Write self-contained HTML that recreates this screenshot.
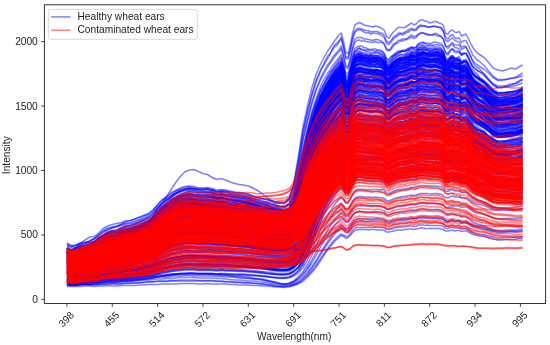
<!DOCTYPE html><html><head><meta charset="utf-8"><style>html,body{margin:0;padding:0;background:#fff;}svg{display:block;filter:blur(0.35px);}</style></head><body><svg width="550" height="345" viewBox="0 0 550 345"><defs><clipPath id="c"><rect x="44.4" y="4.8" width="501.2" height="298.7"/></clipPath></defs><g clip-path="url(#c)"><g transform="translate(66.9000 0) scale(2.2675 0.5)" fill="none" stroke="#0000ff" stroke-opacity="0.5" stroke-width="1.50" stroke-linejoin="round"><path vector-effect="non-scaling-stroke" d="M0 498l2 5 2-3 2-4 2-3 2-2 2-4 2-9 2-5 2-4 2-3 2 0 2-3 2-4 2 0 2-4 2-2 2-4 2-5 2-7 2-10 2-9 2-6 2-8 2-6 2-3 2-4 2-2 2 1 2 1 2 1 2-2 2 2 2 3 2-1 2 1 2 3 2 1 2 2 2 2 2 2 2 4 2 2 2 2 2 2 2 4 2 2 2 2 2 1 2-3 2-18 2-34 2-50 2-42 2-34 2-29 2-22 2-18 1-7 1-9 1-7 1-7 1-5 1-5 1-7 1 16 1 18 1 2 1-16 1-20 1-14 1-4 1-2 1 0 1 3 1 0 1 1 1-2 1 2 1 1 1-1 1-1 1 2 1 4 1 10 1 3 1-4 1-7 1-3 1-3 1-3 1 1 1 0 1-3 1-1 1-2 1 1 1-1 1-5 1 0 1-1 1 1 1 1 1 1 1 0 1 1 1 0 1 2 1 2 1 5 1 14 1 3 1-5 1-2 1 5 1 0 1 2 1 8 1-3 1 0 1 8 1 11 1 8 1 5 1 4 1 2 2 6 2 10 2 9 2 6 2 0 2-3 2 0 2-3 2-4 1-3"/><path vector-effect="non-scaling-stroke" d="M0 568l2 2 2 0 2-2 2 0 2 0 2-2 2-1 2-1 2-1 2 0 2 0 2-1 2-1 2 0 2-1 2-1 2-1 2-1 2-2 2-2 2-1 2-2 2-1 2-1 2-1 2 0 2-1 2 1 2 0 2 0 2 0 2 0 2 1 2-1 2 0 2 1 2 0 2 0 2 0 2 1 2 1 2 1 2 0 2 1 2 2 2 1 2 0 2 0 2-1 2-4 2-8 2-12 2-17 2-22 2-25 2-22 2-20 1-9 1-9 1-6 1-8 1-6 1-5 1-5 1 5 1 6 1 1 1-9 1-10 1-7 1-3 1 0 1-1 1 1 1 1 1 0 1 0 1 1 1-1 1-1 1 2 1 1 1 1 1 6 1 1 1-2 1-3 1-2 1-1 1-1 1 1 1-1 1 0 1-2 1-1 1 1 1-1 1-2 1-1 1 0 1 0 1 1 1 0 1 0 1-1 1 0 1 1 1 0 1 2 1 5 1 2 1-4 1-1 1 2 1 0 1-1 1 4 1-1 1-1 1 4 1 4 1 4 1 2 1 1 1 2 2 3 2 4 2 5 2 2 2 2 2-2 2 0 2-1 2-1 1-1"/><path vector-effect="non-scaling-stroke" d="M0 535l2 0 2 0 2-4 2-5 2-2 2-2 2-6 2-5 2-3 2-2 2-2 2-2 2-3 2-1 2-2 2-2 2-2 2-3 2-5 2-7 2-6 2-5 2-4 2-4 2-2 2-2 2-1 2 1 2 1 2 1 2-1 2 1 2 2 2-2 2 2 2 0 2 1 2 1 2 1 2 2 2 1 2 2 2 2 2 1 2 2 2 2 2 1 2 1 2-1 2-10 2-20 2-31 2-43 2-33 2-28 2-25 2-21 1-7 1-9 1-7 1-8 1-5 1-5 1-6 1 12 1 14 1 1 1-14 1-16 1-12 1-2 1-4 1 3 1 0 1 0 1 0 1 1 1-2 1 2 1 0 1-1 1 2 1 1 1 9 1 0 1-2 1-6 1-3 1-3 1-2 1 0 1-2 1-1 1-2 1-2 1 1 1-1 1-5 1-1 1-1 1 1 1 2 1 1 1 0 1 0 1 1 1 1 1 0 1 5 1 10 1 2 1-4 1-3 1 4 1 1 1-1 1 8 1-3 1-2 1 8 1 8 1 7 1 3 1 4 1 1 2 6 2 8 2 7 2 5 2 0 2-2 2-1 2-1 2-2 1-3"/><path vector-effect="non-scaling-stroke" d="M0 513l2 3 2-3 2-4 2-1 2-2 2-4 2-7 2-6 2-3 2-3 2 0 2-3 2-2 2-1 2-2 2-2 2-2 2-2 2-4 2-7 2-5 2-4 2-5 2-3 2-3 2-2 2-1 2 2 2 1 2 1 2-1 2 2 2 2 2-1 2 1 2 1 2 1 2 2 2 1 2 1 2 3 2 2 2 2 2 1 2 2 2 2 2 2 2 0 2-2 2-13 2-25 2-40 2-46 2-33 2-32 2-26 2-19 1-10 1-7 1-7 1-8 1-6 1-7 1-5 1 13 1 16 1 3 1-16 1-17 1-13 1-4 1 0 1 0 1 1 1 3 1-1 1 2 1-1 1 0 1 0 1 1 1 2 1 4 1 9 1 1 1-3 1-5 1-3 1-3 1-2 1 0 1 1 1-3 1-2 1-2 1 1 1 1 1-5 1-2 1-1 1 2 1 1 1 1 1-2 1 0 1 0 1 1 1 2 1 5 1 11 1 2 1-5 1-3 1 5 1 1 1 0 1 8 1-3 1-2 1 8 1 9 1 8 1 4 1 4 1 2 2 6 2 9 2 7 2 5 2 1 2-2 2-1 2-2 2-3 1-2"/><path vector-effect="non-scaling-stroke" d="M0 496l2 5 2-1 2-4 2-1 2-4 2-2 2-5 2-5 2-2 2-1 2-1 2-3 2-3 2 0 2-4 2-4 2-5 2-4 2-9 2-12 2-10 2-8 2-9 2-5 2-6 2-3 2-3 2 2 2 1 2 0 2 0 2 2 2 3 2-1 2 2 2 1 2 2 2 2 2 1 2 3 2 3 2 2 2 3 2 2 2 2 2 2 2 1 2 2 2-4 2-17 2-34 2-49 2-42 2-35 2-30 2-23 2-19 1-7 1-7 1-7 1-7 1-6 1-6 1-4 1 16 1 19 1 0 1-15 1-19 1-13 1-4 1-1 1 2 1 2 1-1 1 4 1-3 1 2 1 2 1 0 1 0 1 2 1 4 1 10 1 3 1-4 1-5 1-5 1-1 1-2 1-2 1 1 1-2 1-2 1-3 1 1 1-1 1-3 1-3 1-2 1 4 1 1 1 0 1-1 1-1 1-1 1 2 1 3 1 7 1 12 1 4 1-3 1-3 1 6 1 1 1 2 1 8 1-2 1 1 1 10 1 8 1 10 1 6 1 4 1 5 2 8 2 10 2 10 2 5 2 0 2-1 2-1 2-2 2-4 1-1"/><path vector-effect="non-scaling-stroke" d="M0 509l2 0 2-1 2-2 2-1 2-2 2-3 2-6 2-6 2-4 2-2 2 0 2-3 2-2 2-1 2-3 2-2 2-3 2-3 2-6 2-8 2-7 2-6 2-6 2-4 2-4 2-2 2-2 2 1 2 1 2 0 2-1 2 1 2 2 2-1 2 1 2 1 2 1 2 1 2 1 2 2 2 3 2 3 2 2 2 1 2 3 2 2 2 1 2 1 2-3 2-14 2-28 2-42 2-46 2-34 2-29 2-27 2-19 1-7 1-10 1-6 1-8 1-5 1-5 1-6 1 14 1 17 1 2 1-16 1-19 1-13 1-2 1-1 1 1 1 4 1-1 1 0 1 0 1 1 1 0 1 2 1 1 1 0 1 4 1 10 1 1 1-6 1-3 1-4 1-5 1 1 1-1 1-1 1-2 1-2 1-2 1 1 1-1 1-5 1-1 1-2 1 2 1 1 1 1 1 0 1-1 1 1 1 1 1 3 1 5 1 14 1 2 1-4 1-1 1 4 1 3 1 1 1 9 1-1 1 0 1 9 1 9 1 9 1 6 1 5 1 3 2 6 2 13 2 8 2 4 2 1 2-1 2-1 2-2 2-4 1-3"/><path vector-effect="non-scaling-stroke" d="M0 540l2 1 2 0 2-2 2-2 2-1 2-2 2-4 2-4 2-1 2-2 2 0 2-1 2-3 2-2 2-2 2-2 2-3 2-4 2-5 2-7 2-6 2-6 2-5 2-3 2-3 2-2 2-2 2 1 2 1 2 0 2-1 2 2 2 2 2-1 2 0 2 2 2 1 2 2 2 0 2 2 2 2 2 2 2 1 2 2 2 1 2 2 2 1 2 1 2-1 2-8 2-14 2-23 2-33 2-33 2-27 2-25 2-22 1-8 1-8 1-8 1-8 1-6 1-4 1-6 1 10 1 13 1-1 1-11 1-16 1-10 1-3 1 0 1 1 1 1 1 1 1 1 1-1 1 0 1 0 1 1 1 1 1 0 1 4 1 7 1 2 1-3 1-4 1-2 1-2 1-2 1 0 1-1 1 0 1-2 1-3 1 2 1 0 1-4 1-1 1 0 1 1 1 0 1 1 1-1 1 0 1 0 1 0 1 0 1 3 1 10 1 2 1-6 1-2 1 3 1 1 1-1 1 6 1-3 1-1 1 5 1 7 1 7 1 3 1 2 1 2 2 5 2 6 2 8 2 3 2 0 2 1 2-1 2-2 2-3 1-1"/><path vector-effect="non-scaling-stroke" d="M0 527l2 1 2-1 2-4 2-3 2-3 2-2 2-5 2-5 2-3 2-3 2 0 2-3 2-4 2 0 2-3 2-3 2-3 2-3 2-5 2-7 2-7 2-6 2-5 2-4 2-3 2-1 2-1 2 1 2 1 2 1 2 0 2 0 2 3 2-1 2 1 2 2 2 1 2 2 2 0 2 2 2 3 2 2 2 1 2 2 2 1 2 2 2 1 2 1 2-3 2-11 2-21 2-35 2-45 2-33 2-29 2-26 2-19 1-9 1-8 1-7 1-8 1-6 1-4 1-6 1 14 1 15 1 0 1-14 1-17 1-11 1-3 1-1 1 1 1 2 1-1 1 2 1 0 1 0 1-1 1 1 1 1 1 1 1 3 1 9 1 3 1-5 1-5 1-1 1-5 1-1 1-2 1 1 1-1 1-3 1-2 1 2 1-2 1-3 1-2 1-1 1 1 1 0 1 1 1 0 1 0 1 0 1 1 1 1 1 5 1 10 1 4 1-5 1-1 1 2 1 1 1 0 1 6 1-2 1 1 1 7 1 6 1 8 1 5 1 3 1 4 2 4 2 7 2 9 2 5 2 0 2-2 2-1 2-1 2-3 1-2"/><path vector-effect="non-scaling-stroke" d="M0 503l2 5 2-1 2-4 2-2 2-1 2-4 2-7 2-4 2-3 2-2 2-1 2-2 2-4 2-1 2-3 2-2 2-4 2-4 2-7 2-8 2-8 2-6 2-7 2-4 2-4 2-2 2-1 2 1 2 1 2 1 2 0 2 1 2 3 2 0 2 1 2 2 2 2 2 1 2 1 2 3 2 3 2 2 2 2 2 2 2 2 2 3 2 1 2 1 2-3 2-13 2-28 2-41 2-45 2-34 2-29 2-24 2-21 1-7 1-9 1-6 1-8 1-6 1-3 1-8 1 13 1 20 1 0 1-15 1-19 1-12 1-5 1 0 1 0 1 2 1 1 1 0 1 1 1 0 1-1 1 2 1 1 1 2 1 3 1 9 1 2 1-4 1-5 1-3 1-3 1-2 1-3 1 2 1-3 1-2 1-2 1 2 1-1 1-4 1-4 1-1 1 2 1 2 1 0 1 0 1 0 1-1 1 2 1 3 1 4 1 13 1 5 1-6 1-1 1 5 1 1 1 2 1 8 1-1 1 0 1 8 1 10 1 8 1 7 1 4 1 2 2 7 2 11 2 9 2 5 2 0 2-2 2-2 2-1 2-3 1-3"/><path vector-effect="non-scaling-stroke" d="M0 540l2 2 2 0 2-4 2-2 2-1 2-3 2-3 2-3 2-2 2-2 2-1 2-2 2-3 2-1 2-2 2-3 2-4 2-3 2-6 2-7 2-7 2-5 2-5 2-4 2-3 2-2 2-1 2 1 2 0 2 1 2-1 2 1 2 2 2 0 2 1 2 1 2 2 2 0 2 2 2 1 2 2 2 3 2 1 2 1 2 2 2 1 2 2 2 1 2-2 2-9 2-17 2-27 2-38 2-36 2-28 2-26 2-20 1-9 1-9 1-8 1-7 1-7 1-6 1-5 1 11 1 15 1-1 1-13 1-15 1-13 1-1 1-2 1 0 1 1 1 1 1-1 1 1 1 0 1 0 1 1 1-1 1 1 1 4 1 8 1 2 1-5 1-3 1-3 1-4 1-1 1 0 1 0 1-2 1-1 1-3 1 0 1 2 1-5 1-3 1 0 1 2 1 1 1 0 1 1 1-1 1 0 1 1 1 1 1 7 1 10 1 3 1-4 1-1 1 4 1 1 1 2 1 7 1-2 1 1 1 6 1 8 1 9 1 4 1 4 1 2 2 7 2 8 2 7 2 4 2 1 2-2 2 0 2-2 2-3 1-2"/><path vector-effect="non-scaling-stroke" d="M0 504l2 3 2-3 2-3 2-2 2-2 2-3 2-7 2-5 2-3 2-2 2 0 2-4 2-1 2-1 2-2 2-4 2-3 2-4 2-7 2-9 2-9 2-6 2-7 2-5 2-5 2-3 2-2 2 1 2 2 2 0 2 0 2 1 2 3 2-1 2 2 2 2 2 0 2 2 2 1 2 2 2 3 2 3 2 2 2 2 2 3 2 2 2 2 2 2 2-4 2-16 2-33 2-49 2-45 2-36 2-29 2-24 2-20 1-7 1-8 1-7 1-8 1-4 1-5 1-8 1 16 1 18 1 3 1-17 1-18 1-14 1-3 1-2 1 1 1 1 1 2 1 0 1 2 1-1 1 0 1 0 1 1 1 1 1 5 1 11 1 2 1-6 1-4 1-3 1-5 1 1 1-1 1-1 1-1 1-2 1-4 1 4 1-2 1-2 1-2 1-1 1 2 1-1 1 2 1 2 1-1 1 0 1 1 1 1 1 6 1 14 1 4 1-4 1-2 1 6 1 1 1 2 1 10 1-3 1 2 1 8 1 10 1 10 1 7 1 4 1 4 2 8 2 12 2 10 2 5 2 0 2-1 2 0 2-4 2-1 1-4"/><path vector-effect="non-scaling-stroke" d="M0 560l2 0 2-1 2-1 2-2 2-2 2-1 2-3 2-2 2-1 2-2 2-1 2-1 2-1 2-1 2-2 2-1 2-2 2-3 2-3 2-4 2-4 2-3 2-3 2-3 2-1 2-1 2-1 2 0 2 1 2 0 2 0 2 1 2 0 2 0 2 0 2 1 2 1 2 0 2 1 2 0 2 1 2 2 2 0 2 1 2 1 2 0 2 0 2 0 2-2 2-6 2-12 2-20 2-29 2-35 2-27 2-26 2-21 1-9 1-9 1-7 1-8 1-5 1-6 1-6 1 10 1 11 1 0 1-11 1-13 1-9 1-4 1 0 1 0 1 1 1 0 1 1 1 0 1 0 1 0 1 0 1 1 1 1 1 2 1 6 1 2 1-3 1-4 1-3 1-2 1-1 1 0 1 0 1-2 1-2 1-1 1 1 1-1 1-3 1-2 1 1 1 0 1 1 1 0 1-1 1 0 1-1 1 1 1 2 1 2 1 9 1 0 1-2 1-3 1 2 1 1 1 1 1 4 1-2 1 0 1 4 1 7 1 5 1 3 1 3 1 1 2 5 2 6 2 6 2 4 2 0 2-1 2-2 2 0 2-2 1-2"/><path vector-effect="non-scaling-stroke" d="M0 520l2 2 2-1 2-1 2-2 2-3 2-2 2-3 2-4 2-4 2-1 2 0 2-2 2-3 2-1 2-3 2-2 2-4 2-3 2-7 2-8 2-7 2-6 2-7 2-4 2-4 2-3 2-1 2 1 2 1 2-1 2 0 2 2 2 2 2-1 2 1 2 2 2 1 2 2 2 1 2 1 2 3 2 2 2 2 2 1 2 2 2 2 2 1 2 1 2-2 2-12 2-22 2-35 2-45 2-32 2-30 2-24 2-19 1-10 1-7 1-8 1-5 1-7 1-6 1-5 1 12 1 15 1 2 1-14 1-18 1-12 1-4 1-2 1 2 1 0 1 1 1 0 1 0 1-1 1 0 1 0 1 1 1 0 1 4 1 9 1 1 1-4 1-5 1-3 1-3 1-3 1 0 1 0 1-2 1-3 1-3 1 2 1-2 1-5 1-1 1-1 1 1 1 1 1-1 1 2 1 0 1 0 1-2 1 3 1 4 1 12 1 2 1-7 1-2 1 3 1 1 1 2 1 4 1 0 1-1 1 6 1 9 1 8 1 5 1 3 1 3 2 5 2 9 2 9 2 3 2 2 2-3 2-1 2-1 2-4 1-2"/><path vector-effect="non-scaling-stroke" d="M0 566l2 0 2-1 2-1 2-1 2-1 2-2 2-2 2-2 2-2 2-1 2-1 2-1 2-1 2 0 2-1 2-2 2-1 2-1 2-3 2-2 2-3 2-2 2-2 2-2 2-1 2-1 2 0 2 0 2 1 2 0 2 0 2 0 2 1 2 0 2 0 2 1 2 0 2 1 2 0 2 1 2 1 2 1 2 0 2 1 2 2 2 1 2 0 2 0 2-1 2-5 2-10 2-15 2-23 2-28 2-28 2-24 2-21 1-10 1-8 1-9 1-7 1-6 1-5 1-6 1 7 1 9 1 0 1-10 1-12 1-8 1-2 1-2 1 1 1 0 1 0 1 1 1 0 1 0 1 0 1 0 1 0 1 1 1 2 1 6 1 1 1-3 1-3 1-2 1-2 1 1 1-2 1 0 1-1 1-1 1-2 1 1 1 0 1-2 1-2 1 0 1 2 1 0 1 0 1 0 1-1 1 2 1 0 1 0 1 4 1 8 1 1 1-3 1-2 1 4 1 0 1 1 1 4 1-1 1 0 1 5 1 6 1 5 1 3 1 1 1 3 2 3 2 6 2 4 2 3 2 1 2-1 2 0 2-2 2-1 1-1"/><path vector-effect="non-scaling-stroke" d="M0 520l2 3 2-2 2-5 2-1 2-2 2-5 2-8 2-5 2-3 2-1 2 0 2-4 2-1 2-1 2-3 2-3 2-3 2-3 2-6 2-7 2-7 2-5 2-6 2-3 2-3 2-2 2-1 2 1 2 2 2 0 2 0 2 1 2 3 2 0 2 1 2 1 2 2 2 1 2 2 2 1 2 2 2 3 2 1 2 2 2 2 2 1 2 2 2 1 2-2 2-14 2-24 2-37 2-46 2-35 2-28 2-26 2-20 1-9 1-8 1-7 1-7 1-7 1-5 1-4 1 11 1 18 1 0 1-14 1-19 1-11 1-2 1-4 1 2 1 2 1 2 1-1 1 0 1 1 1 0 1 0 1 0 1 1 1 5 1 8 1 2 1-4 1-5 1-4 1-2 1 0 1-1 1 0 1-2 1-1 1-3 1 3 1-1 1-4 1-2 1 0 1 1 1 1 1 1 1-1 1 1 1 0 1 0 1 2 1 4 1 9 1 4 1-7 1-3 1 5 1-1 1 0 1 6 1-2 1-2 1 7 1 9 1 7 1 5 1 2 1 2 2 6 2 7 2 10 2 4 2 0 2-1 2 0 2-3 2-2 1-3"/><path vector-effect="non-scaling-stroke" d="M0 514l2 2 2-3 2-2 2-1 2-1 2-4 2-5 2-4 2-2 2-2 2 0 2-3 2-2 2-1 2-3 2-3 2-3 2-4 2-6 2-9 2-7 2-7 2-6 2-4 2-3 2-3 2-2 2 0 2 2 2 1 2-1 2 1 2 3 2-1 2 0 2 3 2 1 2 1 2 2 2 2 2 2 2 3 2 2 2 1 2 2 2 2 2 1 2 1 2-2 2-14 2-26 2-40 2-47 2-34 2-30 2-25 2-21 1-8 1-8 1-9 1-7 1-6 1-6 1-6 1 12 1 19 1-1 1-14 1-19 1-13 1-3 1-3 1 1 1 2 1 1 1 0 1 1 1 0 1-1 1 0 1 2 1 2 1 3 1 10 1 2 1-4 1-5 1-3 1-2 1-2 1 0 1-1 1-1 1-2 1-2 1 0 1 0 1-4 1-1 1 0 1 1 1 1 1 1 1-1 1 0 1 0 1 0 1 1 1 4 1 11 1 2 1-6 1-2 1 4 1 1 1-1 1 8 1-4 1-1 1 8 1 10 1 7 1 4 1 5 1 1 2 7 2 7 2 10 2 6 2 1 2-1 2 0 2-3 2-1 1-3"/><path vector-effect="non-scaling-stroke" d="M0 530l2 3 2-4 2-7 2-1 2-2 2-3 2-4 2-4 2-3 2-2 2-1 2-3 2-2 2-2 2-2 2-3 2-3 2-4 2-5 2-9 2-7 2-5 2-6 2-3 2-3 2-2 2-2 2 1 2 1 2 0 2 1 2 0 2 3 2-1 2 1 2 2 2 1 2 1 2 2 2 2 2 3 2 2 2 1 2 2 2 2 2 2 2 1 2 2 2-2 2-12 2-22 2-37 2-45 2-35 2-29 2-26 2-21 1-9 1-8 1-7 1-8 1-5 1-6 1-7 1 13 1 16 1 2 1-15 1-17 1-12 1-4 1-2 1 2 1 1 1 0 1 3 1-1 1 0 1-1 1 2 1 0 1 0 1 4 1 11 1-1 1-3 1-4 1-3 1-1 1-4 1 0 1-1 1-1 1-2 1-1 1 1 1-1 1-4 1-3 1 1 1 1 1 1 1 1 1 0 1 1 1 0 1-1 1 2 1 5 1 11 1 2 1-5 1-4 1 6 1 0 1 0 1 7 1-3 1-1 1 8 1 7 1 8 1 4 1 4 1 1 2 4 2 8 2 9 2 5 2-1 2 0 2-2 2-1 2-4 1-3"/><path vector-effect="non-scaling-stroke" d="M0 515l2 5 2 0 2-5 2-4 2-3 2-2 2-7 2-7 2-3 2-1 2-1 2-3 2-4 2 0 2-2 2-3 2-3 2-3 2-5 2-8 2-7 2-5 2-6 2-3 2-4 2-3 2-1 2 1 2 1 2 1 2-1 2 1 2 3 2-1 2 2 2 1 2 2 2 1 2 1 2 2 2 2 2 2 2 2 2 1 2 2 2 1 2 2 2 0 2-3 2-13 2-24 2-38 2-44 2-33 2-29 2-25 2-20 1-7 1-9 1-7 1-8 1-7 1-4 1-7 1 14 1 17 1 0 1-15 1-18 1-12 1-3 1-3 1 0 1 2 1 1 1 0 1 1 1 0 1-1 1 1 1 1 1 2 1 2 1 11 1 2 1-5 1-4 1-3 1-2 1 0 1-2 1 0 1-1 1-2 1-2 1 3 1 0 1-5 1-2 1 2 1 1 1 0 1 1 1 1 1 0 1 0 1 0 1 1 1 8 1 10 1 4 1-7 1-1 1 5 1-1 1 1 1 7 1-2 1 0 1 7 1 9 1 8 1 5 1 2 1 5 2 5 2 10 2 7 2 5 2 0 2 0 2-3 2 0 2-4 1-3"/><path vector-effect="non-scaling-stroke" d="M0 497l2 5 2-5 2-6 2 0 2-1 2-5 2-8 2-6 2-4 2-3 2 1 2-3 2-4 2-1 2-3 2-2 2-4 2-4 2-8 2-10 2-9 2-7 2-8 2-5 2-4 2-3 2-2 2 1 2 2 2 0 2 0 2 1 2 4 2-1 2 2 2 2 2 2 2 2 2 2 2 2 2 3 2 3 2 3 2 2 2 2 2 3 2 2 2 1 2-3 2-18 2-33 2-50 2-42 2-35 2-29 2-24 2-19 1-7 1-10 1-6 1-7 1-7 1-4 1-8 1 16 1 19 1 2 1-18 1-18 1-15 1-4 1-2 1 3 1 1 1 3 1 0 1 0 1 1 1 1 1-1 1 2 1 1 1 5 1 10 1 3 1-5 1-5 1-4 1-1 1-1 1-1 1-1 1-2 1-1 1-3 1 2 1-1 1-4 1-2 1-1 1 2 1 1 1-2 1 2 1-1 1 0 1 1 1 0 1 5 1 12 1 1 1-5 1-5 1 6 1 0 1-1 1 7 1-4 1 2 1 6 1 8 1 10 1 4 1 4 1 1 2 7 2 9 2 9 2 5 2-1 2-1 2-1 2-3 2-2 1-6"/><path vector-effect="non-scaling-stroke" d="M0 562l2 1 2 0 2 0 2 0 2 0 2 0 2 0 2-1 2-1 2 0 2 0 2-1 2-1 2 0 2-1 2 0 2-1 2-1 2-1 2-1 2 0 2 0 2-1 2-1 2 0 2-1 2 0 2 1 2 0 2 0 2 0 2 0 2 1 2 0 2 1 2 0 2 1 2 1 2 1 2 0 2 1 2 1 2 1 2 2 2 2 2 2 2 2 2 1 2-1 2-4 2-6 2-7 2-11 2-14 2-16 2-17 2-16 1-7 1-7 1-6 1-6 1-5 1-5 1-4 1 3 1 5 1 0 1-7 1-7 1-5 1-2 1-1 1 0 1 1 1 0 1 0 1 0 1 0 1-1 1 1 1 0 1 1 1 0 1 5 1 0 1-2 1-2 1 0 1-1 1-1 1 0 1 0 1-2 1 0 1-1 1 1 1-1 1-1 1-1 1-1 1 1 1 1 1 0 1 0 1 0 1-1 1 1 1 1 1 2 1 5 1 1 1-1 1 0 1 1 1 1 1 1 1 3 1 0 1 0 1 3 1 4 1 3 1 2 1 2 1 1 2 3 2 4 2 3 2 2 2 0 2-1 2 0 2 0 2-2 1 0"/><path vector-effect="non-scaling-stroke" d="M0 570l2 1 2 0 2-2 2 0 2 0 2-1 2-1 2-2 2-1 2 0 2 0 2-1 2-1 2 0 2-1 2-1 2-1 2-1 2-2 2-2 2-2 2-1 2-2 2-1 2-1 2 0 2-1 2 0 2 1 2 0 2 0 2 0 2 1 2-1 2 1 2 0 2 1 2 0 2 0 2 1 2 0 2 1 2 1 2 1 2 1 2 1 2 1 2 0 2-2 2-5 2-7 2-13 2-18 2-23 2-26 2-22 2-20 1-9 1-8 1-8 1-7 1-6 1-5 1-5 1 5 1 8 1-1 1-8 1-11 1-7 1-2 1-2 1 1 1 0 1 0 1 0 1 0 1 1 1-1 1 0 1 1 1 0 1 2 1 5 1 1 1-2 1-3 1-2 1-1 1-1 1 0 1 0 1-1 1 0 1-2 1 0 1 0 1-2 1-1 1 0 1 0 1 1 1-1 1 1 1 0 1-2 1 1 1 1 1 2 1 5 1 1 1-3 1-1 1 1 1 0 1 0 1 3 1-2 1 0 1 4 1 4 1 4 1 2 1 1 1 2 2 2 2 4 2 5 2 3 2 0 2 0 2-1 2-1 2-2 1-1"/><path vector-effect="non-scaling-stroke" d="M0 528l2 5 2-1 2-5 2-2 2-1 2-2 2-5 2-5 2-2 2-1 2-1 2-3 2-2 2-1 2-2 2-3 2-3 2-3 2-5 2-8 2-6 2-5 2-6 2-4 2-2 2-3 2-1 2 0 2 1 2 1 2-1 2 1 2 2 2-1 2 1 2 1 2 1 2 2 2 0 2 2 2 2 2 2 2 1 2 2 2 1 2 2 2 0 2 1 2-3 2-11 2-22 2-34 2-45 2-33 2-29 2-25 2-21 1-8 1-9 1-7 1-8 1-5 1-6 1-6 1 12 1 16 1 0 1-13 1-17 1-12 1-5 1-1 1 1 1 2 1-1 1 2 1 1 1 0 1-1 1 0 1 1 1 0 1 3 1 10 1 1 1-3 1-5 1-3 1-2 1-2 1 0 1 1 1-4 1-1 1-2 1 1 1 0 1-4 1-3 1 1 1 1 1 1 1 1 1-1 1-1 1 2 1 0 1 3 1 3 1 13 1 4 1-4 1-3 1 5 1 2 1 0 1 7 1-1 1 0 1 8 1 10 1 7 1 5 1 3 1 3 2 6 2 10 2 9 2 5 2 0 2-1 2 0 2-1 2-2 1-2"/><path vector-effect="non-scaling-stroke" d="M0 536l2 1 2-1 2-3 2 0 2-4 2-3 2-4 2-5 2-2 2-3 2-1 2-2 2-2 2-2 2-2 2-2 2-3 2-3 2-5 2-6 2-6 2-5 2-5 2-3 2-2 2-2 2-1 2 1 2 1 2 0 2-1 2 2 2 1 2-1 2 0 2 2 2 1 2 0 2 1 2 1 2 2 2 1 2 1 2 2 2 1 2 1 2 2 2 0 2-2 2-8 2-18 2-27 2-38 2-34 2-27 2-24 2-20 1-9 1-7 1-8 1-5 1-7 1-6 1-5 1 10 1 15 1 0 1-13 1-16 1-12 1-1 1-2 1 1 1 0 1 1 1-1 1 1 1 0 1-1 1-1 1 0 1 2 1 2 1 9 1 1 1-4 1-4 1-5 1-2 1-2 1-1 1 0 1-1 1-3 1-1 1 1 1 0 1-3 1-4 1 0 1 2 1 1 1-1 1 2 1-1 1 1 1 0 1 2 1 5 1 11 1 3 1-4 1-2 1 4 1 1 1 1 1 6 1-1 1 1 1 6 1 8 1 6 1 6 1 3 1 2 2 6 2 7 2 9 2 4 2 1 2-1 2-1 2-1 2-1 1-1"/><path vector-effect="non-scaling-stroke" d="M0 544l2 2 2-1 2-2 2 0 2-1 2-3 2-2 2-4 2 0 2-2 2-1 2-2 2-1 2-1 2-2 2-3 2-2 2-4 2-4 2-6 2-6 2-4 2-4 2-4 2-2 2-2 2-1 2 0 2 2 2 0 2-1 2 1 2 1 2 0 2 0 2 1 2 1 2 1 2 1 2 1 2 2 2 0 2 1 2 1 2 1 2 1 2 1 2 0 2-2 2-7 2-15 2-23 2-34 2-35 2-27 2-25 2-21 1-9 1-8 1-7 1-7 1-6 1-6 1-5 1 10 1 12 1 1 1-13 1-13 1-11 1-3 1-1 1 2 1 0 1-1 1 1 1 1 1-1 1 1 1 0 1 0 1 0 1 4 1 7 1 2 1-4 1-5 1-2 1-2 1-2 1 0 1-1 1 0 1-2 1-3 1 1 1 0 1-4 1-2 1 0 1 2 1 0 1 0 1 1 1-1 1 0 1 0 1 1 1 3 1 10 1 0 1-5 1-1 1 2 1-1 1 2 1 4 1-2 1-1 1 5 1 6 1 7 1 3 1 3 1 1 2 4 2 6 2 7 2 3 2 1 2-1 2-1 2-1 2-1 1-4"/><path vector-effect="non-scaling-stroke" d="M0 523l2 5 2-2 2-4 2-1 2-1 2-2 2-5 2-4 2-2 2-1 2 0 2-2 2-3 2 0 2-3 2-3 2-3 2-4 2-5 2-8 2-8 2-5 2-5 2-4 2-4 2-2 2-2 2 1 2 1 2 0 2-1 2 1 2 2 2-1 2 1 2 1 2 2 2 1 2 1 2 1 2 2 2 2 2 1 2 1 2 1 2 2 2 0 2 0 2-2 2-11 2-21 2-34 2-44 2-33 2-29 2-24 2-21 1-8 1-8 1-8 1-7 1-6 1-4 1-6 1 13 1 15 1 1 1-14 1-18 1-11 1-4 1-1 1 3 1 0 1 1 1 0 1 2 1-1 1 0 1 2 1 0 1-1 1 5 1 9 1 3 1-4 1-6 1-3 1-2 1-1 1-1 1 0 1-3 1-2 1-1 1 1 1 0 1-6 1-1 1 0 1 0 1 1 1 1 1 0 1-1 1-1 1 1 1 2 1 5 1 10 1 3 1-4 1-3 1 5 1 1 1-1 1 6 1 0 1-1 1 8 1 9 1 9 1 3 1 4 1 2 2 6 2 8 2 9 2 5 2 1 2-2 2 0 2-1 2-3 1-2"/><path vector-effect="non-scaling-stroke" d="M0 558l2 1 2 0 2-3 2-1 2-2 2-2 2-3 2-2 2-2 2-2 2-1 2-1 2-2 2-1 2-1 2-1 2-2 2-2 2-2 2-4 2-4 2-3 2-2 2-2 2-1 2-2 2 0 2 1 2 0 2 1 2 0 2 0 2 1 2 0 2 1 2 1 2 0 2 1 2 0 2 1 2 1 2 1 2 1 2 1 2 1 2 0 2 1 2 0 2-2 2-5 2-10 2-17 2-24 2-32 2-27 2-24 2-22 1-8 1-9 1-8 1-7 1-6 1-6 1-4 1 7 1 10 1 0 1-10 1-13 1-8 1-3 1 0 1 0 1 1 1 1 1 0 1 2 1-1 1 1 1 0 1 1 1 1 1 1 1 7 1 1 1-2 1-3 1-2 1-2 1-2 1-1 1 1 1-2 1 0 1-2 1 1 1-1 1-3 1-1 1 1 1-1 1 1 1 1 1-1 1 0 1 1 1 1 1 1 1 1 1 8 1 0 1-2 1-3 1 3 1-1 1 1 1 4 1-2 1 0 1 5 1 5 1 5 1 2 1 3 1 1 2 3 2 6 2 5 2 3 2 1 2-2 2 0 2-2 2-2 1-2"/><path vector-effect="non-scaling-stroke" d="M0 546l2 2 2 0 2-3 2-1 2-1 2-2 2-3 2-2 2-2 2 0 2-1 2-1 2-2 2-1 2-2 2-2 2-3 2-3 2-4 2-6 2-6 2-4 2-5 2-3 2-2 2-2 2-1 2 0 2 1 2 0 2 0 2 1 2 1 2 0 2 1 2 1 2 1 2 0 2 1 2 1 2 2 2 2 2 0 2 1 2 2 2 1 2 0 2 1 2-2 2-7 2-13 2-21 2-31 2-35 2-26 2-25 2-21 1-10 1-7 1-9 1-9 1-6 1-4 1-7 1 10 1 11 1 2 1-13 1-14 1-10 1-2 1-3 1 1 1 1 1 1 1-2 1 2 1-1 1 0 1 1 1 0 1 0 1 2 1 8 1 2 1-4 1-3 1-2 1-3 1-1 1 1 1-1 1-1 1-2 1-1 1 1 1-1 1-4 1 0 1-1 1 2 1 0 1 1 1 1 1-1 1-1 1 2 1 1 1 3 1 9 1 2 1-4 1-3 1 4 1 1 1-2 1 6 1-2 1 0 1 5 1 7 1 6 1 4 1 3 1 2 2 3 2 7 2 6 2 3 2 2 2-2 2-1 2-1 2-2 1-3"/><path vector-effect="non-scaling-stroke" d="M0 506l2 6 2-1 2-5 2-1 2-1 2-3 2-5 2-5 2-2 2-2 2-1 2-3 2-3 2 0 2-3 2-4 2-3 2-4 2-7 2-10 2-8 2-6 2-8 2-4 2-4 2-4 2-1 2 0 2 2 2 0 2-1 2 2 2 2 2-1 2 2 2 1 2 2 2 1 2 1 2 2 2 2 2 3 2 2 2 2 2 3 2 2 2 2 2 1 2-2 2-15 2-29 2-43 2-45 2-36 2-29 2-24 2-18 1-9 1-6 1-9 1-7 1-6 1-5 1-5 1 13 1 18 1 1 1-15 1-19 1-12 1-3 1-3 1 0 1 4 1 0 1 1 1 0 1 1 1 0 1 0 1 1 1 3 1 2 1 10 1 2 1-6 1-4 1-3 1-3 1-1 1-1 1-1 1-1 1-2 1-3 1 3 1-1 1-5 1 1 1-3 1 1 1 1 1 0 1 1 1-1 1 1 1 2 1 1 1 5 1 11 1 6 1-7 1-2 1 5 1 0 1 2 1 7 1-3 1 1 1 8 1 9 1 7 1 6 1 3 1 5 2 5 2 10 2 9 2 3 2 0 2-1 2-1 2-2 2-4 1-3"/><path vector-effect="non-scaling-stroke" d="M0 500l2-1 2 0 2-3 2-3 2-4 2-5 2-8 2-5 2-5 2-3 2 1 2-5 2-4 2 0 2-3 2-3 2-3 2-4 2-6 2-10 2-8 2-6 2-7 2-4 2-5 2-3 2-1 2 0 2 2 2 0 2 0 2 1 2 2 2 0 2 1 2 2 2 2 2 1 2 1 2 3 2 3 2 3 2 2 2 3 2 2 2 3 2 3 2 1 2-3 2-17 2-33 2-49 2-42 2-36 2-27 2-22 2-20 1-7 1-8 1-6 1-7 1-6 1-6 1-6 1 16 1 19 1 1 1-15 1-21 1-13 1-3 1-2 1 1 1 2 1 1 1 2 1 0 1 0 1 1 1-1 1 2 1 2 1 2 1 11 1 2 1-5 1-5 1-2 1-4 1-3 1 0 1 1 1-4 1-2 1-2 1 1 1-1 1-4 1-1 1-1 1 0 1 1 1 1 1 0 1 0 1 0 1-1 1 4 1 4 1 13 1 2 1-5 1-4 1 5 1 1 1 1 1 8 1-4 1 0 1 8 1 9 1 9 1 4 1 3 1 3 2 7 2 9 2 9 2 4 2 1 2-2 2-1 2-2 2-4 1-1"/><path vector-effect="non-scaling-stroke" d="M0 502l2 3 2-3 2-4 2-4 2-5 2-5 2-6 2-8 2-6 2-3 2-1 2-3 2-4 2-2 2-3 2-4 2-4 2-5 2-7 2-12 2-9 2-8 2-7 2-5 2-5 2-2 2-2 2 2 2 2 2 1 2 0 2 1 2 4 2-2 2 3 2 1 2 2 2 2 2 1 2 2 2 4 2 3 2 2 2 3 2 3 2 2 2 3 2 1 2-3 2-21 2-38 2-55 2-41 2-36 2-28 2-25 2-17 1-8 1-5 1-9 1-5 1-6 1-6 1-6 1 17 1 20 1 1 1-17 1-20 1-13 1-3 1-2 1 0 1 3 1 1 1 3 1 0 1-1 1 0 1 2 1 0 1 2 1 5 1 11 1 1 1-6 1-4 1-3 1-4 1 0 1-2 1 0 1-2 1-2 1-2 1 2 1-1 1-6 1-1 1-2 1 1 1 3 1-1 1 1 1 0 1-1 1 1 1 1 1 4 1 12 1 3 1-7 1-5 1 7 1 0 1 0 1 6 1-4 1 0 1 7 1 10 1 9 1 3 1 5 1 2 2 5 2 10 2 9 2 5 2 0 2-1 2-3 2-1 2-5 1-2"/><path vector-effect="non-scaling-stroke" d="M0 567l2 0 2 0 2-1 2-2 2-1 2-1 2-1 2-2 2-1 2-1 2 0 2-1 2-1 2-1 2-1 2-1 2-1 2-1 2-2 2-2 2-3 2-2 2-1 2-2 2-1 2-1 2 0 2 0 2 0 2 1 2 0 2 0 2 1 2-1 2 1 2 0 2 1 2 0 2 1 2 0 2 1 2 1 2 1 2 1 2 1 2 2 2 0 2 0 2-1 2-4 2-8 2-13 2-19 2-24 2-26 2-23 2-21 1-8 1-9 1-8 1-7 1-5 1-6 1-6 1 7 1 8 1 0 1-10 1-10 1-7 1-3 1-2 1 2 1 0 1 1 1 0 1 0 1 0 1-1 1 1 1 0 1 1 1 3 1 5 1 1 1-3 1-2 1-1 1-2 1-1 1 0 1 0 1 0 1-1 1-3 1 1 1 0 1-2 1-1 1 0 1 1 1 0 1 0 1 1 1-1 1 0 1 1 1 0 1 3 1 6 1 2 1-4 1-1 1 1 1 1 1-1 1 4 1-1 1-1 1 4 1 4 1 5 1 2 1 1 1 2 2 3 2 4 2 5 2 2 2 0 2-1 2-1 2-1 2-2 1-2"/><path vector-effect="non-scaling-stroke" d="M0 555l2 0 2-1 2-3 2-1 2 0 2-2 2-3 2-2 2-3 2-1 2 0 2-2 2-1 2-1 2-2 2-1 2-3 2-2 2-4 2-5 2-4 2-4 2-3 2-2 2-3 2-1 2 0 2 0 2 1 2 0 2-1 2 1 2 1 2 0 2 0 2 1 2 1 2 0 2 1 2 1 2 1 2 1 2 1 2 1 2 1 2 1 2 1 2 1 2-1 2-6 2-11 2-17 2-27 2-33 2-25 2-24 2-21 1-9 1-9 1-8 1-7 1-6 1-5 1-5 1 8 1 11 1 1 1-12 1-13 1-9 1-2 1-1 1 1 1 0 1 1 1 0 1 0 1 0 1 0 1 0 1 1 1 1 1 3 1 6 1 2 1-4 1-3 1-2 1-2 1-1 1-1 1 0 1-1 1-1 1-1 1-1 1-1 1-2 1-1 1-1 1 2 1 0 1 0 1 0 1-1 1 0 1 1 1 0 1 4 1 8 1 1 1-4 1-2 1 4 1-1 1 0 1 5 1-2 1 0 1 5 1 6 1 6 1 3 1 3 1 2 2 3 2 5 2 8 2 3 2-1 2 0 2-1 2 0 2-3 1-2"/><path vector-effect="non-scaling-stroke" d="M0 504l2 3 2-3 2-4 2-3 2-4 2-3 2-7 2-5 2-4 2-4 2-2 2-3 2-3 2-1 2-3 2-3 2-2 2-3 2-7 2-9 2-7 2-7 2-6 2-5 2-5 2-3 2-1 2 1 2 2 2 0 2 0 2 1 2 3 2-1 2 1 2 2 2 1 2 2 2 1 2 1 2 4 2 2 2 3 2 2 2 3 2 2 2 2 2 1 2-2 2-17 2-31 2-47 2-43 2-35 2-28 2-22 2-20 1-8 1-8 1-8 1-6 1-7 1-5 1-7 1 16 1 20 1 0 1-16 1-21 1-12 1-4 1-1 1 0 1 2 1 1 1 1 1 1 1-2 1 1 1 2 1 0 1 0 1 6 1 9 1 2 1-7 1-2 1-5 1-1 1-4 1 1 1-1 1-1 1-3 1-3 1 2 1 0 1-6 1-2 1-2 1 2 1 1 1 1 1-2 1 0 1 0 1 0 1 2 1 5 1 13 1 4 1-5 1-2 1 4 1 1 1 3 1 7 1-3 1 2 1 8 1 9 1 9 1 6 1 4 1 5 2 7 2 11 2 10 2 5 2 2 2-1 2-1 2-1 2-3 1-3"/><path vector-effect="non-scaling-stroke" d="M0 504l2 4 2-1 2-6 2-3 2-5 2-3 2-6 2-6 2-3 2-2 2-2 2-4 2-3 2-1 2-2 2-3 2-2 2-3 2-5 2-8 2-8 2-5 2-6 2-4 2-4 2-1 2-2 2 1 2 2 2 0 2 0 2 1 2 3 2 0 2 1 2 1 2 1 2 1 2 2 2 2 2 3 2 2 2 2 2 2 2 2 2 2 2 3 2 0 2-2 2-16 2-30 2-45 2-44 2-34 2-30 2-24 2-18 1-7 1-8 1-8 1-5 1-6 1-7 1-5 1 16 1 18 1 0 1-14 1-18 1-11 1-5 1-2 1 3 1-1 1 3 1 0 1 0 1-1 1 1 1 0 1 1 1 1 1 2 1 10 1 2 1-5 1-5 1-3 1-5 1-1 1-1 1-2 1-1 1-3 1-4 1 4 1-3 1-7 1-1 1-1 1 1 1 0 1 1 1 0 1-2 1-1 1 3 1 0 1 6 1 9 1 4 1-4 1-4 1 6 1 0 1 0 1 8 1-2 1 0 1 9 1 9 1 10 1 4 1 5 1 3 2 6 2 11 2 9 2 5 2 2 2-1 2-2 2 0 2-3 1-3"/><path vector-effect="non-scaling-stroke" d="M0 525l2 4 2-1 2-3 2-3 2-2 2-2 2-3 2-6 2-2 2-2 2-1 2-2 2-3 2 0 2-3 2-2 2-4 2-3 2-6 2-7 2-7 2-5 2-6 2-4 2-3 2-2 2-2 2 1 2 2 2 1 2-1 2 2 2 2 2-1 2 2 2 1 2 1 2 2 2 1 2 1 2 3 2 2 2 1 2 2 2 2 2 2 2 1 2 0 2-2 2-11 2-20 2-34 2-45 2-34 2-29 2-26 2-22 1-8 1-9 1-7 1-8 1-6 1-6 1-6 1 14 1 14 1 2 1-14 1-17 1-10 1-3 1-2 1 1 1 2 1 0 1 1 1 2 1 0 1 0 1 1 1 1 1 0 1 4 1 9 1 2 1-4 1-4 1-3 1-2 1-1 1 0 1-2 1-1 1-3 1-1 1 1 1-1 1-5 1-1 1 0 1 1 1 1 1 0 1 0 1-1 1-1 1 2 1 2 1 4 1 11 1 3 1-3 1-3 1 5 1 1 1 0 1 7 1-1 1 0 1 7 1 8 1 8 1 5 1 3 1 3 2 6 2 8 2 8 2 4 2-1 2 0 2-2 2-2 2-3 1-1"/><path vector-effect="non-scaling-stroke" d="M0 526l2 2 2-1 2-3 2-4 2-3 2-2 2-7 2-6 2-3 2-1 2-2 2-3 2-3 2-1 2-2 2-3 2-2 2-3 2-5 2-8 2-6 2-6 2-5 2-4 2-2 2-3 2-1 2 1 2 2 2 0 2 0 2 1 2 2 2-1 2 2 2 1 2 1 2 2 2 1 2 2 2 2 2 2 2 1 2 2 2 2 2 2 2 1 2 2 2-2 2-12 2-22 2-36 2-46 2-33 2-28 2-26 2-21 1-7 1-9 1-7 1-7 1-6 1-4 1-6 1 13 1 15 1 2 1-14 1-17 1-11 1-5 1 0 1 0 1 1 1 2 1 0 1 0 1 2 1-3 1 0 1 3 1 2 1 1 1 11 1 1 1-4 1-5 1-3 1-3 1-2 1 0 1 0 1-4 1-2 1-1 1 0 1 0 1-5 1-1 1-2 1 1 1 2 1-1 1 0 1 0 1 0 1-1 1 2 1 4 1 10 1 3 1-6 1-5 1 4 1 1 1-1 1 7 1-3 1-1 1 5 1 11 1 6 1 3 1 2 1 3 2 4 2 10 2 7 2 4 2 0 2-1 2-2 2-2 2-3 1-1"/><path vector-effect="non-scaling-stroke" d="M0 502l2 4 2-4 2-4 2-2 2 0 2-3 2-8 2-5 2-3 2-2 2 0 2-4 2-4 2 0 2-2 2-4 2-4 2-3 2-7 2-10 2-8 2-6 2-7 2-5 2-4 2-2 2-1 2 1 2 1 2 1 2 0 2 2 2 3 2-1 2 1 2 3 2 2 2 1 2 1 2 3 2 2 2 3 2 3 2 2 2 3 2 2 2 2 2 1 2-2 2-16 2-31 2-46 2-45 2-36 2-29 2-25 2-18 1-10 1-7 1-7 1-7 1-7 1-5 1-6 1 13 1 19 1 1 1-16 1-19 1-14 1-3 1-2 1 3 1 1 1 1 1 1 1-1 1 1 1 2 1-2 1 3 1 1 1 4 1 11 1 2 1-6 1-4 1-4 1-3 1 1 1-2 1-1 1 0 1-4 1-2 1 3 1-3 1-5 1-1 1-1 1 2 1 1 1 1 1 0 1 0 1-1 1-1 1 3 1 3 1 13 1 2 1-8 1-3 1 6 1-2 1 2 1 8 1-4 1 0 1 6 1 8 1 9 1 5 1 4 1 2 2 5 2 8 2 9 2 4 2 1 2-2 2-2 2-2 2-5 1-3"/><path vector-effect="non-scaling-stroke" d="M0 565l2 2 2 0 2 0 2 0 2 0 2-1 2 0 2 0 2-1 2 0 2 0 2-1 2-1 2 0 2-1 2-1 2-1 2 0 2-1 2-1 2 0 2-1 2 0 2-1 2-1 2 0 2 0 2 0 2 1 2 0 2 0 2 0 2 1 2 0 2 1 2 1 2 1 2 0 2 1 2 1 2 0 2 1 2 1 2 1 2 2 2 2 2 1 2 1 2-1 2-3 2-5 2-7 2-9 2-12 2-14 2-16 2-14 1-7 1-7 1-6 1-5 1-5 1-5 1-4 1 3 1 4 1-1 1-6 1-6 1-5 1-2 1-1 1 1 1 0 1 0 1 0 1 0 1 0 1-1 1 0 1 1 1 0 1 2 1 2 1 1 1-1 1-2 1 0 1-2 1 0 1 0 1-1 1 1 1-1 1-1 1 1 1-1 1-1 1-1 1 0 1 1 1 0 1 0 1 0 1 1 1-1 1 1 1 0 1 2 1 4 1 1 1-2 1-1 1 2 1 0 1-1 1 3 1-1 1 0 1 3 1 2 1 3 1 1 1 1 1 1 2 2 2 3 2 3 2 1 2 0 2 0 2-1 2 0 2-1 1-1"/><path vector-effect="non-scaling-stroke" d="M0 542l2 1 2-1 2-4 2-3 2-1 2-2 2-4 2-5 2-3 2-1 2-1 2-3 2-2 2-1 2-3 2-2 2-2 2-3 2-4 2-6 2-5 2-5 2-4 2-3 2-2 2-2 2-1 2 1 2 1 2 0 2 0 2 1 2 1 2 0 2 0 2 2 2 1 2 0 2 1 2 1 2 2 2 2 2 1 2 1 2 1 2 1 2 1 2 1 2-2 2-8 2-15 2-24 2-34 2-34 2-27 2-25 2-21 1-10 1-8 1-8 1-8 1-6 1-5 1-7 1 11 1 13 1 0 1-12 1-14 1-12 1-3 1-1 1 1 1 1 1 0 1 0 1 1 1 0 1 0 1 2 1-1 1 2 1 2 1 8 1 1 1-3 1-3 1-3 1-3 1 0 1-2 1 0 1-1 1-2 1-2 1 1 1 1 1-4 1-3 1-1 1 2 1 2 1-2 1 1 1-1 1-1 1 1 1 2 1 4 1 10 1 3 1-5 1-2 1 4 1 0 1 0 1 6 1-1 1 0 1 6 1 8 1 6 1 5 1 2 1 3 2 5 2 8 2 7 2 4 2 1 2 0 2-1 2-1 2-3 1-1"/><path vector-effect="non-scaling-stroke" d="M0 505l2 3 2-3 2-3 2-4 2-3 2-2 2-4 2-4 2-4 2-2 2-2 2-3 2-3 2-1 2-3 2-3 2-3 2-4 2-6 2-9 2-9 2-6 2-7 2-5 2-4 2-3 2-2 2 1 2 2 2 0 2 0 2 1 2 3 2-1 2 1 2 2 2 1 2 2 2 1 2 2 2 3 2 3 2 2 2 2 2 2 2 3 2 1 2 1 2-2 2-17 2-30 2-46 2-43 2-35 2-29 2-24 2-18 1-8 1-7 1-8 1-8 1-5 1-4 1-8 1 16 1 17 1 2 1-16 1-19 1-14 1-2 1-3 1 0 1 2 1-1 1 0 1 1 1 1 1-2 1 0 1 0 1 2 1 3 1 10 1 3 1-7 1-5 1-3 1-3 1-3 1-1 1 2 1-3 1-2 1-2 1 2 1 0 1-5 1-1 1-1 1 2 1 1 1 2 1-1 1 0 1 0 1 2 1 2 1 5 1 12 1 1 1-5 1-3 1 4 1 1 1-1 1 7 1-2 1 0 1 5 1 10 1 8 1 4 1 5 1 2 2 5 2 8 2 11 2 4 2 0 2 0 2-1 2 0 2-2 1-3"/><path vector-effect="non-scaling-stroke" d="M0 536l2 3 2-1 2-5 2-2 2-1 2-3 2-5 2-4 2-4 2-1 2-1 2-4 2-2 2 0 2-3 2-2 2-3 2-3 2-4 2-6 2-5 2-5 2-5 2-2 2-3 2-1 2-1 2 1 2 1 2 1 2 0 2 1 2 2 2-1 2 1 2 2 2 1 2 1 2 1 2 1 2 2 2 2 2 1 2 1 2 1 2 1 2 1 2 0 2-2 2-9 2-18 2-29 2-40 2-34 2-29 2-25 2-21 1-10 1-7 1-9 1-6 1-7 1-5 1-6 1 11 1 16 1-1 1-14 1-16 1-10 1-4 1-2 1 1 1 3 1-1 1-1 1 2 1-1 1-1 1 0 1 2 1-1 1 5 1 8 1 1 1-4 1-3 1-4 1-2 1-1 1-2 1 1 1-1 1-2 1-3 1 4 1-2 1-4 1-3 1 0 1 3 1 1 1 0 1 0 1 1 1-1 1 1 1 3 1 3 1 12 1 2 1-5 1-2 1 5 1 1 1 1 1 8 1-4 1 0 1 8 1 8 1 6 1 5 1 3 1 3 2 5 2 7 2 9 2 4 2 1 2-2 2-1 2-2 2-1 1-2"/><path vector-effect="non-scaling-stroke" d="M0 500l2 0 2-4 2-5 2-4 2-2 2-1 2-6 2-5 2-2 2-2 2 0 2-5 2-4 2-2 2-4 2-3 2-4 2-4 2-11 2-14 2-12 2-13 2-14 2-14 2-12 2-9 2-4 2-1 2 4 2 4 2 2 2 6 2 4 2-2 2 3 2 4 2 3 2 2 2 1 2 2 2 4 2 5 2 6 2 7 2 7 2 4 2 2 2 0 2-9 2-25 2-46 2-58 2-40 2-37 2-29 2-22 2-17 1-7 1-8 1-8 1-7 1-3 1-7 1-6 1 18 1 21 1 1 1-17 1-21 1-15 1-4 1-2 1 2 1 3 1 2 1-1 1 3 1-2 1 1 1 0 1 2 1 2 1 5 1 11 1 2 1-5 1-6 1-4 1-3 1-3 1 2 1-3 1-2 1-2 1-4 1 2 1 0 1-6 1-3 1 1 1-1 1 2 1 0 1-1 1-1 1 1 1 1 1 1 1 7 1 12 1 4 1-6 1-3 1 6 1 2 1-1 1 9 1-4 1 0 1 9 1 10 1 10 1 5 1 5 1 3 2 8 2 11 2 11 2 6 2 0 2-1 2-1 2-1 2-3 1-1"/><path vector-effect="non-scaling-stroke" d="M0 512l2 3 2-1 2-2 2-4 2-2 2-5 2-4 2-5 2-3 2-2 2 0 2-2 2-3 2-2 2-3 2-4 2-3 2-7 2-7 2-10 2-9 2-8 2-7 2-5 2-5 2-3 2-1 2 1 2 1 2 1 2 0 2 1 2 2 2-1 2 2 2 2 2 1 2 1 2 1 2 2 2 3 2 3 2 2 2 1 2 3 2 2 2 2 2 1 2-3 2-17 2-31 2-48 2-44 2-35 2-29 2-23 2-20 1-8 1-8 1-7 1-6 1-6 1-7 1-7 1 16 1 18 1 2 1-16 1-20 1-13 1-5 1-1 1-1 1 3 1 0 1-1 1 3 1-2 1-1 1 2 1 1 1 1 1 3 1 10 1 3 1-6 1-5 1-2 1-4 1-2 1 1 1-1 1-3 1-1 1-1 1 1 1 0 1-7 1-1 1 1 1 1 1 0 1 2 1-2 1 1 1 1 1 2 1 0 1 5 1 11 1 5 1-6 1-4 1 4 1 1 1 0 1 7 1-3 1 0 1 7 1 8 1 10 1 4 1 4 1 2 2 6 2 10 2 10 2 5 2 2 2-2 2-1 2-1 2-3 1-3"/><path vector-effect="non-scaling-stroke" d="M0 514l2 2 2-1 2-6 2-3 2-2 2-4 2-7 2-6 2-4 2-4 2 0 2-3 2-3 2-1 2-3 2-2 2-3 2-3 2-4 2-8 2-7 2-4 2-6 2-2 2-4 2-1 2-1 2 1 2 2 2 0 2 0 2 1 2 2 2-1 2 1 2 1 2 1 2 1 2 1 2 2 2 2 2 2 2 3 2 1 2 2 2 2 2 1 2 1 2-2 2-14 2-25 2-40 2-46 2-34 2-28 2-24 2-21 1-7 1-8 1-7 1-8 1-4 1-5 1-6 1 13 1 16 1 2 1-14 1-18 1-12 1-4 1-1 1 2 1 0 1 1 1 1 1-2 1 2 1 0 1 1 1 1 1 0 1 5 1 10 1 1 1-5 1-5 1-2 1-2 1-2 1-1 1 0 1-1 1-3 1-3 1 3 1-3 1-3 1-3 1-1 1 1 1 0 1 2 1-1 1 0 1 0 1 1 1 1 1 4 1 11 1 3 1-6 1-2 1 3 1 0 1 0 1 7 1-4 1 1 1 6 1 9 1 8 1 4 1 3 1 4 2 1 2 10 2 8 2 6 2-1 2-2 2 0 2-1 2-4 1-3"/><path vector-effect="non-scaling-stroke" d="M0 559l2 2 2 0 2-2 2-2 2-1 2-2 2-2 2-3 2-1 2-2 2 0 2-1 2-2 2-1 2-1 2-2 2-1 2-2 2-3 2-3 2-3 2-3 2-3 2-2 2-1 2-1 2-1 2 1 2 0 2 0 2 0 2 0 2 1 2 0 2 0 2 0 2 1 2 0 2 0 2 1 2 1 2 1 2 0 2 1 2 1 2 0 2 0 2 0 2-1 2-6 2-10 2-16 2-24 2-30 2-27 2-24 2-20 1-10 1-8 1-8 1-6 1-6 1-5 1-5 1 6 1 10 1 0 1-10 1-12 1-9 1-2 1-1 1 0 1 1 1 0 1 0 1 0 1 0 1 0 1-1 1 1 1 1 1 3 1 6 1 0 1-2 1-3 1-2 1-2 1 0 1-2 1 0 1-2 1-1 1 0 1-1 1 0 1-4 1 0 1-1 1 2 1 0 1 0 1 1 1-2 1 0 1 1 1 2 1 1 1 9 1 1 1-4 1-2 1 3 1-1 1 0 1 5 1-3 1 1 1 5 1 5 1 5 1 4 1 2 1 2 2 4 2 5 2 6 2 3 2 0 2-1 2-1 2-1 2-2 1-2"/><path vector-effect="non-scaling-stroke" d="M0 503l2 7 2 1 2-5 2-5 2-2 2-3 2-6 2-6 2-4 2-1 2 0 2-2 2-4 2 0 2-3 2-4 2-3 2-5 2-8 2-9 2-9 2-7 2-9 2-4 2-4 2-4 2-2 2 1 2 1 2 0 2 0 2 1 2 3 2-1 2 1 2 2 2 1 2 1 2 2 2 2 2 3 2 3 2 2 2 2 2 3 2 3 2 1 2 1 2-3 2-16 2-31 2-47 2-44 2-35 2-28 2-23 2-21 1-7 1-9 1-7 1-7 1-7 1-6 1-7 1 17 1 17 1 1 1-15 1-21 1-14 1-4 1-3 1 2 1 1 1 0 1 1 1 0 1 0 1-1 1 1 1 2 1 1 1 3 1 11 1 2 1-3 1-6 1-2 1-2 1-5 1 1 1-1 1-2 1-2 1-3 1 3 1-1 1-5 1-1 1-1 1 0 1 3 1 1 1-1 1 0 1 0 1 1 1 3 1 2 1 14 1 3 1-6 1-3 1 4 1 1 1-1 1 8 1-3 1 0 1 7 1 10 1 7 1 6 1 4 1 3 2 6 2 10 2 8 2 5 2 1 2-1 2 0 2-3 2-4 1-2"/><path vector-effect="non-scaling-stroke" d="M0 539l2 3 2 1 2-3 2-3 2-1 2-2 2-4 2-4 2-1 2-1 2-1 2-2 2-3 2 0 2-2 2-3 2-3 2-4 2-5 2-7 2-6 2-5 2-5 2-3 2-3 2-2 2-1 2 0 2 1 2 0 2 0 2 1 2 2 2-1 2 1 2 1 2 1 2 1 2 1 2 2 2 2 2 1 2 2 2 1 2 2 2 2 2 2 2 0 2-1 2-8 2-16 2-26 2-37 2-35 2-29 2-25 2-22 1-9 1-9 1-9 1-8 1-4 1-7 1-6 1 9 1 15 1 0 1-12 1-17 1-11 1-3 1-1 1-1 1 4 1-1 1 0 1 1 1 1 1-1 1 2 1 0 1 1 1 2 1 10 1 0 1-3 1-4 1-3 1-2 1-1 1-1 1-1 1-1 1-2 1-3 1 4 1-2 1-4 1-1 1 0 1 0 1 0 1 0 1 2 1-1 1 0 1 1 1 2 1 4 1 8 1 2 1-5 1-3 1 5 1-1 1 1 1 6 1-1 1-1 1 6 1 7 1 7 1 4 1 3 1 1 2 5 2 7 2 6 2 5 2-1 2-2 2-2 2-2 2-4 1-3"/><path vector-effect="non-scaling-stroke" d="M0 532l2 4 2-2 2-4 2-2 2-1 2-3 2-6 2-4 2-2 2-1 2-1 2-2 2-3 2-1 2-2 2-2 2-3 2-2 2-6 2-6 2-7 2-4 2-5 2-3 2-3 2-2 2-1 2 1 2 0 2 1 2 0 2 1 2 2 2 0 2 0 2 2 2 1 2 1 2 1 2 2 2 2 2 1 2 2 2 2 2 1 2 1 2 2 2 1 2-2 2-9 2-18 2-30 2-41 2-35 2-28 2-27 2-22 1-8 1-8 1-8 1-8 1-4 1-7 1-6 1 12 1 15 1 1 1-15 1-14 1-13 1-3 1-1 1 1 1 2 1 0 1 1 1-1 1 0 1 2 1-2 1 2 1 1 1 3 1 8 1 1 1-3 1-5 1-3 1-2 1-3 1 0 1 0 1-1 1-1 1-2 1 1 1 0 1-5 1-1 1 1 1 1 1 0 1 1 1 0 1 0 1 1 1 1 1 3 1 5 1 10 1 6 1-4 1 0 1 6 1 1 1 2 1 7 1 0 1 2 1 7 1 9 1 8 1 5 1 5 1 3 2 6 2 10 2 9 2 2 2 1 2-1 2-1 2-1 2-3 1-2"/><path vector-effect="non-scaling-stroke" d="M0 535l2 1 2 0 2-2 2-4 2-2 2-2 2-4 2-4 2-3 2-1 2-1 2-3 2-2 2-1 2-3 2-3 2-3 2-3 2-6 2-7 2-6 2-6 2-5 2-3 2-3 2-2 2-1 2 0 2 2 2 0 2 0 2 1 2 2 2-1 2 1 2 1 2 2 2 1 2 1 2 1 2 2 2 2 2 2 2 0 2 3 2 1 2 2 2 1 2-2 2-10 2-19 2-29 2-42 2-35 2-29 2-26 2-21 1-9 1-8 1-8 1-7 1-6 1-6 1-5 1 11 1 15 1 1 1-13 1-16 1-11 1-4 1-1 1 2 1 1 1-1 1 2 1-1 1 2 1-1 1 1 1 1 1 1 1 2 1 10 1 1 1-4 1-4 1-1 1-4 1-3 1 2 1-1 1 0 1-3 1-1 1 0 1 0 1-4 1-1 1-1 1 2 1 2 1 0 1 0 1 0 1 0 1-1 1 2 1 4 1 9 1 2 1-5 1-2 1 1 1 1 1-1 1 7 1-3 1-1 1 7 1 8 1 6 1 4 1 2 1 3 2 5 2 6 2 8 2 4 2 0 2 0 2-2 2-1 2-3 1-1"/><path vector-effect="non-scaling-stroke" d="M0 523l2 5 2-1 2-5 2-1 2-2 2-4 2-3 2-4 2-2 2-2 2-1 2-2 2-2 2-1 2-3 2-3 2-4 2-4 2-6 2-9 2-7 2-7 2-6 2-4 2-4 2-2 2-2 2 0 2 2 2 0 2-1 2 1 2 2 2 0 2 0 2 2 2 1 2 1 2 1 2 2 2 2 2 2 2 1 2 1 2 2 2 2 2 1 2 0 2-2 2-12 2-22 2-35 2-46 2-32 2-29 2-24 2-20 1-9 1-8 1-7 1-7 1-5 1-7 1-6 1 13 1 16 1 0 1-14 1-17 1-12 1-3 1-3 1 2 1 2 1 1 1-1 1 1 1 0 1 1 1-2 1 1 1 2 1 3 1 10 1 1 1-5 1-5 1-2 1-3 1 0 1-1 1-1 1-1 1-3 1-2 1 1 1 0 1-4 1-2 1 0 1 3 1-1 1 2 1 0 1-2 1 2 1 1 1 1 1 5 1 10 1 3 1-5 1-2 1 5 1-1 1-1 1 8 1-2 1-1 1 7 1 8 1 8 1 4 1 3 1 3 2 4 2 9 2 7 2 5 2 1 2-1 2-2 2-2 2-3 1-2"/><path vector-effect="non-scaling-stroke" d="M0 552l2 2 2 0 2-1 2-3 2-2 2-2 2-2 2-3 2-3 2-2 2 0 2-2 2-1 2-2 2-1 2-3 2-2 2-2 2-4 2-5 2-6 2-3 2-4 2-3 2-2 2-1 2-1 2 0 2 1 2 0 2 0 2 1 2 1 2 0 2 0 2 1 2 1 2 0 2 1 2 1 2 1 2 2 2 0 2 1 2 1 2 1 2 1 2 0 2-1 2-7 2-12 2-19 2-27 2-34 2-26 2-25 2-21 1-8 1-9 1-8 1-7 1-6 1-5 1-7 1 10 1 12 1-2 1-10 1-15 1-7 1-4 1 0 1 0 1 1 1 1 1-1 1 2 1-1 1 1 1 0 1 0 1 1 1 2 1 8 1 2 1-3 1-5 1-1 1-3 1 0 1-1 1-1 1-1 1-1 1-1 1 1 1-1 1-3 1-3 1 2 1-1 1 2 1-1 1 0 1 0 1 0 1 1 1 0 1 4 1 8 1 4 1-5 1-1 1 3 1 0 1 1 1 4 1 0 1-1 1 6 1 6 1 7 1 3 1 3 1 3 2 4 2 6 2 7 2 4 2 0 2-1 2-1 2-1 2-2 1-1"/><path vector-effect="non-scaling-stroke" d="M0 521l2 1 2-1 2-2 2-3 2-4 2-2 2-5 2-5 2-3 2-3 2-2 2-2 2-3 2 0 2-2 2-3 2-3 2-2 2-5 2-7 2-7 2-4 2-6 2-3 2-4 2-2 2-1 2 1 2 1 2 0 2 0 2 0 2 2 2-1 2 1 2 1 2 1 2 1 2 2 2 1 2 2 2 2 2 2 2 1 2 3 2 1 2 2 2 1 2-3 2-13 2-24 2-38 2-45 2-35 2-28 2-26 2-20 1-9 1-8 1-7 1-7 1-8 1-4 1-5 1 12 1 16 1 1 1-15 1-18 1-11 1-4 1-2 1 1 1 3 1-1 1 1 1 0 1 0 1 0 1 1 1-1 1 4 1 1 1 11 1 3 1-5 1-4 1-3 1-2 1-4 1 1 1 0 1-2 1-2 1 0 1 1 1 0 1-6 1 0 1 0 1 2 1 0 1 1 1-1 1 0 1 1 1 0 1 2 1 7 1 9 1 3 1-5 1-1 1 3 1 2 1-1 1 8 1-2 1 2 1 6 1 7 1 9 1 5 1 3 1 3 2 6 2 8 2 10 2 2 2 1 2 0 2-4 2-1 2-3 1-2"/><path vector-effect="non-scaling-stroke" d="M0 569l2 2 2 0 2-1 2-2 2 0 2 0 2-2 2-1 2-2 2 0 2 0 2-1 2-1 2 0 2-1 2-1 2-1 2-1 2-1 2-2 2-2 2-1 2-2 2-1 2 0 2-1 2 0 2 0 2 1 2 0 2 0 2 0 2 1 2 0 2 0 2 1 2 0 2 0 2 0 2 1 2 1 2 0 2 1 2 1 2 1 2 1 2 1 2 0 2-1 2-4 2-6 2-10 2-15 2-20 2-22 2-21 2-18 1-9 1-7 1-8 1-6 1-6 1-5 1-4 1 4 1 7 1-1 1-8 1-9 1-6 1-3 1 0 1 0 1 0 1 1 1-1 1 1 1-1 1 0 1 0 1 1 1-1 1 2 1 5 1 1 1-2 1-3 1-1 1-2 1 0 1-1 1 0 1-1 1-1 1-2 1 1 1-2 1-1 1-1 1 0 1 0 1 1 1 0 1 0 1 0 1 0 1 1 1 0 1 3 1 6 1 1 1-3 1-1 1 3 1 0 1 0 1 3 1-1 1 0 1 4 1 4 1 4 1 2 1 2 1 2 2 2 2 5 2 4 2 3 2 0 2 0 2-1 2 0 2-2 1-1"/><path vector-effect="non-scaling-stroke" d="M0 505l2 1 2 0 2-3 2-3 2-2 2-5 2-4 2-4 2-3 2-2 2-1 2-2 2-2 2-1 2-3 2-3 2-4 2-4 2-7 2-10 2-8 2-7 2-8 2-4 2-5 2-3 2-2 2 1 2 1 2 0 2 0 2 1 2 3 2-2 2 1 2 1 2 2 2 1 2 1 2 2 2 3 2 3 2 3 2 2 2 3 2 2 2 2 2 2 2-4 2-16 2-33 2-48 2-46 2-34 2-30 2-24 2-18 1-8 1-8 1-7 1-6 1-6 1-5 1-8 1 16 1 18 1 2 1-17 1-20 1-14 1-2 1-3 1 3 1 1 1 1 1-1 1 0 1 2 1-1 1 0 1-1 1 3 1 3 1 11 1 2 1-6 1-5 1-3 1-3 1-2 1 0 1-2 1-1 1-1 1-3 1 3 1-3 1-3 1-3 1 1 1 0 1 1 1 2 1-1 1 1 1-1 1 3 1 0 1 6 1 12 1 4 1-6 1-3 1 4 1 0 1 1 1 8 1-1 1-2 1 8 1 10 1 8 1 5 1 4 1 3 2 7 2 7 2 10 2 5 2 1 2-4 2-1 2-2 2-4 1-2"/><path vector-effect="non-scaling-stroke" d="M0 538l2 4 2-1 2-2 2-3 2-2 2-2 2-4 2-4 2-2 2-2 2 0 2-2 2-2 2-1 2-2 2-3 2-2 2-3 2-5 2-6 2-5 2-5 2-5 2-3 2-3 2-3 2-1 2 1 2 1 2 0 2-1 2 1 2 2 2-1 2 1 2 1 2 1 2 1 2 1 2 1 2 2 2 1 2 1 2 2 2 1 2 1 2 1 2 1 2-2 2-9 2-15 2-25 2-35 2-34 2-28 2-24 2-20 1-7 1-9 1-8 1-8 1-6 1-3 1-7 1 11 1 12 1 2 1-13 1-15 1-11 1-2 1-1 1 1 1 1 1 0 1 0 1 1 1-1 1 1 1 0 1 0 1 1 1 3 1 8 1 1 1-3 1-4 1-3 1-3 1-1 1-1 1 0 1-1 1-3 1-2 1 2 1-2 1-2 1-3 1 0 1 1 1 0 1 0 1 2 1-1 1 0 1 1 1 1 1 4 1 9 1 3 1-5 1-3 1 4 1-1 1 1 1 5 1-3 1 0 1 6 1 7 1 6 1 3 1 4 1 3 2 2 2 8 2 6 2 3 2 1 2-2 2 0 2-1 2-3 1-1"/><path vector-effect="non-scaling-stroke" d="M0 525l2 4 2 0 2-4 2-2 2-1 2-2 2-5 2-5 2-2 2-2 2 0 2-3 2-2 2-1 2-3 2-2 2-3 2-3 2-6 2-7 2-6 2-4 2-6 2-3 2-4 2-2 2-1 2 1 2 1 2 0 2 0 2 1 2 2 2-1 2 2 2 1 2 1 2 1 2 1 2 1 2 2 2 2 2 2 2 0 2 2 2 1 2 1 2 0 2-2 2-11 2-20 2-32 2-43 2-34 2-29 2-25 2-21 1-8 1-8 1-8 1-6 1-6 1-6 1-6 1 12 1 16 1 0 1-12 1-18 1-12 1-3 1-1 1 1 1 2 1 0 1 0 1 0 1 1 1 0 1 0 1 0 1 1 1 4 1 9 1 0 1-3 1-4 1-3 1-4 1 0 1-1 1-2 1 0 1-2 1-4 1 3 1-3 1-2 1-3 1 0 1 1 1 0 1 1 1-1 1 0 1 0 1 1 1 1 1 5 1 9 1 2 1-5 1-3 1 3 1 0 1 0 1 7 1-3 1 0 1 5 1 8 1 7 1 4 1 3 1 3 2 3 2 9 2 7 2 3 2 0 2 0 2-2 2-1 2-3 1-1"/><path vector-effect="non-scaling-stroke" d="M0 553l2 0 2-2 2-3 2-1 2-1 2-3 2-4 2-3 2-2 2-2 2-1 2-2 2-2 2-1 2-2 2-2 2-2 2-3 2-3 2-5 2-5 2-3 2-3 2-3 2-2 2-1 2-1 2 1 2 1 2 0 2 0 2 1 2 1 2-1 2 1 2 1 2 1 2 0 2 1 2 1 2 1 2 2 2 1 2 1 2 1 2 1 2 1 2 1 2-1 2-7 2-12 2-20 2-28 2-35 2-26 2-24 2-21 1-8 1-9 1-8 1-9 1-4 1-6 1-6 1 9 1 11 1 0 1-11 1-15 1-10 1-3 1-2 1 1 1 1 1-1 1-1 1 1 1 0 1 0 1-1 1 1 1 1 1 2 1 8 1 0 1-3 1-4 1-2 1-2 1 0 1-2 1 0 1 0 1-2 1-2 1 1 1 0 1-3 1-2 1 0 1 1 1 0 1 1 1 0 1-1 1 1 1 1 1 1 1 3 1 9 1 3 1-6 1-2 1 3 1 1 1 0 1 5 1-2 1-1 1 6 1 7 1 5 1 3 1 3 1 2 2 4 2 7 2 6 2 5 2 0 2-1 2-1 2 0 2-3 1 0"/><path vector-effect="non-scaling-stroke" d="M0 558l2 2 2-1 2-2 2-2 2-1 2-1 2-1 2-3 2-1 2-1 2-1 2-1 2-1 2-1 2-1 2-2 2-1 2-2 2-3 2-4 2-3 2-3 2-3 2-2 2-1 2-2 2 0 2 0 2 0 2 0 2 0 2 1 2 1 2-1 2 1 2 1 2 0 2 0 2 1 2 1 2 1 2 1 2 1 2 1 2 0 2 1 2 1 2 0 2-1 2-5 2-10 2-16 2-23 2-30 2-27 2-24 2-21 1-9 1-9 1-9 1-7 1-6 1-6 1-5 1 8 1 10 1-1 1-10 1-12 1-8 1-3 1-2 1 2 1 0 1 1 1 0 1 0 1 0 1 1 1 0 1 0 1 2 1 1 1 7 1 1 1-4 1-2 1-3 1-1 1-1 1 0 1 1 1-2 1-2 1-1 1 0 1 0 1-3 1-1 1-1 1 2 1 0 1 1 1-1 1 1 1-1 1 0 1 1 1 3 1 8 1 1 1-3 1-3 1 4 1-1 1 0 1 5 1-2 1-2 1 5 1 6 1 5 1 3 1 1 1 2 2 3 2 5 2 5 2 3 2 0 2-2 2 0 2-1 2-2 1-2"/><path vector-effect="non-scaling-stroke" d="M0 530l2 0 2 0 2-3 2-2 2-1 2-4 2-4 2-4 2-2 2-1 2-1 2-2 2-3 2-1 2-3 2-3 2-3 2-4 2-6 2-7 2-8 2-6 2-6 2-4 2-3 2-2 2-1 2 0 2 2 2 0 2-1 2 1 2 2 2 0 2 0 2 2 2 1 2 1 2 1 2 2 2 2 2 2 2 1 2 2 2 1 2 1 2 2 2 0 2-3 2-11 2-22 2-35 2-46 2-33 2-30 2-25 2-21 1-9 1-8 1-8 1-7 1-7 1-5 1-7 1 14 1 16 1 0 1-12 1-19 1-12 1-2 1-1 1 2 1 1 1 0 1 2 1 0 1 1 1 1 1 0 1 1 1 1 1 3 1 10 1 1 1-4 1-5 1-4 1-1 1-1 1-2 1-1 1 0 1-2 1-2 1 0 1 0 1-5 1-1 1-1 1 0 1 3 1 1 1-1 1-1 1 1 1 0 1 3 1 5 1 13 1 3 1-4 1 0 1 5 1 2 1 1 1 8 1-1 1 2 1 7 1 8 1 9 1 5 1 3 1 3 2 8 2 9 2 8 2 4 2 0 2-2 2-1 2-2 2-4 1-3"/><path vector-effect="non-scaling-stroke" d="M0 533l2 4 2 0 2-4 2-2 2-2 2-3 2-4 2-4 2-2 2-3 2 0 2-2 2-2 2-1 2-2 2-3 2-3 2-3 2-5 2-7 2-7 2-5 2-5 2-4 2-3 2-1 2-1 2 1 2 1 2 0 2-1 2 2 2 2 2-1 2 1 2 1 2 1 2 1 2 1 2 0 2 3 2 1 2 1 2 1 2 2 2 1 2 0 2 1 2-2 2-9 2-18 2-28 2-39 2-36 2-27 2-24 2-21 1-9 1-8 1-8 1-6 1-6 1-5 1-5 1 10 1 14 1 2 1-14 1-16 1-10 1-4 1-2 1 2 1 1 1-1 1 3 1-2 1 1 1-3 1 2 1 2 1 0 1 2 1 9 1 2 1-4 1-5 1-2 1-1 1-3 1-1 1 1 1-1 1-2 1-3 1 3 1-1 1-4 1-2 1 0 1 0 1 2 1 0 1 0 1 0 1-1 1 1 1 2 1 2 1 11 1 2 1-5 1-3 1 6 1-1 1 1 1 4 1-3 1 0 1 6 1 8 1 6 1 5 1 3 1 3 2 4 2 7 2 8 2 5 2 0 2-2 2 0 2-2 2-4 1 1"/><path vector-effect="non-scaling-stroke" d="M0 504l2 5 2-1 2-4 2-2 2-1 2-2 2-6 2-6 2-3 2-3 2 1 2-3 2-3 2-1 2-2 2-3 2-4 2-5 2-7 2-9 2-8 2-6 2-7 2-5 2-4 2-3 2-2 2 1 2 2 2 0 2 0 2 1 2 3 2 0 2 1 2 2 2 1 2 2 2 2 2 1 2 3 2 3 2 2 2 2 2 2 2 2 2 2 2 1 2-3 2-16 2-28 2-44 2-46 2-35 2-29 2-25 2-20 1-6 1-8 1-7 1-8 1-6 1-4 1-6 1 15 1 19 1 0 1-14 1-18 1-13 1-4 1 0 1 1 1 2 1 0 1 3 1-1 1 1 1-1 1 2 1 0 1 1 1 4 1 10 1 2 1-5 1-5 1-3 1-4 1 0 1 0 1-2 1 0 1-4 1-2 1 1 1-3 1-4 1-3 1-1 1 2 1 1 1 0 1 0 1 1 1-3 1 1 1 0 1 7 1 10 1 3 1-6 1-1 1 3 1 0 1 0 1 7 1-2 1-1 1 5 1 10 1 10 1 6 1 2 1 3 2 6 2 9 2 8 2 6 2 0 2-2 2-1 2 0 2-3 1-3"/><path vector-effect="non-scaling-stroke" d="M0 544l2 1 2-3 2-3 2-4 2-3 2-4 2-4 2-4 2-4 2-3 2-2 2-1 2-3 2-1 2-2 2-1 2-2 2-2 2-3 2-5 2-4 2-3 2-4 2-2 2-2 2-1 2-1 2 1 2 0 2 1 2 0 2 1 2 2 2-1 2 1 2 1 2 1 2 1 2 1 2 1 2 2 2 2 2 1 2 1 2 2 2 1 2 1 2 0 2-1 2-8 2-14 2-23 2-34 2-35 2-27 2-25 2-21 1-9 1-9 1-9 1-6 1-7 1-4 1-6 1 10 1 12 1 1 1-13 1-14 1-12 1-1 1-2 1-1 1 2 1 0 1 0 1 0 1 0 1 1 1 0 1 0 1 1 1 3 1 7 1 2 1-3 1-5 1-2 1-2 1-2 1 0 1 1 1-2 1-2 1-2 1 1 1-1 1-2 1-1 1-1 1 0 1 2 1-1 1 2 1-1 1 0 1 2 1 3 1 4 1 10 1 4 1-4 1 0 1 4 1 1 1 2 1 7 1-1 1 1 1 7 1 7 1 8 1 4 1 4 1 3 2 7 2 8 2 7 2 4 2 0 2 0 2-1 2-1 2-3 1-2"/><path vector-effect="non-scaling-stroke" d="M0 505l2 5 2 1 2-7 2-1 2-2 2-1 2-7 2-5 2-4 2-3 2 0 2-3 2-4 2 0 2-2 2-4 2-4 2-4 2-7 2-9 2-8 2-6 2-7 2-4 2-4 2-4 2 0 2 1 2 2 2 1 2-1 2 2 2 2 2 0 2 1 2 1 2 1 2 2 2 1 2 2 2 3 2 2 2 2 2 2 2 2 2 2 2 1 2 1 2-4 2-15 2-30 2-44 2-45 2-34 2-29 2-24 2-19 1-8 1-7 1-7 1-7 1-4 1-6 1-5 1 14 1 18 1 3 1-15 1-19 1-12 1-3 1-2 1 1 1 1 1 1 1 1 1 0 1 1 1-1 1 0 1 2 1 0 1 3 1 10 1 2 1-6 1-5 1-4 1-2 1-4 1-1 1 0 1-1 1-5 1-1 1 1 1-2 1-4 1-1 1 0 1 1 1 0 1 1 1 0 1-1 1 1 1 0 1 2 1 4 1 13 1 2 1-4 1-3 1 5 1-1 1 0 1 9 1-2 1 0 1 6 1 10 1 9 1 4 1 3 1 3 2 7 2 9 2 9 2 5 2 1 2-2 2-1 2-1 2-3 1-2"/><path vector-effect="non-scaling-stroke" d="M0 536l2 1 2-1 2-3 2-4 2-2 2-3 2-6 2-6 2-3 2-2 2-1 2-3 2-2 2-1 2-1 2-3 2-1 2-3 2-4 2-5 2-5 2-4 2-4 2-3 2-2 2-2 2-1 2 1 2 1 2 0 2 0 2 1 2 2 2-1 2 1 2 1 2 2 2 0 2 2 2 1 2 2 2 2 2 1 2 1 2 1 2 1 2 1 2 1 2-2 2-9 2-18 2-27 2-38 2-35 2-29 2-24 2-20 1-10 1-7 1-9 1-7 1-6 1-6 1-5 1 10 1 15 1-1 1-13 1-15 1-12 1-2 1-2 1 0 1 1 1 0 1 0 1 1 1 0 1 0 1 0 1 1 1 1 1 4 1 9 1 0 1-3 1-4 1-3 1-2 1-3 1 2 1 0 1-2 1-2 1-1 1 1 1-1 1-4 1-1 1-1 1 2 1 1 1-1 1 0 1 1 1-1 1 1 1 1 1 4 1 8 1 1 1-4 1-4 1 2 1 0 1 1 1 5 1-3 1-1 1 7 1 7 1 5 1 5 1 2 1 3 2 3 2 7 2 8 2 4 2 0 2-1 2-1 2-1 2-2 1-2"/><path vector-effect="non-scaling-stroke" d="M0 505l2 3 2 0 2-5 2-3 2-2 2-5 2-7 2-6 2-4 2-3 2-3 2-4 2-2 2 0 2-3 2-3 2-4 2-3 2-6 2-8 2-8 2-6 2-5 2-4 2-5 2-2 2 0 2 1 2 2 2 1 2 0 2 1 2 3 2-1 2 1 2 3 2 1 2 1 2 1 2 3 2 3 2 3 2 2 2 3 2 2 2 2 2 3 2 1 2-2 2-16 2-32 2-46 2-45 2-36 2-29 2-24 2-20 1-7 1-8 1-7 1-7 1-6 1-5 1-6 1 15 1 19 1 1 1-16 1-18 1-14 1-3 1-1 1 1 1 1 1 1 1 2 1-1 1-1 1 2 1 0 1 0 1 2 1 2 1 11 1 2 1-5 1-5 1-4 1-2 1-2 1 0 1-3 1 0 1-3 1-2 1 2 1-1 1-6 1-1 1 0 1 1 1 2 1-1 1 0 1 0 1 1 1 0 1 1 1 5 1 10 1 3 1-5 1-4 1 4 1 0 1 0 1 7 1-2 1-2 1 8 1 9 1 10 1 2 1 5 1 2 2 5 2 9 2 10 2 5 2 1 2-2 2-1 2-1 2-4 1-2"/><path vector-effect="non-scaling-stroke" d="M0 504l2 6 2-4 2-6 2 0 2 0 2-3 2-5 2-5 2-3 2-2 2 2 2-3 2-4 2 1 2-3 2-3 2-3 2-4 2-6 2-10 2-8 2-6 2-7 2-5 2-4 2-3 2-2 2 1 2 0 2 0 2 0 2 1 2 3 2-1 2 1 2 1 2 2 2 1 2 1 2 2 2 2 2 3 2 1 2 2 2 3 2 1 2 2 2 1 2-2 2-15 2-28 2-44 2-45 2-34 2-29 2-24 2-20 1-8 1-7 1-9 1-6 1-6 1-6 1-7 1 15 1 20 1 0 1-16 1-18 1-13 1-2 1-2 1 1 1 1 1 1 1 1 1 1 1-1 1 2 1-1 1 2 1 0 1 5 1 8 1 2 1-4 1-5 1-4 1-3 1-2 1-1 1 0 1-2 1-5 1-2 1 2 1-1 1-4 1-2 1-1 1 1 1 1 1 1 1-3 1 1 1 1 1 1 1 2 1 6 1 15 1 6 1-5 1 0 1 6 1 2 1 2 1 10 1-2 1 2 1 10 1 10 1 10 1 7 1 3 1 6 2 8 2 12 2 10 2 3 2 2 2-1 2-2 2 0 2-3 1-2"/><path vector-effect="non-scaling-stroke" d="M0 546l2 4 2-1 2-3 2-1 2-2 2-3 2-3 2-3 2-2 2-1 2 0 2-2 2-3 2 0 2-2 2-3 2-2 2-3 2-4 2-7 2-4 2-4 2-5 2-3 2-2 2-2 2 0 2 0 2 1 2 0 2 0 2 1 2 1 2 0 2 0 2 1 2 1 2 0 2 1 2 1 2 1 2 1 2 1 2 0 2 1 2 1 2 0 2 1 2-2 2-7 2-13 2-20 2-31 2-34 2-27 2-24 2-21 1-8 1-8 1-8 1-6 1-6 1-5 1-5 1 9 1 13 1-1 1-10 1-13 1-11 1-3 1-1 1 0 1 2 1 1 1 0 1 0 1 0 1 0 1 1 1-1 1 2 1 3 1 6 1 2 1-3 1-5 1-2 1-2 1-1 1-1 1-1 1-1 1-1 1-2 1 1 1-1 1-3 1-1 1-1 1 1 1 1 1 0 1 0 1 0 1-1 1 0 1 1 1 4 1 8 1 2 1-5 1-2 1 3 1 0 1 0 1 5 1-2 1 0 1 4 1 7 1 6 1 4 1 2 1 2 2 3 2 7 2 6 2 4 2 0 2-1 2 0 2-2 2-4 1-1"/><path vector-effect="non-scaling-stroke" d="M0 523l2 2 2-2 2-3 2-1 2-1 2-1 2-5 2-4 2-2 2-1 2 0 2-2 2-3 2-1 2-3 2-4 2-3 2-4 2-7 2-9 2-8 2-6 2-8 2-3 2-4 2-3 2-2 2 1 2 1 2 0 2 0 2 0 2 3 2-1 2 1 2 1 2 2 2 1 2 1 2 2 2 3 2 2 2 2 2 2 2 1 2 2 2 2 2 0 2-2 2-13 2-21 2-36 2-45 2-34 2-29 2-26 2-20 1-9 1-9 1-7 1-7 1-6 1-5 1-7 1 13 1 15 1 1 1-14 1-16 1-13 1-2 1-2 1 1 1 1 1 1 1 0 1 2 1 0 1-1 1 0 1 2 1 1 1 3 1 10 1 2 1-5 1-5 1-4 1-1 1-3 1 0 1-1 1-2 1-2 1-3 1 0 1 0 1-5 1-3 1 2 1-1 1 1 1 1 1 0 1 1 1-2 1 1 1 2 1 4 1 10 1 4 1-6 1-2 1 4 1 0 1 0 1 7 1-3 1 0 1 7 1 9 1 7 1 5 1 3 1 2 2 5 2 9 2 8 2 5 2 2 2-3 2-1 2 1 2-3 1-2"/><path vector-effect="non-scaling-stroke" d="M0 497l2 6 2 1 2-4 2-4 2-3 2-4 2-6 2-5 2-5 2-3 2-1 2-3 2-4 2-1 2-3 2-4 2-3 2-5 2-7 2-9 2-10 2-7 2-6 2-5 2-5 2-3 2-1 2 0 2 2 2 1 2-1 2 1 2 3 2-1 2 0 2 3 2 1 2 2 2 1 2 3 2 2 2 3 2 1 2 3 2 2 2 2 2 1 2 1 2-4 2-17 2-32 2-51 2-40 2-35 2-27 2-23 2-17 1-8 1-7 1-8 1-6 1-6 1-4 1-7 1 15 1 18 1 3 1-17 1-20 1-13 1-3 1-3 1 3 1 2 1 0 1 0 1 0 1-1 1 2 1 1 1-2 1 4 1 3 1 11 1 1 1-3 1-6 1-4 1-1 1-3 1 0 1-1 1-2 1 1 1-5 1 2 1-3 1-5 1 0 1-1 1 1 1 1 1-1 1 0 1 1 1-2 1 3 1 1 1 3 1 13 1 2 1-7 1-3 1 5 1 0 1-2 1 8 1-4 1 0 1 9 1 9 1 7 1 6 1 4 1 3 2 6 2 11 2 10 2 6 2 1 2 0 2 0 2 1 2-3 1-4"/><path vector-effect="non-scaling-stroke" d="M0 568l2 0 2 0 2-2 2 0 2-1 2 0 2-1 2-1 2-2 2 0 2-1 2 0 2-1 2-1 2 0 2-2 2-1 2-1 2-2 2-3 2-2 2-2 2-2 2-1 2-1 2-1 2 0 2 0 2 1 2 0 2 0 2 0 2 1 2-1 2 1 2 0 2 0 2 1 2 0 2 1 2 0 2 1 2 1 2 1 2 1 2 1 2 1 2 0 2-2 2-4 2-8 2-12 2-18 2-24 2-25 2-22 2-20 1-9 1-9 1-8 1-6 1-6 1-5 1-5 1 4 1 9 1-1 1-8 1-10 1-8 1-2 1-1 1 0 1 1 1 0 1 1 1 0 1 0 1 0 1 0 1 1 1 0 1 2 1 5 1 2 1-3 1-2 1-2 1-3 1 0 1-1 1 0 1-1 1-1 1-1 1 1 1-2 1-2 1 0 1-1 1 1 1 0 1 0 1 0 1 0 1 0 1 0 1 1 1 3 1 8 1 2 1-3 1 0 1 3 1 1 1 1 1 5 1 0 1 1 1 4 1 5 1 6 1 2 1 3 1 2 2 4 2 6 2 4 2 3 2 0 2 0 2-1 2-1 2-1 1-1"/><path vector-effect="non-scaling-stroke" d="M0 523l2 4 2 0 2-2 2-1 2-2 2-3 2-4 2-4 2-3 2-2 2 0 2-2 2-3 2 0 2-2 2-3 2-3 2-4 2-5 2-7 2-7 2-5 2-6 2-3 2-4 2-2 2-1 2 1 2 0 2 0 2 0 2 1 2 2 2 0 2 1 2 2 2 1 2 1 2 2 2 2 2 2 2 2 2 1 2 2 2 2 2 1 2 2 2 0 2-1 2-11 2-20 2-32 2-44 2-35 2-28 2-27 2-20 1-10 1-7 1-8 1-6 1-6 1-6 1-6 1 11 1 16 1-2 1-12 1-16 1-13 1-3 1-1 1 1 1 2 1 0 1 0 1 1 1 0 1-2 1 0 1 2 1 0 1 5 1 8 1 2 1-5 1-4 1-4 1-3 1-1 1-1 1-2 1 1 1-4 1-2 1 0 1 0 1-3 1-2 1-1 1 1 1 0 1 2 1 0 1 0 1-1 1 2 1 3 1 3 1 12 1 2 1-3 1-4 1 5 1 1 1 1 1 8 1-2 1 1 1 7 1 9 1 7 1 5 1 3 1 4 2 5 2 10 2 7 2 5 2 1 2-1 2-2 2-1 2-4 1-1"/><path vector-effect="non-scaling-stroke" d="M0 525l2 3 2 0 2-3 2-2 2-3 2-3 2-4 2-3 2-2 2-2 2 0 2-3 2-3 2 0 2-3 2-2 2-4 2-3 2-6 2-8 2-7 2-5 2-6 2-3 2-4 2-2 2-2 2 1 2 1 2 0 2 0 2 1 2 2 2-1 2 1 2 1 2 2 2 0 2 1 2 2 2 2 2 1 2 2 2 1 2 2 2 2 2 1 2 0 2-1 2-10 2-19 2-31 2-41 2-33 2-29 2-23 2-22 1-8 1-6 1-9 1-7 1-5 1-5 1-7 1 11 1 15 1 1 1-14 1-16 1-12 1-4 1-1 1 1 1 1 1 1 1-2 1 2 1 2 1-4 1 1 1 1 1 0 1 4 1 9 1 1 1-4 1-4 1-4 1-3 1-1 1-1 1 0 1 0 1-3 1-3 1 3 1-1 1-5 1-1 1 0 1 2 1 0 1 0 1 1 1-1 1 1 1 1 1 2 1 4 1 9 1 3 1-4 1-4 1 4 1 1 1-1 1 7 1-4 1 1 1 6 1 8 1 6 1 3 1 4 1 2 2 5 2 7 2 7 2 5 2 0 2-1 2 0 2-2 2-2 1-3"/><path vector-effect="non-scaling-stroke" d="M0 515l2 4 2-1 2-1 2-4 2-4 2-2 2-5 2-3 2-3 2-3 2 0 2-2 2-3 2-2 2-3 2-2 2-3 2-4 2-6 2-8 2-7 2-7 2-5 2-4 2-3 2-3 2-1 2 1 2 1 2 1 2-1 2 1 2 2 2-1 2 1 2 1 2 2 2 1 2 0 2 3 2 2 2 2 2 2 2 1 2 2 2 2 2 1 2 1 2-3 2-13 2-24 2-39 2-45 2-33 2-29 2-24 2-20 1-8 1-7 1-8 1-8 1-4 1-6 1-7 1 15 1 16 1 0 1-13 1-19 1-13 1-3 1-2 1 1 1 3 1-1 1-1 1 2 1 0 1-1 1 0 1 0 1 2 1 4 1 9 1 3 1-5 1-6 1-2 1-4 1 0 1-1 1 0 1-1 1-2 1-3 1 3 1-1 1-5 1 0 1 1 1-1 1 2 1 0 1 1 1-1 1 1 1 1 1 1 1 5 1 12 1 2 1-5 1-4 1 4 1 1 1-1 1 7 1-1 1-1 1 8 1 8 1 8 1 2 1 3 1 4 2 4 2 8 2 8 2 6 2-1 2-1 2-1 2-2 2-4 1-2"/><path vector-effect="non-scaling-stroke" d="M0 510l2 4 2-3 2-2 2-1 2-4 2-2 2-5 2-4 2-3 2-2 2 0 2-2 2-3 2-1 2-2 2-4 2-3 2-3 2-8 2-9 2-9 2-6 2-6 2-5 2-4 2-2 2-3 2 2 2 1 2 1 2-1 2 1 2 3 2-1 2 0 2 2 2 1 2 1 2 1 2 2 2 3 2 2 2 2 2 2 2 3 2 3 2 2 2 1 2-2 2-15 2-28 2-43 2-45 2-36 2-28 2-25 2-19 1-8 1-8 1-7 1-8 1-4 1-6 1-5 1 13 1 18 1 1 1-16 1-17 1-13 1-4 1-1 1 1 1 2 1 1 1 0 1 1 1-1 1 1 1 0 1 1 1 0 1 5 1 9 1 2 1-6 1-3 1-4 1-3 1-2 1-2 1-1 1-3 1-1 1-3 1 2 1 0 1-5 1-2 1-3 1 2 1 1 1 2 1 1 1-3 1 0 1 3 1-1 1 5 1 11 1 3 1-7 1-2 1 5 1 0 1 0 1 7 1-3 1-1 1 7 1 8 1 8 1 5 1 3 1 1 2 7 2 8 2 8 2 5 2 0 2-2 2-1 2-1 2-3 1-2"/><path vector-effect="non-scaling-stroke" d="M0 538l2 2 2-1 2-2 2-2 2-2 2-3 2-5 2-4 2-3 2-2 2-2 2-2 2-2 2-1 2-2 2-2 2-3 2-3 2-4 2-6 2-5 2-5 2-4 2-2 2-3 2-1 2-1 2 1 2 1 2 0 2 0 2 1 2 2 2-1 2 1 2 1 2 1 2 0 2 1 2 1 2 2 2 1 2 1 2 1 2 1 2 1 2 1 2 0 2-2 2-7 2-15 2-23 2-33 2-34 2-27 2-23 2-22 1-8 1-9 1-7 1-8 1-5 1-5 1-7 1 12 1 12 1 1 1-12 1-16 1-9 1-4 1-1 1 1 1 1 1 1 1 0 1 1 1 0 1-2 1 1 1 1 1 1 1 3 1 8 1 2 1-4 1-3 1-4 1-2 1-1 1-1 1 0 1-2 1-1 1-3 1 2 1-1 1-3 1-2 1 0 1 1 1 0 1 2 1-1 1 2 1-2 1 1 1 3 1 3 1 11 1 2 1-3 1-2 1 4 1 1 1 1 1 7 1-2 1 0 1 7 1 6 1 8 1 3 1 4 1 3 2 5 2 9 2 7 2 2 2 1 2 0 2-2 2-1 2-2 1-2"/><path vector-effect="non-scaling-stroke" d="M0 496l2 6 2 2 2-3 2-5 2-3 2-2 2-5 2-7 2-3 2-2 2 1 2-3 2-3 2-1 2-3 2-4 2-4 2-5 2-6 2-11 2-9 2-8 2-7 2-6 2-4 2-4 2-1 2 0 2 2 2-1 2 0 2 2 2 2 2-1 2 1 2 2 2 2 2 2 2 1 2 2 2 3 2 2 2 3 2 2 2 3 2 3 2 2 2 1 2-3 2-17 2-32 2-49 2-42 2-36 2-27 2-23 2-20 1-7 1-8 1-7 1-7 1-6 1-5 1-6 1 14 1 20 1 2 1-16 1-20 1-13 1-5 1 0 1 1 1-1 1 2 1 2 1 0 1 1 1-2 1 3 1 0 1 1 1 5 1 11 1 2 1-4 1-5 1-2 1-4 1 0 1 0 1-2 1-1 1-1 1-4 1 4 1-1 1-5 1-2 1 0 1 1 1 3 1 1 1-2 1 2 1-2 1 0 1 3 1 4 1 13 1 1 1-6 1 0 1 4 1-1 1 1 1 8 1-5 1 1 1 7 1 9 1 9 1 5 1 3 1 3 2 6 2 9 2 9 2 6 2 1 2-2 2-2 2 0 2-5 1-3"/><path vector-effect="non-scaling-stroke" d="M0 504l2 0 2 0 2-4 2-4 2-3 2-3 2-5 2-4 2-3 2-2 2-1 2-2 2-3 2-2 2-2 2-3 2-4 2-4 2-7 2-9 2-8 2-7 2-6 2-5 2-5 2-2 2-2 2 2 2 2 2 0 2 0 2 2 2 3 2-1 2 2 2 2 2 2 2 1 2 2 2 2 2 3 2 3 2 2 2 2 2 3 2 2 2 2 2 1 2-3 2-16 2-32 2-47 2-43 2-37 2-30 2-23 2-21 1-7 1-8 1-7 1-8 1-6 1-6 1-6 1 15 1 18 1 1 1-16 1-19 1-13 1-3 1-2 1 2 1 2 1-1 1 2 1 1 1 1 1-1 1 0 1 1 1 3 1 4 1 11 1 2 1-7 1-3 1-3 1-4 1-1 1-1 1 0 1-3 1-3 1-3 1 2 1 0 1-6 1-1 1-1 1 2 1-1 1 3 1-1 1-2 1 1 1 0 1 1 1 5 1 12 1 3 1-8 1-4 1 5 1 1 1-2 1 9 1-5 1 0 1 7 1 10 1 8 1 5 1 4 1 2 2 4 2 9 2 9 2 5 2 2 2-2 2-2 2-1 2-4 1-2"/><path vector-effect="non-scaling-stroke" d="M0 540l2 2 2-1 2-3 2-1 2-2 2-3 2-4 2-5 2-1 2-3 2-1 2-2 2-2 2-1 2-2 2-3 2-3 2-3 2-5 2-6 2-6 2-4 2-5 2-3 2-3 2-2 2-1 2 1 2 1 2 0 2 0 2 1 2 1 2-1 2 1 2 1 2 1 2 1 2 1 2 1 2 2 2 2 2 1 2 1 2 1 2 2 2 1 2 0 2-1 2-9 2-15 2-25 2-36 2-35 2-27 2-25 2-21 1-8 1-10 1-8 1-6 1-6 1-7 1-5 1 9 1 14 1 1 1-14 1-16 1-9 1-5 1-1 1 0 1 1 1 1 1 1 1-1 1 0 1-1 1 0 1 1 1 1 1 4 1 8 1 2 1-5 1-4 1-1 1-4 1 0 1-1 1 0 1-2 1-2 1-2 1 2 1-2 1-2 1-1 1-1 1 1 1 1 1 0 1 1 1-1 1 0 1 1 1 2 1 2 1 10 1 3 1-5 1-3 1 5 1-1 1 2 1 4 1-2 1 1 1 5 1 7 1 7 1 3 1 3 1 2 2 4 2 7 2 7 2 4 2 1 2-2 2-1 2-1 2-2 1-2"/><path vector-effect="non-scaling-stroke" d="M0 518l2 3 2-1 2-4 2-1 2-3 2-3 2-6 2-6 2-3 2-1 2-1 2-4 2-3 2 0 2-2 2-2 2-3 2-3 2-6 2-7 2-8 2-4 2-6 2-4 2-3 2-3 2-1 2 1 2 1 2 0 2 0 2 1 2 2 2 0 2 0 2 2 2 1 2 1 2 1 2 2 2 2 2 1 2 2 2 2 2 1 2 3 2 1 2 1 2-2 2-11 2-21 2-33 2-44 2-32 2-29 2-24 2-21 1-7 1-10 1-7 1-7 1-6 1-6 1-7 1 13 1 16 1 0 1-15 1-17 1-13 1-3 1-2 1 0 1 2 1 0 1 1 1 1 1 0 1 0 1 0 1 0 1 2 1 4 1 10 1 2 1-5 1-4 1-3 1-1 1-2 1 0 1-2 1 1 1-3 1-1 1 1 1 1 1-5 1-2 1 0 1 2 1 1 1 0 1 0 1-1 1 2 1 1 1-1 1 6 1 10 1 4 1-5 1-2 1 4 1 0 1 1 1 5 1 0 1-2 1 9 1 7 1 8 1 4 1 3 1 4 2 4 2 9 2 9 2 3 2 0 2 0 2-2 2-1 2-2 1-2"/><path vector-effect="non-scaling-stroke" d="M0 563l2 2 2-1 2-2 2 0 2-1 2-2 2-3 2-2 2-1 2-2 2 0 2-2 2-1 2-1 2-1 2-1 2-2 2-1 2-3 2-3 2-3 2-3 2-2 2-2 2-1 2-1 2 0 2 0 2 1 2 0 2 0 2 0 2 1 2-1 2 1 2 0 2 1 2 0 2 1 2 0 2 1 2 1 2 1 2 1 2 1 2 1 2 0 2 0 2-1 2-5 2-9 2-15 2-22 2-28 2-27 2-23 2-21 1-8 1-9 1-7 1-7 1-6 1-5 1-6 1 7 1 9 1 0 1-10 1-12 1-7 1-3 1 0 1 0 1 0 1 1 1 0 1-1 1 1 1 0 1 0 1 1 1 0 1 1 1 7 1 1 1-4 1-4 1-1 1-1 1-3 1 1 1-1 1-2 1 0 1-2 1 1 1-1 1-2 1-3 1 1 1 1 1 0 1 0 1 0 1 0 1 0 1 0 1 1 1 3 1 7 1 2 1-4 1-1 1 2 1 0 1 0 1 5 1-2 1 0 1 4 1 6 1 3 1 3 1 4 1 1 2 2 2 5 2 6 2 3 2 0 2-1 2-2 2 0 2-3 1-1"/><path vector-effect="non-scaling-stroke" d="M0 511l2 2 2 0 2-5 2-3 2-1 2-5 2-4 2-3 2-5 2-3 2 0 2-2 2-3 2-1 2-2 2-2 2-3 2-4 2-6 2-8 2-7 2-5 2-6 2-4 2-4 2-3 2 0 2 0 2 2 2 0 2 0 2 1 2 3 2 0 2 0 2 2 2 1 2 2 2 1 2 2 2 2 2 3 2 2 2 1 2 3 2 2 2 2 2 0 2-1 2-13 2-24 2-37 2-44 2-34 2-27 2-25 2-19 1-8 1-8 1-6 1-8 1-6 1-5 1-6 1 14 1 16 1 0 1-14 1-19 1-13 1-2 1-2 1-1 1 1 1 1 1 0 1 0 1 0 1 0 1 0 1 1 1 0 1 3 1 11 1 0 1-5 1-4 1-2 1-4 1-3 1 1 1 0 1-3 1-2 1-1 1 2 1-1 1-5 1-2 1 0 1 3 1-1 1 1 1 0 1-1 1 1 1 0 1 2 1 6 1 9 1 5 1-6 1-2 1 3 1 2 1 0 1 6 1-1 1 1 1 5 1 9 1 9 1 4 1 4 1 3 2 5 2 9 2 9 2 4 2 2 2-2 2 1 2-1 2-2 1-2"/><path vector-effect="non-scaling-stroke" d="M0 546l2 4 2-2 2-2 2-2 2-1 2-3 2-4 2-4 2-2 2-1 2-1 2-2 2-2 2-1 2-1 2-2 2-3 2-2 2-5 2-5 2-6 2-4 2-4 2-3 2-3 2-1 2-1 2 0 2 1 2 0 2 0 2 0 2 2 2 0 2 1 2 0 2 2 2 1 2 1 2 1 2 2 2 2 2 1 2 1 2 1 2 2 2 0 2 1 2-1 2-8 2-13 2-22 2-33 2-35 2-27 2-25 2-21 1-9 1-9 1-8 1-6 1-7 1-5 1-5 1 9 1 11 1 1 1-12 1-15 1-9 1-4 1-1 1 1 1 1 1-1 1 1 1-1 1 1 1 0 1-1 1 2 1 0 1 2 1 8 1 1 1-2 1-5 1-2 1-3 1-2 1 0 1 0 1-1 1-2 1-2 1 3 1-2 1-4 1 0 1-3 1 2 1 1 1-1 1 2 1-1 1-1 1 2 1 0 1 4 1 9 1 1 1-3 1-3 1 4 1 0 1 0 1 6 1-3 1-1 1 5 1 8 1 5 1 5 1 2 1 3 2 4 2 6 2 8 2 4 2 1 2-2 2 0 2 0 2-2 1-2"/><path vector-effect="non-scaling-stroke" d="M0 550l2 1 2-2 2-3 2-1 2-2 2-3 2-2 2-3 2-3 2-1 2-1 2-2 2-1 2-1 2-2 2-2 2-2 2-3 2-4 2-6 2-5 2-4 2-4 2-3 2-2 2-2 2-1 2 1 2 1 2 0 2 0 2 0 2 2 2 0 2 0 2 1 2 1 2 1 2 1 2 1 2 2 2 1 2 1 2 1 2 1 2 1 2 1 2 0 2-1 2-7 2-13 2-20 2-32 2-34 2-27 2-24 2-21 1-9 1-8 1-9 1-7 1-6 1-6 1-6 1 9 1 12 1 0 1-12 1-14 1-10 1-3 1-2 1 1 1 0 1 1 1-1 1 1 1 1 1-2 1 0 1 1 1 1 1 3 1 6 1 1 1-3 1-3 1-2 1-3 1-1 1-1 1 2 1-2 1-2 1-1 1 1 1-1 1-3 1-1 1-1 1 2 1 1 1 0 1 0 1 0 1 0 1 1 1 1 1 3 1 9 1 2 1-5 1-3 1 5 1 0 1-1 1 6 1-3 1-1 1 6 1 6 1 6 1 2 1 3 1 2 2 3 2 6 2 6 2 4 2 0 2-1 2 0 2-2 2-3 1-1"/><path vector-effect="non-scaling-stroke" d="M0 562l2 1 2 0 2-1 2 0 2-1 2-1 2-2 2-2 2-1 2-1 2 0 2-2 2-1 2 0 2-1 2-2 2-1 2-1 2-2 2-3 2-3 2-2 2-2 2-1 2-2 2 0 2 0 2 0 2 0 2 0 2 0 2 1 2 0 2 0 2 0 2 1 2 1 2 0 2 0 2 1 2 1 2 1 2 0 2 1 2 1 2 1 2 1 2 0 2-1 2-5 2-8 2-14 2-19 2-26 2-25 2-24 2-20 1-9 1-8 1-8 1-6 1-6 1-6 1-5 1 7 1 8 1-1 1-8 1-12 1-7 1-2 1-1 1 0 1 1 1-1 1 1 1-1 1 1 1-1 1 0 1 1 1 0 1 3 1 5 1 1 1-3 1-2 1-3 1-1 1-1 1-1 1 0 1-1 1-1 1-2 1 1 1 0 1-3 1-2 1 1 1 1 1 0 1 0 1 1 1-1 1 1 1 0 1 1 1 2 1 6 1 2 1-4 1-2 1 3 1-1 1 1 1 3 1-1 1-1 1 5 1 5 1 4 1 3 1 1 1 1 2 3 2 5 2 5 2 3 2 0 2-1 2 0 2-1 2-2 1-1"/><path vector-effect="non-scaling-stroke" d="M0 543l2 3 2 0 2-5 2-3 2-1 2-2 2-5 2-5 2-2 2-2 2-1 2-2 2-2 2-1 2-2 2-2 2-2 2-2 2-4 2-5 2-5 2-3 2-4 2-2 2-3 2-1 2-1 2 1 2 1 2 0 2 0 2 1 2 1 2 0 2 1 2 1 2 1 2 1 2 0 2 2 2 2 2 1 2 1 2 2 2 1 2 1 2 1 2 1 2-2 2-8 2-15 2-25 2-36 2-34 2-29 2-26 2-21 1-10 1-8 1-9 1-6 1-7 1-5 1-6 1 9 1 14 1 1 1-13 1-15 1-11 1-3 1-2 1 1 1 0 1 1 1 0 1 1 1-1 1 1 1-1 1 1 1 1 1 4 1 6 1 1 1-4 1-4 1-3 1-2 1 0 1-1 1-1 1-1 1-3 1-2 1 2 1-1 1-4 1-1 1 0 1 0 1 0 1 1 1 0 1-1 1 1 1 1 1 2 1 2 1 10 1 2 1-5 1-3 1 3 1 1 1 1 1 5 1-1 1-1 1 6 1 7 1 5 1 4 1 3 1 2 2 5 2 6 2 7 2 5 2 0 2-1 2-1 2 0 2-3 1-3"/><path vector-effect="non-scaling-stroke" d="M0 569l2 2 2-1 2-1 2 0 2 1 2-1 2 0 2-1 2 0 2-1 2 1 2-1 2-1 2 0 2 0 2-1 2-1 2-1 2 0 2-1 2 0 2 0 2-1 2 0 2-1 2 0 2 0 2 0 2 1 2 0 2 0 2 0 2 1 2 0 2 1 2 0 2 1 2 0 2 1 2 0 2 1 2 1 2 1 2 1 2 1 2 2 2 1 2 0 2-1 2-3 2-4 2-7 2-9 2-12 2-13 2-16 2-14 1-7 1-6 1-6 1-6 1-5 1-3 1-5 1 3 1 3 1 1 1-6 1-7 1-5 1-2 1-1 1 0 1 0 1 1 1-1 1 0 1 0 1 0 1 0 1 0 1 1 1 0 1 3 1 1 1-2 1-1 1-2 1-1 1 0 1-1 1 1 1-1 1-1 1-1 1 0 1 0 1-1 1-1 1 0 1 0 1 1 1 0 1 0 1 0 1 0 1 1 1 0 1 1 1 4 1 1 1-1 1-1 1 1 1 0 1 0 1 3 1-1 1 0 1 2 1 3 1 3 1 1 1 1 1 1 2 2 2 2 2 3 2 2 2 0 2-1 2 0 2 0 2-1 1-1"/><path vector-effect="non-scaling-stroke" d="M0 544l2 2 2-2 2-1 2-2 2-3 2-3 2-4 2-5 2-3 2-2 2-1 2-2 2-3 2-1 2-1 2-3 2-2 2-2 2-4 2-5 2-5 2-4 2-4 2-2 2-2 2-1 2-1 2 1 2 0 2 0 2 0 2 1 2 1 2 0 2 0 2 1 2 1 2 1 2 1 2 1 2 2 2 1 2 1 2 1 2 1 2 1 2 1 2 0 2-1 2-8 2-13 2-22 2-33 2-34 2-26 2-25 2-19 1-10 1-8 1-8 1-6 1-6 1-5 1-6 1 10 1 12 1 1 1-12 1-14 1-12 1-1 1-2 1 2 1 0 1 1 1 1 1 0 1 0 1 0 1 1 1 0 1 0 1 4 1 8 1 1 1-4 1-5 1-2 1-3 1 0 1-1 1 0 1-2 1-2 1-3 1 1 1-1 1-3 1-3 1 0 1 1 1 1 1 0 1-1 1-2 1 2 1 0 1 1 1 5 1 8 1 2 1-3 1-3 1 4 1 1 1 0 1 6 1-1 1 1 1 5 1 7 1 5 1 5 1 4 1 2 2 5 2 7 2 8 2 3 2 0 2 0 2-1 2-1 2-2 1-2"/><path vector-effect="non-scaling-stroke" d="M0 505l2 5 2-1 2-6 2-1 2-1 2-5 2-5 2-4 2-3 2-2 2 0 2-3 2-3 2 0 2-2 2-3 2-3 2-3 2-7 2-8 2-8 2-5 2-7 2-5 2-3 2-4 2-1 2 1 2 2 2-1 2 1 2 0 2 4 2-2 2 2 2 1 2 2 2 1 2 2 2 2 2 2 2 3 2 1 2 3 2 2 2 2 2 2 2 1 2-3 2-15 2-28 2-44 2-46 2-34 2-30 2-23 2-19 1-9 1-7 1-7 1-6 1-7 1-4 1-6 1 14 1 19 1 0 1-15 1-19 1-12 1-5 1 0 1 1 1 1 1 1 1 0 1 2 1-1 1-1 1 1 1 2 1 0 1 3 1 9 1 3 1-5 1-4 1-4 1-3 1-1 1-2 1 0 1-4 1-1 1-1 1 2 1-2 1-5 1-3 1 2 1-1 1 1 1 1 1 0 1-2 1 3 1-1 1 1 1 4 1 11 1 3 1-5 1-4 1 4 1-1 1 0 1 7 1-4 1 0 1 7 1 6 1 11 1 4 1 3 1 2 2 5 2 7 2 10 2 4 2 1 2-2 2-2 2-1 2-3 1-2"/><path vector-effect="non-scaling-stroke" d="M0 516l2 6 2-3 2-4 2-2 2-2 2-3 2-3 2-6 2-3 2-2 2-1 2-3 2-2 2-2 2-2 2-3 2-4 2-5 2-6 2-9 2-8 2-7 2-5 2-5 2-4 2-2 2-2 2 1 2 1 2 0 2 0 2 1 2 3 2-1 2 1 2 1 2 2 2 0 2 1 2 2 2 2 2 3 2 2 2 1 2 2 2 1 2 2 2 1 2-3 2-13 2-25 2-38 2-46 2-32 2-28 2-24 2-20 1-8 1-8 1-7 1-8 1-5 1-4 1-5 1 12 1 16 1 1 1-16 1-17 1-11 1-4 1-2 1 2 1 1 1 2 1 0 1 1 1-1 1 1 1-1 1 2 1 1 1 5 1 9 1 1 1-6 1-2 1-4 1-4 1-1 1-1 1 0 1 0 1-3 1-3 1 1 1 0 1-4 1-2 1-1 1 1 1 1 1 2 1 0 1-1 1-2 1 2 1 1 1 5 1 11 1 1 1-5 1-3 1 6 1-2 1 2 1 5 1-2 1 0 1 6 1 9 1 6 1 5 1 4 1 2 2 6 2 7 2 8 2 5 2 0 2-1 2-3 2-1 2-2 1-4"/><path vector-effect="non-scaling-stroke" d="M0 490l2 3 2-2 2-4 2-1 2-4 2-4 2-6 2-7 2-5 2-4 2-2 2-3 2-3 2-1 2-2 2-4 2-3 2-4 2-8 2-10 2-9 2-7 2-6 2-6 2-4 2-3 2-1 2 1 2 3 2 0 2 0 2 1 2 4 2-2 2 2 2 2 2 2 2 1 2 1 2 3 2 3 2 4 2 2 2 3 2 3 2 3 2 2 2 2 2-3 2-19 2-36 2-52 2-42 2-34 2-26 2-25 2-17 1-9 1-7 1-7 1-8 1-4 1-7 1-6 1 15 1 20 1 1 1-17 1-21 1-13 1-4 1-3 1 3 1 0 1 2 1-2 1 1 1 1 1 1 1-1 1 2 1 0 1 5 1 10 1 2 1-6 1-3 1-3 1-3 1-2 1-1 1 1 1-2 1 0 1-4 1 3 1 0 1-3 1-3 1-2 1 3 1 2 1 0 1 1 1 0 1 0 1 0 1 2 1 7 1 13 1 4 1-6 1-3 1 6 1 0 1 1 1 9 1-2 1-1 1 9 1 10 1 9 1 5 1 5 1 2 2 9 2 9 2 10 2 5 2 1 2-3 2-1 2-2 2-3 1-3"/><path vector-effect="non-scaling-stroke" d="M0 561l2 1 2 0 2-2 2-1 2-1 2-1 2-2 2-3 2-1 2-1 2 0 2-1 2-2 2 0 2-2 2-1 2-2 2-2 2-4 2-3 2-4 2-3 2-3 2-2 2-1 2-2 2 0 2 0 2 0 2 0 2 0 2 1 2 1 2-1 2 1 2 1 2 0 2 1 2 0 2 1 2 1 2 1 2 1 2 0 2 1 2 0 2 0 2 0 2-2 2-6 2-10 2-17 2-26 2-32 2-27 2-24 2-23 1-8 1-9 1-8 1-8 1-5 1-6 1-5 1 7 1 10 1 0 1-10 1-12 1-8 1-5 1-1 1 1 1 2 1-1 1 2 1 0 1 0 1 0 1 1 1 0 1 1 1 3 1 6 1 2 1-4 1-3 1-3 1-2 1 1 1-1 1-1 1 0 1-2 1-1 1 0 1 1 1-3 1-1 1 0 1 1 1 0 1 1 1 0 1 0 1 0 1 0 1 2 1 3 1 8 1 1 1-3 1-1 1 3 1 0 1 1 1 4 1-1 1-1 1 5 1 6 1 5 1 3 1 3 1 1 2 4 2 5 2 5 2 4 2 0 2-1 2-2 2-1 2-2 1-1"/><path vector-effect="non-scaling-stroke" d="M0 503l2 1 2-1 2-6 2-3 2-3 2-5 2-7 2-7 2-6 2-3 2 0 2-5 2-5 2 0 2-3 2-3 2-3 2-3 2-7 2-8 2-7 2-6 2-6 2-4 2-4 2-3 2 0 2 1 2 2 2 0 2 0 2 1 2 3 2 0 2 1 2 2 2 1 2 1 2 1 2 2 2 3 2 3 2 2 2 2 2 3 2 2 2 3 2 1 2-3 2-17 2-33 2-49 2-43 2-36 2-29 2-23 2-18 1-8 1-7 1-6 1-6 1-6 1-5 1-7 1 17 1 18 1 1 1-17 1-17 1-14 1-5 1 0 1 1 1 2 1 0 1 2 1-2 1 1 1 0 1 1 1 0 1 1 1 5 1 11 1 0 1-4 1-4 1-6 1 0 1-2 1-2 1 1 1-1 1-2 1-4 1 2 1-2 1-2 1-4 1 1 1 1 1 1 1 0 1 1 1 1 1-3 1 2 1 2 1 6 1 13 1 5 1-5 1-2 1 5 1 2 1 2 1 8 1-3 1-1 1 9 1 9 1 12 1 4 1 4 1 3 2 7 2 11 2 10 2 4 2 0 2-3 2 0 2-3 2-2 1-3"/><path vector-effect="non-scaling-stroke" d="M0 505l2 5 2 2 2-5 2-2 2-3 2-5 2-8 2-5 2-4 2-3 2 0 2-3 2-5 2 0 2-3 2-4 2-3 2-4 2-7 2-9 2-8 2-7 2-7 2-4 2-4 2-3 2-1 2 1 2 3 2 0 2 0 2 2 2 2 2-1 2 2 2 1 2 3 2 1 2 1 2 2 2 3 2 2 2 2 2 2 2 3 2 2 2 2 2 1 2-2 2-17 2-32 2-48 2-44 2-36 2-29 2-26 2-17 1-8 1-9 1-7 1-8 1-5 1-6 1-7 1 16 1 18 1 1 1-17 1-19 1-14 1-3 1-2 1 1 1 1 1 0 1 2 1-1 1 0 1 1 1 0 1 1 1 1 1 2 1 13 1 0 1-4 1-7 1-2 1-3 1-1 1-1 1-1 1 1 1-5 1-1 1 2 1-1 1-3 1-4 1 0 1 0 1 1 1 1 1 0 1-1 1 1 1 2 1 2 1 4 1 14 1 2 1-5 1-4 1 6 1 3 1-1 1 8 1-3 1 0 1 7 1 11 1 9 1 4 1 4 1 3 2 7 2 10 2 10 2 6 2 0 2-2 2-1 2-2 2-4 1-1"/><path vector-effect="non-scaling-stroke" d="M0 531l2 3 2 0 2-4 2-3 2-2 2-2 2-5 2-6 2-3 2-1 2 0 2-3 2-2 2 0 2-3 2-2 2-2 2-3 2-6 2-7 2-5 2-5 2-5 2-4 2-3 2-1 2-1 2 0 2 1 2 1 2-1 2 2 2 1 2 0 2 1 2 2 2 0 2 2 2 1 2 2 2 2 2 2 2 1 2 2 2 1 2 2 2 1 2 0 2-1 2-11 2-19 2-31 2-42 2-35 2-30 2-25 2-21 1-9 1-9 1-8 1-7 1-6 1-7 1-6 1 13 1 15 1 0 1-13 1-17 1-12 1-3 1-1 1 1 1 2 1 0 1 0 1 1 1 0 1-1 1 0 1 2 1 1 1 2 1 9 1 2 1-3 1-5 1-2 1-3 1-1 1 0 1 0 1-1 1-3 1-2 1 3 1-2 1-3 1-2 1 0 1 2 1 1 1 0 1 0 1 0 1 0 1-1 1 3 1 5 1 9 1 3 1-5 1-2 1 4 1 0 1 2 1 5 1-2 1 0 1 6 1 8 1 7 1 5 1 1 1 4 2 5 2 7 2 8 2 4 2 0 2-1 2-2 2-1 2-2 1-3"/><path vector-effect="non-scaling-stroke" d="M0 564l2 1 2 0 2-2 2-1 2-1 2-1 2-2 2-2 2-1 2-1 2 0 2-1 2-1 2-1 2-1 2-1 2-2 2-1 2-3 2-3 2-3 2-2 2-2 2-2 2-1 2-1 2-1 2 1 2 0 2 0 2 0 2 0 2 1 2 0 2 0 2 1 2 0 2 1 2 0 2 1 2 1 2 1 2 1 2 1 2 1 2 1 2 0 2 1 2-2 2-5 2-10 2-16 2-23 2-30 2-27 2-24 2-21 1-9 1-9 1-9 1-7 1-5 1-6 1-5 1 6 1 9 1 1 1-11 1-12 1-9 1-2 1-1 1 0 1 1 1 1 1 0 1-1 1 0 1 0 1 0 1 0 1 1 1 3 1 5 1 2 1-3 1-4 1-2 1-3 1-1 1 0 1 0 1-2 1-1 1-1 1 0 1-1 1-2 1-1 1 0 1 0 1 1 1 0 1-1 1 1 1 0 1 1 1 1 1 2 1 8 1 1 1-2 1-2 1 3 1 1 1-1 1 6 1-2 1 1 1 4 1 6 1 4 1 3 1 2 1 2 2 3 2 6 2 6 2 4 2 0 2-1 2 0 2-2 2-2 1-2"/><path vector-effect="non-scaling-stroke" d="M0 561l2 2 2 0 2-2 2-1 2-2 2-1 2-2 2-2 2-2 2-1 2 0 2-2 2-1 2 0 2-2 2-1 2-2 2-1 2-3 2-3 2-3 2-3 2-2 2-2 2-1 2-1 2-1 2 0 2 1 2 0 2 0 2 0 2 1 2 0 2 0 2 1 2 0 2 0 2 1 2 1 2 0 2 1 2 1 2 1 2 0 2 1 2 0 2 0 2-1 2-6 2-9 2-15 2-22 2-28 2-27 2-24 2-21 1-8 1-10 1-7 1-7 1-6 1-6 1-5 1 6 1 10 1 0 1-10 1-12 1-9 1-2 1-1 1-1 1 2 1 0 1 0 1 0 1-1 1 1 1 0 1 1 1 0 1 2 1 7 1 2 1-3 1-3 1-2 1-2 1-2 1 1 1 0 1 0 1-1 1-1 1 1 1-1 1-2 1-1 1 1 1-1 1 1 1 0 1 1 1 1 1-1 1 2 1-2 1 5 1 6 1 2 1-3 1-1 1 2 1 0 1 0 1 4 1 0 1-2 1 5 1 5 1 5 1 2 1 3 1 2 2 2 2 6 2 4 2 3 2 0 2-2 2 0 2-2 2-1 1-2"/><path vector-effect="non-scaling-stroke" d="M0 558l2 2 2 0 2-2 2-2 2-1 2-1 2-4 2-3 2-1 2-1 2-1 2-1 2-2 2-1 2-1 2-2 2-2 2-1 2-3 2-4 2-4 2-3 2-3 2-2 2-2 2-1 2-1 2 0 2 1 2 0 2 0 2 0 2 1 2 0 2 0 2 1 2 1 2 0 2 1 2 1 2 1 2 1 2 0 2 1 2 1 2 1 2 0 2-1 2-1 2-7 2-11 2-20 2-27 2-35 2-26 2-24 2-22 1-10 1-8 1-8 1-7 1-7 1-5 1-6 1 9 1 10 1 0 1-11 1-13 1-11 1-2 1-2 1 1 1-1 1 1 1-1 1 1 1 0 1-1 1 0 1 0 1 2 1 2 1 7 1 1 1-3 1-4 1-2 1-2 1-1 1 0 1-1 1 0 1-1 1-3 1 1 1 1 1-3 1-1 1 0 1 0 1 1 1 1 1 0 1-1 1 1 1 0 1 2 1 2 1 8 1 1 1-3 1-3 1 4 1-1 1 0 1 4 1-1 1-2 1 5 1 6 1 5 1 3 1 2 1 1 2 4 2 5 2 6 2 3 2 0 2-1 2-1 2-2 2-2 1-3"/><path vector-effect="non-scaling-stroke" d="M0 547l2 2 2-1 2-4 2-3 2-1 2-1 2-4 2-4 2-4 2-1 2 0 2-3 2-2 2-1 2-2 2-2 2-2 2-2 2-5 2-5 2-5 2-4 2-3 2-3 2-2 2-2 2-1 2 1 2 1 2-1 2 0 2 0 2 2 2-1 2 1 2 1 2 0 2 1 2 1 2 1 2 2 2 1 2 1 2 1 2 1 2 1 2 1 2 0 2-1 2-6 2-12 2-19 2-30 2-32 2-26 2-24 2-20 1-10 1-7 1-8 1-7 1-7 1-5 1-5 1 8 1 12 1 0 1-11 1-14 1-10 1-3 1-2 1 2 1 1 1 0 1 0 1 1 1 0 1 0 1 1 1 0 1 0 1 5 1 5 1 3 1-4 1-4 1-2 1-2 1-1 1 0 1-2 1 1 1-3 1-2 1 0 1 0 1-3 1-2 1 1 1 0 1 2 1 0 1 0 1-1 1 0 1 1 1 2 1 3 1 9 1 1 1-3 1-2 1 3 1 0 1 1 1 5 1-2 1 0 1 6 1 6 1 6 1 3 1 3 1 3 2 4 2 6 2 6 2 3 2 1 2-2 2-1 2 0 2-4 1 0"/><path vector-effect="non-scaling-stroke" d="M0 544l2 2 2 0 2-3 2-1 2-3 2-3 2-3 2-2 2-2 2-2 2 0 2-2 2-2 2-1 2-2 2-3 2-2 2-3 2-5 2-6 2-6 2-4 2-5 2-3 2-3 2-2 2 0 2 0 2 1 2 0 2 0 2 1 2 2 2-1 2 1 2 1 2 1 2 1 2 1 2 1 2 2 2 2 2 1 2 2 2 1 2 2 2 1 2 1 2-1 2-8 2-15 2-24 2-35 2-36 2-28 2-26 2-21 1-9 1-9 1-8 1-7 1-5 1-5 1-7 1 10 1 14 1 0 1-13 1-15 1-10 1-3 1-2 1 3 1 0 1-2 1 1 1 2 1-1 1 1 1 0 1 0 1 0 1 3 1 8 1 2 1-5 1-3 1-2 1-3 1 0 1-1 1-1 1 0 1-1 1-3 1 1 1 1 1-4 1-1 1 1 1 1 1 1 1 1 1-1 1 0 1 0 1 1 1 1 1 4 1 8 1 2 1-6 1-2 1 2 1 1 1-2 1 6 1-3 1-1 1 6 1 5 1 7 1 4 1 2 1 2 2 3 2 7 2 7 2 4 2 0 2 0 2-2 2 0 2-3 1-2"/><path vector-effect="non-scaling-stroke" d="M0 505l2 4 2-1 2-5 2-3 2-2 2-3 2-5 2-7 2-5 2-3 2 0 2-3 2-4 2-1 2-3 2-3 2-2 2-4 2-7 2-8 2-7 2-7 2-6 2-5 2-4 2-2 2-1 2 1 2 1 2 0 2 0 2 1 2 2 2-1 2 1 2 2 2 1 2 2 2 1 2 2 2 3 2 2 2 3 2 2 2 2 2 3 2 2 2 1 2-2 2-16 2-30 2-44 2-43 2-35 2-28 2-24 2-17 1-9 1-6 1-7 1-7 1-5 1-6 1-6 1 14 1 19 1 0 1-15 1-19 1-13 1-4 1-1 1 3 1 1 1 1 1 0 1-1 1 1 1-1 1 1 1 1 1 1 1 3 1 10 1 2 1-6 1-6 1-2 1-2 1-4 1 0 1 0 1-2 1-3 1-3 1 0 1-1 1-4 1-1 1-1 1 2 1 1 1-1 1 0 1 0 1 0 1 1 1 1 1 4 1 11 1 3 1-6 1-3 1 3 1 0 1 0 1 8 1-4 1-2 1 8 1 9 1 10 1 4 1 1 1 4 2 5 2 9 2 9 2 5 2 2 2-2 2-1 2 0 2-3 1-3"/><path vector-effect="non-scaling-stroke" d="M0 533l2 3 2-1 2-3 2-1 2-1 2-3 2-5 2-5 2-1 2-3 2 0 2-3 2-3 2-1 2-2 2-3 2-3 2-3 2-5 2-7 2-5 2-6 2-4 2-3 2-3 2-2 2-1 2 1 2 0 2 0 2 0 2 2 2 1 2-1 2 1 2 1 2 1 2 1 2 0 2 2 2 2 2 2 2 1 2 2 2 2 2 2 2 1 2 1 2-1 2-8 2-17 2-26 2-38 2-33 2-27 2-25 2-20 1-9 1-8 1-8 1-6 1-6 1-5 1-6 1 11 1 14 1 1 1-14 1-14 1-9 1-5 1-2 1 0 1 2 1 0 1 1 1 0 1 1 1-1 1 0 1 1 1 2 1 4 1 7 1 2 1-4 1-4 1-2 1-1 1-3 1 1 1 1 1-2 1-2 1-1 1 1 1 0 1-4 1 0 1-1 1 0 1 1 1 1 1 1 1-1 1-1 1 1 1 2 1 4 1 10 1 2 1-4 1-2 1 2 1 2 1 1 1 5 1-2 1 1 1 6 1 6 1 8 1 3 1 3 1 3 2 5 2 8 2 6 2 3 2 0 2-2 2-1 2-2 2-3 1-2"/><path vector-effect="non-scaling-stroke" d="M0 497l2 4 2-4 2-4 2-1 2-1 2-5 2-9 2-5 2-3 2-3 2-1 2-2 2-4 2-2 2-2 2-3 2-4 2-5 2-7 2-10 2-9 2-7 2-8 2-6 2-4 2-3 2-3 2 2 2 1 2 0 2-1 2 1 2 3 2-1 2 1 2 2 2 2 2 2 2 2 2 2 2 4 2 3 2 3 2 2 2 3 2 3 2 2 2 2 2-3 2-18 2-33 2-49 2-41 2-35 2-27 2-23 2-17 1-10 1-5 1-8 1-8 1-5 1-5 1-6 1 16 1 19 1 1 1-16 1-19 1-14 1-3 1-3 1 2 1 1 1 0 1 2 1 0 1 1 1-1 1 1 1 0 1 3 1 3 1 10 1 2 1-6 1-4 1-4 1-4 1-3 1 0 1-1 1-2 1-3 1-2 1 1 1-1 1-6 1-2 1 1 1 0 1 1 1 0 1 1 1-3 1 0 1 1 1 2 1 5 1 11 1 4 1-7 1-3 1 5 1-1 1-3 1 10 1-3 1-1 1 7 1 11 1 7 1 5 1 3 1 4 2 5 2 9 2 9 2 6 2 0 2 0 2-1 2-1 2-5 1-1"/><path vector-effect="non-scaling-stroke" d="M0 502l2 6 2-1 2-5 2-3 2-3 2-3 2-4 2-6 2-3 2-2 2-1 2-2 2-4 2-1 2-3 2-3 2-3 2-5 2-8 2-9 2-10 2-7 2-8 2-6 2-4 2-3 2-2 2 0 2 2 2 0 2 0 2 1 2 2 2-1 2 1 2 2 2 1 2 1 2 2 2 1 2 3 2 3 2 2 2 2 2 2 2 2 2 1 2 1 2-3 2-17 2-32 2-48 2-43 2-35 2-28 2-23 2-19 1-7 1-8 1-8 1-6 1-5 1-7 1-7 1 15 1 21 1 1 1-19 1-20 1-12 1-5 1-3 1 2 1 3 1 0 1 0 1 0 1 0 1 1 1-1 1 2 1 1 1 5 1 11 1 1 1-5 1-5 1-3 1-3 1 0 1 0 1-3 1 1 1-3 1-3 1 4 1-2 1-5 1-1 1-1 1 3 1 0 1 1 1 1 1 1 1-2 1 1 1 2 1 5 1 11 1 3 1-5 1-3 1 2 1 2 1-2 1 7 1-1 1-2 1 9 1 9 1 8 1 5 1 3 1 3 2 6 2 8 2 10 2 6 2 1 2-3 2-1 2-2 2-3 1-3"/><path vector-effect="non-scaling-stroke" d="M0 542l2 4 2-3 2-4 2 0 2-2 2-3 2-3 2-2 2-3 2-1 2 0 2-2 2-2 2-1 2-2 2-2 2-3 2-3 2-4 2-7 2-5 2-4 2-5 2-2 2-3 2-3 2 0 2 1 2 0 2 1 2-1 2 1 2 2 2-1 2 0 2 2 2 0 2 1 2 0 2 2 2 2 2 1 2 1 2 1 2 2 2 1 2 1 2 1 2-1 2-7 2-12 2-22 2-31 2-34 2-25 2-25 2-21 1-8 1-9 1-7 1-7 1-5 1-6 1-6 1 10 1 12 1 0 1-12 1-14 1-11 1-2 1-3 1 2 1 2 1-1 1 1 1 1 1 0 1 0 1 0 1 0 1 1 1 3 1 7 1 2 1-5 1-3 1-2 1-3 1-2 1-1 1 1 1-2 1-1 1-3 1 1 1-1 1-4 1-1 1-1 1 1 1 2 1 0 1-1 1-1 1 1 1 0 1 2 1 1 1 10 1 2 1-5 1-2 1 3 1 1 1-1 1 6 1-2 1-1 1 6 1 6 1 7 1 4 1 1 1 2 2 4 2 6 2 7 2 4 2 1 2-1 2 0 2-2 2-3 1-2"/><path vector-effect="non-scaling-stroke" d="M0 534l2 3 2 1 2-3 2-3 2-2 2-2 2-5 2-3 2-3 2-1 2-2 2-3 2-2 2-1 2-2 2-3 2-2 2-3 2-5 2-7 2-6 2-5 2-5 2-3 2-3 2-1 2-2 2 2 2 1 2 0 2 0 2 1 2 1 2 0 2 0 2 2 2 1 2 1 2 0 2 2 2 1 2 2 2 1 2 1 2 1 2 1 2 2 2 0 2-3 2-11 2-20 2-32 2-44 2-33 2-31 2-25 2-22 1-9 1-7 1-8 1-7 1-7 1-4 1-7 1 11 1 17 1 0 1-14 1-16 1-12 1-3 1-2 1 2 1 1 1 1 1 0 1 1 1 0 1 1 1 1 1-1 1 3 1 3 1 8 1 3 1-5 1-2 1-4 1-3 1 0 1-1 1 0 1-3 1-2 1 0 1 0 1 0 1-4 1-2 1-1 1 1 1 0 1 1 1 0 1 0 1 0 1-1 1 2 1 4 1 10 1 2 1-5 1-1 1 3 1 1 1 0 1 7 1-3 1-1 1 8 1 8 1 6 1 5 1 4 1 3 2 4 2 8 2 9 2 4 2 2 2-3 2 0 2-1 2-2 1-2"/><path vector-effect="non-scaling-stroke" d="M0 553l2 3 2-1 2-4 2-1 2 0 2-1 2-3 2-3 2-2 2-1 2 0 2-1 2-2 2-1 2-1 2-2 2-2 2-2 2-3 2-5 2-4 2-3 2-4 2-2 2-2 2-2 2 0 2 0 2 1 2-1 2 0 2 1 2 1 2 0 2 0 2 1 2 1 2 0 2 0 2 2 2 1 2 1 2 1 2 1 2 0 2 1 2 0 2 1 2-2 2-6 2-12 2-20 2-29 2-36 2-26 2-25 2-21 1-10 1-7 1-9 1-6 1-7 1-7 1-5 1 9 1 11 1-1 1-11 1-13 1-9 1-4 1-1 1 1 1 2 1 0 1 0 1 0 1 0 1 1 1 0 1 0 1 2 1 3 1 6 1 2 1-3 1-4 1-2 1-2 1-1 1 0 1 0 1-2 1-1 1-2 1 1 1 0 1-4 1-2 1 0 1 2 1 2 1-2 1 1 1-1 1-1 1 2 1 1 1 2 1 9 1 2 1-4 1-2 1 2 1-1 1 2 1 3 1-1 1 0 1 5 1 4 1 7 1 3 1 2 1 3 2 3 2 4 2 6 2 4 2 0 2-1 2-1 2-1 2-5 1 0"/><path vector-effect="non-scaling-stroke" d="M0 526l2 0 2 0 2-3 2-3 2-3 2-4 2-3 2-5 2-4 2-1 2-2 2-2 2-3 2-1 2-2 2-2 2-2 2-3 2-5 2-7 2-6 2-5 2-5 2-3 2-3 2-1 2-1 2 0 2 2 2 0 2 0 2 1 2 2 2-1 2 1 2 1 2 1 2 2 2 0 2 2 2 2 2 2 2 1 2 1 2 2 2 2 2 0 2 1 2-2 2-9 2-18 2-30 2-39 2-33 2-28 2-25 2-20 1-7 1-11 1-7 1-6 1-6 1-6 1-5 1 12 1 13 1 2 1-13 1-17 1-11 1-3 1-1 1 1 1 1 1 3 1-1 1 2 1 0 1 0 1 1 1 1 1 1 1 4 1 10 1 0 1-2 1-4 1-2 1-3 1-3 1 1 1 1 1-3 1-2 1-2 1 2 1-1 1-4 1-2 1 0 1 1 1 0 1-1 1 2 1-1 1 0 1 0 1 2 1 4 1 12 1 2 1-5 1-1 1 6 1-1 1 1 1 7 1-3 1 1 1 7 1 7 1 8 1 4 1 4 1 3 2 5 2 10 2 6 2 5 2-1 2 0 2-1 2-2 2-3 1-2"/><path vector-effect="non-scaling-stroke" d="M0 506l2 4 2 0 2-4 2-4 2-4 2-3 2-5 2-9 2-4 2-3 2 0 2-3 2-4 2 0 2-2 2-2 2-4 2-3 2-6 2-8 2-7 2-5 2-6 2-5 2-3 2-2 2-1 2 0 2 2 2 0 2 0 2 1 2 2 2-1 2 1 2 2 2 1 2 1 2 1 2 2 2 3 2 3 2 1 2 3 2 2 2 2 2 1 2 2 2-4 2-14 2-29 2-43 2-46 2-34 2-30 2-23 2-21 1-8 1-7 1-8 1-7 1-5 1-4 1-7 1 13 1 20 1 0 1-15 1-18 1-12 1-4 1 1 1 0 1 1 1 2 1 1 1 1 1 1 1-1 1-1 1 3 1 2 1 3 1 9 1 3 1-5 1-4 1-3 1-3 1-2 1-2 1 1 1-2 1-2 1-4 1 3 1-2 1-5 1-2 1-1 1 1 1 1 1 0 1 0 1-1 1 0 1 1 1-1 1 7 1 10 1 3 1-5 1-3 1 4 1 1 1 0 1 7 1-4 1 1 1 7 1 10 1 9 1 4 1 5 1 2 2 6 2 10 2 9 2 7 2 1 2-2 2 0 2-3 2-2 1-4"/><path vector-effect="non-scaling-stroke" d="M0 496l2 6 2-2 2-3 2-1 2-1 2-4 2-7 2-6 2-4 2-2 2 0 2-3 2-4 2-1 2-3 2-5 2-4 2-6 2-8 2-11 2-11 2-8 2-9 2-5 2-5 2-4 2-3 2 1 2 2 2 0 2 0 2 1 2 4 2-1 2 2 2 2 2 2 2 1 2 1 2 3 2 3 2 3 2 3 2 2 2 3 2 3 2 2 2 2 2-3 2-20 2-36 2-53 2-43 2-35 2-29 2-24 2-17 1-9 1-8 1-5 1-8 1-5 1-6 1-6 1 17 1 20 1 0 1-13 1-22 1-13 1-3 1-4 1 4 1 1 1 2 1 0 1 2 1 0 1-1 1 1 1 1 1 1 1 5 1 10 1 2 1-4 1-7 1-3 1-4 1-2 1-1 1 0 1-2 1-2 1-4 1 3 1 0 1-6 1-1 1-1 1 2 1 0 1 0 1 0 1 1 1 1 1 0 1 2 1 7 1 15 1 5 1-6 1-2 1 7 1 1 1 2 1 8 1-1 1 2 1 8 1 10 1 10 1 8 1 3 1 4 2 8 2 11 2 9 2 6 2 0 2-2 2-1 2-2 2-3 1-2"/><path vector-effect="non-scaling-stroke" d="M0 552l2 1 2 0 2-3 2-2 2 0 2-2 2-3 2-3 2-2 2-2 2 0 2-2 2-2 2-1 2-2 2-1 2-3 2-2 2-4 2-5 2-5 2-3 2-4 2-2 2-2 2-2 2 0 2 0 2 1 2 0 2 0 2 1 2 1 2 0 2 0 2 1 2 1 2 1 2 1 2 0 2 2 2 1 2 1 2 1 2 1 2 1 2 1 2 1 2-1 2-7 2-12 2-20 2-30 2-35 2-26 2-26 2-21 1-10 1-7 1-9 1-7 1-6 1-6 1-6 1 10 1 11 1 0 1-11 1-13 1-10 1-3 1-1 1 0 1 1 1 1 1 1 1-1 1 0 1 0 1 1 1 1 1 0 1 4 1 6 1 2 1-4 1-3 1-2 1-2 1-1 1 0 1-2 1 1 1-2 1-3 1 2 1-1 1-3 1-1 1-1 1 1 1 0 1 1 1 0 1 0 1-1 1 0 1 2 1 2 1 7 1 3 1-5 1-2 1 2 1 0 1 0 1 5 1-3 1 0 1 6 1 5 1 6 1 3 1 1 1 2 2 4 2 5 2 6 2 3 2 0 2-2 2-2 2-2 2-2 1-3"/><path vector-effect="non-scaling-stroke" d="M0 573l2 0 2 0 2 0 2-1 2 0 2 1 2-1 2 0 2-1 2 1 2 0 2-1 2 0 2 0 2 0 2-1 2 0 2-1 2 0 2 0 2-1 2 0 2 0 2 0 2-1 2 0 2 0 2 0 2 1 2 0 2-1 2 1 2 0 2 0 2 0 2 1 2 0 2 1 2 0 2 0 2 1 2 0 2 1 2 0 2 1 2 1 2 0 2 1 2-1 2-3 2-3 2-5 2-8 2-10 2-11 2-14 2-14 1-6 1-6 1-5 1-6 1-4 1-4 1-4 1 2 1 4 1-2 1-4 1-6 1-4 1-1 1-1 1 0 1 0 1 0 1 1 1-1 1 0 1 0 1 1 1 0 1 0 1 1 1 3 1 0 1-1 1-1 1-1 1-1 1 0 1 0 1-1 1 0 1-1 1 0 1 1 1-1 1-1 1-1 1 0 1 1 1 0 1 0 1 0 1 0 1 0 1 0 1 1 1 1 1 3 1 0 1-1 1-1 1 2 1-1 1 0 1 2 1-1 1 0 1 2 1 2 1 3 1 1 1 1 1 1 2 1 2 3 2 2 2 2 2 0 2-1 2 0 2-1 2-1 1 0"/><path vector-effect="non-scaling-stroke" d="M0 541l2 3 2 0 2-2 2-3 2-3 2-2 2-3 2-4 2-2 2-1 2-1 2-2 2-2 2-1 2-2 2-2 2-2 2-3 2-5 2-6 2-5 2-4 2-4 2-3 2-3 2-2 2-1 2 1 2 0 2 0 2 0 2 1 2 1 2-1 2 1 2 1 2 1 2 1 2 1 2 1 2 2 2 2 2 1 2 1 2 2 2 1 2 1 2 0 2-1 2-8 2-13 2-22 2-32 2-34 2-27 2-24 2-21 1-8 1-9 1-7 1-7 1-7 1-4 1-6 1 10 1 13 1 1 1-12 1-15 1-10 1-3 1-1 1 1 1 1 1 1 1-1 1 1 1 0 1-1 1 1 1 0 1 1 1 4 1 6 1 0 1-2 1-5 1-3 1-2 1 0 1-2 1 0 1-1 1-2 1-4 1 3 1 0 1-4 1-2 1-1 1 1 1 1 1 1 1-1 1 0 1 0 1 2 1 0 1 3 1 8 1 3 1-6 1-1 1 2 1 0 1 0 1 5 1-3 1 0 1 5 1 7 1 4 1 4 1 2 1 2 2 4 2 7 2 6 2 4 2 0 2-1 2-1 2-1 2-2 1-2"/><path vector-effect="non-scaling-stroke" d="M0 500l2 3 2 1 2-3 2-3 2-3 2-4 2-5 2-7 2-4 2-3 2-2 2-3 2-4 2-1 2-5 2-4 2-5 2-6 2-9 2-11 2-12 2-8 2-9 2-6 2-5 2-3 2-3 2 1 2 2 2 0 2 0 2 1 2 4 2-1 2 1 2 3 2 2 2 1 2 3 2 2 2 4 2 3 2 3 2 2 2 3 2 2 2 2 2 1 2-6 2-23 2-44 2-58 2-40 2-35 2-30 2-20 2-17 1-8 1-7 1-6 1-7 1-6 1-4 1-7 1 17 1 21 1 2 1-18 1-21 1-13 1-4 1-1 1 2 1 0 1 1 1 1 1 0 1 1 1-2 1 2 1 0 1 0 1 5 1 10 1 2 1-3 1-7 1-5 1-1 1-4 1 0 1-2 1-1 1-3 1-2 1 3 1-2 1-6 1-2 1-1 1 2 1 0 1 2 1 0 1-3 1 0 1 3 1 2 1 6 1 14 1 5 1-5 1-4 1 7 1 1 1 2 1 11 1-3 1 1 1 10 1 10 1 11 1 7 1 3 1 7 2 7 2 14 2 8 2 6 2 2 2-2 2-1 2-1 2-5 1-1"/><path vector-effect="non-scaling-stroke" d="M0 531l2 3 2-1 2-3 2-1 2-2 2-3 2-2 2-4 2-2 2-2 2 0 2-2 2-2 2-1 2-3 2-2 2-3 2-3 2-6 2-7 2-6 2-5 2-5 2-4 2-3 2-2 2-2 2 1 2 1 2 0 2-1 2 1 2 2 2-1 2 1 2 2 2 0 2 1 2 1 2 2 2 1 2 2 2 2 2 1 2 2 2 1 2 1 2 0 2-1 2-9 2-17 2-27 2-39 2-34 2-28 2-25 2-21 1-8 1-9 1-9 1-6 1-6 1-6 1-6 1 12 1 13 1 1 1-13 1-16 1-12 1-2 1-2 1 1 1 0 1 1 1 1 1 0 1 0 1 0 1-1 1 1 1 0 1 5 1 8 1 1 1-4 1-4 1-4 1-2 1-1 1 0 1-2 1-1 1-2 1-3 1 3 1-1 1-4 1-2 1 1 1 0 1 0 1 1 1 0 1-1 1 1 1-1 1 1 1 4 1 11 1 1 1-4 1-3 1 5 1-2 1 1 1 6 1-3 1 0 1 6 1 7 1 7 1 4 1 3 1 2 2 4 2 8 2 7 2 4 2 1 2 0 2-3 2-1 2-2 1-1"/><path vector-effect="non-scaling-stroke" d="M0 532l2 4 2-3 2-2 2-1 2-2 2-2 2-5 2-4 2-3 2 0 2-1 2-2 2-2 2-1 2-2 2-2 2-3 2-3 2-5 2-6 2-6 2-5 2-5 2-3 2-3 2-2 2-1 2 1 2 0 2 0 2 0 2 0 2 2 2-1 2 1 2 0 2 1 2 1 2 1 2 1 2 2 2 2 2 1 2 1 2 2 2 2 2 1 2 1 2-1 2-7 2-16 2-23 2-36 2-34 2-27 2-24 2-20 1-10 1-8 1-7 1-7 1-7 1-6 1-5 1 9 1 13 1 1 1-12 1-16 1-12 1-3 1-2 1 1 1 1 1-1 1 1 1 2 1-1 1-1 1 1 1 0 1 2 1 4 1 8 1 3 1-4 1-4 1-4 1 0 1-1 1 0 1 0 1-1 1-3 1-1 1 1 1 0 1-3 1-2 1 1 1 1 1 1 1 1 1-1 1 0 1 0 1-1 1 2 1 4 1 8 1 3 1-6 1-2 1 3 1 1 1-1 1 6 1-2 1-2 1 6 1 6 1 7 1 3 1 3 1 1 2 3 2 9 2 5 2 4 2 0 2-1 2-2 2 0 2-3 1-1"/><path vector-effect="non-scaling-stroke" d="M0 563l2 0 2-2 2-1 2-1 2-2 2-1 2-3 2-3 2-1 2-2 2-1 2-2 2-1 2-1 2-1 2-1 2-3 2-1 2-3 2-4 2-3 2-3 2-3 2-2 2-2 2-1 2 0 2 0 2 1 2 0 2 0 2 0 2 1 2 0 2 0 2 1 2 1 2 1 2 0 2 1 2 1 2 1 2 1 2 1 2 1 2 0 2 1 2 0 2-1 2-5 2-9 2-15 2-23 2-29 2-26 2-24 2-20 1-9 1-8 1-8 1-7 1-6 1-5 1-6 1 7 1 10 1 0 1-11 1-12 1-8 1-3 1-2 1 1 1 1 1 1 1-1 1 1 1-1 1 0 1 1 1-1 1 1 1 2 1 6 1 1 1-3 1-3 1-3 1-1 1-2 1 0 1-1 1-1 1-1 1-2 1 1 1-1 1-3 1-1 1-1 1 0 1 1 1 0 1-1 1 1 1 0 1 0 1 1 1 4 1 9 1 2 1-3 1-1 1 4 1 1 1 1 1 5 1-1 1 1 1 5 1 7 1 6 1 3 1 4 1 1 2 5 2 7 2 6 2 3 2 0 2 0 2-1 2 0 2-2 1-2"/><path vector-effect="non-scaling-stroke" d="M0 512l2 3 2-2 2-4 2-3 2-2 2-2 2-3 2-6 2-4 2-2 2-1 2-1 2-3 2-1 2-3 2-4 2-3 2-3 2-6 2-9 2-8 2-6 2-7 2-4 2-4 2-3 2-1 2 1 2 1 2 1 2-1 2 1 2 2 2-1 2 1 2 3 2 1 2 1 2 2 2 1 2 3 2 3 2 1 2 2 2 2 2 3 2 2 2 0 2-2 2-15 2-28 2-43 2-46 2-35 2-30 2-23 2-21 1-8 1-7 1-9 1-6 1-5 1-5 1-6 1 14 1 17 1 1 1-14 1-18 1-13 1-3 1-1 1 2 1 1 1 2 1 0 1 0 1 2 1 0 1 0 1 2 1 1 1 4 1 10 1 1 1-4 1-5 1-2 1-4 1-1 1 0 1-2 1 1 1-4 1-1 1 1 1-1 1-5 1-2 1-1 1 4 1-1 1 0 1 0 1 0 1 0 1 0 1 2 1 2 1 12 1 3 1-8 1-3 1 5 1-1 1 0 1 7 1-2 1-2 1 7 1 8 1 9 1 3 1 4 1 2 2 4 2 10 2 9 2 5 2 1 2-3 2 0 2-2 2-3 1-2"/><path vector-effect="non-scaling-stroke" d="M0 497l2 3 2-1 2-3 2-3 2-2 2-5 2-7 2-7 2-5 2-2 2 0 2-3 2-3 2-1 2-4 2-3 2-4 2-5 2-8 2-11 2-8 2-8 2-8 2-5 2-5 2-3 2-3 2 2 2 1 2 0 2-1 2 2 2 4 2-2 2 2 2 2 2 1 2 2 2 2 2 3 2 3 2 3 2 2 2 2 2 4 2 3 2 2 2 2 2-3 2-18 2-34 2-49 2-42 2-35 2-28 2-23 2-19 1-7 1-8 1-7 1-7 1-5 1-4 1-7 1 15 1 19 1 2 1-15 1-22 1-13 1-4 1-1 1 3 1 2 1-3 1 3 1-1 1 1 1-2 1 2 1 1 1 0 1 4 1 12 1 1 1-6 1-5 1-4 1-4 1-2 1 0 1 0 1-3 1-4 1 0 1 2 1-3 1-5 1-1 1 0 1 0 1 2 1-1 1 0 1 0 1 1 1 0 1 1 1 5 1 13 1 3 1-6 1-2 1 5 1 0 1 2 1 8 1-4 1-1 1 7 1 10 1 10 1 5 1 3 1 4 2 6 2 9 2 11 2 4 2 1 2-3 2 0 2-1 2-5 1-3"/><path vector-effect="non-scaling-stroke" d="M0 546l2 2 2-1 2-4 2-1 2-2 2-3 2-4 2-3 2-2 2-2 2-1 2-2 2-3 2-1 2-2 2-2 2-2 2-2 2-4 2-6 2-4 2-4 2-4 2-3 2-2 2-2 2 0 2 0 2 1 2 1 2-1 2 1 2 1 2 0 2 0 2 1 2 1 2 1 2 0 2 2 2 1 2 2 2 1 2 1 2 2 2 1 2 1 2 0 2-1 2-7 2-12 2-20 2-29 2-34 2-25 2-24 2-21 1-8 1-8 1-8 1-8 1-5 1-5 1-6 1 10 1 11 1 0 1-12 1-14 1-9 1-4 1-1 1 1 1 0 1 0 1 1 1-1 1 0 1 0 1-1 1 1 1 1 1 2 1 7 1 2 1-5 1-2 1-4 1-1 1-2 1 0 1-1 1-1 1-1 1-2 1 0 1 1 1-4 1-2 1 1 1 1 1 1 1 1 1 0 1 0 1 0 1 1 1 1 1 5 1 8 1 3 1-5 1-2 1 4 1 1 1 0 1 6 1-2 1 0 1 5 1 7 1 5 1 4 1 3 1 1 2 5 2 6 2 6 2 3 2 0 2-1 2-2 2 0 2-3 1-2"/><path vector-effect="non-scaling-stroke" d="M0 564l2 2 2 0 2-2 2-1 2 1 2-2 2-3 2-1 2-1 2-1 2 0 2-1 2-1 2-1 2-1 2-1 2-2 2-2 2-3 2-3 2-3 2-2 2-3 2-1 2-2 2-1 2 0 2 0 2 1 2 0 2 0 2 0 2 1 2 0 2 0 2 1 2 0 2 1 2 0 2 0 2 1 2 2 2 0 2 1 2 1 2 1 2 1 2 0 2-1 2-5 2-9 2-14 2-21 2-27 2-26 2-24 2-20 1-8 1-10 1-8 1-6 1-6 1-6 1-5 1 7 1 7 1 1 1-10 1-11 1-8 1-3 1-1 1 1 1 0 1 0 1 2 1 0 1 0 1 0 1 0 1 0 1 1 1 2 1 5 1 2 1-3 1-3 1-1 1-1 1-1 1-1 1-1 1 0 1-1 1-2 1 1 1 0 1-3 1 0 1 0 1 0 1 1 1 1 1-1 1 0 1 0 1 0 1 1 1 3 1 7 1 2 1-4 1-1 1 2 1 0 1 0 1 5 1-2 1 0 1 4 1 5 1 5 1 3 1 3 1 1 2 2 2 6 2 5 2 3 2 1 2-2 2 0 2-1 2-1 1-2"/><path vector-effect="non-scaling-stroke" d="M0 546l2 2 2-2 2-2 2-2 2-1 2-3 2-4 2-3 2-2 2-2 2-1 2-2 2-2 2-1 2-1 2-2 2-3 2-2 2-4 2-5 2-5 2-3 2-4 2-3 2-2 2-1 2-1 2 1 2 1 2 0 2 0 2 0 2 2 2 0 2 1 2 1 2 1 2 1 2 0 2 1 2 2 2 1 2 1 2 1 2 1 2 1 2 1 2 0 2-1 2-7 2-12 2-20 2-31 2-34 2-26 2-25 2-21 1-9 1-9 1-7 1-8 1-7 1-5 1-6 1 10 1 11 1 0 1-11 1-14 1-10 1-2 1-2 1 1 1 0 1 1 1 1 1-1 1 1 1-1 1 1 1 1 1 0 1 3 1 8 1 1 1-3 1-4 1-2 1-2 1-2 1 0 1 0 1-1 1-1 1-2 1 2 1-1 1-4 1-2 1 1 1 0 1 1 1 0 1 1 1 0 1-1 1 1 1 0 1 3 1 9 1 2 1-5 1-2 1 3 1-1 1 0 1 5 1-2 1 0 1 5 1 6 1 6 1 4 1 2 1 2 2 4 2 6 2 7 2 3 2 1 2-2 2 0 2-1 2-3 1-1"/><path vector-effect="non-scaling-stroke" d="M0 561l2 1 2 0 2-1 2 0 2 1 2 0 2-1 2-2 2 0 2 0 2 0 2-1 2-1 2 0 2-2 2-1 2-1 2-1 2-1 2-1 2 0 2-1 2-1 2 0 2-1 2 0 2 0 2 0 2 0 2 0 2 0 2 0 2 1 2 1 2 1 2 1 2 1 2 0 2 1 2 1 2 2 2 1 2 1 2 2 2 2 2 2 2 3 2 1 2-2 2-4 2-8 2-10 2-14 2-19 2-20 2-20 2-18 1-8 1-8 1-7 1-6 1-6 1-4 1-5 1 4 1 6 1-1 1-7 1-9 1-5 1-3 1-1 1 0 1 1 1 0 1 0 1 0 1 1 1-1 1 1 1 0 1 1 1 1 1 4 1 1 1-2 1-2 1-2 1-1 1-1 1-1 1 0 1-1 1-1 1-1 1 1 1-1 1-2 1-1 1 0 1 0 1 0 1 1 1 0 1-1 1 0 1 1 1 0 1 3 1 4 1 1 1-2 1-2 1 2 1 0 1 0 1 2 1-1 1 1 1 2 1 4 1 3 1 2 1 2 1 0 2 2 2 4 2 4 2 2 2 0 2 0 2-1 2 0 2-2 1-1"/><path vector-effect="non-scaling-stroke" d="M0 502l2 1 2-2 2-4 2-6 2-4 2-5 2-7 2-5 2-5 2-4 2-1 2-5 2-4 2-1 2-3 2-3 2-4 2-3 2-6 2-10 2-8 2-6 2-7 2-4 2-4 2-1 2-2 2 2 2 2 2 0 2 0 2 2 2 3 2-2 2 2 2 2 2 2 2 1 2 1 2 2 2 3 2 2 2 3 2 2 2 3 2 2 2 2 2 2 2-3 2-17 2-32 2-48 2-42 2-33 2-29 2-22 2-18 1-7 1-8 1-8 1-5 1-6 1-4 1-8 1 16 1 18 1 0 1-16 1-20 1-14 1-2 1-2 1 2 1 0 1 2 1-1 1 1 1 0 1-1 1 0 1-1 1 2 1 4 1 9 1 3 1-6 1-5 1-4 1-3 1-4 1 0 1-1 1-2 1-1 1-5 1 3 1-2 1-5 1-2 1-2 1 2 1 2 1 0 1 1 1-2 1 0 1 3 1 0 1 3 1 15 1 2 1-6 1-4 1 5 1 0 1 3 1 6 1-3 1 0 1 5 1 11 1 9 1 5 1 2 1 4 2 5 2 10 2 9 2 5 2 1 2-1 2-2 2-1 2-4 1-1"/><path vector-effect="non-scaling-stroke" d="M0 537l2 1 2-2 2-4 2-1 2-3 2-4 2-4 2-4 2-3 2-3 2-2 2-2 2-3 2-1 2-3 2-2 2-3 2-3 2-4 2-7 2-6 2-5 2-5 2-3 2-2 2-2 2 0 2 0 2 1 2 1 2 0 2 0 2 2 2-1 2 1 2 1 2 1 2 0 2 1 2 1 2 2 2 1 2 1 2 1 2 1 2 2 2 0 2 1 2-3 2-10 2-20 2-31 2-43 2-34 2-31 2-25 2-19 1-8 1-8 1-8 1-7 1-5 1-6 1-5 1 12 1 16 1 0 1-14 1-15 1-12 1-3 1-1 1 1 1 1 1 1 1 0 1 1 1 0 1 2 1-1 1 0 1 1 1 4 1 8 1 2 1-4 1-3 1-5 1-2 1-2 1 0 1-1 1-2 1-3 1-3 1 3 1-2 1-4 1-1 1-2 1 2 1-1 1 2 1-2 1 1 1-1 1 2 1 1 1 4 1 9 1 3 1-5 1-2 1 6 1 0 1 1 1 7 1-2 1 1 1 6 1 8 1 9 1 4 1 3 1 3 2 5 2 9 2 8 2 5 2 0 2-1 2-1 2-2 2-3 1-2"/><path vector-effect="non-scaling-stroke" d="M0 558l2 2 2-1 2-3 2-2 2-1 2-1 2-3 2-3 2-2 2-1 2 0 2-2 2-2 2-1 2-1 2-2 2-1 2-2 2-3 2-4 2-3 2-3 2-3 2-2 2-1 2-1 2-1 2 1 2 0 2 0 2 0 2 1 2 1 2 0 2 0 2 1 2 0 2 1 2 0 2 1 2 1 2 1 2 1 2 0 2 1 2 1 2 0 2 0 2-1 2-6 2-9 2-16 2-23 2-30 2-25 2-23 2-20 1-9 1-9 1-8 1-6 1-7 1-4 1-6 1 8 1 9 1 0 1-11 1-12 1-8 1-3 1-1 1 0 1 1 1 0 1 0 1 1 1 0 1 0 1 0 1 0 1 0 1 3 1 5 1 2 1-3 1-3 1-2 1-2 1-2 1 1 1-1 1-1 1-1 1-1 1 1 1-1 1-3 1-1 1 0 1 1 1 2 1 0 1 0 1-2 1 1 1 2 1 0 1 4 1 6 1 3 1-4 1-2 1 2 1 1 1 0 1 5 1-3 1 0 1 6 1 5 1 5 1 3 1 1 1 3 2 3 2 5 2 5 2 3 2 0 2-1 2 0 2-2 2-1 1-2"/><path vector-effect="non-scaling-stroke" d="M0 555l2 1 2 0 2-3 2-1 2-1 2-2 2-4 2-2 2-2 2-1 2-1 2-2 2-2 2-1 2-1 2-2 2-3 2-2 2-3 2-5 2-5 2-3 2-3 2-2 2-3 2-1 2 0 2 0 2 1 2-1 2 0 2 0 2 1 2 0 2 1 2 0 2 1 2 1 2 0 2 1 2 2 2 1 2 1 2 1 2 1 2 0 2 1 2 0 2-2 2-6 2-13 2-19 2-29 2-35 2-26 2-26 2-20 1-9 1-9 1-9 1-6 1-6 1-5 1-5 1 9 1 12 1-1 1-10 1-12 1-10 1-2 1-2 1 1 1 2 1-1 1 2 1 0 1 1 1-1 1 1 1 0 1 1 1 2 1 6 1 3 1-3 1-5 1-2 1-2 1-1 1-2 1 0 1-1 1-2 1-3 1 2 1-1 1-4 1-1 1 0 1 1 1-1 1 1 1-1 1 0 1 0 1 1 1 1 1 3 1 9 1 1 1-3 1-1 1 3 1 0 1 1 1 5 1-1 1-1 1 6 1 6 1 6 1 3 1 4 1 2 2 4 2 7 2 6 2 2 2 2 2-1 2-1 2-1 2-2 1-2"/><path vector-effect="non-scaling-stroke" d="M0 486l2 5 2-1 2-4 2-6 2-6 2-1 2-7 2-9 2-5 2-3 2-2 2-2 2-3 2-1 2-3 2-4 2-3 2-3 2-8 2-10 2-9 2-6 2-7 2-6 2-4 2-3 2-1 2 2 2 1 2 0 2 0 2 2 2 3 2-1 2 1 2 2 2 1 2 1 2 1 2 2 2 4 2 2 2 2 2 2 2 3 2 3 2 1 2 0 2-7 2-26 2-50 2-58 2-42 2-35 2-29 2-20 2-18 1-9 1-4 1-9 1-9 1-3 1-5 1-8 1 19 1 21 1 1 1-17 1-23 1-13 1-5 1 0 1 1 1 2 1 1 1 0 1 3 1-1 1 0 1 0 1 3 1 0 1 5 1 12 1 2 1-4 1-7 1-3 1-4 1-1 1 1 1-3 1-2 1-3 1-2 1 2 1-1 1-5 1-3 1 1 1 1 1 2 1 0 1-1 1 0 1 1 1 1 1 1 1 7 1 17 1 3 1-4 1-3 1 4 1 3 1 1 1 10 1-2 1 1 1 10 1 10 1 11 1 7 1 4 1 3 2 10 2 12 2 10 2 5 2 0 2-3 2-2 2-4 2-6 1-2"/><path vector-effect="non-scaling-stroke" d="M0 539l2 2 2-1 2-3 2-2 2-2 2-4 2-4 2-3 2-3 2-2 2 0 2-3 2-2 2-1 2-2 2-2 2-3 2-3 2-5 2-5 2-6 2-5 2-4 2-3 2-2 2-2 2-1 2 1 2 1 2 0 2 0 2 1 2 2 2 0 2 1 2 1 2 1 2 1 2 1 2 1 2 2 2 2 2 1 2 2 2 1 2 2 2 1 2 1 2-2 2-9 2-17 2-27 2-37 2-36 2-28 2-26 2-21 1-8 1-9 1-7 1-8 1-6 1-5 1-6 1 11 1 12 1 1 1-13 1-14 1-11 1-3 1-2 1 0 1 1 1 1 1 0 1 0 1 0 1 1 1-2 1 1 1 2 1 2 1 8 1 0 1-3 1-4 1-2 1-4 1 1 1-2 1 0 1-1 1-2 1-3 1 2 1-1 1-3 1-3 1 0 1 2 1 0 1 1 1-1 1 1 1-1 1 1 1 1 1 3 1 10 1 2 1-6 1-3 1 3 1 1 1-1 1 6 1-3 1 0 1 5 1 7 1 7 1 1 1 4 1 2 2 5 2 6 2 8 2 4 2-1 2-1 2 0 2-2 2-2 1-3"/><path vector-effect="non-scaling-stroke" d="M0 525l2 4 2-3 2-2 2-3 2-1 2-3 2-5 2-5 2-2 2-1 2-2 2-2 2-2 2-1 2-2 2-3 2-3 2-3 2-5 2-7 2-7 2-5 2-5 2-4 2-3 2-2 2-1 2 1 2 1 2 0 2 0 2 1 2 2 2-1 2 0 2 2 2 1 2 1 2 1 2 3 2 2 2 2 2 2 2 2 2 2 2 2 2 1 2 2 2-1 2-11 2-18 2-30 2-42 2-34 2-27 2-26 2-20 1-7 1-10 1-7 1-7 1-5 1-7 1-4 1 11 1 14 1 2 1-14 1-17 1-11 1-3 1-2 1 1 1 2 1 0 1-1 1 1 1 0 1 0 1 0 1 0 1 1 1 3 1 9 1 0 1-4 1-4 1-4 1-2 1-1 1-2 1 0 1-2 1-3 1-1 1 1 1-1 1-5 1-1 1-1 1 2 1 0 1 0 1 1 1-1 1 1 1 0 1 4 1 2 1 11 1 3 1-4 1-2 1 3 1 1 1 1 1 7 1-4 1 0 1 7 1 8 1 7 1 4 1 3 1 3 2 4 2 8 2 8 2 3 2-1 2-1 2-1 2-3 2-3 1-2"/><path vector-effect="non-scaling-stroke" d="M0 518l2 4 2-1 2-4 2-3 2-2 2-2 2-5 2-4 2-4 2-1 2-1 2-2 2-2 2-1 2-4 2-2 2-4 2-3 2-6 2-9 2-8 2-7 2-7 2-4 2-4 2-3 2-1 2-1 2 2 2 1 2-1 2 2 2 3 2-2 2 2 2 2 2 1 2 2 2 1 2 2 2 3 2 2 2 2 2 2 2 2 2 3 2 2 2 1 2-2 2-14 2-26 2-39 2-47 2-34 2-29 2-25 2-19 1-8 1-8 1-9 1-6 1-5 1-7 1-4 1 14 1 16 1 2 1-16 1-17 1-12 1-3 1-3 1 1 1 2 1 1 1-1 1 1 1 0 1-1 1 2 1-1 1 2 1 3 1 9 1 2 1-5 1-6 1-3 1-2 1-2 1-1 1 0 1-1 1-4 1-2 1 1 1 1 1-6 1-1 1-2 1 4 1 0 1 0 1 1 1-1 1 1 1 2 1 1 1 4 1 10 1 3 1-7 1-2 1 4 1-1 1 1 1 6 1-3 1 0 1 7 1 8 1 7 1 4 1 4 1 1 2 5 2 8 2 9 2 4 2 0 2-1 2-1 2-1 2-4 1-2"/><path vector-effect="non-scaling-stroke" d="M0 530l2 4 2-1 2-3 2-2 2-3 2-3 2-4 2-5 2-1 2-2 2-1 2-2 2-3 2-1 2-3 2-2 2-3 2-4 2-5 2-8 2-6 2-6 2-5 2-4 2-4 2-2 2-1 2 1 2 1 2 0 2 0 2 0 2 3 2-1 2 2 2 1 2 2 2 1 2 2 2 1 2 2 2 2 2 2 2 1 2 2 2 2 2 1 2 0 2-2 2-12 2-21 2-35 2-45 2-35 2-29 2-26 2-21 1-9 1-8 1-8 1-7 1-6 1-5 1-8 1 13 1 16 1 1 1-14 1-18 1-11 1-3 1-2 1 1 1 1 1 1 1 1 1 0 1 2 1-1 1 0 1 1 1 1 1 4 1 9 1 1 1-3 1-4 1-4 1-1 1-2 1 1 1-1 1-2 1-2 1-1 1 1 1-1 1-4 1-2 1 0 1 1 1 1 1 1 1-2 1 0 1 2 1-1 1 2 1 3 1 10 1 2 1-4 1-3 1 3 1-1 1 0 1 7 1-4 1 2 1 6 1 7 1 8 1 4 1 3 1 2 2 5 2 8 2 8 2 4 2 1 2-1 2-1 2-3 2-2 1-2"/><path vector-effect="non-scaling-stroke" d="M0 496l2 5 2-1 2-4 2-1 2-2 2-4 2-6 2-6 2-4 2-2 2 0 2-4 2-4 2 0 2-3 2-3 2-4 2-4 2-7 2-10 2-7 2-7 2-7 2-4 2-5 2-3 2 0 2 0 2 2 2 1 2 0 2 1 2 3 2-1 2 2 2 2 2 1 2 2 2 1 2 1 2 3 2 3 2 1 2 2 2 3 2 1 2 2 2 1 2-4 2-17 2-31 2-48 2-43 2-34 2-28 2-24 2-19 1-8 1-8 1-8 1-6 1-6 1-6 1-6 1 15 1 19 1 1 1-15 1-20 1-13 1-5 1-1 1 2 1 1 1 0 1 2 1 0 1 1 1 0 1 0 1 1 1 2 1 3 1 11 1 0 1-4 1-4 1-4 1-4 1-2 1 1 1-2 1 0 1-3 1-6 1 3 1 0 1-6 1 0 1-1 1 1 1 0 1 0 1 1 1-1 1-2 1 2 1 2 1 6 1 12 1 2 1-5 1-3 1 5 1-1 1 1 1 8 1-2 1 0 1 7 1 8 1 10 1 7 1 1 1 5 2 7 2 9 2 9 2 5 2 2 2-2 2 0 2-1 2-4 1-2"/><path vector-effect="non-scaling-stroke" d="M0 562l2 3 2-1 2-1 2-1 2-1 2-1 2-2 2-2 2-1 2-1 2 0 2-2 2-1 2 0 2-1 2-2 2-1 2-1 2-2 2-4 2-2 2-3 2-2 2-1 2-2 2-1 2 0 2 0 2 0 2 0 2 0 2 0 2 1 2 0 2 0 2 0 2 1 2 0 2 1 2 0 2 1 2 1 2 1 2 1 2 1 2 1 2 1 2 0 2-2 2-5 2-10 2-15 2-22 2-28 2-28 2-24 2-21 1-9 1-8 1-8 1-8 1-5 1-5 1-6 1 8 1 9 1-1 1-10 1-10 1-8 1-3 1-1 1 1 1 2 1-1 1 0 1 1 1 1 1-1 1 1 1 0 1 1 1 3 1 5 1 1 1-2 1-3 1-2 1-3 1 0 1-1 1 0 1-1 1-1 1-1 1 1 1-1 1-2 1-1 1-1 1 0 1 1 1 1 1-1 1 0 1-1 1 1 1 1 1 3 1 6 1 2 1-4 1-2 1 3 1 0 1 0 1 5 1-2 1-1 1 4 1 5 1 5 1 3 1 1 1 2 2 3 2 5 2 6 2 2 2 1 2-2 2 0 2-1 2-3 1-1"/><path vector-effect="non-scaling-stroke" d="M0 568l2 1 2 0 2-2 2-2 2-1 2 0 2-2 2-2 2-2 2 0 2 0 2-2 2-1 2 0 2-1 2-1 2-1 2-1 2-2 2-2 2-3 2-1 2-2 2-1 2-1 2-1 2 0 2 0 2 1 2 0 2 0 2 0 2 1 2-1 2 1 2 0 2 0 2 1 2 0 2 1 2 1 2 0 2 1 2 2 2 1 2 1 2 1 2 0 2-1 2-5 2-8 2-13 2-19 2-25 2-26 2-23 2-20 1-9 1-9 1-7 1-8 1-5 1-6 1-5 1 6 1 7 1 0 1-9 1-12 1-7 1-2 1-2 1 1 1 1 1-1 1 1 1 1 1-1 1-1 1 1 1 0 1 1 1 3 1 6 1 0 1-2 1-2 1-2 1-2 1-1 1 0 1-1 1 0 1-1 1-2 1 2 1-1 1-2 1-1 1 0 1 0 1 1 1 0 1-1 1 0 1 1 1 0 1 1 1 2 1 6 1 1 1-3 1-3 1 3 1 0 1 1 1 3 1-2 1-1 1 4 1 5 1 4 1 2 1 1 1 2 2 2 2 5 2 4 2 3 2 0 2-1 2 0 2-1 2-2 1 0"/><path vector-effect="non-scaling-stroke" d="M0 513l2 5 2-1 2-5 2-1 2-3 2-5 2-5 2-7 2-3 2-3 2-1 2-3 2-3 2-1 2-3 2-2 2-3 2-3 2-5 2-8 2-8 2-5 2-6 2-4 2-3 2-2 2-1 2 1 2 1 2 1 2-1 2 2 2 2 2-1 2 1 2 2 2 1 2 0 2 2 2 1 2 3 2 2 2 2 2 2 2 2 2 2 2 2 2 0 2-2 2-14 2-25 2-41 2-45 2-34 2-28 2-24 2-19 1-8 1-8 1-9 1-6 1-4 1-6 1-8 1 16 1 16 1 0 1-16 1-17 1-14 1-4 1-1 1 0 1-1 1 2 1 1 1 0 1-1 1 1 1-2 1 2 1 1 1 2 1 10 1 1 1-5 1-5 1-3 1-2 1-3 1-1 1 1 1-3 1-1 1-4 1 2 1 0 1-5 1-2 1 2 1 1 1 2 1 0 1 0 1 0 1 0 1 3 1 1 1 5 1 11 1 4 1-5 1-2 1 3 1 2 1-1 1 7 1 0 1-2 1 7 1 9 1 9 1 4 1 4 1 3 2 4 2 9 2 9 2 5 2 0 2-2 2-1 2-1 2-3 1-2"/><path vector-effect="non-scaling-stroke" d="M0 499l2 7 2-2 2-6 2-2 2-3 2-2 2-6 2-5 2-4 2-4 2 0 2-3 2-2 2-1 2-3 2-4 2-4 2-5 2-8 2-11 2-9 2-8 2-8 2-5 2-4 2-4 2-2 2 1 2 2 2 0 2-1 2 2 2 3 2-2 2 2 2 1 2 2 2 1 2 1 2 2 2 3 2 3 2 2 2 2 2 2 2 2 2 3 2 1 2-3 2-17 2-33 2-50 2-41 2-35 2-29 2-23 2-18 1-8 1-7 1-8 1-5 1-7 1-4 1-5 1 15 1 18 1 1 1-15 1-20 1-15 1-1 1-4 1 4 1 1 1 0 1-1 1 3 1 0 1-1 1 1 1 0 1 3 1 4 1 11 1 0 1-4 1-6 1-3 1-4 1-2 1 1 1-2 1-2 1-4 1-1 1 1 1-1 1-5 1-2 1 0 1 2 1-1 1 3 1-1 1 0 1 0 1 0 1 3 1 4 1 11 1 4 1-6 1-4 1 4 1 0 1 1 1 7 1-2 1-2 1 8 1 8 1 9 1 4 1 4 1 2 2 7 2 7 2 11 2 5 2-1 2-1 2-3 2-1 2-2 1-4"/><path vector-effect="non-scaling-stroke" d="M0 505l2 2 2 1 2-1 2-3 2-2 2-2 2-5 2-5 2-3 2-2 2 0 2-3 2-3 2-1 2-3 2-3 2-4 2-6 2-7 2-10 2-10 2-6 2-9 2-5 2-4 2-3 2-2 2 0 2 2 2 0 2 0 2 2 2 2 2-1 2 2 2 2 2 1 2 1 2 2 2 2 2 3 2 2 2 3 2 2 2 2 2 2 2 2 2 0 2-3 2-16 2-32 2-48 2-44 2-35 2-28 2-23 2-20 1-8 1-6 1-9 1-7 1-6 1-4 1-6 1 14 1 17 1 2 1-16 1-18 1-14 1-5 1-1 1 1 1 1 1 2 1-1 1 0 1 1 1 0 1 2 1 0 1 2 1 3 1 10 1 3 1-6 1-4 1-1 1-5 1-1 1-2 1 1 1-1 1-3 1-2 1 0 1 0 1-3 1-2 1-2 1 2 1 1 1 2 1 0 1-2 1 1 1 0 1 1 1 6 1 10 1 3 1-6 1-3 1 4 1-1 1 0 1 9 1-5 1 0 1 6 1 7 1 10 1 5 1 2 1 3 2 5 2 8 2 9 2 4 2 0 2-3 2-1 2-2 2-4 1-3"/><path vector-effect="non-scaling-stroke" d="M0 504l2 6 2-2 2-3 2-2 2-1 2-4 2-6 2-5 2-2 2-3 2 0 2-3 2-3 2 0 2-3 2-3 2-3 2-3 2-7 2-8 2-8 2-6 2-6 2-5 2-3 2-3 2-2 2 1 2 2 2 1 2 0 2 1 2 2 2 0 2 1 2 2 2 1 2 2 2 1 2 2 2 2 2 3 2 2 2 1 2 2 2 2 2 0 2 2 2-3 2-13 2-26 2-41 2-44 2-34 2-28 2-25 2-19 1-7 1-8 1-8 1-6 1-6 1-3 1-8 1 13 1 18 1 1 1-13 1-18 1-13 1-4 1-2 1 2 1 2 1 1 1 1 1-1 1 1 1 0 1 2 1 0 1 0 1 5 1 9 1 3 1-6 1-4 1-4 1-2 1-2 1 1 1-3 1-1 1-2 1-3 1 2 1-1 1-5 1-2 1-1 1 1 1 2 1 0 1-1 1-1 1 0 1 0 1 1 1 5 1 10 1 1 1-5 1-4 1 2 1 1 1-1 1 6 1-2 1-1 1 7 1 8 1 9 1 3 1 5 1 2 2 4 2 11 2 8 2 5 2 3 2-1 2-1 2-1 2-3 1-1"/><path vector-effect="non-scaling-stroke" d="M0 563l2 0 2-1 2-1 2 0 2-2 2-1 2-2 2-2 2-1 2-2 2 0 2-1 2-2 2 0 2-1 2-1 2-1 2-2 2-2 2-3 2-3 2-2 2-2 2-1 2-2 2 0 2-1 2 1 2 0 2 0 2 0 2 1 2 0 2 0 2 0 2 1 2 1 2 0 2 1 2 0 2 1 2 1 2 2 2 0 2 1 2 1 2 1 2 0 2-1 2-6 2-9 2-15 2-22 2-29 2-27 2-24 2-21 1-9 1-8 1-8 1-8 1-5 1-6 1-5 1 6 1 10 1-1 1-9 1-12 1-8 1-3 1-1 1 1 1 1 1-1 1 1 1 0 1 0 1-1 1 0 1 1 1 0 1 2 1 7 1 1 1-4 1-3 1-2 1-2 1-1 1-1 1 0 1-1 1-3 1 0 1 0 1-1 1-2 1-2 1 0 1 1 1-1 1 2 1-1 1 0 1 0 1 0 1 1 1 4 1 7 1 2 1-3 1-1 1 3 1 0 1 0 1 5 1-1 1 1 1 5 1 5 1 6 1 2 1 3 1 2 2 5 2 6 2 5 2 4 2 0 2-1 2 0 2-1 2-2 1-1"/><path vector-effect="non-scaling-stroke" d="M0 514l2 4 2-1 2-4 2-3 2-3 2-4 2-4 2-5 2-4 2-3 2 0 2-3 2-3 2-2 2-3 2-2 2-4 2-2 2-6 2-8 2-7 2-5 2-6 2-4 2-3 2-2 2-1 2 2 2 1 2 1 2-1 2 3 2 1 2-1 2 1 2 2 2 2 2 1 2 1 2 1 2 3 2 2 2 2 2 1 2 2 2 2 2 0 2 1 2-3 2-15 2-27 2-41 2-46 2-35 2-30 2-24 2-20 1-8 1-8 1-8 1-5 1-7 1-6 1-5 1 15 1 16 1 1 1-15 1-18 1-12 1-5 1-1 1 2 1 1 1 0 1 0 1 1 1 0 1 0 1 1 1-1 1 2 1 4 1 8 1 4 1-7 1-3 1-5 1-3 1-1 1-1 1 0 1-2 1-3 1-2 1 2 1-1 1-6 1-2 1 0 1 1 1 0 1 1 1 0 1-1 1 1 1 0 1 1 1 4 1 12 1 1 1-5 1-4 1 6 1-1 1 1 1 6 1-2 1-1 1 6 1 9 1 9 1 4 1 3 1 3 2 5 2 10 2 8 2 5 2 1 2-2 2 0 2-1 2-4 1-2"/><path vector-effect="non-scaling-stroke" d="M0 508l2 3 2-5 2-4 2 0 2-2 2-4 2-7 2-3 2-3 2-3 2-1 2-4 2-3 2-1 2-2 2-5 2-3 2-4 2-7 2-9 2-9 2-7 2-6 2-5 2-4 2-2 2-2 2 2 2 1 2 1 2 0 2 2 2 3 2-1 2 1 2 1 2 2 2 1 2 1 2 2 2 2 2 3 2 2 2 2 2 3 2 2 2 2 2 1 2-2 2-16 2-31 2-48 2-44 2-35 2-30 2-23 2-19 1-8 1-8 1-8 1-7 1-6 1-5 1-5 1 14 1 17 1 1 1-17 1-17 1-16 1-4 1-2 1 2 1 0 1 2 1 2 1-2 1 0 1 1 1 1 1 3 1-2 1 7 1 7 1 5 1-5 1-5 1-4 1-2 1-2 1-1 1 0 1-2 1-4 1-1 1 1 1-1 1-3 1-2 1 0 1 2 1 1 1-1 1 1 1-1 1-1 1 0 1 3 1 5 1 11 1 2 1-5 1-2 1 4 1 1 1 0 1 5 1-2 1 0 1 5 1 10 1 8 1 3 1 3 1 3 2 4 2 10 2 8 2 3 2 0 2-2 2-2 2-3 2-5 1-2"/><path vector-effect="non-scaling-stroke" d="M0 563l2 1 2 0 2 0 2-1 2-2 2-1 2-2 2-1 2-1 2-1 2 0 2-1 2-1 2-1 2-1 2-2 2-2 2-1 2-3 2-4 2-3 2-2 2-3 2-2 2-1 2-1 2 0 2 0 2 1 2-1 2 0 2 1 2 0 2 0 2 0 2 1 2 0 2 1 2 0 2 1 2 1 2 1 2 0 2 1 2 1 2 1 2 0 2 0 2-2 2-5 2-10 2-15 2-23 2-29 2-27 2-24 2-20 1-9 1-9 1-7 1-7 1-7 1-5 1-6 1 8 1 10 1-1 1-9 1-13 1-7 1-3 1-1 1 0 1 2 1-1 1 1 1 0 1-1 1 1 1 0 1 0 1 1 1 3 1 6 1 1 1-3 1-3 1-3 1-1 1 0 1-1 1 0 1-1 1-1 1-2 1 1 1 0 1-3 1-2 1 0 1 2 1-1 1 1 1 0 1 0 1 0 1-1 1 2 1 4 1 7 1 3 1-4 1 1 1 2 1 1 1 0 1 5 1 0 1-1 1 6 1 5 1 6 1 4 1 2 1 2 2 5 2 7 2 6 2 2 2 1 2-1 2-1 2 0 2-1 1-1"/><path vector-effect="non-scaling-stroke" d="M0 517l2 1 2 0 2-3 2-5 2-3 2 0 2-6 2-6 2-4 2-3 2-1 2-2 2-3 2 0 2-2 2-3 2-2 2-3 2-5 2-7 2-7 2-4 2-5 2-4 2-3 2-3 2-1 2 1 2 1 2 0 2 0 2 1 2 2 2 0 2 0 2 2 2 2 2 0 2 2 2 1 2 3 2 2 2 2 2 1 2 3 2 1 2 1 2 2 2-3 2-13 2-23 2-36 2-47 2-34 2-29 2-23 2-19 1-9 1-8 1-8 1-7 1-6 1-4 1-6 1 13 1 17 1 0 1-14 1-16 1-14 1-4 1 0 1 1 1 3 1-1 1 0 1 0 1 0 1 1 1 0 1 2 1 1 1 2 1 9 1 3 1-6 1-3 1-4 1-4 1 0 1-1 1 1 1-3 1-1 1-3 1 3 1-2 1-3 1-2 1-1 1 1 1 1 1 2 1-1 1-1 1 1 1 1 1 2 1 6 1 12 1 4 1-5 1 0 1 2 1 4 1 0 1 8 1-1 1 1 1 6 1 9 1 8 1 6 1 5 1 3 2 6 2 10 2 8 2 5 2 0 2-1 2-2 2-2 2-3 1-2"/><path vector-effect="non-scaling-stroke" d="M0 517l2-1 2-4 2-3 2-3 2-2 2-4 2-6 2-6 2-4 2-3 2-1 2-4 2-2 2-2 2-2 2-2 2-3 2-3 2-6 2-8 2-8 2-5 2-5 2-4 2-3 2-2 2-2 2 2 2 1 2 1 2 0 2 2 2 3 2-2 2 1 2 2 2 1 2 1 2 2 2 2 2 2 2 3 2 2 2 2 2 3 2 1 2 2 2 1 2-2 2-14 2-27 2-39 2-46 2-35 2-28 2-24 2-20 1-8 1-8 1-7 1-7 1-5 1-6 1-7 1 15 1 17 1 1 1-14 1-19 1-12 1-4 1-2 1 2 1 1 1 0 1 1 1 0 1 0 1-1 1 0 1 2 1 1 1 3 1 9 1 2 1-5 1-5 1-3 1-4 1-1 1 0 1-2 1-1 1-3 1-2 1 1 1 0 1-5 1-3 1 0 1 2 1 1 1 0 1 0 1-1 1 1 1 0 1 3 1 6 1 14 1 3 1-3 1 0 1 5 1 2 1 1 1 9 1-1 1 2 1 7 1 10 1 10 1 7 1 3 1 5 2 8 2 11 2 9 2 5 2 1 2-2 2 0 2-2 2-3 1-2"/><path vector-effect="non-scaling-stroke" d="M0 564l2 1 2 0 2-2 2-1 2-1 2 0 2-2 2-2 2-1 2-1 2 0 2-2 2-1 2 0 2-1 2-1 2-2 2-1 2-2 2-3 2-3 2-2 2-2 2-1 2-1 2-1 2-1 2 0 2 1 2 0 2-1 2 1 2 1 2-1 2 0 2 1 2 0 2 1 2 0 2 1 2 1 2 1 2 1 2 1 2 2 2 1 2 1 2 0 2-1 2-5 2-9 2-14 2-21 2-26 2-26 2-23 2-21 1-9 1-9 1-8 1-7 1-6 1-5 1-6 1 6 1 9 1-1 1-9 1-11 1-9 1-2 1-2 1 1 1 0 1 0 1 0 1 0 1 0 1 0 1 0 1 1 1 0 1 3 1 5 1 2 1-3 1-3 1-2 1-1 1-1 1 0 1-1 1-1 1-1 1-1 1 1 1 1 1-4 1-1 1 0 1 1 1 0 1 0 1 0 1 0 1 0 1 1 1 2 1 2 1 8 1 2 1-3 1-1 1 3 1 1 1 1 1 3 1 0 1 0 1 4 1 6 1 4 1 5 1 2 1 1 2 5 2 5 2 5 2 3 2 0 2 0 2-1 2 0 2-3 1-1"/><path vector-effect="non-scaling-stroke" d="M0 551l2 2 2-1 2-2 2-2 2-3 2-2 2-3 2-4 2-2 2-2 2-1 2-1 2-3 2-1 2-2 2-2 2-2 2-3 2-4 2-5 2-5 2-4 2-4 2-2 2-2 2-2 2-1 2 0 2 1 2 0 2-1 2 1 2 2 2-1 2 0 2 2 2 0 2 1 2 1 2 1 2 1 2 2 2 1 2 1 2 1 2 1 2 1 2 0 2-1 2-7 2-13 2-22 2-31 2-35 2-27 2-25 2-22 1-9 1-8 1-10 1-6 1-7 1-5 1-6 1 10 1 13 1-1 1-11 1-14 1-12 1-2 1-2 1 2 1 1 1 1 1-1 1 0 1 2 1-1 1 1 1 1 1 1 1 2 1 8 1 1 1-2 1-4 1-2 1-1 1-1 1-1 1 0 1 0 1-2 1-2 1 2 1-2 1-3 1 0 1-1 1 1 1 2 1 0 1 0 1-1 1 0 1 1 1 1 1 4 1 8 1 3 1-5 1-3 1 3 1 1 1-1 1 6 1-2 1-1 1 7 1 4 1 7 1 3 1 2 1 2 2 5 2 5 2 6 2 4 2 0 2 0 2-2 2-1 2-3 1-2"/><path vector-effect="non-scaling-stroke" d="M0 497l2 4 2-2 2-3 2-3 2-3 2-3 2-7 2-7 2-4 2-3 2 0 2-4 2-4 2-1 2-1 2-3 2-2 2-4 2-6 2-9 2-7 2-5 2-6 2-4 2-4 2-3 2-1 2 1 2 2 2 0 2 0 2 1 2 3 2-1 2 0 2 3 2 1 2 2 2 1 2 2 2 3 2 3 2 2 2 2 2 2 2 3 2 1 2 1 2-3 2-15 2-31 2-47 2-43 2-34 2-30 2-23 2-19 1-7 1-6 1-8 1-7 1-5 1-5 1-7 1 16 1 18 1 1 1-15 1-19 1-14 1-2 1-1 1 1 1 2 1 0 1 1 1 0 1 0 1 1 1 0 1 1 1 1 1 3 1 9 1 3 1-6 1-5 1-5 1-2 1-3 1 0 1-1 1-3 1-4 1-2 1 2 1-2 1-7 1-2 1 1 1-1 1 1 1 2 1-2 1 0 1-1 1 2 1 1 1 5 1 11 1 5 1-5 1-4 1 6 1-1 1 1 1 9 1-1 1 0 1 7 1 9 1 9 1 5 1 4 1 3 2 8 2 9 2 9 2 4 2 1 2-1 2-1 2-1 2-3 1-3"/><path vector-effect="non-scaling-stroke" d="M0 515l2 5 2-2 2-2 2-4 2-2 2-2 2-5 2-5 2-3 2-2 2 0 2-2 2-3 2-1 2-3 2-3 2-3 2-3 2-6 2-7 2-8 2-6 2-6 2-4 2-3 2-3 2-1 2 0 2 2 2 0 2 0 2 1 2 3 2-1 2 1 2 2 2 1 2 1 2 1 2 1 2 3 2 2 2 2 2 1 2 2 2 2 2 2 2 0 2-1 2-13 2-23 2-37 2-46 2-34 2-29 2-24 2-20 1-8 1-10 1-5 1-7 1-5 1-4 1-8 1 14 1 16 1 2 1-15 1-16 1-12 1-4 1-1 1 3 1-1 1 2 1 1 1 0 1 0 1 0 1 1 1 0 1 2 1 3 1 11 1 1 1-5 1-5 1-3 1-3 1-1 1-1 1-2 1-1 1-1 1-3 1 1 1-1 1-4 1-4 1 0 1 2 1 1 1-1 1 0 1 0 1 1 1-1 1 1 1 5 1 11 1 1 1-6 1-2 1 3 1 1 1-2 1 7 1-2 1-2 1 7 1 8 1 7 1 4 1 4 1 2 2 5 2 8 2 8 2 4 2 1 2-2 2-1 2-2 2-4 1-3"/><path vector-effect="non-scaling-stroke" d="M0 521l2 2 2-1 2-5 2-2 2-1 2-3 2-5 2-4 2-4 2-2 2-1 2-1 2-2 2-1 2-3 2-2 2-3 2-3 2-6 2-7 2-8 2-5 2-5 2-4 2-3 2-2 2-1 2 2 2 1 2 0 2 0 2 2 2 3 2-2 2 2 2 1 2 2 2 1 2 1 2 2 2 2 2 2 2 1 2 2 2 1 2 2 2 1 2 1 2-2 2-13 2-24 2-38 2-46 2-35 2-29 2-26 2-20 1-8 1-7 1-8 1-7 1-6 1-5 1-6 1 12 1 18 1 2 1-15 1-19 1-13 1-2 1-2 1 1 1 1 1 0 1 0 1 1 1 1 1-2 1 2 1-1 1 2 1 2 1 9 1 5 1-5 1-6 1-3 1-3 1-1 1 0 1-1 1-1 1-3 1-2 1 2 1-2 1-3 1-3 1 1 1 1 1 3 1 0 1 0 1 0 1-1 1 1 1 2 1 6 1 10 1 5 1-5 1-2 1 5 1 0 1 2 1 8 1-3 1 3 1 6 1 8 1 8 1 5 1 4 1 3 2 6 2 9 2 8 2 4 2 0 2-2 2-1 2-3 2-4 1-2"/><path vector-effect="non-scaling-stroke" d="M0 533l2 3 2-2 2-3 2-3 2-3 2-2 2-3 2-3 2-3 2-1 2-1 2-3 2-2 2-1 2-2 2-3 2-3 2-4 2-5 2-8 2-8 2-5 2-5 2-4 2-3 2-3 2-1 2 1 2 1 2 0 2 1 2 1 2 2 2-1 2 1 2 1 2 1 2 1 2 2 2 1 2 2 2 2 2 2 2 1 2 2 2 2 2 1 2 1 2-1 2-10 2-18 2-27 2-40 2-34 2-27 2-26 2-20 1-8 1-8 1-8 1-7 1-5 1-6 1-7 1 12 1 15 1-1 1-12 1-16 1-11 1-4 1-1 1 0 1 0 1 1 1 0 1 1 1 0 1-1 1 0 1 1 1 0 1 4 1 7 1 2 1-5 1-2 1-4 1-3 1-3 1 1 1-1 1-2 1-1 1-3 1 1 1 0 1-4 1-3 1 0 1 1 1 2 1 0 1 0 1 0 1 0 1 1 1 3 1 2 1 10 1 3 1-5 1-2 1 4 1 1 1-1 1 7 1-2 1-1 1 8 1 7 1 7 1 4 1 3 1 2 2 5 2 8 2 7 2 5 2 0 2-2 2-1 2-1 2-2 1-2"/><path vector-effect="non-scaling-stroke" d="M0 547l2 0 2-1 2-2 2-2 2-1 2-2 2-4 2-4 2-1 2-2 2-1 2-2 2-2 2-1 2-2 2-3 2-2 2-3 2-5 2-6 2-5 2-5 2-4 2-3 2-3 2-1 2-1 2 0 2 1 2 0 2 0 2 1 2 2 2-1 2 1 2 1 2 1 2 1 2 0 2 2 2 1 2 1 2 2 2 1 2 1 2 1 2 1 2 0 2-1 2-7 2-13 2-22 2-32 2-34 2-27 2-25 2-21 1-9 1-8 1-8 1-8 1-6 1-4 1-5 1 10 1 11 1 1 1-12 1-14 1-11 1-2 1-1 1 0 1 2 1 0 1 0 1 1 1-1 1 1 1 0 1 1 1 1 1 4 1 7 1-1 1-3 1-2 1-3 1-2 1-2 1 0 1 0 1-2 1-2 1-2 1 1 1 0 1-4 1-1 1 0 1-1 1 2 1-1 1 0 1 0 1 1 1 0 1 1 1 4 1 10 1 2 1-4 1-2 1 5 1-1 1 1 1 6 1-2 1 1 1 5 1 8 1 5 1 4 1 3 1 2 2 6 2 6 2 8 2 4 2 1 2-1 2-1 2-1 2-2 1-1"/><path vector-effect="non-scaling-stroke" d="M0 565l2 1 2 0 2-1 2 0 2-1 2-1 2-2 2-1 2-1 2-1 2 0 2-1 2-1 2 0 2-1 2-1 2-1 2-1 2-2 2-2 2-2 2-2 2-1 2-2 2-1 2-1 2 0 2 0 2 1 2 0 2-1 2 1 2 1 2-1 2 1 2 0 2 1 2 0 2 0 2 1 2 1 2 1 2 1 2 1 2 1 2 1 2 0 2 0 2-1 2-5 2-8 2-12 2-19 2-24 2-26 2-23 2-20 1-9 1-9 1-8 1-6 1-6 1-5 1-5 1 6 1 7 1 0 1-9 1-10 1-8 1-2 1-1 1 0 1 1 1 1 1 0 1 0 1 0 1 0 1 0 1 1 1 0 1 2 1 6 1 0 1-3 1-2 1-2 1-2 1 0 1-1 1 0 1-1 1-2 1-1 1 1 1-1 1-2 1-1 1 0 1 0 1 2 1-1 1 1 1-1 1-1 1 1 1 2 1 3 1 6 1 2 1-3 1-2 1 3 1 2 1-1 1 5 1-2 1 0 1 4 1 6 1 3 1 3 1 2 1 2 2 2 2 6 2 5 2 2 2 0 2-2 2 0 2-1 2-2 1-1"/><path vector-effect="non-scaling-stroke" d="M0 515l2 3 2 3 2-4 2-6 2-1 2-3 2-7 2-6 2-4 2-2 2 0 2-4 2-3 2-1 2-2 2-3 2-3 2-4 2-6 2-8 2-7 2-6 2-6 2-4 2-3 2-3 2-1 2 1 2 2 2 0 2 1 2 2 2 2 2 0 2 1 2 2 2 1 2 2 2 1 2 2 2 2 2 3 2 1 2 2 2 2 2 2 2 1 2 1 2-2 2-14 2-25 2-39 2-45 2-34 2-28 2-25 2-19 1-8 1-8 1-8 1-7 1-6 1-5 1-7 1 14 1 17 1 0 1-14 1-18 1-12 1-5 1-1 1 1 1 2 1 0 1 2 1-1 1 0 1 0 1-1 1 1 1 2 1 4 1 9 1 2 1-4 1-5 1-4 1-3 1-1 1-2 1-1 1-2 1-2 1-3 1 2 1-2 1-3 1-4 1 0 1 3 1-1 1 0 1 0 1 0 1 1 1 0 1 1 1 6 1 13 1 5 1-6 1-1 1 4 1 2 1 1 1 8 1-1 1 2 1 7 1 9 1 9 1 5 1 5 1 3 2 8 2 9 2 10 2 5 2 0 2-2 2 0 2-1 2-2 1-4"/><path vector-effect="non-scaling-stroke" d="M0 550l2 2 2-1 2-4 2 0 2 0 2-2 2-3 2-3 2-2 2-1 2 0 2-2 2-2 2-1 2-2 2-3 2-3 2-3 2-5 2-6 2-6 2-5 2-5 2-3 2-2 2-3 2-1 2 1 2 0 2 0 2 0 2 0 2 2 2-1 2 1 2 1 2 1 2 1 2 0 2 2 2 2 2 1 2 2 2 1 2 1 2 2 2 1 2 0 2-1 2-8 2-13 2-23 2-32 2-36 2-28 2-25 2-23 1-9 1-8 1-8 1-8 1-7 1-4 1-6 1 9 1 13 1 1 1-13 1-13 1-11 1-3 1-1 1 1 1 1 1 1 1 1 1 1 1 0 1 0 1 0 1 3 1 0 1 3 1 7 1 1 1-2 1-4 1-2 1-1 1-2 1-1 1 2 1-2 1-3 1-1 1 2 1-1 1-4 1-1 1-1 1 2 1 0 1 1 1-1 1 0 1 0 1 0 1 1 1 4 1 9 1 0 1-3 1-2 1 3 1 1 1 1 1 4 1 0 1-2 1 7 1 8 1 5 1 3 1 3 1 3 2 5 2 7 2 5 2 5 2 1 2-2 2-1 2-2 2-2 1-2"/><path vector-effect="non-scaling-stroke" d="M0 522l2 4 2 1 2-1 2-3 2-4 2-2 2-5 2-5 2-2 2-2 2 0 2-2 2-2 2-1 2-2 2-3 2-2 2-4 2-5 2-7 2-6 2-5 2-5 2-3 2-4 2-2 2-1 2 0 2 1 2 0 2 0 2 1 2 1 2-1 2 1 2 2 2 1 2 0 2 1 2 1 2 3 2 2 2 2 2 1 2 2 2 1 2 1 2 1 2-2 2-11 2-21 2-33 2-45 2-34 2-28 2-26 2-20 1-8 1-9 1-8 1-6 1-7 1-5 1-5 1 12 1 15 1 2 1-14 1-19 1-11 1-2 1-2 1 0 1 1 1 3 1-2 1 2 1 0 1-1 1 0 1 1 1 1 1 3 1 10 1 1 1-5 1-3 1-4 1-2 1-1 1 0 1-2 1 1 1-3 1-2 1 2 1 1 1-5 1-2 1 0 1 2 1 1 1 1 1-1 1 0 1 1 1-1 1 4 1 5 1 11 1 3 1-3 1-2 1 4 1 2 1 2 1 7 1-2 1 1 1 8 1 8 1 9 1 5 1 2 1 4 2 6 2 9 2 9 2 3 2 0 2-2 2-1 2-1 2-5 1 0"/><path vector-effect="non-scaling-stroke" d="M0 540l2 2 2-1 2-4 2-4 2-2 2-2 2-4 2-4 2-3 2-2 2-2 2-3 2-2 2-2 2-2 2-3 2-4 2-3 2-6 2-7 2-7 2-5 2-5 2-4 2-3 2-1 2-1 2 0 2 1 2 0 2 0 2 1 2 1 2 0 2 0 2 2 2 1 2 1 2 0 2 1 2 2 2 2 2 1 2 1 2 1 2 1 2 1 2 0 2-2 2-9 2-19 2-30 2-41 2-34 2-28 2-24 2-20 1-8 1-9 1-7 1-7 1-7 1-5 1-5 1 12 1 15 1 0 1-13 1-16 1-12 1-3 1-3 1 3 1 0 1 2 1-1 1 1 1 0 1 0 1-1 1 1 1 1 1 5 1 6 1 2 1-5 1-3 1-3 1-3 1-2 1-1 1 1 1-2 1-2 1-2 1 2 1-2 1-4 1-2 1 0 1 1 1 1 1 1 1-1 1 0 1-1 1 2 1 1 1 3 1 11 1 2 1-5 1-1 1 3 1 1 1-1 1 7 1-2 1 0 1 6 1 8 1 6 1 5 1 4 1 1 2 6 2 8 2 8 2 4 2 0 2-1 2 0 2-1 2-4 1 0"/><path vector-effect="non-scaling-stroke" d="M0 507l2 3 2-3 2-4 2-3 2-2 2-3 2-5 2-4 2-3 2-2 2 0 2-3 2-2 2-1 2-2 2-3 2-4 2-3 2-6 2-9 2-8 2-6 2-7 2-5 2-4 2-2 2-2 2 1 2 2 2 0 2 0 2 1 2 3 2-1 2 1 2 2 2 2 2 1 2 1 2 2 2 3 2 3 2 2 2 2 2 3 2 1 2 3 2 0 2-2 2-16 2-30 2-46 2-45 2-36 2-29 2-25 2-20 1-7 1-7 1-8 1-6 1-5 1-7 1-4 1 14 1 18 1 2 1-17 1-17 1-12 1-5 1-1 1 1 1 1 1 1 1 1 1-1 1 1 1 1 1-1 1 2 1-1 1 3 1 11 1 1 1-5 1-6 1-3 1-4 1-2 1-2 1-1 1-2 1-4 1-1 1 1 1-1 1-7 1 0 1-2 1 3 1 0 1 0 1 1 1 0 1-1 1 1 1 3 1 8 1 14 1 4 1-2 1-1 1 7 1 1 1 3 1 10 1 0 1 0 1 10 1 11 1 10 1 6 1 5 1 6 2 7 2 12 2 10 2 5 2 1 2-2 2-2 2 0 2-4 1-1"/><path vector-effect="non-scaling-stroke" d="M0 507l2 2 2-2 2-4 2-4 2-3 2-2 2-7 2-6 2-5 2-4 2 0 2-4 2-3 2 0 2-2 2-1 2-3 2-3 2-5 2-7 2-6 2-6 2-5 2-4 2-3 2-2 2-1 2 1 2 2 2 0 2 0 2 1 2 2 2 0 2 2 2 2 2 1 2 1 2 1 2 2 2 2 2 3 2 1 2 1 2 2 2 2 2 1 2 0 2-3 2-15 2-26 2-42 2-45 2-33 2-29 2-25 2-19 1-9 1-6 1-8 1-7 1-6 1-5 1-7 1 15 1 18 1 2 1-18 1-16 1-12 1-6 1 0 1 1 1 1 1 1 1 1 1 1 1 1 1 0 1 2 1 0 1 1 1 4 1 10 1 2 1-3 1-6 1-1 1-5 1 0 1 0 1 0 1-2 1-3 1-1 1-1 1 1 1-5 1-2 1 1 1 0 1 1 1 1 1 0 1-1 1-1 1 2 1 0 1 5 1 12 1 1 1-6 1-2 1 4 1 0 1-1 1 8 1-4 1 1 1 7 1 9 1 8 1 4 1 3 1 1 2 7 2 8 2 10 2 4 2 0 2-2 2-1 2-1 2-4 1-3"/><path vector-effect="non-scaling-stroke" d="M0 519l2 4 2 0 2-3 2-3 2-2 2-5 2-4 2-3 2-3 2-3 2-1 2-2 2-2 2-1 2-3 2-3 2-3 2-3 2-6 2-8 2-8 2-5 2-6 2-4 2-4 2-3 2-1 2 1 2 1 2 0 2-1 2 2 2 2 2 0 2 0 2 2 2 2 2 0 2 2 2 2 2 2 2 2 2 2 2 2 2 2 2 2 2 1 2 0 2-2 2-13 2-22 2-37 2-45 2-34 2-29 2-25 2-20 1-9 1-8 1-9 1-6 1-4 1-8 1-6 1 13 1 18 1 0 1-13 1-17 1-14 1-3 1-1 1 2 1 1 1 1 1 1 1 0 1 1 1-1 1 1 1 1 1 0 1 3 1 10 1 2 1-5 1-4 1-2 1-4 1-2 1 0 1-1 1-2 1-2 1-2 1 0 1 1 1-5 1-3 1 2 1 1 1-1 1 0 1 2 1 0 1 0 1 1 1 3 1 4 1 13 1 3 1-3 1-3 1 5 1 2 1 2 1 9 1-2 1 1 1 8 1 9 1 7 1 6 1 4 1 6 2 6 2 9 2 9 2 4 2 1 2-1 2-1 2-3 2-2 1-2"/><path vector-effect="non-scaling-stroke" d="M0 522l2 2 2 0 2-3 2-2 2-1 2-4 2-4 2-4 2-2 2-1 2 0 2-2 2-2 2-1 2-3 2-2 2-4 2-4 2-7 2-7 2-8 2-7 2-6 2-5 2-4 2-2 2-2 2 0 2 2 2-1 2 0 2 1 2 1 2 0 2 1 2 1 2 2 2 1 2 1 2 2 2 1 2 3 2 2 2 1 2 1 2 2 2 2 2 0 2-1 2-13 2-23 2-36 2-46 2-33 2-28 2-25 2-21 1-9 1-8 1-7 1-8 1-5 1-5 1-6 1 13 1 17 1-1 1-14 1-18 1-10 1-4 1-2 1 1 1 1 1 1 1 0 1 2 1 0 1 0 1 0 1 0 1 2 1 3 1 10 1 2 1-5 1-5 1-1 1-4 1-2 1 2 1-2 1-2 1-2 1-2 1 2 1-1 1-4 1-3 1 0 1 0 1 2 1 1 1-1 1-2 1 1 1 2 1 0 1 5 1 11 1 1 1-5 1-3 1 4 1 1 1 0 1 6 1-2 1 0 1 6 1 8 1 8 1 3 1 4 1 2 2 7 2 6 2 9 2 4 2 1 2-1 2-3 2-1 2-4 1-2"/><path vector-effect="non-scaling-stroke" d="M0 556l2 0 2-1 2-2 2-2 2-1 2-1 2-3 2-3 2-2 2-1 2-1 2-1 2-2 2-1 2-1 2-2 2-2 2-2 2-3 2-5 2-4 2-3 2-4 2-2 2-1 2-2 2 0 2 1 2 0 2 0 2 0 2 1 2 1 2 0 2 0 2 1 2 0 2 1 2 1 2 1 2 1 2 1 2 1 2 0 2 1 2 1 2 1 2 0 2-2 2-7 2-12 2-20 2-30 2-35 2-28 2-25 2-23 1-8 1-10 1-8 1-7 1-7 1-5 1-6 1 10 1 10 1 0 1-11 1-13 1-10 1-3 1 0 1 0 1 0 1 1 1 0 1 1 1-1 1 1 1-1 1 1 1 1 1 2 1 8 1 1 1-3 1-4 1-3 1-1 1-1 1-1 1 0 1-2 1-1 1-2 1 2 1-2 1-3 1-1 1 0 1 2 1-1 1 1 1 0 1-1 1 2 1-1 1 1 1 4 1 8 1 1 1-2 1-4 1 3 1 0 1 0 1 6 1-2 1-1 1 6 1 6 1 4 1 4 1 3 1 1 2 4 2 7 2 6 2 3 2 1 2-1 2-2 2 0 2-3 1-2"/><path vector-effect="non-scaling-stroke" d="M0 502l2 7 2-3 2-5 2-1 2-2 2-4 2-8 2-4 2-3 2-3 2 0 2-3 2-2 2 0 2-3 2-3 2-1 2-4 2-5 2-7 2-7 2-6 2-6 2-4 2-3 2-3 2-1 2 1 2 1 2 0 2-1 2 1 2 3 2-1 2 1 2 0 2 2 2 1 2 2 2 2 2 3 2 2 2 2 2 1 2 3 2 1 2 2 2 0 2-3 2-14 2-27 2-43 2-44 2-33 2-28 2-25 2-18 1-8 1-8 1-7 1-7 1-6 1-6 1-5 1 15 1 16 1 1 1-16 1-18 1-14 1-2 1-3 1 1 1 2 1 1 1-1 1 1 1 0 1 0 1-1 1 4 1 0 1 3 1 9 1 3 1-6 1-6 1-3 1-3 1-1 1-2 1-2 1 0 1-3 1-3 1 2 1-2 1-5 1-3 1 1 1 0 1 0 1 3 1-2 1-1 1 0 1 2 1-1 1 7 1 12 1 4 1-8 1-2 1 6 1-1 1 2 1 6 1-1 1 0 1 8 1 10 1 8 1 5 1 2 1 3 2 7 2 10 2 9 2 5 2 1 2-3 2 0 2-2 2-4 1-1"/><path vector-effect="non-scaling-stroke" d="M0 528l2 5 2-1 2-5 2-2 2-2 2-3 2-5 2-3 2-4 2-3 2 0 2-3 2-2 2-1 2-3 2-3 2-3 2-3 2-6 2-7 2-7 2-5 2-6 2-3 2-3 2-3 2-1 2 1 2 1 2 0 2-1 2 1 2 1 2 0 2 0 2 2 2 1 2 1 2 0 2 2 2 1 2 2 2 2 2 1 2 2 2 1 2 2 2-1 2-2 2-11 2-22 2-33 2-45 2-33 2-29 2-24 2-20 1-8 1-7 1-7 1-9 1-5 1-5 1-5 1 13 1 15 1 2 1-14 1-16 1-13 1-2 1-1 1 1 1 1 1 1 1 0 1 1 1 1 1 0 1-1 1 1 1 2 1 3 1 8 1 2 1-5 1-5 1-2 1-3 1-1 1-2 1-1 1-1 1-2 1-3 1 2 1 0 1-5 1-4 1 1 1 1 1-1 1 2 1 0 1 0 1-1 1 0 1 2 1 5 1 11 1 3 1-5 1-3 1 6 1-1 1 1 1 8 1-3 1 1 1 5 1 10 1 8 1 5 1 3 1 3 2 5 2 10 2 7 2 4 2 1 2-2 2-1 2-1 2-3 1-1"/><path vector-effect="non-scaling-stroke" d="M0 493l2 3 2-1 2-2 2-2 2-2 2-2 2-5 2-4 2-4 2-2 2 1 2-2 2-3 2-2 2-3 2-5 2-5 2-6 2-9 2-13 2-11 2-10 2-9 2-7 2-5 2-5 2-1 2 0 2 2 2 0 2-1 2 2 2 4 2-2 2 1 2 2 2 2 2 1 2 2 2 2 2 4 2 3 2 2 2 3 2 3 2 3 2 2 2 1 2-6 2-24 2-44 2-59 2-39 2-37 2-27 2-22 2-18 1-8 1-5 1-8 1-6 1-5 1-5 1-8 1 18 1 21 1 2 1-17 1-21 1-16 1-4 1 0 1 0 1 3 1 0 1 1 1 1 1 1 1-2 1 0 1 2 1 2 1 4 1 11 1 2 1-5 1-7 1-2 1-5 1-1 1-2 1 0 1-1 1-4 1-3 1 3 1-1 1-3 1-4 1 1 1 1 1 3 1 0 1 0 1-1 1 2 1 1 1 2 1 4 1 14 1 1 1-4 1-4 1 5 1 0 1 0 1 9 1-3 1-2 1 10 1 7 1 10 1 5 1 4 1 3 2 6 2 7 2 9 2 6 2 0 2-2 2-3 2-2 2-5 1-3"/><path vector-effect="non-scaling-stroke" d="M0 540l2 4 2 0 2-4 2-3 2-1 2-2 2-4 2-4 2-2 2-2 2-1 2-1 2-2 2-2 2-2 2-2 2-3 2-4 2-4 2-7 2-6 2-5 2-5 2-3 2-3 2-2 2-1 2 0 2 1 2 0 2 0 2 1 2 2 2-1 2 1 2 2 2 1 2 1 2 1 2 1 2 3 2 1 2 2 2 1 2 1 2 1 2 2 2 0 2-2 2-9 2-17 2-27 2-39 2-35 2-29 2-25 2-21 1-9 1-8 1-7 1-8 1-5 1-6 1-4 1 10 1 14 1 0 1-13 1-15 1-11 1-2 1-2 1 0 1 0 1 3 1-1 1 0 1 0 1 0 1 0 1 0 1 1 1 3 1 8 1 1 1-5 1-3 1-2 1-3 1-2 1-1 1 0 1-1 1-3 1-2 1 1 1 0 1-5 1-1 1-2 1 0 1 3 1 0 1-1 1-2 1 2 1 1 1 1 1 6 1 11 1 3 1-3 1-1 1 6 1 1 1 3 1 6 1-1 1 1 1 9 1 9 1 8 1 5 1 4 1 4 2 7 2 10 2 8 2 4 2 1 2-1 2-1 2-1 2-2 1-2"/><path vector-effect="non-scaling-stroke" d="M0 537l2 2 2-2 2-2 2-1 2-4 2-3 2-4 2-4 2-2 2-2 2-1 2-2 2-2 2-1 2-2 2-3 2-2 2-3 2-4 2-6 2-6 2-4 2-5 2-3 2-2 2-2 2 0 2 1 2 0 2 1 2 0 2 1 2 2 2-1 2 1 2 1 2 1 2 0 2 1 2 1 2 2 2 1 2 2 2 1 2 1 2 2 2 1 2 0 2-1 2-7 2-13 2-22 2-33 2-33 2-26 2-25 2-21 1-8 1-9 1-8 1-6 1-7 1-4 1-6 1 10 1 12 1 1 1-13 1-14 1-11 1-2 1-2 1 2 1 1 1 0 1 1 1 0 1 0 1-1 1 1 1 1 1 0 1 4 1 7 1 2 1-3 1-4 1-2 1-2 1-2 1 0 1 1 1-2 1-2 1-2 1 2 1 0 1-5 1 0 1-1 1 1 1 1 1 0 1 0 1 1 1-1 1 1 1 2 1 4 1 9 1 2 1-3 1-3 1 5 1 1 1-1 1 7 1-2 1 0 1 7 1 6 1 6 1 5 1 3 1 2 2 4 2 7 2 8 2 3 2 0 2-1 2-1 2-1 2-2 1-2"/><path vector-effect="non-scaling-stroke" d="M0 563l2 0 2 0 2-1 2 0 2 1 2 0 2-1 2-2 2 0 2 0 2 0 2-1 2-1 2 0 2-1 2-1 2-1 2-1 2-1 2 0 2-1 2-1 2 0 2-1 2-1 2 0 2 0 2 0 2 0 2 0 2 0 2 0 2 1 2 1 2 0 2 1 2 1 2 1 2 1 2 1 2 1 2 1 2 1 2 2 2 2 2 2 2 2 2 1 2-1 2-4 2-6 2-9 2-12 2-15 2-18 2-18 2-17 1-8 1-7 1-7 1-6 1-5 1-5 1-5 1 4 1 4 1 0 1-7 1-7 1-5 1-1 1-2 1 1 1 0 1 0 1 0 1 1 1 0 1-1 1 0 1 0 1 2 1 1 1 3 1 1 1-1 1-2 1-2 1-1 1 0 1-1 1 0 1-1 1-1 1-1 1 1 1 0 1-2 1-1 1-1 1 1 1 1 1-1 1 0 1 0 1 0 1 0 1 1 1 2 1 4 1 1 1-3 1-1 1 1 1 0 1 0 1 3 1-1 1 0 1 2 1 3 1 3 1 3 1 1 1 1 2 2 2 3 2 3 2 3 2 0 2-1 2 0 2 0 2-1 1-1"/><path vector-effect="non-scaling-stroke" d="M0 531l2 5 2-3 2-3 2-3 2-3 2-3 2-5 2-6 2-3 2-3 2-1 2-2 2-3 2-1 2-3 2-2 2-2 2-3 2-4 2-7 2-4 2-5 2-4 2-3 2-2 2-2 2 0 2 1 2 1 2 0 2 0 2 1 2 2 2-1 2 1 2 2 2 1 2 1 2 1 2 2 2 1 2 2 2 1 2 2 2 1 2 1 2 1 2 0 2-1 2-10 2-18 2-29 2-40 2-33 2-28 2-25 2-21 1-9 1-7 1-8 1-7 1-6 1-3 1-8 1 13 1 15 1-1 1-14 1-14 1-12 1-2 1-2 1-1 1 3 1 1 1-1 1 1 1-1 1 3 1 0 1 0 1 0 1 3 1 9 1 2 1-5 1-4 1-3 1-4 1-1 1 1 1-3 1-1 1-1 1-4 1 2 1 0 1-5 1-1 1-1 1 0 1 1 1 0 1 0 1 0 1 0 1 2 1-1 1 4 1 9 1 3 1-6 1 0 1 3 1-1 1 0 1 8 1-3 1-1 1 7 1 7 1 8 1 3 1 2 1 3 2 4 2 7 2 7 2 5 2 1 2-2 2-1 2-1 2-4 1-2"/><path vector-effect="non-scaling-stroke" d="M0 519l2 4 2 0 2-2 2-2 2-4 2-2 2-3 2-6 2-3 2-1 2-1 2-2 2-2 2-2 2-2 2-3 2-5 2-4 2-7 2-9 2-9 2-6 2-7 2-5 2-4 2-3 2-1 2 0 2 1 2 0 2 0 2 1 2 2 2-1 2 1 2 2 2 2 2 1 2 1 2 2 2 2 2 3 2 1 2 2 2 2 2 2 2 1 2 1 2-3 2-12 2-23 2-36 2-46 2-32 2-28 2-25 2-19 1-8 1-8 1-8 1-6 1-8 1-6 1-5 1 13 1 16 1 2 1-16 1-18 1-12 1-2 1-3 1 1 1 2 1-1 1 2 1 1 1 1 1-2 1 0 1 2 1 0 1 5 1 8 1 2 1-5 1-5 1-3 1-3 1-3 1 0 1-1 1-2 1-2 1-3 1 2 1-2 1-5 1-2 1 1 1 0 1 1 1 0 1-1 1-1 1 0 1 2 1 1 1 3 1 14 1 0 1-6 1-2 1 2 1 1 1 1 1 6 1-2 1 0 1 6 1 9 1 8 1 5 1 3 1 4 2 3 2 9 2 10 2 5 2 1 2-2 2 1 2-2 2-3 1-3"/><path vector-effect="non-scaling-stroke" d="M0 506l2 7 2-2 2-5 2-2 2-2 2-2 2-6 2-6 2-2 2-2 2 0 2-2 2-4 2 0 2-3 2-3 2-3 2-5 2-7 2-9 2-8 2-6 2-7 2-4 2-4 2-4 2-1 2 1 2 2 2 0 2 0 2 1 2 3 2-1 2 1 2 2 2 2 2 1 2 2 2 2 2 4 2 1 2 3 2 2 2 3 2 2 2 2 2 1 2-3 2-16 2-29 2-46 2-45 2-37 2-30 2-24 2-19 1-9 1-9 1-8 1-5 1-7 1-6 1-7 1 16 1 18 1 0 1-16 1-19 1-12 1-5 1-2 1 2 1 0 1 2 1-1 1 3 1-1 1 0 1 1 1 0 1 1 1 6 1 9 1 1 1-5 1-4 1-3 1-3 1-2 1-1 1 0 1-2 1-2 1-3 1 1 1 0 1-6 1-1 1 1 1 2 1 0 1 0 1 0 1-1 1 0 1-1 1 5 1 3 1 15 1 3 1-6 1-2 1 5 1 2 1 2 1 7 1-3 1 2 1 8 1 9 1 9 1 2 1 5 1 4 2 7 2 9 2 10 2 5 2 0 2-2 2-1 2 0 2-4 1-2"/><path vector-effect="non-scaling-stroke" d="M0 503l2 4 2 1 2-5 2-3 2-3 2-5 2-7 2-6 2-4 2-2 2 0 2-4 2-3 2 0 2-3 2-2 2-3 2-3 2-5 2-8 2-7 2-5 2-6 2-4 2-3 2-2 2-2 2 2 2 1 2 1 2 0 2 2 2 2 2-1 2 1 2 3 2 1 2 1 2 1 2 2 2 3 2 3 2 3 2 2 2 2 2 2 2 2 2 2 2-2 2-15 2-30 2-43 2-46 2-35 2-29 2-24 2-20 1-8 1-7 1-7 1-7 1-5 1-6 1-6 1 16 1 17 1 1 1-14 1-19 1-13 1-3 1-2 1 1 1 3 1 0 1 0 1 0 1 0 1 0 1 1 1 0 1 0 1 5 1 9 1 1 1-5 1-5 1-3 1-3 1-1 1-1 1-1 1-2 1-2 1-2 1 1 1 0 1-5 1-3 1 0 1 3 1 0 1 0 1 0 1-1 1 1 1 1 1 0 1 4 1 11 1 4 1-6 1-2 1 4 1 1 1 0 1 8 1-5 1 0 1 10 1 7 1 8 1 4 1 4 1 4 2 5 2 9 2 9 2 6 2 1 2-1 2-1 2-1 2-3 1-4"/><path vector-effect="non-scaling-stroke" d="M0 557l2 1 2 0 2-1 2-2 2-2 2-2 2-3 2-2 2-2 2-2 2 0 2-1 2-2 2-1 2-1 2-1 2-2 2-1 2-3 2-4 2-3 2-3 2-3 2-1 2-1 2-2 2 0 2 0 2 1 2 0 2 0 2 0 2 1 2 0 2 0 2 1 2 1 2 0 2 1 2 1 2 0 2 1 2 1 2 1 2 0 2 1 2 0 2 0 2-1 2-7 2-11 2-19 2-28 2-35 2-27 2-26 2-22 1-10 1-8 1-8 1-8 1-6 1-6 1-6 1 9 1 11 1 1 1-12 1-13 1-9 1-3 1 0 1 0 1 2 1 1 1-1 1 1 1 0 1 1 1 0 1 0 1 2 1 3 1 5 1 2 1-3 1-3 1-2 1-2 1-1 1 1 1 0 1-2 1-1 1-3 1 1 1-1 1-3 1-1 1 0 1 1 1 1 1 1 1 0 1 0 1-2 1 1 1 2 1 4 1 7 1 3 1-3 1-1 1 3 1 0 1 2 1 4 1-1 1 0 1 6 1 7 1 4 1 4 1 3 1 2 2 5 2 7 2 6 2 3 2 0 2-1 2 0 2-1 2-2 1 0"/><path vector-effect="non-scaling-stroke" d="M0 515l2 3 2-3 2-1 2-1 2-3 2-4 2-3 2-4 2-4 2-1 2 0 2-3 2-2 2-2 2-2 2-2 2-4 2-4 2-6 2-8 2-9 2-6 2-7 2-4 2-4 2-2 2-2 2 1 2 1 2 0 2 0 2 2 2 2 2-1 2 1 2 2 2 1 2 2 2 0 2 2 2 2 2 3 2 2 2 1 2 2 2 2 2 1 2 1 2-2 2-14 2-25 2-41 2-46 2-34 2-30 2-25 2-21 1-8 1-7 1-8 1-7 1-6 1-6 1-5 1 14 1 17 1 0 1-15 1-16 1-13 1-4 1-1 1 0 1 2 1 0 1 1 1 0 1 1 1-1 1 0 1 1 1 0 1 5 1 8 1 2 1-4 1-6 1-3 1-3 1-2 1-1 1-1 1-1 1-2 1-2 1 0 1 0 1-5 1-3 1 1 1 2 1 1 1-1 1 1 1-1 1 1 1 0 1 3 1 4 1 11 1 3 1-4 1-2 1 2 1 2 1-2 1 9 1-3 1 0 1 8 1 9 1 8 1 2 1 6 1 2 2 6 2 8 2 9 2 4 2 0 2 0 2-2 2-2 2-4 1-2"/><path vector-effect="non-scaling-stroke" d="M0 534l2 5 2-2 2-4 2-2 2-2 2-3 2-4 2-4 2-2 2-2 2-1 2-2 2-2 2 0 2-2 2-2 2-3 2-3 2-4 2-7 2-6 2-4 2-5 2-3 2-2 2-2 2-1 2 1 2 1 2 0 2 0 2 1 2 2 2-1 2 1 2 2 2 1 2 0 2 2 2 1 2 2 2 1 2 2 2 1 2 1 2 2 2 1 2 0 2-1 2-9 2-16 2-25 2-37 2-35 2-28 2-24 2-21 1-9 1-9 1-8 1-8 1-6 1-6 1-5 1 10 1 13 1 1 1-14 1-15 1-11 1-3 1-1 1 0 1 2 1 0 1 0 1 1 1 0 1-1 1 2 1 0 1 2 1 3 1 7 1 2 1-3 1-4 1-2 1-2 1-1 1-2 1 2 1-2 1-2 1-2 1 2 1 0 1-4 1-1 1-1 1 2 1 1 1 0 1 0 1 0 1 1 1 0 1 3 1 6 1 9 1 3 1-3 1-1 1 6 1-1 1 3 1 7 1-2 1 2 1 5 1 9 1 7 1 5 1 3 1 3 2 7 2 9 2 7 2 3 2 2 2-2 2-2 2 0 2-3 1-2"/><path vector-effect="non-scaling-stroke" d="M0 542l2 2 2-1 2-4 2-2 2-2 2-2 2-4 2-4 2-3 2-3 2-1 2-1 2-2 2-1 2-3 2-2 2-2 2-3 2-5 2-6 2-6 2-4 2-5 2-3 2-3 2-2 2-1 2 0 2 1 2 0 2 0 2 2 2 1 2-1 2 1 2 1 2 2 2 0 2 1 2 2 2 2 2 1 2 2 2 1 2 2 2 1 2 1 2 1 2-2 2-8 2-16 2-25 2-36 2-35 2-28 2-25 2-22 1-8 1-9 1-7 1-7 1-6 1-6 1-6 1 10 1 16 1-1 1-12 1-16 1-11 1-2 1-2 1 1 1 2 1 1 1-1 1 1 1 1 1 0 1 0 1 1 1 0 1 3 1 9 1 2 1-4 1-4 1-2 1-3 1-2 1 0 1 0 1-1 1-2 1-2 1 2 1-2 1-2 1-2 1 0 1 1 1 0 1 0 1 1 1 1 1-1 1 0 1 2 1 3 1 8 1 2 1-4 1-2 1 3 1 0 1-1 1 7 1-2 1-2 1 6 1 7 1 6 1 3 1 3 1 3 2 3 2 7 2 7 2 4 2 0 2-3 2 0 2-2 2-2 1-3"/><path vector-effect="non-scaling-stroke" d="M0 558l2 3 2 0 2-3 2-1 2-2 2-1 2-2 2-2 2-2 2-2 2 0 2-2 2-1 2 0 2-2 2-1 2-1 2-1 2-3 2-4 2-2 2-3 2-2 2-2 2-1 2-1 2 0 2 0 2 1 2 0 2 0 2 0 2 1 2-1 2 1 2 1 2 0 2 0 2 1 2 0 2 2 2 0 2 1 2 1 2 1 2 1 2 0 2 0 2-1 2-6 2-10 2-16 2-24 2-30 2-27 2-24 2-21 1-11 1-7 1-8 1-7 1-6 1-6 1-6 1 8 1 10 1 0 1-11 1-12 1-8 1-2 1-1 1 0 1 1 1 1 1 0 1 0 1 1 1 1 1-1 1 2 1 0 1 1 1 6 1 3 1-3 1-3 1-2 1-1 1-2 1 0 1 0 1-1 1-1 1-1 1 1 1-1 1-3 1 0 1-2 1 2 1 0 1 0 1 0 1 0 1 0 1 0 1 1 1 3 1 7 1 2 1-4 1-1 1 3 1 0 1-1 1 5 1-2 1 0 1 5 1 5 1 5 1 3 1 2 1 1 2 3 2 5 2 6 2 3 2 0 2-1 2 0 2-1 2-3 1-2"/><path vector-effect="non-scaling-stroke" d="M0 550l2 2 2-1 2-3 2-2 2-1 2-1 2-4 2-4 2-3 2-1 2 0 2-2 2-2 2 0 2-3 2-2 2-3 2-3 2-5 2-6 2-6 2-4 2-5 2-3 2-2 2-2 2-1 2 0 2 2 2 0 2-1 2 1 2 2 2-1 2 1 2 1 2 1 2 1 2 0 2 2 2 1 2 2 2 1 2 2 2 1 2 1 2 1 2 1 2-2 2-7 2-15 2-22 2-34 2-35 2-28 2-25 2-20 1-10 1-9 1-8 1-7 1-6 1-5 1-6 1 9 1 13 1 1 1-13 1-14 1-9 1-4 1-2 1 1 1 0 1 1 1 0 1 1 1 0 1-1 1 0 1 0 1 1 1 2 1 8 1 1 1-4 1-3 1-2 1-4 1 0 1-1 1-1 1-1 1-2 1-2 1 2 1-2 1-4 1-1 1 0 1 1 1 1 1 0 1 1 1-1 1-1 1 2 1 1 1 6 1 10 1 5 1-5 1 0 1 5 1 2 1 2 1 7 1-3 1 3 1 7 1 8 1 8 1 5 1 5 1 3 2 6 2 9 2 7 2 4 2 1 2-2 2 0 2-1 2-3 1-2"/><path vector-effect="non-scaling-stroke" d="M0 498l2 3 2-7 2-5 2-2 2-5 2-5 2-7 2-7 2-4 2-4 2-2 2-4 2-3 2-1 2-3 2-3 2-4 2-4 2-7 2-10 2-9 2-7 2-7 2-6 2-5 2-2 2-1 2 1 2 2 2 1 2-2 2 4 2 2 2-1 2 2 2 2 2 2 2 1 2 2 2 2 2 2 2 3 2 3 2 2 2 3 2 2 2 3 2 1 2-5 2-18 2-37 2-52 2-39 2-35 2-26 2-22 2-17 1-8 1-7 1-6 1-6 1-6 1-4 1-4 1 14 1 19 1 2 1-15 1-21 1-14 1-4 1-1 1 3 1 1 1 0 1 2 1-1 1 1 1-2 1 0 1 2 1 1 1 5 1 10 1 1 1-5 1-7 1-2 1-5 1-1 1-3 1 1 1-3 1-3 1-2 1 0 1-1 1-7 1-2 1-1 1 2 1 0 1 1 1-1 1-2 1 1 1 1 1 1 1 5 1 12 1 3 1-7 1-3 1 4 1 1 1 1 1 7 1-3 1 0 1 6 1 11 1 9 1 5 1 3 1 3 2 7 2 10 2 9 2 5 2 0 2-1 2-1 2-2 2-3 1-2"/><path vector-effect="non-scaling-stroke" d="M0 537l2 2 2 0 2-3 2-2 2-2 2-1 2-4 2-3 2-2 2-2 2-1 2-2 2-2 2 0 2-3 2-3 2-3 2-3 2-5 2-7 2-6 2-5 2-5 2-3 2-3 2-2 2-1 2 0 2 1 2 1 2-1 2 1 2 1 2 0 2 0 2 2 2 1 2 0 2 1 2 2 2 2 2 1 2 1 2 1 2 1 2 1 2 2 2 0 2-2 2-8 2-18 2-27 2-39 2-34 2-28 2-26 2-20 1-8 1-9 1-8 1-6 1-7 1-5 1-6 1 11 1 13 1 2 1-13 1-15 1-12 1-3 1-1 1 1 1 0 1 2 1 0 1 1 1 0 1 0 1-1 1 2 1 2 1 2 1 8 1 1 1-4 1-3 1-5 1-2 1-1 1 0 1-1 1-1 1-2 1-3 1 2 1-1 1-4 1-3 1 0 1 1 1 1 1 0 1 0 1 0 1-1 1 2 1 0 1 3 1 10 1 2 1-5 1-3 1 3 1 1 1-1 1 7 1-3 1 0 1 5 1 8 1 6 1 4 1 3 1 2 2 6 2 7 2 6 2 5 2 1 2-1 2-2 2-1 2-2 1-3"/><path vector-effect="non-scaling-stroke" d="M0 507l2 1 2 1 2-6 2-6 2-2 2-2 2-9 2-8 2-4 2-3 2-1 2-4 2-4 2 0 2-4 2-3 2-4 2-4 2-6 2-9 2-9 2-6 2-8 2-4 2-3 2-3 2-1 2 1 2 2 2 0 2 0 2 1 2 3 2-1 2 0 2 3 2 0 2 2 2 1 2 3 2 3 2 2 2 3 2 2 2 3 2 3 2 1 2 2 2-4 2-17 2-31 2-50 2-44 2-34 2-28 2-24 2-19 1-8 1-7 1-8 1-5 1-6 1-5 1-6 1 14 1 19 1 1 1-17 1-20 1-13 1-4 1-2 1 2 1 1 1 0 1 1 1-1 1 2 1-2 1 0 1 2 1 2 1 5 1 9 1 3 1-6 1-3 1-4 1-4 1-1 1 2 1-2 1-2 1-1 1-4 1 2 1-1 1-5 1-1 1-1 1 2 1-1 1 3 1-2 1 0 1-1 1 1 1 1 1 6 1 11 1 4 1-5 1-1 1 4 1 1 1-1 1 9 1-1 1 0 1 7 1 11 1 10 1 5 1 4 1 5 2 8 2 10 2 10 2 6 2 1 2-1 2-2 2-2 2-4 1 0"/><path vector-effect="non-scaling-stroke" d="M0 512l2 1 2-2 2-2 2-3 2-3 2-3 2-6 2-5 2-5 2-3 2 0 2-3 2-4 2 0 2-2 2-3 2-2 2-3 2-5 2-8 2-7 2-5 2-5 2-4 2-3 2-3 2-1 2 1 2 2 2 0 2 0 2 1 2 2 2-1 2 2 2 2 2 1 2 1 2 1 2 2 2 2 2 2 2 2 2 1 2 2 2 3 2 0 2 1 2-3 2-12 2-26 2-39 2-45 2-33 2-29 2-25 2-19 1-8 1-7 1-7 1-7 1-7 1-3 1-7 1 15 1 16 1 0 1-13 1-18 1-12 1-4 1-2 1 2 1 0 1 2 1-1 1 2 1 0 1-1 1 1 1 0 1 1 1 4 1 9 1 2 1-4 1-5 1-3 1-3 1-1 1-1 1 0 1-1 1-2 1-2 1 0 1 0 1-5 1-2 1-1 1 3 1 1 1 1 1-1 1-1 1 1 1 1 1 3 1 3 1 12 1 4 1-7 1-1 1 5 1 0 1-1 1 8 1-3 1-1 1 8 1 8 1 9 1 4 1 3 1 4 2 5 2 7 2 10 2 4 2 1 2-3 2 0 2-2 2-2 1-3"/><path vector-effect="non-scaling-stroke" d="M0 518l2 3 2-1 2-3 2-2 2-5 2-4 2-6 2-5 2-5 2-3 2 0 2-3 2-3 2-1 2-2 2-3 2-2 2-3 2-5 2-7 2-6 2-4 2-5 2-3 2-3 2-2 2-1 2 1 2 2 2 0 2 0 2 1 2 2 2 0 2 0 2 2 2 1 2 0 2 1 2 2 2 2 2 2 2 1 2 2 2 1 2 2 2 1 2 0 2-3 2-13 2-26 2-39 2-45 2-36 2-28 2-25 2-20 1-10 1-6 1-9 1-8 1-5 1-6 1-7 1 15 1 16 1 1 1-15 1-19 1-13 1-3 1-1 1 1 1 1 1 2 1-1 1-1 1 2 1 0 1 0 1 1 1 2 1 4 1 9 1 2 1-5 1-4 1-4 1-3 1-1 1-1 1-1 1-1 1-2 1-1 1 0 1 0 1-5 1 0 1-3 1 2 1 1 1 2 1 0 1 0 1-1 1 1 1 2 1 4 1 11 1 3 1-7 1-2 1 5 1 0 1 0 1 6 1-2 1 0 1 6 1 9 1 9 1 3 1 3 1 2 2 6 2 7 2 9 2 5 2 0 2-3 2-1 2-2 2-3 1-1"/><path vector-effect="non-scaling-stroke" d="M0 504l2 3 2 0 2-2 2-3 2-3 2-2 2-4 2-4 2-3 2 0 2-1 2-2 2-2 2-2 2-2 2-3 2-5 2-4 2-8 2-10 2-9 2-7 2-7 2-6 2-5 2-3 2-1 2 0 2 2 2 1 2-1 2 1 2 3 2-1 2 1 2 2 2 1 2 2 2 0 2 2 2 3 2 3 2 0 2 2 2 3 2 1 2 1 2 1 2-3 2-16 2-29 2-45 2-44 2-33 2-29 2-23 2-20 1-8 1-7 1-8 1-7 1-6 1-6 1-6 1 15 1 18 1 1 1-16 1-19 1-14 1-2 1-4 1 2 1 2 1 1 1 1 1 0 1 1 1 0 1 0 1 0 1 3 1 1 1 11 1 3 1-5 1-4 1-4 1-5 1 1 1 0 1-1 1-2 1-1 1-3 1 1 1-1 1-7 1 0 1 2 1 1 1 1 1 1 1-1 1 0 1 1 1 1 1 2 1 7 1 13 1 4 1-6 1 1 1 4 1 1 1 2 1 9 1-2 1 2 1 7 1 9 1 9 1 6 1 4 1 4 2 7 2 10 2 9 2 5 2 1 2-2 2-1 2-2 2-2 1-2"/><path vector-effect="non-scaling-stroke" d="M0 519l2 3 2-3 2-4 2-2 2 0 2-5 2-4 2-3 2-3 2-2 2-1 2-2 2-2 2-1 2-3 2-3 2-3 2-4 2-5 2-9 2-7 2-5 2-6 2-4 2-3 2-2 2-2 2 0 2 2 2 1 2 0 2 1 2 2 2-1 2 1 2 2 2 1 2 1 2 1 2 2 2 2 2 2 2 1 2 2 2 2 2 1 2 1 2 1 2-2 2-13 2-23 2-37 2-45 2-33 2-30 2-24 2-20 1-8 1-8 1-8 1-6 1-6 1-6 1-4 1 12 1 18 1 0 1-15 1-18 1-11 1-2 1-2 1 2 1 3 1 0 1 2 1 0 1 0 1 0 1 1 1-1 1 3 1 2 1 10 1 3 1-5 1-5 1-2 1-2 1-2 1 0 1-1 1-2 1-4 1-1 1 2 1-2 1-4 1-2 1 0 1 0 1 0 1 2 1-2 1 2 1-2 1 0 1 3 1 4 1 10 1 3 1-7 1-1 1 2 1 2 1-1 1 7 1-3 1-1 1 8 1 7 1 8 1 4 1 3 1 2 2 6 2 8 2 8 2 4 2 0 2-1 2-1 2-2 2-3 1-2"/><path vector-effect="non-scaling-stroke" d="M0 536l2 2 2-1 2-3 2-1 2-3 2-2 2-4 2-4 2-3 2-2 2 0 2-2 2-3 2 0 2-1 2-3 2-2 2-3 2-5 2-6 2-6 2-4 2-5 2-3 2-3 2-2 2-1 2 0 2 1 2 0 2 0 2 1 2 2 2-1 2 1 2 2 2 1 2 1 2 1 2 0 2 3 2 2 2 1 2 1 2 2 2 2 2 1 2 0 2-1 2-10 2-18 2-29 2-40 2-35 2-30 2-26 2-21 1-9 1-8 1-8 1-8 1-6 1-5 1-6 1 12 1 14 1 1 1-13 1-16 1-10 1-4 1-1 1 1 1 0 1 1 1 0 1 1 1 0 1-1 1 0 1 2 1 0 1 3 1 8 1 2 1-4 1-4 1-5 1-2 1-1 1-2 1-1 1 0 1-4 1-1 1 1 1-2 1-4 1-3 1 1 1 1 1 1 1 2 1-2 1 0 1 1 1 0 1 1 1 4 1 9 1 4 1-5 1-1 1 3 1 0 1 1 1 7 1-3 1 1 1 6 1 8 1 7 1 4 1 3 1 3 2 4 2 7 2 8 2 5 2-1 2-1 2-1 2-2 2-4 1-3"/><path vector-effect="non-scaling-stroke" d="M0 562l2 1 2 0 2-2 2-1 2-1 2-1 2-3 2-2 2-1 2-2 2 0 2-2 2-1 2-1 2-1 2 0 2-1 2-1 2-2 2-2 2-3 2-2 2-1 2-1 2-1 2-1 2 0 2 1 2 0 2 0 2 1 2 0 2 1 2-1 2 1 2 0 2 1 2 0 2 0 2 1 2 1 2 0 2 1 2 1 2 1 2 1 2 1 2 0 2-1 2-5 2-9 2-13 2-20 2-25 2-27 2-22 2-20 1-9 1-8 1-8 1-7 1-5 1-5 1-6 1 6 1 9 1 0 1-9 1-11 1-9 1-2 1-1 1 0 1 1 1 1 1 0 1 0 1 0 1 0 1 1 1 0 1 1 1 2 1 5 1 1 1-3 1-3 1-1 1-2 1-1 1-1 1-1 1 0 1-2 1-1 1 0 1 0 1-3 1-1 1 0 1 0 1 1 1 1 1-2 1-1 1 1 1 0 1 2 1 4 1 7 1 1 1-2 1-1 1 4 1 0 1 1 1 5 1 0 1 0 1 5 1 6 1 4 1 4 1 3 1 2 2 4 2 7 2 5 2 2 2 1 2-1 2-1 2 0 2-2 1-1"/><path vector-effect="non-scaling-stroke" d="M0 536l2 2 2-1 2-4 2-2 2-1 2-4 2-6 2-5 2-2 2-2 2-1 2-2 2-3 2 0 2-3 2-2 2-2 2-3 2-4 2-7 2-5 2-4 2-5 2-3 2-3 2-1 2-1 2 0 2 2 2 0 2 0 2 1 2 2 2 0 2 1 2 1 2 1 2 1 2 1 2 1 2 2 2 2 2 1 2 1 2 1 2 2 2 0 2 1 2-2 2-10 2-19 2-31 2-43 2-35 2-30 2-26 2-21 1-8 1-9 1-7 1-6 1-6 1-6 1-6 1 12 1 15 1 1 1-14 1-16 1-11 1-3 1-1 1 1 1 1 1 1 1 0 1 1 1 1 1 0 1 1 1-2 1 2 1 3 1 9 1 2 1-5 1-5 1 0 1-4 1-1 1-1 1-1 1-1 1-3 1-1 1 1 1-2 1-3 1-2 1-1 1 2 1 0 1 1 1 0 1 1 1-2 1 2 1 0 1 5 1 9 1 4 1-6 1-1 1 1 1 3 1-1 1 7 1-1 1-1 1 6 1 7 1 8 1 3 1 4 1 2 2 5 2 7 2 9 2 4 2 1 2-2 2-1 2-2 2-3 1-2"/><path vector-effect="non-scaling-stroke" d="M0 509l2 2 2-1 2-1 2-4 2-3 2-4 2-5 2-4 2-4 2-3 2-1 2-2 2-3 2-1 2-2 2-4 2-3 2-4 2-7 2-9 2-8 2-7 2-6 2-5 2-5 2-2 2-2 2 1 2 1 2 0 2 0 2 1 2 3 2-2 2 2 2 1 2 2 2 1 2 2 2 2 2 3 2 3 2 2 2 2 2 2 2 3 2 2 2 1 2-3 2-16 2-31 2-46 2-45 2-36 2-30 2-24 2-19 1-8 1-10 1-5 1-7 1-5 1-7 1-7 1 15 1 19 1 0 1-15 1-19 1-15 1-2 1-3 1 2 1 1 1 1 1 0 1 0 1 0 1 2 1-1 1 2 1 0 1 4 1 10 1 2 1-4 1-5 1-3 1-3 1-1 1-1 1-1 1 0 1-4 1-1 1 3 1-2 1-5 1-2 1-1 1 3 1 0 1 1 1 0 1-1 1 1 1 0 1 2 1 4 1 11 1 4 1-7 1-4 1 5 1 1 1-1 1 9 1-5 1 1 1 7 1 9 1 8 1 3 1 4 1 4 2 5 2 8 2 9 2 6 2-1 2 0 2-1 2-3 2-3 1-3"/><path vector-effect="non-scaling-stroke" d="M0 571l2-1 2 0 2 0 2-1 2 0 2 1 2-1 2 0 2-1 2 0 2 0 2 0 2-1 2 0 2-1 2 0 2-1 2-1 2 0 2-1 2 0 2 0 2-1 2 0 2 0 2 0 2 0 2 0 2 0 2 0 2 0 2 0 2 1 2 0 2 1 2 0 2 1 2 0 2 1 2 0 2 1 2 0 2 1 2 1 2 1 2 2 2 1 2 0 2-1 2-2 2-4 2-6 2-8 2-10 2-12 2-14 2-13 1-6 1-6 1-6 1-5 1-5 1-4 1-3 1 2 1 3 1-1 1-5 1-6 1-4 1-2 1 0 1 0 1 0 1 0 1 0 1 0 1 0 1-1 1 1 1 0 1 0 1 1 1 3 1 0 1-1 1-1 1-2 1 0 1-1 1 0 1 0 1-1 1-1 1 0 1 0 1 1 1-3 1 0 1 0 1 1 1-1 1 1 1 0 1 0 1 0 1 0 1 0 1 2 1 3 1 1 1-2 1 0 1 1 1 0 1 0 1 2 1-1 1 0 1 2 1 3 1 2 1 2 1 1 1 1 2 1 2 3 2 2 2 2 2-1 2 0 2 0 2-1 2 0 1-1"/><path vector-effect="non-scaling-stroke" d="M0 551l2 2 2-2 2-2 2 0 2-3 2-2 2-2 2-4 2-2 2-2 2-1 2-2 2-2 2-1 2-2 2-1 2-3 2-2 2-3 2-4 2-4 2-4 2-2 2-3 2-1 2-1 2-1 2 0 2 1 2 1 2 0 2 0 2 2 2-1 2 1 2 1 2 1 2 0 2 1 2 1 2 1 2 1 2 1 2 1 2 1 2 0 2 1 2-1 2-2 2-7 2-12 2-20 2-30 2-35 2-27 2-25 2-21 1-10 1-8 1-8 1-7 1-7 1-5 1-6 1 9 1 12 1 0 1-12 1-13 1-9 1-3 1-1 1 0 1 1 1 2 1-2 1 0 1 1 1-1 1 1 1 1 1 0 1 3 1 7 1 3 1-5 1-4 1-2 1-3 1 0 1 0 1-1 1-1 1-2 1-2 1 1 1 0 1-4 1-1 1 0 1 0 1 1 1 1 1-1 1 0 1-1 1 1 1 1 1 3 1 10 1 1 1-3 1-3 1 4 1 0 1 1 1 5 1-2 1 0 1 5 1 7 1 6 1 4 1 3 1 1 2 6 2 6 2 7 2 3 2 1 2-2 2-1 2 0 2-2 1-1"/><path vector-effect="non-scaling-stroke" d="M0 528l2 1 2 0 2-1 2-2 2-3 2-2 2-3 2-4 2-2 2-2 2 0 2-3 2-2 2-1 2-3 2-3 2-4 2-5 2-7 2-8 2-9 2-6 2-6 2-5 2-4 2-2 2-2 2 1 2 2 2 0 2 0 2 1 2 3 2-1 2 1 2 2 2 1 2 1 2 1 2 2 2 2 2 2 2 2 2 2 2 2 2 2 2 1 2 1 2-1 2-12 2-22 2-35 2-47 2-33 2-29 2-26 2-21 1-8 1-9 1-8 1-6 1-6 1-6 1-5 1 13 1 15 1 2 1-15 1-17 1-13 1-2 1-2 1 2 1 0 1 1 1 0 1-1 1 2 1-1 1 0 1 0 1 1 1 3 1 10 1 1 1-4 1-5 1-3 1-4 1-1 1-1 1 0 1-2 1-2 1-2 1 2 1-1 1-5 1-3 1 1 1 1 1 1 1 0 1-1 1 0 1 2 1-1 1 1 1 5 1 11 1 0 1-4 1-4 1 4 1 0 1 0 1 7 1-2 1-1 1 6 1 8 1 6 1 7 1 4 1 1 2 5 2 8 2 10 2 4 2 0 2-1 2-1 2 0 2-4 1-2"/><path vector-effect="non-scaling-stroke" d="M0 501l2 8 2-1 2-4 2-3 2-2 2-4 2-6 2-3 2-4 2-3 2 0 2-1 2-3 2-1 2-3 2-3 2-3 2-5 2-6 2-9 2-8 2-7 2-7 2-4 2-4 2-3 2-1 2 0 2 2 2 0 2 0 2 1 2 2 2 0 2 0 2 2 2 2 2 1 2 1 2 2 2 2 2 3 2 2 2 1 2 2 2 3 2 1 2 0 2-2 2-15 2-28 2-43 2-45 2-35 2-28 2-26 2-18 1-9 1-8 1-7 1-7 1-5 1-6 1-5 1 13 1 19 1 1 1-15 1-20 1-12 1-4 1-1 1 2 1 2 1 0 1 1 1 2 1 0 1-1 1 1 1 2 1 0 1 5 1 11 1 2 1-4 1-6 1-2 1-3 1 0 1 0 1-2 1-2 1-2 1-2 1 2 1-1 1-5 1-1 1 1 1-1 1 2 1 1 1-1 1-1 1 1 1-1 1 3 1 4 1 12 1 2 1-6 1-5 1 6 1-1 1 1 1 7 1-4 1-1 1 7 1 9 1 8 1 5 1 2 1 2 2 5 2 10 2 8 2 4 2 1 2-1 2-2 2-1 2-3 1-2"/><path vector-effect="non-scaling-stroke" d="M0 497l2 9 2 2 2-5 2-4 2-2 2-4 2-8 2-8 2-3 2-2 2-1 2-3 2-4 2-1 2-3 2-3 2-3 2-4 2-8 2-8 2-8 2-8 2-7 2-4 2-4 2-3 2-2 2 1 2 2 2 0 2 0 2 1 2 2 2 0 2 2 2 1 2 2 2 2 2 1 2 2 2 3 2 2 2 2 2 2 2 2 2 2 2 1 2 0 2-3 2-17 2-32 2-47 2-43 2-37 2-27 2-24 2-19 1-7 1-8 1-7 1-7 1-6 1-5 1-7 1 14 1 20 1 1 1-16 1-19 1-14 1-5 1 0 1-1 1 2 1 3 1 0 1 0 1 0 1-1 1 1 1 0 1 0 1 6 1 10 1 2 1-5 1-4 1-3 1-5 1 0 1 0 1-1 1-1 1-3 1-2 1 2 1-1 1-4 1-2 1 0 1 1 1 0 1 1 1 0 1 0 1 1 1-1 1 2 1 3 1 14 1 0 1-6 1-3 1 4 1-2 1 1 1 7 1-3 1-2 1 8 1 8 1 8 1 6 1 1 1 3 2 7 2 6 2 10 2 5 2 1 2-2 2 0 2-1 2-3 1-2"/><path vector-effect="non-scaling-stroke" d="M0 526l2 1 2 1 2-3 2-3 2-2 2-2 2-6 2-5 2-4 2-2 2-1 2-2 2-4 2 0 2-2 2-3 2-2 2-4 2-5 2-6 2-7 2-5 2-5 2-4 2-3 2-1 2-1 2 1 2 1 2 0 2 0 2 1 2 2 2-1 2 1 2 1 2 1 2 1 2 1 2 3 2 2 2 2 2 1 2 2 2 2 2 2 2 1 2 1 2-1 2-11 2-20 2-32 2-44 2-34 2-28 2-24 2-22 1-8 1-8 1-8 1-7 1-5 1-6 1-5 1 12 1 14 1 2 1-13 1-17 1-11 1-3 1-2 1 0 1 2 1 1 1 1 1 0 1 0 1-1 1 1 1 2 1 0 1 3 1 8 1 2 1-3 1-5 1-3 1-1 1-2 1-2 1 0 1-2 1-1 1-3 1 1 1 0 1-4 1-4 1 1 1 1 1 1 1 0 1 0 1-1 1 0 1 0 1 2 1 2 1 11 1 2 1-5 1-3 1 3 1 1 1-1 1 6 1-2 1-1 1 6 1 8 1 8 1 4 1 2 1 3 2 5 2 9 2 7 2 4 2 1 2-1 2-1 2-1 2-4 1-2"/><path vector-effect="non-scaling-stroke" d="M0 562l2 1 2 0 2-2 2 0 2-1 2-1 2-2 2-1 2-2 2-1 2 0 2-1 2-1 2-1 2-1 2-1 2-2 2-1 2-2 2-3 2-3 2-2 2-3 2-1 2-1 2-1 2-1 2 1 2 0 2 0 2 0 2 1 2 0 2 0 2 1 2 0 2 1 2 0 2 0 2 1 2 1 2 1 2 1 2 1 2 1 2 1 2 1 2 0 2-1 2-5 2-8 2-14 2-21 2-26 2-26 2-23 2-21 1-8 1-9 1-8 1-6 1-6 1-6 1-5 1 6 1 9 1-1 1-9 1-11 1-9 1-2 1-2 1 1 1 0 1 0 1 0 1 1 1-1 1 0 1-1 1 1 1 0 1 2 1 6 1 1 1-3 1-3 1-3 1 0 1-2 1-1 1 0 1-1 1-2 1-1 1 1 1-2 1-1 1-1 1-1 1 0 1 1 1 1 1-1 1-1 1 2 1-1 1 2 1 2 1 7 1 2 1-4 1-2 1 3 1 0 1 0 1 4 1-1 1-1 1 5 1 5 1 4 1 3 1 2 1 1 2 4 2 5 2 5 2 3 2 0 2-2 2 0 2 0 2-2 1-2"/><path vector-effect="non-scaling-stroke" d="M0 501l2 6 2 0 2-4 2-3 2-4 2-2 2-6 2-6 2-4 2-2 2 2 2-4 2-3 2 0 2-3 2-3 2-3 2-4 2-6 2-9 2-8 2-7 2-6 2-4 2-4 2-3 2-1 2 0 2 3 2 0 2-1 2 2 2 3 2-1 2 2 2 1 2 1 2 1 2 2 2 2 2 3 2 1 2 2 2 2 2 3 2 1 2 2 2 0 2-2 2-16 2-30 2-46 2-44 2-37 2-28 2-25 2-18 1-8 1-7 1-8 1-7 1-4 1-7 1-6 1 15 1 18 1 2 1-16 1-19 1-14 1-3 1-2 1 1 1 1 1 2 1 1 1 0 1 1 1 0 1 1 1 0 1 2 1 4 1 10 1 2 1-4 1-4 1-4 1-3 1 0 1-3 1 2 1-2 1-2 1-3 1 1 1-1 1-4 1-2 1 1 1 0 1 0 1 1 1-1 1 0 1-1 1 1 1 3 1 3 1 11 1 3 1-6 1-3 1 4 1 1 1-1 1 8 1-3 1-2 1 8 1 11 1 7 1 6 1 3 1 2 2 7 2 10 2 8 2 6 2 0 2-1 2-3 2-2 2-3 1-4"/><path vector-effect="non-scaling-stroke" d="M0 506l2 1 2-1 2 0 2-4 2-2 2-3 2-5 2-4 2-3 2-2 2-2 2-2 2-3 2-1 2-2 2-3 2-4 2-4 2-6 2-10 2-9 2-6 2-7 2-5 2-5 2-3 2-2 2 2 2 1 2 0 2-1 2 1 2 3 2-1 2 1 2 2 2 2 2 1 2 2 2 2 2 3 2 3 2 3 2 2 2 3 2 2 2 3 2 1 2-2 2-14 2-29 2-44 2-43 2-36 2-29 2-23 2-19 1-10 1-6 1-7 1-7 1-8 1-5 1-4 1 12 1 19 1 0 1-14 1-19 1-13 1-3 1-2 1 0 1 2 1 1 1 1 1-2 1 1 1 1 1-1 1 1 1 2 1 3 1 10 1 1 1-5 1-5 1-3 1-3 1-2 1-2 1 0 1-1 1-2 1-4 1 3 1-1 1-5 1-3 1 1 1 0 1 1 1 1 1 1 1 0 1 1 1 0 1-1 1 7 1 10 1 3 1-7 1-2 1 4 1 0 1 0 1 7 1-4 1-1 1 9 1 7 1 9 1 5 1 3 1 2 2 5 2 8 2 9 2 4 2 2 2-1 2-3 2-1 2-4 1-2"/><path vector-effect="non-scaling-stroke" d="M0 559l2 2 2-3 2-1 2 0 2-2 2-1 2-3 2-3 2-2 2-1 2 1 2-2 2-1 2-1 2-2 2-1 2-2 2-2 2-3 2-4 2-4 2-2 2-4 2-2 2-1 2-1 2-1 2 0 2 1 2 0 2 0 2 0 2 1 2 0 2 0 2 1 2 1 2 0 2 0 2 1 2 1 2 2 2 0 2 1 2 1 2 1 2 0 2 1 2-2 2-6 2-12 2-18 2-29 2-34 2-27 2-26 2-22 1-8 1-10 1-7 1-8 1-5 1-6 1-5 1 8 1 10 1 1 1-11 1-13 1-9 1-2 1-2 1 1 1 1 1 0 1 0 1 0 1 0 1 1 1 0 1 0 1 1 1 2 1 7 1 2 1-5 1-3 1-2 1-3 1 0 1-2 1 0 1 0 1-3 1-1 1 0 1 0 1-4 1-2 1 1 1 1 1 0 1 0 1 0 1 1 1-1 1 1 1 2 1 3 1 7 1 3 1-5 1 0 1 3 1 1 1-1 1 5 1-1 1-1 1 6 1 7 1 5 1 3 1 2 1 2 2 4 2 5 2 6 2 3 2 0 2-2 2-2 2-1 2-4 1-1"/><path vector-effect="non-scaling-stroke" d="M0 508l2 5 2 0 2-2 2-3 2-2 2-4 2-6 2-5 2-4 2-2 2 1 2-4 2-3 2 0 2-3 2-3 2-3 2-4 2-7 2-8 2-8 2-6 2-6 2-6 2-3 2-3 2-2 2 1 2 2 2 0 2 0 2 1 2 3 2-1 2 2 2 2 2 1 2 1 2 2 2 2 2 2 2 3 2 2 2 2 2 2 2 2 2 1 2 1 2-2 2-14 2-26 2-41 2-45 2-34 2-29 2-24 2-21 1-8 1-8 1-8 1-6 1-6 1-7 1-6 1 15 1 17 1 0 1-15 1-18 1-13 1-4 1-1 1 0 1 1 1 0 1 1 1 1 1 1 1 0 1 1 1 1 1 0 1 5 1 9 1 3 1-6 1-4 1-3 1-2 1-2 1 1 1 0 1-2 1-1 1-3 1 2 1 1 1-6 1-3 1 2 1 1 1 0 1 0 1 1 1-2 1 1 1 1 1 0 1 5 1 11 1 2 1-6 1-3 1 3 1-2 1 2 1 6 1-4 1 1 1 6 1 8 1 10 1 4 1 3 1 3 2 4 2 10 2 9 2 5 2 1 2-1 2 0 2-2 2-2 1-3"/><path vector-effect="non-scaling-stroke" d="M0 489l2 4 2-2 2-5 2-2 2 0 2-7 2-8 2-8 2-5 2-2 2-2 2-4 2-5 2-2 2-3 2-3 2-4 2-4 2-7 2-11 2-10 2-6 2-8 2-4 2-5 2-3 2-1 2 1 2 3 2 0 2-1 2 2 2 3 2-1 2 1 2 2 2 2 2 1 2 1 2 2 2 4 2 3 2 2 2 1 2 3 2 2 2 1 2 0 2-8 2-29 2-52 2-59 2-42 2-38 2-28 2-21 2-17 1-8 1-6 1-7 1-7 1-6 1-6 1-4 1 17 1 22 1 2 1-18 1-22 1-17 1-3 1-2 1 2 1 3 1 1 1 1 1 1 1 1 1-2 1 1 1 2 1 2 1 4 1 12 1 4 1-7 1-6 1-4 1-5 1 0 1 0 1 0 1-3 1-3 1-3 1 4 1-2 1-5 1-3 1 0 1 2 1 1 1 3 1-1 1-2 1 0 1 3 1 1 1 4 1 16 1 1 1-6 1-2 1 4 1 1 1-2 1 9 1-2 1-2 1 9 1 9 1 9 1 6 1 5 1 3 2 6 2 10 2 11 2 4 2 2 2-3 2-3 2 2 2-6 1-2"/></g><g transform="translate(66.9000 0) scale(2.2675 0.5)" fill="none" stroke="#ff0000" stroke-opacity="0.5" stroke-width="1.50" stroke-linejoin="round"><path vector-effect="non-scaling-stroke" d="M0 513l2 4 2 1 2-4 2-3 2-4 2-3 2-5 2-5 2-4 2-2 2-1 2-3 2-4 2 0 2-2 2-2 2-3 2-3 2-6 2-8 2-7 2-6 2-6 2-4 2-3 2-3 2-1 2 1 2 1 2 1 2-1 2 1 2 3 2-1 2 1 2 1 2 1 2 1 2 0 2 2 2 2 2 1 2 1 2 1 2 1 2 1 2 0 2 1 2-2 2-8 2-13 2-21 2-29 2-23 2-19 2-18 2-13 1-6 1-6 1-5 1-5 1-5 1-5 1-4 1 11 1 13 1 0 1-11 1-13 1-10 1-2 1-2 1 1 1 3 1 1 1 0 1 0 1 2 1-1 1 0 1 0 1 3 1 3 1 6 1 1 1-4 1-4 1-1 1-3 1-2 1-2 1 1 1-1 1-2 1-2 1 1 1-1 1-4 1 1 1-1 1 1 1 2 1 0 1 1 1 0 1 1 1 1 1 1 1 5 1 9 1 2 1-2 1-3 1 4 1 1 1 0 1 6 1-2 1 1 1 5 1 7 1 4 1 3 1 3 1 2 2 4 2 5 2 6 2 2 2 1 2 0 2 1 2 2 2 0 1 0"/><path vector-effect="non-scaling-stroke" d="M0 542l2 2 2 0 2-5 2-2 2-1 2-3 2-4 2-4 2-2 2-2 2 0 2-3 2-2 2 0 2-2 2-2 2-3 2-2 2-4 2-6 2-5 2-4 2-4 2-2 2-2 2-2 2-1 2 1 2 0 2 0 2 0 2 1 2 1 2 0 2 0 2 1 2 0 2 1 2-1 2 2 2 1 2 0 2 1 2 0 2 1 2 0 2-1 2-1 2-2 2-4 2-8 2-12 2-18 2-20 2-16 2-15 2-14 1-5 1-5 1-6 1-4 1-5 1-3 1-5 1 8 1 9 1 0 1-8 1-11 1-7 1-3 1 0 1 0 1 1 1 1 1 1 1-1 1 1 1 0 1 0 1 0 1 2 1 1 1 6 1 0 1-2 1-3 1-1 1-3 1-2 1 0 1 0 1-1 1-2 1-2 1 1 1 1 1-5 1-1 1 1 1 0 1 1 1 0 1 1 1 0 1 0 1 1 1 1 1 3 1 7 1 1 1-1 1-1 1 2 1 1 1 1 1 3 1-1 1 1 1 5 1 3 1 6 1 2 1 2 1 1 2 3 2 5 2 5 2 2 2 1 2 0 2 1 2 2 2 0 1-1"/><path vector-effect="non-scaling-stroke" d="M0 559l2-1 2-1 2-2 2-1 2-2 2-3 2-2 2-3 2-3 2-1 2-1 2-1 2-2 2 0 2-2 2-1 2-1 2-1 2-3 2-3 2-3 2-2 2-2 2-2 2-1 2-1 2 0 2 0 2 1 2 1 2-1 2 1 2 0 2 0 2 0 2 0 2 1 2 0 2 0 2 0 2 1 2 0 2 1 2 0 2 0 2 0 2-1 2-1 2-1 2-4 2-8 2-11 2-16 2-20 2-17 2-16 2-14 1-6 1-5 1-6 1-5 1-4 1-3 1-4 1 6 1 8 1 0 1-7 1-9 1-7 1-2 1-1 1 1 1 1 1 0 1 1 1 0 1 0 1 0 1 1 1 0 1 2 1 2 1 3 1 2 1-3 1-2 1-2 1-1 1 0 1-2 1 1 1-2 1-1 1-2 1 1 1 0 1-2 1-2 1-1 1 1 1 0 1 1 1 0 1 0 1 0 1 0 1 2 1 3 1 6 1 2 1-2 1 0 1 2 1 1 1 1 1 3 1 0 1 1 1 4 1 5 1 3 1 3 1 3 1 1 2 4 2 4 2 6 2 1 2 1 2 1 2 1 2 1 2-1 1 0"/><path vector-effect="non-scaling-stroke" d="M0 547l2 1 2-3 2-2 2-1 2-1 2-2 2-4 2-3 2-2 2-1 2-1 2-2 2-2 2 0 2-3 2-2 2-3 2-2 2-5 2-6 2-5 2-4 2-5 2-3 2-2 2-2 2-1 2 1 2 1 2 0 2 0 2 0 2 2 2-1 2 1 2 0 2 2 2 0 2 0 2 1 2 2 2 0 2 1 2 1 2 1 2 1 2-1 2 1 2-2 2-4 2-8 2-12 2-17 2-20 2-16 2-15 2-14 1-5 1-6 1-5 1-5 1-4 1-3 1-4 1 7 1 9 1 0 1-9 1-10 1-7 1-3 1-1 1 1 1 1 1 1 1 0 1 0 1 0 1 1 1 0 1 0 1 1 1 1 1 6 1 0 1-3 1-1 1-3 1-2 1-1 1-1 1 0 1-1 1-1 1-2 1 0 1 0 1-3 1-1 1 0 1 0 1 1 1 0 1 1 1-1 1 1 1 0 1 2 1 2 1 7 1 2 1-3 1-2 1 3 1 1 1 0 1 3 1-1 1 1 1 4 1 4 1 3 1 4 1 2 1 1 2 3 2 4 2 5 2 2 2 0 2 2 2 1 2 1 2 1 1-1"/><path vector-effect="non-scaling-stroke" d="M0 527l2 2 2 0 2-4 2-5 2-3 2-3 2-4 2-5 2-6 2-3 2 0 2-4 2-3 2-1 2-2 2-2 2-2 2-1 2-5 2-6 2-5 2-4 2-4 2-3 2-2 2-3 2 0 2 1 2 2 2 0 2-1 2 0 2 2 2-1 2 0 2 2 2 0 2 1 2 1 2 0 2 2 2 0 2 1 2 0 2 1 2-1 2 0 2 0 2-2 2-6 2-8 2-14 2-21 2-19 2-17 2-14 2-13 1-4 1-6 1-5 1-5 1-4 1-3 1-4 1 8 1 11 1 1 1-10 1-11 1-8 1-2 1-1 1 2 1 0 1 1 1 1 1-1 1 2 1-1 1 0 1 2 1 0 1 2 1 5 1 2 1-4 1-3 1-3 1-1 1-2 1-1 1 0 1-2 1-1 1-3 1 1 1-1 1-3 1-1 1 0 1 0 1 0 1 1 1 0 1-1 1 0 1 0 1 2 1 3 1 9 1 2 1-2 1-1 1 4 1 1 1 1 1 4 1-1 1 2 1 6 1 5 1 5 1 3 1 3 1 3 2 3 2 8 2 6 2 3 2 1 2 1 2 2 2 2 2 1 1-1"/><path vector-effect="non-scaling-stroke" d="M0 509l2 3 2 1 2-4 2-2 2-1 2-3 2-5 2-4 2-2 2-2 2-1 2-1 2-3 2-2 2-2 2-3 2-3 2-4 2-7 2-8 2-8 2-6 2-6 2-5 2-3 2-3 2-1 2 1 2 1 2 0 2 0 2 1 2 2 2-1 2 0 2 2 2 1 2 0 2 1 2 1 2 2 2 1 2 0 2 2 2 1 2 2 2 0 2 0 2-1 2-7 2-13 2-20 2-28 2-22 2-17 2-18 2-13 1-5 1-6 1-5 1-6 1-5 1-3 1-5 1 10 1 13 1 1 1-11 1-13 1-11 1-1 1-1 1 1 1 1 1 1 1-1 1 1 1 2 1-1 1 2 1-1 1 2 1 2 1 7 1 1 1-4 1-3 1-2 1-4 1-1 1-1 1-1 1 0 1-3 1-3 1 0 1-2 1-1 1 0 1-1 1-1 1 1 1 1 1 0 1 0 1-1 1 2 1 1 1 4 1 5 1-1 1 0 1 1 1 2 1-1 1 0 1 0 1-1 1 1 1 1 1 3 1 3 1 4 1 2 1 0 2-1 2 1 2 2 2-1 2-1 2-2 2 2 2 0 2-1 1-1"/><path vector-effect="non-scaling-stroke" d="M0 527l2 4 2-2 2-3 2-1 2-1 2-2 2-5 2-5 2-3 2-1 2 0 2-3 2-2 2-1 2-2 2-3 2-3 2-4 2-6 2-8 2-6 2-6 2-5 2-4 2-4 2-2 2-1 2 0 2 2 2 0 2-1 2 1 2 2 2 0 2 0 2 1 2 1 2 1 2 0 2 1 2 1 2 2 2 1 2 1 2 1 2 1 2 0 2 1 2-2 2-4 2-9 2-13 2-21 2-20 2-17 2-15 2-13 1-5 1-6 1-6 1-4 1-5 1-4 1-4 1 9 1 11 1-1 1-9 1-12 1-8 1-2 1-1 1 1 1 0 1 1 1 1 1 1 1-1 1 0 1 1 1 0 1 1 1 3 1 6 1 1 1-4 1-3 1-2 1-1 1-1 1-1 1-1 1-1 1-1 1-2 1 1 1 0 1-2 1-2 1-1 1 2 1 0 1 1 1 0 1 0 1 1 1-1 1 3 1 4 1 7 1 3 1-2 1-1 1 3 1 2 1 0 1 5 1 0 1 0 1 6 1 5 1 5 1 3 1 3 1 1 2 4 2 7 2 6 2 1 2 1 2 1 2 1 2 2 2-1 1 1"/><path vector-effect="non-scaling-stroke" d="M0 527l2 3 2-1 2-4 2-1 2-2 2-2 2-4 2-5 2-3 2-1 2 0 2-3 2-2 2-1 2-2 2-3 2-3 2-4 2-6 2-8 2-7 2-5 2-6 2-5 2-3 2-2 2-2 2 2 2 0 2 1 2-1 2 1 2 2 2 0 2 1 2 1 2 1 2 1 2 1 2 1 2 2 2 1 2 1 2 1 2 1 2 1 2 1 2-1 2-2 2-5 2-9 2-15 2-21 2-20 2-17 2-14 2-14 1-5 1-5 1-5 1-6 1-4 1-4 1-3 1 8 1 10 1 2 1-9 1-13 1-8 1-1 1-1 1 0 1 2 1 1 1 0 1 1 1 1 1-1 1 1 1 1 1 0 1 3 1 5 1 1 1-2 1-5 1-1 1-2 1-1 1-1 1 0 1-2 1-1 1-3 1 2 1-2 1-2 1-3 1 2 1 0 1 0 1 0 1 2 1-1 1 0 1 0 1 1 1 4 1 8 1 2 1-1 1-1 1 2 1 2 1 0 1 5 1 0 1 0 1 7 1 4 1 4 1 3 1 3 1 2 2 4 2 5 2 7 2 1 2 1 2 1 2 1 2 1 2 1 1-2"/><path vector-effect="non-scaling-stroke" d="M0 547l2 2 2 0 2-2 2-2 2-2 2-2 2-4 2-4 2-2 2-1 2 0 2-2 2-3 2 0 2-3 2-1 2-3 2-2 2-4 2-5 2-5 2-3 2-4 2-3 2-1 2-2 2-1 2 1 2 1 2 0 2 1 2 0 2 1 2 0 2 0 2 1 2 0 2 1 2 0 2 1 2 0 2 1 2 1 2 0 2 0 2 1 2 0 2 0 2-2 2-5 2-8 2-12 2-19 2-21 2-17 2-15 2-14 1-6 1-6 1-5 1-4 1-5 1-4 1-3 1 7 1 9 1 0 1-8 1-11 1-7 1-3 1 0 1 0 1 1 1 1 1 0 1 1 1 0 1 0 1 1 1 0 1 1 1 2 1 5 1 1 1-3 1-3 1-1 1-2 1-1 1-1 1 1 1-2 1-2 1-1 1-1 1-1 1-1 1-1 1 1 1 0 1 1 1-2 1 1 1 1 1-1 1 1 1 3 1 4 1 2 1 3 1 0 1 2 1 0 1 2 1 0 1 0 1 2 1 1 1 1 1 2 1 4 1 3 1 2 1 1 2 1 2 2 2 2 2-1 2-1 2-1 2 1 2 0 2 0 1 0"/><path vector-effect="non-scaling-stroke" d="M0 532l2 2 2 0 2-3 2-1 2-3 2-4 2-5 2-3 2-2 2-3 2-1 2-3 2-2 2-2 2-1 2-2 2-3 2-2 2-5 2-7 2-5 2-4 2-5 2-3 2-2 2-2 2 0 2 0 2 1 2 0 2-1 2 0 2 1 2 0 2 0 2 1 2-1 2 0 2 0 2 1 2 1 2 0 2 0 2 0 2-1 2 0 2-2 2-1 2-3 2-5 2-9 2-14 2-19 2-20 2-16 2-15 2-12 1-5 1-6 1-5 1-5 1-4 1-4 1-5 1 10 1 10 1 1 1-10 1-11 1-9 1-2 1-1 1 1 1 2 1 1 1 0 1 1 1 0 1 0 1 1 1 2 1 0 1 3 1 5 1 2 1-4 1-2 1-1 1-2 1-2 1-1 1 1 1-1 1-1 1-2 1 1 1-1 1-3 1-1 1-1 1 2 1 0 1 1 1 0 1-1 1 1 1 0 1 2 1 3 1 7 1 3 1-4 1 0 1 2 1 0 1 0 1 4 1 0 1 0 1 6 1 5 1 4 1 2 1 3 1 2 2 2 2 6 2 5 2 2 2 1 2 1 2 1 2 1 2 0 1-1"/><path vector-effect="non-scaling-stroke" d="M0 502l2 4 2-2 2-3 2-2 2-3 2-5 2-6 2-4 2-4 2-3 2 0 2-3 2-4 2-1 2-2 2-2 2-4 2-4 2-6 2-8 2-7 2-6 2-6 2-4 2-3 2-3 2-1 2 2 2 1 2 1 2-1 2 2 2 2 2-1 2 1 2 2 2 1 2 1 2 1 2 1 2 2 2 2 2 1 2 1 2 2 2 1 2 1 2-1 2-2 2-7 2-16 2-24 2-31 2-23 2-19 2-16 2-13 1-7 1-5 1-5 1-6 1-4 1-4 1-4 1 10 1 15 1 1 1-12 1-16 1-9 1-3 1-1 1 0 1 2 1 0 1 2 1 1 1-1 1 0 1 1 1 0 1 1 1 4 1 6 1 0 1-2 1-5 1-3 1-3 1-1 1-1 1-1 1-2 1-2 1-2 1 1 1-1 1-5 1-2 1 0 1 2 1-1 1 2 1-1 1 1 1-1 1 1 1 3 1 4 1 9 1 3 1-3 1-1 1 2 1 0 1 1 1 4 1 0 1 1 1 7 1 6 1 5 1 4 1 2 1 3 2 4 2 6 2 7 2 3 2 1 2 2 2 2 2 2 2 1 1-1"/><path vector-effect="non-scaling-stroke" d="M0 548l2 0 2-2 2-2 2-1 2-2 2-3 2-3 2-4 2-2 2-1 2-1 2-2 2-2 2-1 2-2 2-2 2-3 2-2 2-5 2-5 2-5 2-5 2-3 2-3 2-3 2-1 2-1 2 1 2 1 2 0 2-1 2 1 2 1 2-1 2 1 2 1 2 0 2 0 2 1 2 1 2 1 2 1 2 1 2 0 2 1 2 1 2 0 2 0 2-1 2-4 2-8 2-11 2-17 2-19 2-16 2-15 2-13 1-7 1-5 1-6 1-5 1-3 1-4 1-4 1 6 1 9 1 0 1-8 1-11 1-8 1-1 1-2 1 1 1 1 1 1 1 0 1 0 1-1 1 0 1 0 1 2 1 1 1 2 1 4 1 2 1-3 1-3 1-2 1-1 1-1 1-1 1 0 1-1 1-1 1-2 1 2 1 0 1-4 1-1 1 1 1 1 1 0 1 0 1 1 1-1 1 0 1 1 1 2 1 5 1 6 1 2 1 0 1 0 1 3 1 2 1 1 1 4 1 0 1 1 1 7 1 3 1 5 1 3 1 3 1 3 2 3 2 7 2 5 2 2 2 0 2 1 2 1 2 1 2 0 1 0"/><path vector-effect="non-scaling-stroke" d="M0 561l2 0 2 0 2-1 2-1 2-2 2-2 2-2 2-2 2-1 2-1 2-1 2-1 2-1 2-1 2-1 2-1 2-2 2-2 2-2 2-3 2-4 2-2 2-2 2-2 2-1 2-1 2-1 2 0 2 1 2 0 2-1 2 0 2 0 2 0 2 0 2 1 2 0 2 0 2 0 2 0 2 0 2 1 2-1 2 0 2 0 2-1 2 0 2-1 2-2 2-3 2-4 2-7 2-11 2-13 2-13 2-12 2-11 1-5 1-4 1-4 1-5 1-3 1-2 1-5 1 6 1 6 1-1 1-5 1-9 1-5 1-2 1-1 1 1 1 0 1 0 1 1 1 0 1 0 1 0 1 0 1 0 1 1 1 1 1 4 1 0 1-2 1-2 1-1 1-1 1-1 1 0 1-1 1 0 1-2 1-1 1 0 1-1 1-1 1 0 1-1 1 1 1 1 1 0 1 0 1 0 1 0 1 1 1 1 1 3 1 2 1 1 1 0 1 0 1 1 1 0 1 1 1 0 1-1 1 2 1 0 1 2 1 2 1 1 1 1 1 0 2 0 2 1 2 1 2 0 2-2 2 0 2 0 2 1 2-1 1-1"/><path vector-effect="non-scaling-stroke" d="M0 551l2 2 2 0 2-2 2-2 2-1 2-2 2-4 2-4 2-2 2-2 2 0 2-2 2-1 2-1 2-1 2-2 2-1 2-2 2-3 2-5 2-4 2-3 2-3 2-2 2-2 2-1 2-1 2 1 2 1 2 0 2-1 2 1 2 1 2 0 2 0 2 1 2 0 2 1 2 0 2 1 2 1 2 1 2 0 2 1 2 0 2 1 2 0 2-1 2-2 2-4 2-9 2-12 2-18 2-21 2-18 2-16 2-15 1-6 1-5 1-6 1-5 1-4 1-4 1-5 1 8 1 8 1-1 1-7 1-9 1-8 1-3 1 0 1 0 1 1 1 0 1 1 1 0 1 0 1 0 1 1 1 0 1 0 1 3 1 4 1 2 1-2 1-3 1-2 1 0 1-2 1 0 1-1 1 0 1-1 1-2 1 2 1-1 1-2 1-1 1 0 1 1 1 1 1 0 1 0 1 1 1 0 1 1 1 2 1 2 1 7 1 2 1-3 1 0 1 2 1 0 1 1 1 3 1-2 1 2 1 4 1 3 1 4 1 3 1 1 1 2 2 2 2 3 2 5 2 1 2 0 2 0 2 1 2 2 2 0 1-1"/><path vector-effect="non-scaling-stroke" d="M0 510l2 6 2 1 2-4 2-2 2-2 2-5 2-3 2-4 2-5 2-3 2 0 2-3 2-2 2-1 2-3 2-3 2-3 2-4 2-6 2-9 2-7 2-6 2-5 2-5 2-3 2-3 2-1 2 1 2 1 2 0 2 0 2 0 2 1 2 0 2 0 2 1 2 1 2 0 2 0 2 2 2 1 2 1 2 1 2 1 2 1 2 0 2 1 2-1 2-2 2-6 2-13 2-19 2-27 2-20 2-18 2-15 2-15 1-5 1-6 1-5 1-6 1-3 1-4 1-6 1 10 1 13 1 1 1-12 1-12 1-10 1-4 1 0 1 1 1 1 1 1 1 0 1 2 1 0 1-1 1 2 1 1 1 1 1 2 1 7 1 1 1-4 1-3 1-2 1-4 1-1 1 0 1 0 1-3 1-1 1-3 1 2 1-2 1-2 1-1 1-1 1 1 1 1 1 0 1 1 1 0 1-1 1 1 1 4 1 5 1 9 1 3 1-2 1-1 1 4 1 1 1 3 1 5 1 0 1 2 1 7 1 6 1 5 1 5 1 3 1 2 2 6 2 7 2 7 2 2 2 1 2 1 2 3 2 0 2 0 1-1"/><path vector-effect="non-scaling-stroke" d="M0 513l2 4 2 0 2-4 2-3 2-4 2-3 2-4 2-5 2-2 2-2 2-2 2-1 2-3 2-1 2-2 2-2 2-4 2-4 2-6 2-8 2-7 2-6 2-7 2-4 2-4 2-3 2-1 2 1 2 1 2 1 2-1 2 1 2 2 2-1 2 0 2 2 2 1 2 0 2 2 2 1 2 2 2 1 2 1 2 1 2 2 2 1 2 0 2 1 2-3 2-7 2-12 2-21 2-28 2-22 2-19 2-16 2-14 1-6 1-6 1-5 1-5 1-5 1-3 1-5 1 10 1 14 1 0 1-9 1-15 1-10 1-1 1-3 1 1 1 2 1 0 1 2 1 1 1 0 1-1 1 0 1 1 1 2 1 2 1 7 1 0 1-2 1-5 1-2 1-3 1-1 1 0 1-1 1-1 1-2 1-4 1 1 1 0 1-4 1-1 1-1 1 1 1 1 1 1 1-1 1 1 1 0 1 0 1 3 1 4 1 9 1 2 1-2 1-3 1 5 1 0 1 1 1 5 1-1 1 2 1 6 1 5 1 6 1 3 1 4 1 2 2 4 2 6 2 7 2 2 2 1 2 1 2 2 2 1 2 0 1-1"/><path vector-effect="non-scaling-stroke" d="M0 506l2 1 2 1 2-4 2-4 2-3 2-3 2-5 2-7 2-3 2-3 2-1 2-3 2-3 2-1 2-3 2-3 2-3 2-4 2-6 2-9 2-8 2-6 2-7 2-4 2-4 2-2 2-2 2 1 2 2 2 0 2-1 2 0 2 2 2 0 2 1 2 1 2 2 2 1 2 1 2 1 2 1 2 2 2 1 2 0 2 1 2 0 2-1 2 0 2-2 2-8 2-15 2-22 2-28 2-22 2-18 2-17 2-13 1-6 1-6 1-5 1-5 1-5 1-4 1-5 1 12 1 14 1 1 1-13 1-14 1-10 1-2 1-1 1 1 1 2 1 1 1 0 1 1 1-1 1 2 1 1 1 1 1 2 1 1 1 9 1 1 1-3 1-4 1-3 1-1 1-2 1-2 1 1 1-1 1-3 1-2 1 1 1-1 1-4 1-2 1 1 1 0 1 0 1 1 1 1 1-1 1 0 1 1 1 2 1 4 1 10 1 3 1-4 1 0 1 2 1 1 1 1 1 5 1 0 1 0 1 7 1 6 1 6 1 3 1 3 1 2 2 5 2 7 2 7 2 3 2 1 2 0 2 2 2 1 2 0 1-1"/><path vector-effect="non-scaling-stroke" d="M0 548l2 0 2-1 2-1 2 0 2-1 2-3 2-2 2-3 2-2 2-1 2 0 2-1 2-2 2-1 2-2 2-3 2-3 2-3 2-5 2-6 2-6 2-4 2-4 2-4 2-2 2-2 2-1 2 0 2 1 2-1 2 0 2 0 2 1 2 0 2 0 2 1 2 1 2 0 2 1 2 1 2 1 2 0 2 1 2 1 2 0 2 0 2 0 2 0 2-2 2-4 2-7 2-10 2-16 2-18 2-14 2-14 2-12 1-6 1-5 1-6 1-4 1-3 1-4 1-4 1 6 1 10 1 0 1-8 1-11 1-6 1-2 1-1 1 1 1 0 1 1 1 1 1 0 1-1 1 0 1 0 1 1 1 1 1 1 1 5 1 0 1-2 1-2 1-2 1-2 1-1 1-1 1 0 1 0 1-2 1-1 1 0 1 0 1-3 1-1 1 0 1 1 1 0 1 1 1 0 1 0 1 1 1 0 1 2 1 4 1 6 1 3 1-2 1 0 1 2 1 2 1 1 1 3 1 1 1 1 1 5 1 5 1 3 1 4 1 2 1 1 2 5 2 6 2 5 2 1 2 1 2 1 2 1 2 2 2 0 1 0"/><path vector-effect="non-scaling-stroke" d="M0 545l2 2 2-1 2-4 2-1 2-1 2-3 2-4 2-3 2-3 2-1 2-1 2-2 2-2 2-1 2-1 2-3 2-2 2-3 2-4 2-6 2-4 2-4 2-4 2-3 2-2 2-2 2-1 2 1 2 1 2 0 2 0 2 0 2 2 2-1 2 1 2 0 2 1 2 0 2 0 2 1 2 2 2 1 2 1 2 0 2 1 2 0 2 0 2 0 2-1 2-5 2-8 2-12 2-18 2-20 2-16 2-16 2-13 1-7 1-5 1-5 1-5 1-5 1-3 1-3 1 7 1 9 1 0 1-9 1-10 1-7 1-1 1-2 1 2 1 1 1 0 1 0 1 1 1 0 1 0 1 1 1 1 1 2 1 1 1 5 1 1 1-2 1-2 1-2 1-2 1-1 1 0 1 0 1-1 1-2 1-1 1 2 1-2 1-2 1-1 1 0 1 0 1 1 1 2 1-1 1 1 1-1 1 0 1 3 1 3 1 9 1 2 1 0 1-2 1 4 1 1 1 2 1 4 1 0 1 2 1 5 1 5 1 4 1 4 1 2 1 3 2 4 2 6 2 5 2 1 2 0 2 1 2 1 2 2 2-1 1 0"/><path vector-effect="non-scaling-stroke" d="M0 544l2 1 2-1 2-2 2-2 2-2 2-4 2-4 2-4 2-3 2-1 2-2 2-2 2-3 2-1 2-2 2-2 2-2 2-3 2-4 2-5 2-5 2-4 2-3 2-3 2-2 2-1 2-1 2 0 2 2 2 0 2 0 2 0 2 2 2-1 2 1 2 0 2 1 2 0 2 1 2 1 2 1 2 1 2 1 2 1 2 1 2 0 2 1 2-1 2-1 2-5 2-7 2-13 2-17 2-20 2-16 2-16 2-13 1-5 1-6 1-5 1-5 1-4 1-3 1-5 1 7 1 11 1-1 1-8 1-10 1-7 1-1 1-2 1 2 1 0 1 1 1 0 1 0 1 1 1 1 1 0 1 1 1 0 1 2 1 5 1 1 1-2 1-4 1-1 1-2 1-1 1-1 1-1 1 0 1-3 1-1 1-2 1-1 1-2 1 0 1 0 1-1 1 1 1 0 1-1 1 1 1-1 1 1 1 3 1 2 1 3 1 0 1 1 1-1 1 2 1 0 1 1 1 0 1 0 1 0 1 1 1 3 1 2 1 3 1 2 1 0 2 0 2 0 2 3 2-1 2-1 2 0 2 0 2 1 2-1 1 0"/><path vector-effect="non-scaling-stroke" d="M0 514l2 3 2-2 2-4 2-1 2-2 2-3 2-4 2-4 2-3 2-1 2 0 2-3 2-1 2-1 2-2 2-3 2-3 2-4 2-7 2-8 2-8 2-7 2-6 2-5 2-4 2-2 2-2 2 0 2 2 2 0 2-1 2 0 2 3 2-1 2 0 2 2 2 1 2 0 2 1 2 2 2 1 2 2 2 1 2 1 2 1 2 2 2 0 2 0 2-2 2-6 2-11 2-19 2-25 2-22 2-17 2-16 2-13 1-5 1-5 1-6 1-5 1-5 1-3 1-4 1 10 1 12 1 1 1-11 1-13 1-8 1-3 1-2 1 1 1 1 1 2 1 0 1 0 1 0 1 1 1-1 1 2 1 0 1 1 1 8 1 1 1-5 1-2 1-3 1-2 1-2 1-1 1 0 1-2 1-3 1-1 1 0 1 0 1-3 1-2 1-1 1 0 1 2 1 0 1 1 1 0 1 0 1 0 1 3 1 4 1 9 1 2 1-1 1-2 1 4 1 0 1 1 1 6 1-1 1 2 1 6 1 6 1 4 1 5 1 3 1 2 2 5 2 7 2 6 2 2 2 0 2 3 2 1 2 1 2 1 1 0"/><path vector-effect="non-scaling-stroke" d="M0 515l2 4 2-3 2-2 2-2 2-3 2-3 2-5 2-5 2-3 2-2 2-2 2-2 2-3 2-1 2-3 2-2 2-3 2-4 2-6 2-8 2-8 2-6 2-6 2-4 2-3 2-3 2-1 2 1 2 1 2 1 2 0 2 0 2 3 2-2 2 1 2 2 2 1 2 1 2 0 2 1 2 2 2 2 2 1 2 1 2 1 2 0 2 1 2-1 2-2 2-6 2-11 2-19 2-26 2-21 2-18 2-16 2-15 1-5 1-6 1-6 1-4 1-6 1-4 1-4 1 10 1 13 1 1 1-11 1-14 1-9 1-3 1-1 1 3 1-1 1 2 1 1 1 1 1-1 1 0 1 1 1 1 1 2 1 2 1 6 1 2 1-4 1-4 1-2 1-2 1-2 1 0 1-1 1-1 1-2 1-3 1 2 1 0 1-3 1-2 1 0 1 1 1 1 1 0 1 1 1 0 1 0 1 1 1 3 1 3 1 9 1 2 1-3 1-1 1 3 1 0 1 1 1 5 1-1 1 0 1 7 1 4 1 6 1 2 1 4 1 2 2 3 2 6 2 6 2 3 2 0 2 1 2 2 2 0 2 1 1-1"/><path vector-effect="non-scaling-stroke" d="M0 535l2 5 2-3 2-5 2-2 2 0 2-3 2-4 2-4 2-1 2-3 2 1 2-3 2-2 2-1 2-3 2-2 2-3 2-4 2-6 2-7 2-6 2-6 2-5 2-4 2-3 2-2 2-1 2 0 2 1 2 0 2 0 2 1 2 1 2 0 2 0 2 1 2 0 2 1 2 0 2 1 2 2 2 0 2 2 2 1 2 0 2 2 2 0 2 0 2-2 2-4 2-9 2-14 2-21 2-21 2-16 2-15 2-13 1-5 1-6 1-6 1-4 1-4 1-4 1-4 1 8 1 10 1 1 1-10 1-12 1-7 1-3 1-1 1 2 1 0 1 1 1 1 1 0 1 0 1 0 1 1 1 1 1 1 1 2 1 6 1 2 1-3 1-4 1-2 1-1 1-2 1 0 1 0 1-1 1-2 1-2 1 0 1 0 1-3 1-1 1-1 1 1 1 1 1-1 1 1 1 0 1 0 1 1 1 1 1 4 1 7 1 3 1-2 1-1 1 2 1 1 1 2 1 3 1 0 1 1 1 6 1 5 1 4 1 3 1 3 1 2 2 4 2 7 2 5 2 2 2 0 2 1 2 2 2 0 2 0 1 0"/><path vector-effect="non-scaling-stroke" d="M0 544l2 3 2 0 2-3 2-1 2 0 2-2 2-3 2-3 2-3 2-2 2 0 2-2 2-2 2-1 2-2 2-2 2-3 2-3 2-4 2-5 2-6 2-4 2-4 2-3 2-3 2-1 2-1 2 0 2 1 2 0 2 0 2 1 2 1 2 0 2 0 2 0 2 1 2 1 2 0 2 1 2 1 2 1 2 1 2 0 2 1 2 1 2 0 2 0 2-2 2-4 2-7 2-11 2-18 2-19 2-16 2-15 2-14 1-5 1-6 1-5 1-5 1-4 1-4 1-4 1 7 1 9 1 0 1-8 1-9 1-8 1-1 1-2 1 1 1 1 1 0 1 1 1 0 1 1 1 0 1 0 1 1 1 0 1 4 1 4 1 1 1-2 1-4 1-1 1-1 1-2 1 0 1-1 1 0 1-3 1-1 1 2 1-1 1-3 1 0 1-1 1 0 1 2 1 0 1 0 1 1 1 0 1 0 1 2 1 3 1 7 1 2 1-2 1-1 1 3 1 1 1 0 1 5 1 0 1 0 1 5 1 5 1 3 1 3 1 2 1 1 2 4 2 5 2 4 2 1 2 0 2 2 2 0 2 1 2-1 1 0"/><path vector-effect="non-scaling-stroke" d="M0 548l2 0 2 0 2-2 2-3 2 0 2-2 2-4 2-3 2-3 2 0 2-1 2-2 2-3 2 0 2-2 2-2 2-2 2-2 2-3 2-5 2-4 2-4 2-3 2-2 2-2 2-2 2 0 2 1 2 1 2 0 2 0 2 1 2 1 2 0 2 0 2 1 2 1 2 0 2 0 2 1 2 1 2 1 2 0 2 1 2 0 2 0 2 0 2 0 2-1 2-5 2-7 2-10 2-16 2-20 2-15 2-15 2-13 1-6 1-5 1-6 1-4 1-4 1-4 1-4 1 6 1 8 1 1 1-8 1-10 1-7 1-1 1-2 1 1 1 0 1 1 1 0 1 1 1 1 1-1 1 1 1 1 1 0 1 2 1 5 1 0 1-2 1-1 1-2 1-2 1-1 1 0 1-1 1 1 1-2 1-2 1 1 1 1 1-3 1-1 1 0 1 1 1 1 1 1 1-1 1 1 1 0 1 0 1 2 1 3 1 5 1 1 1-2 1-2 1 3 1 1 1 0 1 3 1-1 1 0 1 4 1 4 1 3 1 2 1 3 1 0 2 3 2 4 2 5 2 1 2 0 2 1 2 1 2 1 2-1 1 0"/><path vector-effect="non-scaling-stroke" d="M0 535l2 3 2 0 2-3 2-2 2-2 2-3 2-4 2-5 2-2 2-2 2 0 2-2 2-3 2 0 2-2 2-1 2-3 2-2 2-5 2-6 2-5 2-4 2-5 2-3 2-3 2-1 2-1 2 1 2 0 2 0 2-1 2 1 2 2 2-1 2 0 2 1 2 1 2 0 2 1 2 0 2 2 2 1 2 1 2 1 2 0 2 1 2 1 2 0 2-2 2-5 2-9 2-15 2-21 2-22 2-17 2-16 2-14 1-5 1-7 1-5 1-5 1-4 1-4 1-4 1 7 1 11 1 0 1-9 1-12 1-7 1-3 1-2 1 1 1 1 1 0 1 1 1 0 1 1 1 0 1 0 1 1 1 0 1 2 1 5 1 2 1-3 1-3 1-2 1-1 1-2 1-1 1 0 1-2 1-1 1-2 1 1 1 0 1-3 1-1 1 0 1 1 1 0 1 1 1 0 1 1 1 0 1 0 1 2 1 3 1 7 1 2 1-2 1-1 1 2 1 0 1 1 1 3 1-1 1 2 1 4 1 4 1 5 1 2 1 2 1 1 2 4 2 5 2 4 2 1 2 1 2 1 2 0 2 2 2-1 1 0"/><path vector-effect="non-scaling-stroke" d="M0 526l2 2 2 0 2-3 2-3 2-2 2-3 2-4 2-4 2-4 2-2 2-1 2-2 2-2 2-1 2-3 2-2 2-2 2-3 2-5 2-7 2-7 2-5 2-5 2-3 2-3 2-2 2-2 2 0 2 1 2 0 2-1 2 2 2 1 2-1 2 2 2 1 2 1 2 1 2 0 2 2 2 1 2 2 2 1 2 1 2 1 2 1 2 1 2 0 2-2 2-5 2-10 2-15 2-22 2-22 2-17 2-17 2-12 1-6 1-7 1-5 1-5 1-4 1-3 1-6 1 11 1 10 1 1 1-9 1-13 1-7 1-3 1-2 1 2 1 2 1 1 1 0 1 2 1 0 1-1 1 1 1 2 1 0 1 2 1 7 1 1 1-4 1-3 1-2 1-1 1-2 1 0 1-1 1-1 1-1 1-3 1 1 1 0 1-4 1 0 1 0 1 0 1 1 1-1 1 2 1-1 1 1 1-1 1 2 1 3 1 8 1 2 1-2 1-2 1 2 1 0 1 1 1 3 1-2 1 2 1 5 1 4 1 5 1 2 1 2 1 2 2 4 2 4 2 5 2 3 2 1 2 0 2 2 2 2 2 0 1 0"/><path vector-effect="non-scaling-stroke" d="M0 517l2 3 2 0 2-3 2-4 2-5 2-3 2-5 2-6 2-3 2-3 2-2 2-3 2-3 2-2 2-2 2-3 2-2 2-3 2-6 2-8 2-7 2-5 2-5 2-4 2-3 2-2 2-1 2 1 2 2 2 0 2 0 2 1 2 2 2-1 2 1 2 2 2 0 2 1 2 1 2 1 2 3 2 1 2 1 2 2 2 1 2 1 2 1 2 0 2-2 2-6 2-13 2-19 2-28 2-21 2-19 2-17 2-15 1-5 1-7 1-6 1-5 1-4 1-6 1-4 1 10 1 13 1 0 1-11 1-14 1-11 1-1 1-1 1 0 1 2 1 1 1 1 1 1 1 0 1 1 1-1 1 1 1 2 1 4 1 6 1 1 1-3 1-3 1-1 1-3 1-1 1 1 1-3 1 0 1-1 1-3 1 2 1-2 1-2 1-2 1 0 1 1 1 1 1 0 1 1 1-2 1 1 1 0 1 2 1 4 1 10 1 2 1-2 1-2 1 3 1 1 1 1 1 6 1-1 1 1 1 5 1 6 1 5 1 5 1 2 1 3 2 4 2 6 2 7 2 3 2 1 2 1 2 2 2 1 2 0 1 0"/><path vector-effect="non-scaling-stroke" d="M0 542l2 4 2-1 2-5 2-1 2-2 2-2 2-3 2-4 2-3 2-2 2 0 2-2 2-2 2 0 2-3 2-2 2-2 2-2 2-5 2-5 2-5 2-5 2-4 2-3 2-3 2-2 2 0 2-1 2 2 2 0 2-1 2 0 2 2 2 0 2 0 2 1 2 1 2 0 2 1 2 0 2 2 2 1 2 1 2 1 2 0 2 1 2 0 2 0 2-1 2-5 2-7 2-12 2-17 2-19 2-16 2-14 2-13 1-5 1-7 1-4 1-5 1-3 1-3 1-4 1 7 1 9 1 0 1-8 1-10 1-7 1-3 1 0 1 1 1 0 1 2 1 0 1 1 1 0 1-1 1 1 1 1 1 1 1 2 1 4 1 1 1-3 1-2 1-3 1-1 1-1 1 0 1 0 1-2 1-2 1-1 1 0 1 1 1-3 1-1 1 0 1 0 1 1 1 1 1 0 1 0 1-1 1 0 1 1 1 4 1 6 1 1 1-1 1-2 1 1 1 1 1 1 1 3 1-1 1 1 1 3 1 4 1 4 1 2 1 2 1 1 2 2 2 4 2 5 2 2 2 0 2 1 2 1 2 1 2-1 1 0"/><path vector-effect="non-scaling-stroke" d="M0 543l2 1 2 0 2-3 2-3 2-3 2-2 2-4 2-5 2-3 2-3 2-2 2-2 2-3 2 0 2-2 2-1 2-2 2-2 2-3 2-4 2-4 2-4 2-3 2-2 2-1 2-1 2-1 2 1 2 1 2 0 2 0 2 0 2 1 2 0 2 0 2 1 2 0 2 1 2 0 2 0 2 1 2 1 2-1 2 0 2 0 2 0 2-1 2-1 2-2 2-4 2-7 2-10 2-15 2-18 2-13 2-14 2-12 1-5 1-5 1-4 1-5 1-4 1-3 1-4 1 7 1 9 1 0 1-8 1-9 1-8 1-2 1-1 1 1 1 0 1 1 1 1 1-1 1 1 1-1 1 0 1 1 1 0 1 3 1 4 1 1 1-2 1-3 1-2 1-1 1-1 1-1 1 0 1-2 1-2 1-1 1 0 1 0 1-3 1-1 1 0 1 1 1 0 1 1 1 0 1 0 1 0 1 0 1 3 1 2 1 6 1 2 1-2 1 0 1 1 1 1 1 2 1 3 1-1 1 1 1 4 1 4 1 4 1 3 1 2 1 2 2 3 2 4 2 5 2 2 2 1 2 0 2 2 2 1 2 0 1-1"/><path vector-effect="non-scaling-stroke" d="M0 548l2 3 2-1 2-3 2-2 2-1 2-3 2-3 2-4 2-2 2-2 2 0 2-3 2-2 2 0 2-3 2-2 2-2 2-3 2-4 2-6 2-5 2-4 2-4 2-3 2-2 2-1 2-1 2 0 2 1 2 0 2-1 2 1 2 0 2 0 2 0 2 1 2 0 2 0 2 0 2 0 2 1 2 0 2 0 2-1 2 0 2-1 2-1 2-2 2-3 2-4 2-8 2-12 2-17 2-18 2-15 2-15 2-12 1-4 1-6 1-5 1-4 1-5 1-2 1-4 1 8 1 9 1 0 1-9 1-9 1-8 1-2 1 0 1 0 1 1 1 1 1 0 1 1 1 0 1 0 1 0 1 1 1 0 1 2 1 5 1 1 1-3 1-2 1-3 1-1 1-1 1-1 1-1 1-1 1-1 1-2 1 0 1 0 1-3 1-1 1 1 1 1 1 0 1 0 1 1 1-1 1 1 1 0 1 1 1 5 1 6 1 3 1-2 1-1 1 2 1 1 1 2 1 3 1 0 1 1 1 5 1 4 1 5 1 2 1 2 1 2 2 4 2 5 2 4 2 2 2 1 2 1 2 1 2 1 2 0 1 0"/><path vector-effect="non-scaling-stroke" d="M0 529l2 1 2-1 2-2 2-3 2-2 2-5 2-5 2-3 2-3 2-1 2-2 2-2 2-2 2-2 2-2 2-2 2-3 2-3 2-5 2-7 2-7 2-4 2-5 2-4 2-3 2-2 2-1 2 0 2 2 2 0 2-1 2 1 2 2 2-1 2 1 2 1 2 1 2 1 2 1 2 1 2 1 2 1 2 2 2 0 2 1 2 1 2 1 2 0 2-2 2-5 2-10 2-15 2-22 2-23 2-16 2-16 2-13 1-5 1-6 1-6 1-4 1-4 1-3 1-5 1 9 1 10 1 1 1-9 1-12 1-9 1-2 1-2 1 2 1 0 1 1 1 0 1 0 1 1 1 1 1-2 1 2 1 1 1 1 1 7 1-1 1-3 1-2 1-4 1-1 1-1 1-1 1-1 1-1 1-3 1-2 1 1 1 1 1-5 1-1 1 1 1-1 1 1 1 2 1-1 1 0 1 1 1 1 1 1 1 3 1 9 1 2 1-2 1-2 1 3 1 1 1 0 1 5 1-2 1 2 1 5 1 5 1 5 1 2 1 3 1 2 2 3 2 6 2 6 2 1 2 1 2 0 2 2 2 1 2 0 1-1"/><path vector-effect="non-scaling-stroke" d="M0 550l2 3 2-1 2-3 2-1 2-3 2-1 2-4 2-3 2-3 2-1 2-1 2-2 2-2 2-1 2-2 2-2 2-2 2-2 2-4 2-4 2-5 2-3 2-4 2-1 2-3 2-1 2-1 2 1 2 1 2 0 2-1 2 1 2 1 2 0 2 0 2 1 2 1 2 0 2 1 2 1 2 1 2 1 2 0 2 1 2 0 2 1 2 0 2 0 2-2 2-4 2-7 2-11 2-16 2-20 2-16 2-15 2-12 1-6 1-7 1-4 1-6 1-3 1-4 1-4 1 7 1 8 1 0 1-8 1-9 1-7 1-3 1 0 1-1 1 1 1 1 1 1 1 0 1 0 1-1 1 1 1 1 1 1 1 2 1 4 1 1 1-3 1-2 1-2 1-2 1 0 1 0 1 0 1-1 1-2 1-1 1 1 1 0 1-3 1 0 1 0 1 0 1 1 1 0 1 1 1 0 1 0 1 1 1 1 1 3 1 7 1 2 1-2 1 0 1 2 1 1 1 1 1 3 1 0 1 2 1 4 1 4 1 4 1 2 1 3 1 1 2 3 2 5 2 4 2 2 2 0 2 1 2 1 2 1 2 0 1 0"/><path vector-effect="non-scaling-stroke" d="M0 509l2 5 2-2 2-4 2 0 2-3 2-2 2-7 2-8 2-4 2-2 2 0 2-2 2-3 2 0 2-2 2-2 2-2 2-3 2-5 2-7 2-7 2-5 2-5 2-4 2-3 2-2 2-1 2 0 2 2 2 0 2 0 2 0 2 2 2 0 2 0 2 1 2 2 2 1 2 0 2 1 2 2 2 1 2 2 2 1 2 1 2 1 2 1 2 0 2-1 2-6 2-10 2-16 2-24 2-20 2-17 2-16 2-13 1-5 1-6 1-7 1-4 1-5 1-4 1-4 1 8 1 13 1 1 1-10 1-13 1-9 1-4 1-2 1 2 1 1 1 1 1 0 1 1 1 0 1 0 1 0 1 1 1 1 1 3 1 6 1 1 1-4 1-3 1-3 1 0 1-3 1-1 1 1 1-3 1-2 1-1 1 1 1-2 1-2 1-3 1 0 1 1 1 1 1 0 1 1 1-1 1 0 1 2 1 1 1 4 1 9 1 4 1-4 1 0 1 3 1 3 1 0 1 6 1-1 1 1 1 7 1 6 1 5 1 4 1 3 1 2 2 4 2 8 2 5 2 2 2 1 2 1 2 1 2 1 2 0 1 0"/><path vector-effect="non-scaling-stroke" d="M0 511l2 6 2-2 2-6 2-3 2-2 2-3 2-5 2-7 2-4 2-3 2 1 2-4 2-3 2 0 2-1 2-3 2-2 2-3 2-4 2-8 2-6 2-4 2-6 2-4 2-3 2-2 2-1 2 1 2 0 2 1 2 0 2 0 2 2 2 0 2 0 2 2 2 0 2 1 2 0 2 2 2 2 2 1 2 1 2 2 2 0 2 2 2 0 2 0 2-1 2-7 2-12 2-19 2-26 2-22 2-18 2-17 2-13 1-6 1-6 1-5 1-5 1-4 1-3 1-5 1 10 1 13 1-1 1-11 1-13 1-9 1-4 1 0 1 2 1 0 1 1 1 0 1 1 1-1 1 1 1-1 1 2 1 0 1 3 1 6 1 1 1-4 1-3 1-3 1-2 1-2 1-2 1 1 1-1 1-2 1-1 1-1 1 0 1-3 1-1 1 0 1 1 1 1 1 0 1 1 1 0 1 0 1 0 1 3 1 5 1 10 1 3 1-2 1-1 1 4 1 2 1 2 1 4 1 1 1 1 1 7 1 6 1 5 1 4 1 3 1 2 2 6 2 7 2 6 2 2 2 1 2 2 2 0 2 2 2-1 1 0"/><path vector-effect="non-scaling-stroke" d="M0 561l2 1 2 0 2-2 2-1 2-1 2-1 2-3 2-2 2-1 2-2 2 0 2-2 2-1 2-1 2-1 2-1 2-1 2-2 2-2 2-4 2-2 2-3 2-2 2-2 2-1 2-1 2 0 2 0 2 1 2-1 2 0 2 0 2 0 2 0 2 0 2 0 2 0 2 0 2 0 2 0 2 1 2 0 2 0 2-1 2 0 2-1 2-1 2-1 2-2 2-4 2-7 2-9 2-15 2-17 2-16 2-15 2-12 1-6 1-5 1-6 1-5 1-3 1-4 1-4 1 7 1 7 1 0 1-7 1-9 1-5 1-3 1 0 1 0 1 0 1 1 1 1 1 1 1 0 1 0 1 0 1 0 1 1 1 2 1 5 1-1 1-2 1-2 1-1 1-1 1-2 1-1 1 0 1 0 1-2 1-1 1 1 1-1 1-2 1-1 1 0 1 1 1 0 1 1 1-1 1 1 1 0 1 1 1 1 1 3 1 5 1 1 1-1 1-1 1 1 1 1 1 0 1 3 1-1 1 1 1 3 1 4 1 3 1 2 1 2 1 0 2 3 2 4 2 4 2 2 2 0 2 1 2 2 2 1 2 0 1 0"/><path vector-effect="non-scaling-stroke" d="M0 529l2 3 2 0 2-3 2-4 2-2 2-2 2-7 2-3 2-4 2-1 2-1 2-3 2-2 2 0 2-3 2-2 2-3 2-2 2-5 2-7 2-6 2-5 2-4 2-4 2-2 2-3 2 0 2 0 2 2 2 0 2-1 2 1 2 1 2 0 2 0 2 1 2 1 2 1 2 0 2 1 2 1 2 2 2 0 2 0 2 1 2 0 2-1 2 0 2-2 2-5 2-8 2-12 2-19 2-20 2-16 2-15 2-12 1-5 1-6 1-6 1-4 1-5 1-3 1-5 1 9 1 11 1 0 1-9 1-12 1-7 1-3 1-1 1 2 1 1 1-1 1 2 1 0 1 0 1 0 1 0 1 1 1 0 1 3 1 5 1 2 1-4 1-2 1-2 1-2 1-1 1-2 1 0 1 0 1-2 1-2 1 2 1-1 1-3 1-1 1 0 1 1 1 1 1 1 1 0 1 0 1 1 1 0 1 3 1 2 1 7 1 2 1-2 1-2 1 3 1-1 1 1 1 3 1-1 1 1 1 5 1 4 1 4 1 2 1 1 1 2 2 4 2 4 2 5 2 2 2 0 2 1 2 2 2 2 2 0 1-1"/><path vector-effect="non-scaling-stroke" d="M0 544l2-1 2 0 2-2 2-2 2-3 2-2 2-5 2-4 2-3 2-2 2 0 2-3 2-2 2 0 2-3 2-1 2-2 2-2 2-3 2-6 2-4 2-4 2-3 2-2 2-2 2-2 2 0 2 1 2 1 2 1 2-1 2 1 2 1 2 0 2 0 2 1 2 0 2 1 2 1 2 0 2 2 2 0 2 1 2 1 2 1 2 1 2 0 2 0 2-2 2-3 2-8 2-10 2-15 2-18 2-15 2-14 2-13 1-5 1-6 1-5 1-4 1-3 1-4 1-4 1 7 1 8 1 1 1-8 1-10 1-6 1-3 1 0 1 0 1 1 1 1 1 1 1 0 1 0 1 0 1 1 1 0 1 2 1 1 1 5 1 1 1-3 1-3 1 0 1-3 1-1 1-1 1 0 1-1 1 0 1-2 1 0 1 0 1-3 1 0 1 0 1 0 1 1 1 0 1 1 1 0 1 0 1 0 1 2 1 3 1 6 1 1 1-2 1-1 1 3 1-1 1 1 1 4 1-1 1 0 1 4 1 4 1 4 1 2 1 1 1 2 2 2 2 3 2 5 2 1 2 0 2 1 2 1 2 1 2 0 1-1"/><path vector-effect="non-scaling-stroke" d="M0 529l2 1 2-2 2-3 2-1 2-3 2-4 2-4 2-4 2-3 2-2 2-1 2-3 2-3 2-1 2-2 2-2 2-2 2-3 2-4 2-7 2-6 2-4 2-4 2-3 2-3 2-2 2-1 2 1 2 1 2 1 2-1 2 1 2 2 2-1 2 1 2 1 2 1 2 0 2 1 2 1 2 2 2 1 2 1 2 0 2 1 2 1 2 0 2 0 2-2 2-5 2-9 2-16 2-22 2-21 2-18 2-15 2-14 1-6 1-5 1-6 1-5 1-4 1-3 1-5 1 9 1 12 1 0 1-10 1-12 1-8 1-1 1-1 1 2 1 1 1 1 1 0 1 0 1 2 1-1 1 1 1 0 1 2 1 2 1 7 1 0 1-4 1-3 1-1 1-3 1 0 1-2 1-1 1-1 1-2 1-1 1 0 1 0 1-3 1-1 1 0 1 1 1-1 1 2 1 0 1 0 1 1 1 1 1 1 1 5 1 8 1 3 1-3 1 0 1 4 1 1 1 2 1 4 1 1 1 1 1 5 1 6 1 4 1 3 1 4 1 1 2 5 2 5 2 5 2 2 2 1 2-1 2 1 2 1 2-1 1 0"/><path vector-effect="non-scaling-stroke" d="M0 505l2 5 2 0 2-4 2-3 2 0 2-3 2-3 2-4 2-2 2-3 2 0 2-1 2-4 2-2 2-3 2-3 2-4 2-5 2-7 2-9 2-10 2-6 2-7 2-5 2-4 2-3 2-2 2 1 2 2 2 0 2-1 2 1 2 3 2-1 2 1 2 1 2 2 2 1 2 0 2 2 2 1 2 2 2 1 2 1 2 1 2 2 2 0 2 0 2-2 2-7 2-15 2-22 2-31 2-21 2-19 2-17 2-13 1-6 1-5 1-6 1-6 1-2 1-6 1-4 1 11 1 15 1-1 1-10 1-15 1-10 1-4 1 0 1 1 1 1 1 1 1 1 1 0 1 0 1 0 1-1 1 3 1 0 1 2 1 7 1 1 1-3 1-5 1-3 1-2 1-2 1-1 1-1 1-1 1-3 1-1 1 1 1 0 1-5 1-1 1 0 1 1 1 0 1 0 1 1 1 1 1-1 1 2 1 2 1 3 1 10 1 2 1-2 1-2 1 3 1 1 1 2 1 4 1-1 1 2 1 5 1 7 1 5 1 3 1 4 1 1 2 5 2 8 2 6 2 2 2 1 2 2 2 1 2 1 2 0 1-1"/><path vector-effect="non-scaling-stroke" d="M0 523l2 1 2 2 2-5 2-3 2-2 2-2 2-5 2-4 2-1 2-3 2 0 2-2 2-2 2-2 2-2 2-3 2-3 2-3 2-6 2-7 2-7 2-5 2-6 2-4 2-3 2-3 2-1 2 0 2 2 2 0 2-1 2 0 2 2 2 0 2 1 2 0 2 2 2 0 2 1 2 1 2 2 2 1 2 1 2 1 2 1 2 1 2 1 2 0 2-2 2-6 2-11 2-18 2-26 2-21 2-18 2-16 2-15 1-5 1-5 1-7 1-4 1-4 1-4 1-4 1 10 1 11 1 1 1-11 1-12 1-10 1-2 1 0 1 0 1 1 1 2 1-1 1 1 1 0 1 0 1 0 1 1 1 0 1 3 1 6 1 1 1-4 1-2 1-4 1-2 1-2 1 0 1 0 1-2 1-1 1-3 1 1 1 0 1-5 1-1 1 1 1 1 1 0 1 1 1 1 1-2 1 1 1 1 1 1 1 3 1 8 1 2 1-3 1-1 1 3 1 0 1 2 1 3 1-2 1 2 1 5 1 5 1 5 1 3 1 3 1 2 2 2 2 7 2 6 2 2 2 1 2 2 2 1 2 3 2-1 1 1"/><path vector-effect="non-scaling-stroke" d="M0 519l2 3 2-1 2-2 2-3 2-1 2-3 2-5 2-3 2-3 2-2 2-1 2-3 2-3 2-1 2-2 2-3 2-3 2-4 2-5 2-7 2-8 2-5 2-6 2-4 2-4 2-2 2-1 2 1 2 1 2 0 2-1 2 1 2 2 2-1 2 1 2 1 2 1 2 0 2 1 2 0 2 2 2 0 2 1 2 0 2 1 2 0 2-1 2 0 2-2 2-6 2-11 2-16 2-24 2-19 2-17 2-15 2-13 1-5 1-6 1-5 1-5 1-4 1-4 1-4 1 9 1 13 1 0 1-11 1-12 1-9 1-3 1-1 1 2 1 1 1 1 1 1 1-2 1 1 1 2 1-1 1 0 1 2 1 1 1 7 1 1 1-4 1-3 1-3 1-2 1 0 1-1 1-1 1-2 1-1 1-3 1 1 1 0 1-3 1-2 1-1 1 1 1 1 1 0 1 1 1 0 1 0 1 1 1 1 1 3 1 8 1 3 1-3 1-2 1 3 1 0 1 1 1 4 1-1 1 1 1 5 1 6 1 5 1 3 1 1 1 3 2 4 2 6 2 5 2 3 2 1 2 1 2 2 2 1 2 1 1-1"/><path vector-effect="non-scaling-stroke" d="M0 510l2 2 2 0 2-3 2-2 2-3 2-2 2-4 2-5 2-3 2-2 2-1 2-2 2-3 2 0 2-3 2-2 2-4 2-3 2-6 2-9 2-7 2-6 2-7 2-4 2-4 2-3 2-1 2 0 2 2 2 0 2-1 2 0 2 2 2-1 2 1 2 0 2 1 2 0 2 1 2 1 2 1 2 1 2 0 2 1 2 0 2 0 2 0 2-1 2-3 2-7 2-12 2-20 2-26 2-22 2-17 2-15 2-13 1-6 1-4 1-6 1-5 1-4 1-3 1-5 1 11 1 14 1 0 1-11 1-13 1-10 1-3 1-1 1 2 1 1 1 1 1 1 1 0 1 1 1-1 1 1 1 2 1 0 1 3 1 7 1 2 1-4 1-4 1-2 1-3 1-1 1-1 1-1 1-1 1-1 1-3 1 1 1 0 1-4 1-2 1 0 1 1 1 1 1 1 1-1 1 1 1-1 1 2 1 1 1 5 1 10 1 4 1-3 1-1 1 4 1 1 1 2 1 5 1 0 1 0 1 7 1 6 1 6 1 4 1 3 1 3 2 5 2 7 2 6 2 2 2 1 2 0 2 1 2 1 2 0 1 0"/><path vector-effect="non-scaling-stroke" d="M0 503l2 1 2-1 2-5 2-4 2 0 2-5 2-6 2-6 2-5 2-4 2-1 2-1 2-4 2 0 2-2 2-2 2-3 2-3 2-4 2-8 2-7 2-6 2-5 2-5 2-3 2-2 2-1 2 1 2 1 2 0 2-1 2 0 2 0 2 0 2 0 2 1 2 0 2 0 2 0 2 0 2 2 2 0 2 0 2-1 2 0 2 0 2-1 2-2 2-3 2-7 2-13 2-23 2-26 2-21 2-15 2-15 2-14 1-5 1-4 1-5 1-5 1-6 1-3 1-4 1 11 1 15 1 0 1-10 1-17 1-10 1-2 1-2 1 2 1 1 1 0 1 2 1 1 1-1 1 0 1 1 1 1 1 0 1 3 1 6 1 3 1-5 1-2 1-4 1-3 1-2 1-1 1-1 1-1 1-3 1-2 1 1 1 0 1-4 1-1 1-2 1 2 1 1 1 1 1-1 1 3 1-2 1 0 1 3 1 4 1 9 1 2 1-2 1-2 1 3 1 0 1 2 1 4 1-2 1 1 1 7 1 5 1 7 1 2 1 2 1 2 2 5 2 6 2 6 2 4 2 0 2 2 2 1 2 2 2-1 1 1"/><path vector-effect="non-scaling-stroke" d="M0 534l2 2 2-2 2-2 2-1 2-3 2-3 2-4 2-2 2-4 2-2 2 0 2-2 2-2 2-1 2-3 2-4 2-3 2-3 2-6 2-8 2-7 2-6 2-5 2-4 2-3 2-3 2-1 2 1 2 1 2 0 2 0 2 0 2 2 2-1 2 1 2 0 2 2 2 1 2-1 2 1 2 2 2 1 2 0 2 1 2 2 2 1 2 0 2 0 2-2 2-4 2-8 2-13 2-19 2-20 2-16 2-15 2-12 1-5 1-5 1-6 1-5 1-3 1-4 1-4 1 8 1 10 1 0 1-9 1-10 1-9 1-3 1 0 1 0 1 1 1 2 1 0 1 0 1 0 1 0 1 1 1 1 1 1 1 0 1 7 1 1 1-3 1-3 1-2 1-3 1 0 1 0 1-1 1-2 1-1 1-3 1 2 1-1 1-3 1-1 1 0 1 1 1 0 1 0 1 0 1 0 1 0 1 1 1 1 1 4 1 7 1 1 1-2 1-1 1 2 1 2 1 0 1 4 1-1 1 1 1 5 1 4 1 6 1 2 1 2 1 3 2 2 2 6 2 5 2 2 2 1 2 1 2 1 2 1 2 0 1 0"/><path vector-effect="non-scaling-stroke" d="M0 538l2 0 2 1 2-2 2-2 2-2 2-4 2-4 2-4 2-2 2-1 2-1 2-3 2-3 2-1 2-2 2-3 2-3 2-3 2-5 2-7 2-7 2-4 2-6 2-3 2-3 2-3 2 0 2 0 2 1 2 0 2 0 2 0 2 1 2 0 2 0 2 1 2 0 2 2 2-1 2 1 2 1 2 1 2 0 2 0 2 0 2 0 2-1 2-1 2-1 2-4 2-8 2-11 2-17 2-19 2-14 2-14 2-12 1-5 1-5 1-5 1-5 1-3 1-4 1-3 1 8 1 9 1 1 1-9 1-10 1-8 1-2 1-1 1 1 1 1 1 1 1 0 1 1 1 1 1 0 1 0 1 0 1 1 1 2 1 5 1 2 1-3 1-3 1-2 1-1 1-2 1-1 1 0 1-1 1-2 1-2 1 0 1 0 1-4 1 0 1 0 1 0 1 1 1-1 1 0 1 1 1-1 1 1 1 2 1 4 1 8 1 2 1-1 1 0 1 4 1 2 1 2 1 4 1 0 1 2 1 6 1 5 1 5 1 4 1 2 1 3 2 5 2 6 2 5 2 2 2 1 2 1 2 1 2 1 2 0 1-1"/><path vector-effect="non-scaling-stroke" d="M0 544l2 1 2 0 2-3 2-1 2-3 2-4 2-4 2-3 2-3 2-1 2-2 2-2 2-2 2-1 2-2 2-2 2-2 2-3 2-4 2-6 2-5 2-4 2-4 2-2 2-3 2-2 2 0 2 0 2 1 2 0 2 0 2 0 2 1 2 0 2 0 2 1 2 1 2 0 2 0 2 1 2 1 2 1 2 0 2 0 2 1 2 0 2-1 2 0 2-2 2-5 2-9 2-13 2-20 2-20 2-17 2-16 2-13 1-7 1-5 1-6 1-4 1-5 1-3 1-4 1 7 1 10 1 1 1-10 1-10 1-9 1-2 1 0 1 1 1 1 1 0 1 1 1 1 1-1 1 1 1 1 1 0 1 1 1 2 1 5 1 1 1-3 1-2 1-3 1-2 1-2 1 0 1 0 1-1 1-1 1-2 1 0 1 0 1-3 1-2 1 0 1 1 1 1 1-1 1 1 1 0 1-1 1 1 1 2 1 3 1 6 1 2 1-2 1-2 1 3 1 0 1 1 1 2 1 0 1 2 1 4 1 4 1 5 1 2 1 2 1 1 2 4 2 5 2 6 2 1 2 0 2 2 2 1 2 2 2 0 1-1"/><path vector-effect="non-scaling-stroke" d="M0 543l2 2 2-2 2-1 2-2 2-2 2-3 2-4 2-4 2-3 2-1 2-1 2-2 2-2 2-1 2-2 2-2 2-3 2-3 2-4 2-6 2-5 2-4 2-5 2-3 2-2 2-1 2-1 2 0 2 1 2 1 2-1 2 1 2 1 2 0 2 1 2 0 2 2 2 0 2 0 2 2 2 1 2 1 2 1 2 1 2 1 2 1 2 0 2 0 2-1 2-5 2-8 2-12 2-18 2-20 2-16 2-16 2-12 1-6 1-5 1-6 1-5 1-5 1-2 1-5 1 8 1 8 1 0 1-7 1-12 1-8 1-1 1-2 1 2 1 0 1 1 1 0 1 1 1-1 1 1 1 0 1 1 1 1 1 1 1 6 1 1 1-3 1-3 1-2 1-2 1-1 1 0 1 0 1-2 1-1 1-2 1 1 1-1 1-2 1-1 1-1 1 1 1 1 1 0 1 0 1-1 1 1 1 0 1 2 1 4 1 5 1 2 1-2 1 0 1 3 1 0 1 1 1 2 1 1 1 1 1 4 1 4 1 4 1 3 1 1 1 2 2 3 2 5 2 5 2 2 2 1 2 1 2 1 2 1 2 0 1 0"/><path vector-effect="non-scaling-stroke" d="M0 532l2 3 2-1 2-1 2-2 2-2 2-1 2-5 2-5 2-2 2 0 2 0 2-2 2-2 2-1 2-2 2-3 2-3 2-3 2-6 2-7 2-6 2-5 2-5 2-4 2-3 2-3 2-1 2 1 2 0 2 1 2-2 2 1 2 2 2-1 2 1 2 0 2 1 2 1 2 0 2 1 2 2 2 1 2 2 2 0 2 1 2 2 2 1 2-1 2-1 2-5 2-9 2-14 2-21 2-20 2-17 2-16 2-13 1-6 1-6 1-5 1-5 1-5 1-3 1-5 1 9 1 10 1 1 1-10 1-11 1-9 1-1 1-1 1 1 1 1 1 0 1 2 1 0 1 0 1 0 1 1 1 0 1 0 1 4 1 5 1 2 1-3 1-4 1-1 1-2 1-1 1-1 1 0 1-3 1-1 1-1 1 0 1 0 1-3 1-1 1 0 1 0 1 1 1-1 1 1 1 0 1-1 1 0 1 2 1 4 1 7 1 1 1-3 1 0 1 2 1 1 1 0 1 4 1-1 1 0 1 5 1 5 1 4 1 3 1 2 1 2 2 3 2 5 2 6 2 3 2 1 2 0 2 2 2 1 2 0 1 0"/><path vector-effect="non-scaling-stroke" d="M0 495l2 7 2-3 2-5 2-3 2-4 2-3 2-5 2-6 2-4 2-4 2-1 2-3 2-3 2-2 2-2 2-4 2-3 2-5 2-8 2-10 2-10 2-7 2-8 2-5 2-5 2-3 2-2 2 0 2 2 2-1 2-1 2 0 2 1 2-1 2 0 2 0 2 2 2-1 2 0 2 0 2 1 2 2 2-1 2-1 2 0 2-1 2-2 2-2 2-4 2-12 2-24 2-36 2-28 2-24 2-20 2-15 2-13 1-6 1-4 1-7 1-5 1-4 1-5 1-5 1 14 1 17 1 2 1-16 1-17 1-14 1-3 1-3 1 3 1 1 1 0 1 1 1 1 1-1 1-1 1 1 1 0 1 2 1 3 1 9 1 1 1-4 1-3 1-5 1-2 1-2 1-2 1 1 1-2 1-2 1-2 1-3 1 0 1-3 1 0 1-1 1 1 1 1 1 1 1 0 1-1 1 0 1 2 1 4 1 4 1 5 1 1 1 0 1 1 1 0 1 0 1 1 1 0 1-1 1 1 1 1 1 3 1 5 1 4 1 1 1 0 2 0 2 2 2 2 2-1 2-1 2-1 2 2 2 0 2 0 1-2"/><path vector-effect="non-scaling-stroke" d="M0 526l2 4 2-1 2-4 2-3 2-3 2-4 2-5 2-6 2-1 2-3 2-2 2-3 2-4 2-1 2-2 2-3 2-4 2-3 2-6 2-7 2-7 2-6 2-5 2-4 2-4 2 0 2-2 2 0 2 1 2 1 2-1 2 0 2 1 2 0 2 0 2 0 2 1 2 1 2-1 2 1 2 1 2 1 2 0 2 0 2-1 2 1 2-1 2-1 2-2 2-5 2-11 2-16 2-22 2-19 2-16 2-15 2-12 1-6 1-5 1-5 1-5 1-5 1-2 1-5 1 9 1 12 1 1 1-10 1-13 1-8 1-4 1-1 1 1 1 2 1 1 1 0 1 1 1 1 1-1 1 0 1 1 1 2 1 1 1 8 1 1 1-3 1-3 1-2 1-3 1-1 1-1 1 0 1 0 1-2 1-3 1 1 1-1 1-3 1 0 1 0 1 0 1 0 1 1 1 1 1-2 1 1 1 0 1 3 1 3 1 8 1 3 1-1 1-3 1 4 1 2 1 0 1 4 1 0 1 1 1 5 1 6 1 5 1 4 1 1 1 3 2 4 2 6 2 6 2 1 2 0 2 2 2 1 2 0 2-1 1 0"/><path vector-effect="non-scaling-stroke" d="M0 524l2 4 2-1 2-3 2-3 2-3 2-2 2-6 2-5 2-2 2-2 2-1 2-3 2-3 2 0 2-3 2-2 2-3 2-3 2-6 2-7 2-7 2-5 2-6 2-4 2-4 2-2 2-1 2 0 2 1 2-1 2-1 2 1 2 0 2 0 2 0 2 2 2 0 2 0 2 0 2 1 2 1 2 0 2 0 2 0 2-1 2-1 2-2 2 0 2-2 2-6 2-9 2-14 2-20 2-18 2-15 2-13 2-12 1-5 1-5 1-4 1-5 1-5 1-2 1-5 1 10 1 11 1 1 1-10 1-12 1-9 1-2 1-2 1 0 1 2 1 0 1 1 1 0 1 0 1 0 1 0 1 1 1 1 1 2 1 6 1 2 1-3 1-4 1-2 1-1 1-3 1 0 1-1 1 0 1-2 1-2 1 0 1-2 1 0 1-2 1 1 1 0 1 2 1 0 1 0 1 0 1 0 1 1 1 4 1 4 1 4 1 2 1 1 1 1 1 2 1 2 1 1 1 1 1 1 1 1 1 0 1 4 1 4 1 4 1 3 1 0 2 1 2 2 2 3 2-2 2-1 2-2 2 0 2 1 2-1 1-1"/><path vector-effect="non-scaling-stroke" d="M0 533l2 0 2 0 2-2 2-3 2-1 2-3 2-4 2-3 2-4 2-3 2 0 2-3 2-3 2-1 2-2 2-1 2-3 2-3 2-4 2-6 2-6 2-4 2-5 2-3 2-3 2-1 2-1 2 1 2 1 2 0 2-1 2 1 2 2 2-1 2 1 2 1 2 0 2 1 2 0 2 0 2 2 2 0 2 1 2 0 2 0 2 0 2-1 2-1 2-2 2-4 2-8 2-12 2-18 2-19 2-16 2-14 2-13 1-4 1-6 1-5 1-4 1-4 1-4 1-3 1 7 1 10 1 1 1-9 1-11 1-8 1-1 1-1 1 1 1 0 1 1 1 1 1 0 1 0 1 0 1 0 1 2 1 0 1 3 1 5 1 0 1-2 1-3 1-3 1-1 1-1 1-1 1 0 1-1 1-2 1-1 1 0 1 0 1-2 1-2 1 1 1 0 1 1 1 1 1 0 1-1 1 1 1 1 1 2 1 3 1 7 1 2 1-2 1-1 1 2 1 1 1 2 1 3 1 0 1 0 1 6 1 5 1 4 1 3 1 2 1 1 2 3 2 6 2 5 2 2 2 0 2 1 2 1 2 1 2 0 1 0"/><path vector-effect="non-scaling-stroke" d="M0 542l2 2 2 0 2-4 2-2 2-2 2-2 2-4 2-3 2-3 2-2 2-1 2-2 2-3 2 0 2-2 2-3 2-2 2-2 2-5 2-6 2-5 2-5 2-4 2-3 2-3 2-1 2-1 2 0 2 1 2 0 2 0 2 0 2 2 2-1 2 1 2 0 2 1 2 0 2 1 2 1 2 1 2 1 2 1 2 1 2 1 2 1 2-1 2 1 2-2 2-4 2-8 2-11 2-18 2-19 2-16 2-15 2-14 1-6 1-4 1-5 1-6 1-3 1-5 1-3 1 7 1 10 1 0 1-10 1-10 1-7 1-2 1-2 1 1 1 1 1 1 1 0 1 2 1-2 1 0 1 1 1 1 1 2 1 1 1 5 1 1 1-3 1-1 1-3 1-1 1-2 1-1 1 1 1-1 1-2 1-1 1 1 1-1 1-2 1-1 1 0 1 0 1 2 1-1 1 1 1-1 1 1 1 0 1 2 1 3 1 7 1 1 1-2 1-1 1 2 1 0 1 2 1 2 1-1 1 1 1 5 1 4 1 4 1 2 1 2 1 2 2 3 2 5 2 5 2 2 2 0 2 1 2 1 2 1 2 0 1 0"/><path vector-effect="non-scaling-stroke" d="M0 522l2 2 2 0 2-1 2-2 2-6 2-3 2-6 2-5 2-5 2-2 2-2 2-2 2-3 2-1 2-1 2-2 2-3 2-3 2-4 2-7 2-6 2-6 2-4 2-4 2-3 2-2 2-1 2 0 2 2 2 0 2 0 2 0 2 2 2 0 2 0 2 2 2 1 2 1 2 1 2 1 2 1 2 2 2 0 2 2 2 1 2 1 2 1 2-1 2-1 2-5 2-11 2-15 2-23 2-21 2-17 2-16 2-14 1-5 1-6 1-6 1-5 1-4 1-4 1-5 1 9 1 13 1-1 1-10 1-13 1-9 1-2 1-1 1 1 1 2 1 0 1 0 1 1 1 0 1 0 1 1 1 0 1 2 1 2 1 7 1 0 1-3 1-3 1-2 1-1 1-2 1 0 1-1 1 0 1-1 1-3 1 3 1-1 1-4 1 0 1-1 1 2 1 0 1 1 1 0 1 1 1-1 1 1 1 2 1 3 1 7 1 2 1-3 1-1 1 3 1-1 1 2 1 3 1-2 1 1 1 5 1 5 1 4 1 4 1 2 1 2 2 4 2 5 2 5 2 3 2 1 2 1 2 1 2 2 2 0 1-1"/><path vector-effect="non-scaling-stroke" d="M0 511l2 4 2 0 2-4 2-4 2-3 2-3 2-4 2-4 2-4 2-2 2 0 2-3 2-3 2-1 2-2 2-2 2-4 2-3 2-6 2-8 2-7 2-7 2-6 2-4 2-4 2-2 2-2 2 1 2 1 2 0 2 0 2 1 2 2 2-2 2 1 2 1 2 2 2 0 2 1 2 2 2 1 2 2 2 1 2 2 2 1 2 2 2 1 2 0 2-1 2-6 2-11 2-20 2-26 2-21 2-19 2-17 2-13 1-6 1-7 1-6 1-6 1-4 1-5 1-5 1 10 1 13 1 0 1-10 1-14 1-11 1-1 1-1 1 1 1 1 1 1 1 2 1-1 1 2 1 0 1 1 1 2 1 1 1 3 1 6 1 1 1-2 1-3 1-2 1-1 1-2 1-1 1-1 1 0 1-3 1-2 1 1 1 0 1-4 1-2 1 1 1 0 1 0 1 1 1 0 1-2 1 0 1 3 1 0 1 4 1 9 1 2 1-2 1-2 1 3 1 1 1 0 1 5 1-1 1 1 1 5 1 7 1 5 1 3 1 3 1 2 2 4 2 6 2 7 2 2 2 0 2 1 2 2 2 2 2-1 1 1"/><path vector-effect="non-scaling-stroke" d="M0 505l2 6 2 0 2-5 2 0 2-1 2-4 2-6 2-5 2-3 2-3 2 0 2-3 2-4 2 0 2-2 2-2 2-3 2-3 2-5 2-7 2-6 2-6 2-5 2-4 2-3 2-2 2-1 2 1 2 1 2 1 2-1 2 0 2 1 2 0 2 0 2 0 2 1 2 1 2-1 2 2 2 1 2 1 2-1 2 1 2 0 2-1 2-1 2-1 2-3 2-6 2-11 2-17 2-24 2-20 2-16 2-15 2-12 1-5 1-6 1-4 1-6 1-4 1-4 1-3 1 10 1 13 1 0 1-11 1-12 1-10 1-3 1 0 1 0 1 2 1 1 1 1 1 1 1 0 1 0 1 0 1 1 1 1 1 3 1 5 1 2 1-2 1-4 1-2 1-3 1-1 1-1 1-1 1-1 1-2 1-1 1 1 1-1 1-4 1-2 1 1 1 0 1 1 1 0 1 0 1 0 1 0 1 0 1 2 1 4 1 8 1 3 1-3 1-2 1 3 1 2 1 0 1 4 1 0 1-1 1 7 1 6 1 4 1 5 1 2 1 1 2 5 2 6 2 6 2 2 2 1 2 0 2 2 2 1 2 0 1 0"/><path vector-effect="non-scaling-stroke" d="M0 519l2 2 2-3 2-2 2-1 2-2 2-5 2-4 2-4 2-2 2-2 2-1 2-2 2-3 2-1 2-2 2-3 2-3 2-3 2-6 2-8 2-7 2-6 2-5 2-5 2-3 2-2 2-2 2 0 2 2 2 0 2-1 2 1 2 2 2 0 2 0 2 2 2 1 2 1 2 0 2 1 2 2 2 2 2 0 2 2 2 0 2 2 2 0 2 0 2-2 2-5 2-11 2-16 2-23 2-21 2-17 2-15 2-14 1-5 1-6 1-6 1-4 1-5 1-4 1-4 1 9 1 12 1 0 1-10 1-14 1-9 1-3 1 0 1 0 1 0 1 1 1 1 1 0 1 0 1 0 1 1 1 1 1 1 1 1 1 5 1 3 1-4 1-5 1-2 1-1 1-1 1-1 1-1 1-1 1-1 1-3 1 2 1-1 1-3 1-2 1 0 1 1 1 1 1 0 1 0 1-1 1 1 1 1 1 3 1 6 1 9 1 4 1-1 1-1 1 4 1 2 1 2 1 6 1 1 1 2 1 6 1 7 1 6 1 4 1 3 1 3 2 5 2 9 2 6 2 2 2 1 2 1 2 1 2 1 2 0 1-1"/><path vector-effect="non-scaling-stroke" d="M0 535l2 3 2 0 2-4 2-3 2-1 2-2 2-5 2-5 2-1 2-2 2 0 2-3 2-2 2-1 2-3 2-2 2-3 2-3 2-5 2-7 2-6 2-6 2-5 2-3 2-3 2-3 2-1 2 1 2 1 2 0 2-1 2 1 2 2 2-1 2 1 2 1 2 1 2 1 2 0 2 1 2 2 2 1 2 0 2 1 2 1 2 1 2 0 2 0 2-2 2-5 2-9 2-16 2-21 2-22 2-17 2-16 2-13 1-7 1-5 1-5 1-4 1-4 1-3 1-4 1 8 1 11 1 0 1-9 1-11 1-8 1-2 1-1 1 2 1 0 1 2 1 0 1 1 1 0 1 0 1 1 1 1 1 0 1 2 1 6 1 0 1-1 1-5 1-2 1-2 1-1 1-2 1 1 1-2 1-1 1-3 1 2 1-2 1-3 1-1 1 0 1 0 1 1 1 0 1 0 1 0 1 0 1 1 1 0 1 4 1 8 1 2 1-2 1-2 1 4 1 0 1 1 1 4 1-1 1 0 1 5 1 6 1 5 1 2 1 3 1 1 2 5 2 5 2 6 2 1 2 1 2 1 2 1 2 2 2 0 1-1"/><path vector-effect="non-scaling-stroke" d="M0 532l2 3 2-1 2-4 2-4 2 0 2-2 2-5 2-3 2-2 2-2 2 0 2-2 2-3 2 0 2-3 2-2 2-3 2-4 2-6 2-7 2-7 2-5 2-6 2-4 2-3 2-3 2-1 2 0 2 1 2 0 2-1 2 1 2 2 2-1 2 0 2 1 2 1 2 0 2 1 2 1 2 2 2 1 2 1 2 1 2 0 2 2 2 0 2 0 2-2 2-5 2-10 2-15 2-22 2-23 2-16 2-17 2-13 1-6 1-5 1-5 1-5 1-4 1-5 1-3 1 9 1 11 1 0 1-10 1-12 1-8 1-2 1-1 1 1 1 1 1 0 1 1 1 0 1 2 1-1 1 1 1 0 1 2 1 2 1 6 1 0 1-2 1-3 1-3 1-2 1-2 1 1 1-1 1-1 1-2 1-1 1 0 1 0 1-3 1-2 1 0 1 1 1 0 1 1 1 0 1-1 1 1 1 0 1 1 1 3 1 8 1 2 1-2 1-2 1 3 1 0 1 0 1 3 1 0 1 0 1 6 1 5 1 4 1 3 1 2 1 2 2 3 2 6 2 5 2 2 2 1 2 2 2 1 2 3 2-1 1 0"/><path vector-effect="non-scaling-stroke" d="M0 526l2 1 2 1 2-3 2-4 2-2 2-2 2-5 2-6 2-2 2-2 2-1 2-3 2-2 2-1 2-2 2-2 2-3 2-3 2-4 2-7 2-6 2-4 2-5 2-4 2-2 2-2 2-1 2 1 2 1 2 1 2-1 2 1 2 2 2 0 2-1 2 2 2 1 2 1 2 0 2 1 2 2 2 1 2 1 2 1 2 1 2 1 2 0 2 0 2-2 2-6 2-10 2-17 2-23 2-22 2-18 2-17 2-13 1-7 1-5 1-5 1-5 1-4 1-3 1-5 1 9 1 12 1 1 1-10 1-13 1-7 1-3 1-1 1 2 1 0 1 2 1 1 1 0 1 0 1 0 1 0 1 2 1 0 1 3 1 6 1 1 1-4 1-3 1-3 1-1 1-2 1 0 1-1 1-2 1-1 1-2 1 1 1-1 1-3 1-1 1 0 1 1 1-1 1 2 1 1 1 0 1-1 1 1 1 1 1 4 1 8 1 2 1-2 1-2 1 3 1 1 1-1 1 5 1-1 1 1 1 5 1 5 1 5 1 3 1 3 1 0 2 4 2 5 2 6 2 3 2-1 2 1 2 2 2 1 2 0 1 0"/><path vector-effect="non-scaling-stroke" d="M0 564l2-1 2 0 2 0 2-1 2-2 2-1 2-2 2-1 2-1 2-1 2-1 2-1 2-1 2 0 2-1 2-1 2-1 2-2 2-2 2-3 2-3 2-2 2-2 2-2 2-1 2-1 2 0 2 0 2 1 2 0 2-1 2 1 2 0 2 0 2 0 2 0 2 1 2 0 2 0 2 0 2 1 2 0 2 0 2-1 2 0 2 0 2-1 2-1 2-1 2-3 2-3 2-5 2-7 2-10 2-10 2-9 2-10 1-3 1-4 1-4 1-3 1-3 1-2 1-3 1 4 1 5 1 0 1-5 1-6 1-4 1-2 1 0 1 0 1 1 1 0 1 0 1 1 1-1 1 1 1 0 1 1 1 0 1 1 1 3 1 0 1-1 1-1 1-1 1-1 1-1 1 0 1 0 1 0 1-1 1-1 1-1 1 0 1 0 1-1 1 0 1 1 1 0 1 0 1 0 1 0 1 0 1 0 1 1 1 2 1 1 1 1 1 0 1 0 1 0 1 1 1 0 1 0 1-1 1 1 1 0 1 2 1 1 1 1 1 1 1 0 2-1 2 1 2 1 2 0 2-1 2 0 2 0 2 1 2-1 1 0"/><path vector-effect="non-scaling-stroke" d="M0 500l2 4 2 2 2-5 2-3 2 0 2-3 2-7 2-7 2-2 2-3 2 0 2-3 2-3 2-1 2-3 2-2 2-3 2-3 2-7 2-8 2-8 2-5 2-7 2-4 2-4 2-3 2-1 2 0 2 1 2 1 2-1 2 1 2 3 2-1 2 1 2 2 2 0 2 2 2 1 2 2 2 2 2 2 2 0 2 1 2 2 2 1 2 1 2 0 2-3 2-8 2-15 2-25 2-30 2-23 2-21 2-17 2-15 1-6 1-4 1-6 1-6 1-4 1-5 1-5 1 12 1 15 1 1 1-13 1-15 1-9 1-3 1-1 1 1 1 1 1 2 1 1 1 1 1 0 1 0 1 1 1 1 1 1 1 4 1 6 1 3 1-4 1-2 1-4 1-3 1-2 1 1 1 1 1-2 1-3 1-2 1 2 1-2 1-3 1-2 1 1 1 1 1 1 1 0 1 1 1-1 1 1 1 0 1 2 1 6 1 8 1 2 1-3 1-2 1 3 1 2 1 0 1 3 1 0 1 0 1 7 1 6 1 5 1 3 1 3 1 2 2 4 2 5 2 7 2 3 2 0 2 1 2 1 2 2 2-1 1 0"/><path vector-effect="non-scaling-stroke" d="M0 525l2 3 2 1 2-3 2-2 2-1 2-2 2-4 2-3 2-2 2-1 2 0 2-2 2-2 2 0 2-3 2-3 2-3 2-4 2-6 2-8 2-7 2-5 2-6 2-3 2-4 2-2 2-1 2 0 2 1 2 0 2 0 2 0 2 2 2 0 2 0 2 1 2 0 2 1 2 1 2 1 2 1 2 1 2 1 2 1 2 1 2 1 2 0 2 1 2-2 2-6 2-9 2-16 2-24 2-21 2-18 2-16 2-13 1-6 1-6 1-6 1-4 1-6 1-3 1-6 1 9 1 12 1 0 1-10 1-13 1-8 1-3 1 0 1 0 1 1 1 0 1 2 1 0 1 0 1 1 1 0 1 2 1 1 1 2 1 5 1 3 1-3 1-4 1-1 1-2 1-2 1 1 1-2 1-1 1-1 1-3 1 2 1 1 1-5 1-1 1 0 1 2 1 0 1 0 1 1 1-1 1 0 1 1 1 1 1 3 1 7 1 3 1-2 1-1 1 1 1 1 1 0 1 4 1 0 1 0 1 5 1 4 1 5 1 2 1 3 1 2 2 2 2 6 2 6 2 2 2 1 2 2 2 0 2 2 2 0 1-1"/><path vector-effect="non-scaling-stroke" d="M0 502l2 4 2 0 2-5 2-2 2-3 2-3 2-7 2-5 2-2 2-2 2-2 2-3 2-2 2 0 2-3 2-3 2-3 2-3 2-7 2-8 2-8 2-6 2-7 2-4 2-5 2-2 2-1 2 0 2 3 2 0 2-1 2 1 2 3 2-1 2 1 2 2 2 2 2 0 2 1 2 1 2 2 2 2 2 1 2 1 2 1 2 1 2 1 2 0 2-3 2-9 2-15 2-25 2-32 2-23 2-19 2-18 2-14 1-7 1-5 1-7 1-5 1-2 1-6 1-5 1 12 1 14 1 1 1-12 1-15 1-10 1-3 1 0 1 1 1 1 1 1 1 0 1 1 1 0 1 1 1 1 1 1 1 1 1 3 1 7 1 2 1-4 1-3 1-4 1 0 1-4 1 1 1-1 1-2 1-1 1-2 1 0 1 0 1-4 1-1 1-1 1 1 1 2 1 0 1 0 1 1 1-1 1 1 1 2 1 5 1 9 1 3 1-1 1-2 1 5 1 0 1 1 1 6 1-1 1 1 1 8 1 6 1 6 1 4 1 4 1 2 2 4 2 9 2 6 2 3 2-1 2 3 2 2 2 1 2-1 1 1"/><path vector-effect="non-scaling-stroke" d="M0 564l2 1 2 0 2-2 2-1 2-1 2-1 2-1 2-2 2-1 2-1 2 0 2-1 2-1 2 0 2-1 2-2 2-1 2-1 2-2 2-3 2-3 2-2 2-2 2-1 2-2 2 0 2-1 2 0 2 1 2 0 2-1 2 0 2 0 2 0 2 0 2 0 2 1 2 0 2 0 2 0 2 0 2 1 2 0 2-1 2 0 2 0 2-1 2-1 2-1 2-2 2-4 2-6 2-8 2-11 2-11 2-11 2-10 1-4 1-4 1-4 1-4 1-4 1-2 1-3 1 4 1 5 1 0 1-5 1-6 1-5 1-1 1-2 1 1 1 0 1 1 1 0 1 0 1 0 1 1 1 0 1 1 1 0 1 1 1 3 1 1 1-1 1-2 1-1 1-1 1 0 1 0 1-1 1 0 1-1 1-1 1 1 1-1 1-1 1-1 1 0 1 0 1 1 1 0 1 0 1 0 1-1 1 1 1 1 1 1 1 4 1 1 1-1 1-1 1 1 1 1 1 1 1 1 1 0 1 0 1 3 1 2 1 2 1 2 1 1 1 1 2 2 2 3 2 3 2 1 2 1 2 0 2 1 2 1 2 0 1 0"/><path vector-effect="non-scaling-stroke" d="M0 563l2 2 2-1 2-2 2-2 2-1 2-2 2-2 2-1 2-2 2-1 2 0 2-2 2-1 2-1 2-1 2-1 2-1 2-1 2-2 2-3 2-2 2-2 2-2 2-1 2-1 2-1 2 0 2 0 2 1 2 0 2 0 2 0 2 0 2 0 2 0 2 0 2 1 2 0 2-1 2 1 2 0 2 0 2 0 2 0 2 0 2-1 2 0 2-1 2-2 2-2 2-5 2-6 2-9 2-12 2-12 2-12 2-10 1-5 1-4 1-4 1-4 1-3 1-3 1-3 1 4 1 5 1 1 1-5 1-7 1-5 1-2 1 0 1 0 1 1 1 1 1 0 1 0 1 0 1 0 1 1 1 1 1 0 1 1 1 3 1 1 1-1 1-2 1-1 1-1 1-1 1-1 1 1 1-1 1-1 1-1 1 0 1 0 1-2 1 0 1 0 1 0 1 0 1 1 1 0 1 0 1 0 1 0 1 1 1 2 1 4 1 1 1-1 1-1 1 1 1 1 1 0 1 2 1-1 1 1 1 3 1 2 1 2 1 2 1 1 1 1 2 2 2 2 2 3 2 1 2 0 2 0 2 1 2 1 2 0 1-1"/><path vector-effect="non-scaling-stroke" d="M0 498l2 5 2-1 2-6 2-3 2-5 2-5 2-7 2-6 2-4 2-3 2-2 2-5 2-3 2-2 2-2 2-3 2-3 2-4 2-6 2-10 2-9 2-7 2-6 2-5 2-4 2-3 2 0 2 0 2 2 2 0 2-1 2 1 2 0 2-1 2 1 2 0 2 1 2 0 2-1 2 1 2 1 2 1 2-1 2-1 2 0 2-1 2-2 2-1 2-6 2-11 2-24 2-35 2-30 2-25 2-19 2-16 2-12 1-6 1-5 1-5 1-5 1-4 1-4 1-5 1 15 1 18 1 0 1-13 1-17 1-12 1-3 1-1 1 2 1 2 1 1 1 0 1 2 1 0 1 0 1 2 1 1 1 0 1 4 1 7 1 3 1-5 1-5 1-2 1-4 1-2 1-1 1-3 1-2 1-2 1 0 1-5 1-1 1-2 1-1 1 0 1-1 1 3 1 0 1-1 1 0 1 0 1 2 1 2 1 5 1 5 1 1 1 0 1-1 1 1 1 3 1-1 1 1 1-1 1 0 1 2 1 4 1 5 1 4 1 1 1 0 2 1 2 3 2 2 2-1 2-1 2-1 2 3 2-1 2-1 1 0"/><path vector-effect="non-scaling-stroke" d="M0 544l2 1 2-1 2-1 2-1 2-3 2-2 2-3 2-2 2-1 2-2 2-1 2-1 2-3 2-1 2-2 2-2 2-2 2-3 2-5 2-6 2-5 2-5 2-4 2-3 2-3 2-1 2-1 2 0 2 2 2 1 2-1 2 1 2 2 2-1 2 1 2 1 2 1 2 0 2 0 2 1 2 2 2 1 2 0 2 1 2 0 2 0 2 1 2-1 2-2 2-5 2-8 2-14 2-19 2-21 2-16 2-17 2-13 1-6 1-5 1-7 1-4 1-4 1-3 1-5 1 8 1 10 1 0 1-8 1-12 1-7 1-2 1-1 1 1 1 2 1 0 1 1 1 1 1 0 1-1 1 1 1 0 1 2 1 2 1 5 1 1 1-2 1-3 1-2 1-2 1-1 1-1 1-1 1 0 1-2 1-2 1 1 1-1 1-2 1-2 1 0 1 1 1 1 1 0 1 0 1-1 1 0 1 1 1 2 1 3 1 8 1 3 1-1 1-1 1 3 1 1 1 2 1 3 1 1 1 2 1 5 1 5 1 4 1 4 1 2 1 3 2 4 2 6 2 6 2 1 2 1 2 1 2 1 2 2 2 0 1-1"/><path vector-effect="non-scaling-stroke" d="M0 515l2-3 2 1 2-1 2-4 2-4 2-5 2-5 2-4 2-3 2-3 2 0 2-3 2-4 2 0 2-3 2-2 2-4 2-3 2-5 2-9 2-7 2-7 2-5 2-4 2-4 2-2 2-2 2 2 2 1 2 0 2-1 2 1 2 3 2-1 2 0 2 2 2 1 2 1 2 0 2 1 2 2 2 1 2 2 2 1 2 1 2 1 2 1 2 0 2-3 2-7 2-13 2-21 2-29 2-22 2-19 2-18 2-14 1-6 1-6 1-6 1-4 1-6 1-5 1-4 1 10 1 14 1 1 1-12 1-15 1-9 1-2 1-2 1 2 1 1 1 0 1 2 1 0 1 0 1 1 1-1 1 2 1 1 1 3 1 7 1 1 1-3 1-3 1-4 1 0 1-2 1-1 1-1 1 0 1-2 1-2 1 2 1 0 1-5 1-1 1-1 1 2 1 1 1 2 1-1 1 1 1 0 1 0 1 4 1 5 1 10 1 3 1-1 1-2 1 5 1 3 1 2 1 4 1 1 1 1 1 6 1 6 1 7 1 4 1 3 1 3 2 5 2 9 2 6 2 0 2 2 2 0 2 2 2 1 2 0 1-1"/><path vector-effect="non-scaling-stroke" d="M0 532l2 5 2-1 2-2 2-2 2-3 2-3 2-5 2-5 2-3 2-2 2-1 2-2 2-3 2-1 2-3 2-3 2-3 2-3 2-6 2-8 2-7 2-5 2-5 2-3 2-4 2-2 2-1 2 0 2 2 2-1 2 0 2 1 2 2 2-1 2 1 2 1 2 1 2 0 2 1 2 1 2 1 2 2 2 1 2 1 2 1 2 1 2 0 2 0 2-1 2-5 2-9 2-14 2-19 2-21 2-16 2-15 2-13 1-5 1-6 1-6 1-4 1-3 1-5 1-4 1 9 1 10 1 1 1-10 1-11 1-8 1-2 1-1 1 2 1 1 1 1 1 0 1 0 1 1 1 0 1 1 1 1 1 1 1 2 1 5 1 2 1-4 1-3 1-2 1-2 1-1 1 0 1-1 1-2 1-1 1-2 1 0 1-1 1-3 1-1 1 0 1 0 1 0 1 1 1-1 1 0 1 1 1 0 1 1 1 2 1 7 1 2 1-2 1-2 1 3 1 0 1 1 1 2 1 0 1 1 1 4 1 5 1 4 1 3 1 2 1 3 2 2 2 6 2 6 2 1 2 1 2 1 2 3 2 1 2 0 1-1"/><path vector-effect="non-scaling-stroke" d="M0 513l2 2 2 0 2-3 2-2 2-2 2-4 2-4 2-4 2-4 2-1 2 0 2-2 2-3 2-1 2-3 2-3 2-3 2-2 2-7 2-8 2-7 2-6 2-5 2-4 2-4 2-2 2-1 2 1 2 2 2 0 2 0 2 1 2 3 2 0 2 0 2 2 2 1 2 1 2 1 2 1 2 2 2 1 2 1 2 1 2 1 2 2 2 0 2 0 2-2 2-6 2-11 2-19 2-25 2-21 2-18 2-16 2-14 1-5 1-6 1-6 1-4 1-5 1-4 1-4 1 10 1 11 1 1 1-10 1-13 1-9 1-2 1-2 1 2 1 0 1 2 1-1 1 2 1 0 1 0 1 1 1 1 1 0 1 4 1 6 1 1 1-2 1-5 1-1 1-3 1-1 1-1 1-1 1-1 1-2 1-2 1 0 1-1 1-3 1-2 1-1 1 3 1 0 1-1 1 0 1 2 1-2 1 0 1 3 1 2 1 8 1 3 1-4 1-1 1 3 1 0 1 0 1 5 1-2 1 2 1 5 1 5 1 5 1 3 1 2 1 2 2 4 2 6 2 6 2 2 2 1 2 1 2 1 2 2 2 0 1-1"/><path vector-effect="non-scaling-stroke" d="M0 546l2 1 2 0 2-3 2-4 2-1 2-3 2-3 2-3 2-3 2-2 2-1 2-2 2-2 2-1 2-2 2-2 2-2 2-3 2-4 2-5 2-5 2-4 2-4 2-2 2-2 2-2 2-1 2 1 2 1 2-1 2 0 2 0 2 1 2 0 2 1 2 0 2 1 2 0 2 0 2 1 2 1 2 1 2 1 2 1 2 0 2 1 2 0 2-1 2-2 2-4 2-8 2-11 2-18 2-20 2-15 2-16 2-13 1-6 1-5 1-6 1-5 1-4 1-3 1-4 1 7 1 9 1-1 1-8 1-10 1-7 1-2 1-1 1 1 1 1 1 1 1 0 1 1 1 0 1 0 1 0 1 2 1 1 1 2 1 5 1 1 1-3 1-2 1-2 1-1 1-1 1 0 1 0 1-1 1-1 1-2 1 1 1-1 1-3 1-1 1 0 1 0 1 2 1-1 1 2 1-1 1-1 1 2 1 0 1 4 1 6 1 2 1-2 1-1 1 2 1 1 1 0 1 4 1-1 1 1 1 5 1 3 1 4 1 3 1 2 1 2 2 3 2 5 2 5 2 2 2 1 2 1 2 1 2 1 2-1 1 0"/><path vector-effect="non-scaling-stroke" d="M0 535l2 3 2-1 2-3 2-1 2-2 2-2 2-5 2-5 2-2 2-2 2-1 2-2 2-3 2-1 2-2 2-2 2-2 2-3 2-4 2-6 2-7 2-4 2-4 2-4 2-2 2-2 2-1 2 1 2 1 2 0 2 0 2 0 2 2 2 0 2 0 2 2 2 0 2 1 2 1 2 1 2 1 2 1 2 1 2 2 2 0 2 1 2 0 2 1 2-2 2-4 2-7 2-12 2-18 2-20 2-16 2-15 2-12 1-6 1-6 1-5 1-6 1-3 1-4 1-4 1 7 1 10 1 1 1-11 1-10 1-8 1-2 1-2 1 1 1 1 1 1 1 0 1 0 1 0 1 0 1 0 1 1 1 2 1 1 1 4 1 2 1-2 1-4 1-2 1-1 1-1 1-1 1 0 1-1 1-2 1-1 1 1 1-1 1-2 1-1 1-1 1 2 1 0 1 1 1 0 1 0 1-1 1 2 1 1 1 4 1 6 1 1 1-1 1-1 1 1 1 1 1 0 1 3 1 0 1 1 1 4 1 5 1 4 1 2 1 3 1 1 2 3 2 5 2 5 2 1 2 2 2 1 2 1 2 1 2 0 1 0"/><path vector-effect="non-scaling-stroke" d="M0 529l2 3 2-2 2-3 2-1 2-2 2-2 2-5 2-3 2-4 2-2 2 0 2-3 2-2 2-2 2-1 2-3 2-4 2-3 2-4 2-8 2-6 2-6 2-4 2-4 2-2 2-3 2-1 2 1 2 1 2 0 2-1 2 1 2 2 2 0 2 0 2 1 2 1 2 1 2 0 2 1 2 2 2 1 2 1 2 2 2 1 2 1 2 0 2 1 2-2 2-4 2-8 2-12 2-18 2-20 2-15 2-14 2-13 1-5 1-5 1-6 1-3 1-5 1-3 1-4 1 9 1 10 1 0 1-9 1-11 1-8 1-1 1-1 1 1 1 2 1-1 1 2 1 0 1 0 1 0 1 0 1 2 1 1 1 1 1 5 1 1 1-3 1-3 1-2 1-1 1-2 1 0 1-1 1-1 1-2 1-2 1 1 1-1 1-4 1-1 1 0 1 1 1 1 1 0 1-1 1 1 1-1 1 1 1 2 1 3 1 7 1 1 1-2 1-2 1 3 1 1 1 0 1 4 1-1 1 1 1 4 1 5 1 4 1 3 1 2 1 2 2 3 2 5 2 5 2 1 2 1 2 1 2 1 2 1 2 0 1 0"/><path vector-effect="non-scaling-stroke" d="M0 547l2-1 2-1 2-1 2-2 2-2 2-1 2-3 2-3 2-3 2 0 2-1 2-2 2-2 2 0 2-2 2-3 2-2 2-3 2-4 2-7 2-5 2-5 2-4 2-3 2-3 2-1 2-1 2 0 2 1 2-1 2 0 2 0 2 2 2-1 2 1 2 1 2 1 2 0 2 1 2 0 2 2 2 0 2 1 2 1 2 1 2 0 2 0 2 0 2-1 2-5 2-6 2-11 2-17 2-19 2-16 2-15 2-12 1-6 1-6 1-5 1-4 1-5 1-3 1-4 1 7 1 8 1 1 1-8 1-10 1-7 1-1 1-1 1 1 1 1 1 0 1 1 1 1 1-1 1 1 1 0 1 1 1 1 1 3 1 5 1 0 1-3 1-2 1-2 1-1 1-1 1 1 1-2 1-1 1-1 1-2 1 1 1-1 1-2 1-1 1 0 1 0 1 0 1 0 1 1 1-1 1 0 1 0 1 2 1 2 1 5 1 2 1-2 1 0 1 1 1 0 1 1 1 2 1 0 1 1 1 4 1 5 1 2 1 3 1 2 1 1 2 4 2 5 2 4 2 2 2 0 2 0 2 2 2 2 2-1 1 0"/><path vector-effect="non-scaling-stroke" d="M0 511l2 4 2-2 2-4 2-3 2-3 2-2 2-5 2-4 2-2 2-1 2 0 2-2 2-3 2-2 2-3 2-4 2-4 2-6 2-7 2-11 2-9 2-8 2-7 2-5 2-5 2-3 2-1 2 0 2 2 2 0 2-1 2 2 2 2 2-1 2 1 2 2 2 0 2 1 2 2 2 1 2 2 2 1 2 2 2 1 2 2 2 1 2 0 2 1 2-3 2-9 2-16 2-26 2-32 2-23 2-20 2-17 2-14 1-7 1-5 1-6 1-5 1-4 1-6 1-4 1 14 1 12 1 2 1-12 1-16 1-10 1-2 1-2 1 1 1 2 1 1 1 1 1 1 1 0 1 0 1 0 1 2 1 2 1 2 1 8 1 2 1-4 1-5 1-1 1-4 1-2 1 0 1 0 1-3 1-1 1-3 1 1 1-1 1-4 1-1 1 0 1 1 1 1 1-1 1 0 1 0 1 1 1 0 1 4 1 2 1 10 1 2 1-3 1-2 1 2 1 2 1 0 1 5 1 0 1 0 1 7 1 6 1 5 1 4 1 3 1 2 2 5 2 7 2 7 2 3 2 1 2 2 2 2 2 2 2 0 1 0"/><path vector-effect="non-scaling-stroke" d="M0 521l2 4 2-3 2-4 2-1 2-3 2-3 2-5 2-4 2-3 2-3 2-2 2-3 2-2 2-1 2-3 2-3 2-3 2-3 2-6 2-8 2-8 2-5 2-6 2-4 2-3 2-3 2-1 2 1 2 2 2 0 2-1 2 2 2 1 2-1 2 1 2 1 2 1 2 1 2 0 2 1 2 2 2 1 2 1 2 1 2 1 2 0 2 0 2 0 2-1 2-7 2-11 2-18 2-25 2-22 2-17 2-17 2-14 1-5 1-7 1-4 1-6 1-5 1-3 1-5 1 10 1 12 1 1 1-10 1-14 1-9 1-3 1-1 1 0 1 2 1 1 1 1 1 0 1 1 1-1 1 2 1 1 1 1 1 3 1 6 1 1 1-3 1-4 1-2 1-2 1-1 1 0 1-1 1-1 1-2 1-2 1 1 1-1 1-3 1-1 1 0 1 1 1 0 1 2 1 0 1 0 1 0 1 0 1 3 1 5 1 8 1 3 1-2 1-2 1 5 1 1 1-1 1 6 1-1 1 1 1 6 1 7 1 3 1 5 1 2 1 3 2 4 2 5 2 7 2 1 2 1 2 1 2 1 2 2 2 0 1-1"/><path vector-effect="non-scaling-stroke" d="M0 512l2 3 2-3 2-3 2 1 2-2 2-3 2-5 2-5 2-3 2-2 2 1 2-2 2-3 2-1 2-2 2-3 2-4 2-4 2-6 2-9 2-9 2-6 2-6 2-5 2-4 2-3 2-2 2 1 2 1 2 0 2-1 2 1 2 2 2-1 2 1 2 0 2 2 2 0 2 0 2 0 2 2 2 2 2 0 2-1 2 1 2 0 2-1 2-1 2-1 2-7 2-12 2-19 2-26 2-20 2-17 2-15 2-13 1-6 1-6 1-6 1-4 1-6 1-2 1-6 1 11 1 13 1 1 1-11 1-13 1-11 1-3 1 0 1 1 1 3 1 0 1 2 1-1 1 1 1 0 1 2 1 1 1 2 1 2 1 7 1 1 1-2 1-4 1-3 1-3 1 0 1-2 1 0 1-2 1-1 1-3 1 1 1-1 1-4 1-1 1 0 1 0 1 0 1 1 1 0 1 0 1-1 1 0 1 3 1 5 1 9 1 4 1-2 1-1 1 4 1 1 1 3 1 5 1 1 1 2 1 5 1 8 1 6 1 4 1 3 1 3 2 5 2 9 2 7 2 1 2 1 2 2 2 1 2 0 2 1 1-1"/><path vector-effect="non-scaling-stroke" d="M0 527l2 2 2-1 2-4 2-1 2-3 2-2 2-4 2-5 2-2 2-2 2-1 2-2 2-3 2 0 2-3 2-3 2-4 2-3 2-6 2-8 2-7 2-6 2-5 2-4 2-4 2-2 2-1 2 0 2 1 2 1 2-1 2 0 2 2 2-1 2 1 2 1 2 1 2 0 2 0 2 1 2 2 2 1 2 1 2 1 2 0 2 2 2-1 2 0 2-2 2-6 2-9 2-15 2-22 2-21 2-15 2-16 2-14 1-5 1-5 1-6 1-5 1-4 1-3 1-6 1 9 1 11 1 0 1-10 1-12 1-8 1-3 1-2 1 1 1 2 1-1 1 2 1-1 1 0 1 0 1 1 1 1 1 2 1 1 1 6 1 0 1-2 1-3 1-3 1-3 1-1 1 0 1-2 1 0 1-3 1-1 1 0 1-1 1-2 1-2 1 0 1 2 1-1 1 1 1 2 1 0 1-1 1 2 1 1 1 3 1 9 1 2 1-3 1-1 1 3 1 1 1 0 1 4 1 0 1 0 1 6 1 5 1 5 1 4 1 2 1 1 2 3 2 7 2 5 2 2 2 1 2 1 2 2 2 2 2 0 1 0"/><path vector-effect="non-scaling-stroke" d="M0 522l2 1 2 0 2-2 2-3 2-2 2-3 2-5 2-4 2-4 2-2 2-1 2-2 2-3 2-1 2-2 2-2 2-3 2-3 2-6 2-7 2-6 2-6 2-4 2-5 2-3 2-1 2-1 2 0 2 2 2 1 2-1 2 1 2 2 2-1 2 1 2 1 2 1 2 1 2 1 2 1 2 1 2 2 2 1 2 1 2 1 2 1 2 0 2 0 2-1 2-8 2-10 2-18 2-25 2-23 2-19 2-16 2-14 1-6 1-6 1-5 1-6 1-4 1-4 1-5 1 10 1 13 1-1 1-10 1-13 1-9 1-2 1-1 1 0 1 1 1 2 1 2 1-1 1 1 1 0 1 1 1 1 1 1 1 3 1 5 1 2 1-4 1-2 1-1 1-3 1-1 1-1 1-1 1 0 1-1 1-2 1 1 1 0 1-5 1 0 1 0 1 0 1 1 1 0 1 1 1-1 1 1 1 0 1 3 1 3 1 8 1 2 1-2 1-2 1 3 1 0 1 1 1 3 1 0 1 1 1 4 1 7 1 4 1 2 1 3 1 1 2 4 2 6 2 6 2 2 2 2 2 1 2 1 2 1 2-1 1 0"/><path vector-effect="non-scaling-stroke" d="M0 554l2 3 2 0 2-3 2-2 2-1 2-2 2-3 2-4 2-1 2-2 2 0 2-2 2-2 2 0 2-2 2-1 2-1 2-2 2-3 2-4 2-4 2-2 2-4 2-1 2-2 2-1 2 0 2 1 2 0 2 0 2 0 2 0 2 2 2-1 2 1 2 0 2 1 2 1 2-1 2 1 2 1 2 1 2 0 2 0 2 1 2 0 2 0 2-1 2-2 2-5 2-7 2-12 2-17 2-20 2-17 2-16 2-14 1-6 1-6 1-5 1-5 1-4 1-3 1-4 1 6 1 8 1 0 1-7 1-10 1-6 1-3 1-1 1 1 1 1 1 0 1 1 1 1 1 0 1-1 1 1 1 0 1 1 1 3 1 5 1 0 1-3 1-1 1-2 1-1 1-2 1 0 1-1 1-1 1-1 1-1 1 1 1-1 1-2 1-1 1 1 1 0 1 0 1 1 1 0 1 0 1-1 1 1 1 1 1 4 1 6 1 2 1-1 1-1 1 2 1 0 1 1 1 3 1-1 1 2 1 4 1 3 1 3 1 3 1 1 1 2 2 3 2 4 2 4 2 1 2 1 2 0 2 1 2 1 2 0 1-1"/><path vector-effect="non-scaling-stroke" d="M0 504l2 6 2 0 2 0 2-3 2-2 2-5 2-4 2-4 2-2 2-1 2-1 2-2 2-2 2-2 2-2 2-3 2-3 2-5 2-7 2-9 2-8 2-7 2-7 2-6 2-4 2-3 2-1 2 0 2 2 2 0 2 0 2 1 2 2 2-1 2 1 2 1 2 1 2 1 2 0 2 2 2 1 2 2 2 1 2 1 2 1 2 2 2 0 2 1 2-3 2-8 2-13 2-23 2-31 2-23 2-19 2-16 2-15 1-6 1-5 1-6 1-6 1-3 1-4 1-5 1 11 1 13 1 1 1-12 1-14 1-10 1-2 1-3 1 1 1 2 1 1 1 0 1 2 1-1 1-1 1 2 1 2 1 0 1 2 1 8 1 1 1-4 1-4 1-2 1-4 1-1 1 0 1-1 1-2 1-1 1-3 1 1 1 0 1-3 1-2 1 0 1 1 1 0 1 1 1 1 1 1 1-1 1 1 1 2 1 5 1 10 1 1 1-1 1-3 1 4 1 2 1-1 1 5 1 1 1 1 1 6 1 6 1 6 1 3 1 4 1 1 2 5 2 7 2 6 2 3 2 0 2 2 2 1 2 2 2-1 1 0"/><path vector-effect="non-scaling-stroke" d="M0 525l2 3 2-2 2-4 2-3 2-2 2-2 2-8 2-6 2-3 2-2 2-1 2-3 2-3 2-1 2-2 2-2 2-3 2-2 2-6 2-8 2-5 2-5 2-5 2-4 2-3 2-2 2 0 2 1 2 1 2 0 2 0 2 1 2 2 2 0 2 0 2 1 2 2 2 0 2 1 2 1 2 1 2 2 2 1 2 0 2 2 2 1 2 0 2 0 2-2 2-7 2-10 2-17 2-25 2-23 2-17 2-16 2-14 1-6 1-6 1-4 1-6 1-4 1-5 1-4 1 8 1 13 1 0 1-10 1-13 1-9 1-2 1-1 1 1 1 1 1 1 1 0 1 2 1 0 1-1 1 0 1 1 1 1 1 3 1 7 1 0 1-3 1-4 1-2 1-2 1-2 1 0 1 0 1-3 1-1 1-2 1-2 1-1 1-1 1 0 1-1 1 0 1 1 1 1 1 0 1 0 1-1 1 2 1 2 1 4 1 4 1 1 1 0 1 0 1 1 1 2 1 0 1 0 1-1 1 2 1 0 1 4 1 3 1 4 1 1 1 1 2-1 2 3 2 1 2 0 2-2 2 0 2 1 2 0 2-1 1-1"/><path vector-effect="non-scaling-stroke" d="M0 559l2 2 2 0 2-1 2-1 2-1 2-1 2-2 2-2 2-2 2-1 2 0 2-1 2-2 2 0 2-2 2-2 2-2 2-2 2-3 2-5 2-3 2-4 2-3 2-2 2-1 2-2 2 0 2 0 2 1 2 0 2 0 2 0 2 1 2 0 2 0 2 1 2 0 2 1 2-1 2 1 2 1 2 0 2 0 2 0 2 1 2 0 2-1 2-1 2-2 2-4 2-7 2-11 2-15 2-19 2-17 2-15 2-14 1-5 1-6 1-5 1-5 1-4 1-3 1-4 1 6 1 7 1 0 1-7 1-11 1-5 1-2 1-1 1 1 1 0 1 0 1 1 1 1 1-1 1 0 1 0 1 1 1 1 1 2 1 4 1 1 1-3 1-2 1-2 1-1 1-1 1 0 1-2 1 1 1-2 1-2 1 2 1-2 1-1 1-2 1 0 1 1 1 1 1 0 1 0 1 0 1 0 1-1 1 2 1 3 1 6 1 2 1-1 1-1 1 2 1 1 1 1 1 3 1 0 1 1 1 4 1 5 1 3 1 3 1 2 1 2 2 3 2 5 2 4 2 2 2 0 2 0 2 2 2 0 2 0 1 0"/><path vector-effect="non-scaling-stroke" d="M0 508l2 4 2-2 2-5 2-2 2-3 2-2 2-5 2-6 2-3 2-2 2 0 2-3 2-2 2-1 2-3 2-2 2-3 2-4 2-5 2-8 2-8 2-5 2-7 2-4 2-3 2-3 2-3 2 2 2 2 2 0 2-1 2 1 2 2 2 0 2 1 2 1 2 1 2 2 2 0 2 2 2 1 2 2 2 2 2 0 2 1 2 2 2 0 2 0 2-1 2-7 2-12 2-18 2-27 2-22 2-17 2-16 2-13 1-5 1-6 1-7 1-4 1-4 1-3 1-6 1 11 1 12 1 1 1-10 1-14 1-10 1-2 1-1 1 1 1 1 1 1 1 0 1 1 1 0 1 0 1 1 1 1 1 0 1 3 1 7 1 1 1-3 1-4 1 0 1-4 1-1 1-2 1 2 1-3 1-1 1-2 1 1 1-1 1-2 1-3 1 1 1 0 1 1 1 0 1 0 1 1 1 0 1 0 1 2 1 4 1 8 1 1 1-2 1-2 1 3 1 0 1 1 1 2 1 0 1 0 1 6 1 4 1 5 1 4 1 2 1 2 2 2 2 6 2 7 2 2 2 0 2 1 2 2 2 2 2 0 1 0"/><path vector-effect="non-scaling-stroke" d="M0 537l2 2 2-1 2-3 2-1 2-1 2-2 2-4 2-4 2-1 2-2 2 0 2-2 2-2 2-1 2-3 2-2 2-3 2-3 2-5 2-7 2-6 2-5 2-4 2-3 2-3 2-2 2-1 2 1 2 1 2 0 2-1 2 1 2 2 2-1 2 1 2 1 2 1 2 1 2 0 2 1 2 2 2 1 2 1 2 1 2 0 2 1 2 0 2 1 2-2 2-4 2-8 2-13 2-18 2-20 2-16 2-15 2-13 1-5 1-6 1-5 1-5 1-3 1-4 1-4 1 8 1 9 1 0 1-8 1-12 1-6 1-3 1 0 1 1 1 0 1 3 1-2 1 2 1 0 1 0 1 0 1 1 1 1 1 1 1 6 1 2 1-4 1-2 1-2 1-2 1-1 1-1 1 0 1-2 1-1 1-3 1 1 1-1 1-2 1-1 1-1 1 0 1 2 1-1 1 1 1 1 1-2 1 1 1 1 1 3 1 6 1 2 1-2 1-1 1 3 1 0 1 1 1 4 1-1 1 1 1 4 1 5 1 4 1 3 1 1 1 3 2 3 2 5 2 5 2 1 2 1 2 1 2 2 2 1 2-1 1 0"/><path vector-effect="non-scaling-stroke" d="M0 507l2 4 2-3 2-2 2 0 2-3 2-5 2-5 2-4 2-2 2-3 2 0 2-2 2-3 2-1 2-2 2-4 2-4 2-4 2-7 2-8 2-8 2-6 2-6 2-5 2-3 2-3 2-2 2 1 2 1 2 1 2-1 2 1 2 2 2-1 2 0 2 1 2 1 2 1 2 0 2 2 2 2 2 2 2 1 2 1 2 2 2 1 2 1 2 0 2-2 2-8 2-14 2-23 2-30 2-21 2-19 2-18 2-13 1-6 1-6 1-5 1-5 1-5 1-4 1-5 1 11 1 14 1 0 1-11 1-16 1-9 1-4 1 0 1 1 1 1 1 0 1 1 1 0 1-1 1 1 1 1 1 0 1 2 1 1 1 7 1 2 1-4 1-4 1-1 1-3 1-2 1 0 1-1 1-1 1-2 1-2 1 1 1 0 1-4 1-1 1 1 1 2 1 0 1 1 1 1 1 0 1 0 1 2 1 2 1 3 1 8 1 4 1-2 1-2 1 4 1-1 1 1 1 5 1-2 1 2 1 6 1 6 1 6 1 3 1 3 1 2 2 5 2 5 2 8 2 2 2 1 2 1 2 2 2 0 2 0 1-1"/><path vector-effect="non-scaling-stroke" d="M0 527l2 2 2 2 2-4 2-1 2-3 2-3 2-5 2-6 2-3 2-1 2-1 2-3 2-3 2 0 2-2 2-2 2-3 2-3 2-5 2-6 2-6 2-5 2-4 2-4 2-2 2-2 2 0 2 0 2 2 2 0 2 0 2 1 2 1 2 0 2 0 2 1 2 1 2 0 2 0 2 1 2 2 2 1 2 0 2 1 2 1 2 1 2-1 2 0 2-2 2-5 2-10 2-16 2-24 2-21 2-19 2-16 2-13 1-7 1-6 1-6 1-5 1-4 1-4 1-5 1 8 1 12 1 0 1-10 1-12 1-10 1-2 1-1 1 2 1 1 1 0 1 1 1 0 1 1 1-1 1 2 1 1 1 2 1 2 1 5 1 2 1-4 1-1 1-3 1-2 1-1 1-2 1 0 1 0 1-3 1-1 1-1 1 1 1-3 1-1 1-1 1 1 1 1 1 0 1 0 1 1 1-1 1 1 1 2 1 4 1 7 1 2 1-1 1-2 1 3 1 1 1 1 1 5 1-2 1 2 1 6 1 5 1 4 1 4 1 2 1 2 2 5 2 6 2 5 2 3 2 1 2 1 2 2 2 2 2-2 1 0"/><path vector-effect="non-scaling-stroke" d="M0 535l2 2 2-1 2-1 2-1 2-2 2-2 2-3 2-3 2-2 2-1 2-1 2-1 2-3 2-1 2-3 2-3 2-3 2-4 2-6 2-7 2-7 2-6 2-6 2-4 2-2 2-3 2-1 2-1 2 2 2 0 2-2 2 1 2 1 2-1 2 1 2 0 2 1 2 0 2 1 2 0 2 2 2 0 2 0 2 1 2 0 2 0 2 0 2-1 2-2 2-5 2-8 2-13 2-19 2-20 2-15 2-14 2-13 1-5 1-5 1-5 1-6 1-3 1-4 1-4 1 9 1 11 1 0 1-9 1-12 1-8 1-2 1-1 1 2 1 0 1 0 1 0 1 1 1 0 1 0 1 0 1 1 1 0 1 2 1 6 1 0 1-3 1-2 1-3 1-2 1-2 1 0 1-1 1-1 1-1 1-3 1 1 1-1 1-3 1-1 1 1 1-1 1 1 1 1 1 0 1 1 1-1 1 2 1 2 1 3 1 8 1 2 1-3 1 0 1 2 1 1 1 1 1 4 1 0 1 1 1 5 1 5 1 4 1 3 1 2 1 3 2 3 2 6 2 5 2 2 2 1 2 0 2 2 2 0 2 1 1-1"/><path vector-effect="non-scaling-stroke" d="M0 548l2 3 2-1 2-3 2-3 2-2 2-2 2-3 2-5 2-2 2-2 2 0 2-2 2-2 2-1 2-1 2-2 2-2 2-2 2-4 2-5 2-4 2-3 2-4 2-2 2-2 2-1 2-1 2 0 2 1 2 0 2 0 2 1 2 1 2 0 2 0 2 1 2 0 2 1 2 0 2 0 2 1 2 1 2 0 2 1 2-1 2 0 2 1 2-2 2-2 2-4 2-7 2-12 2-16 2-20 2-16 2-14 2-14 1-5 1-5 1-6 1-4 1-5 1-3 1-4 1 7 1 9 1 1 1-9 1-11 1-7 1-2 1 0 1 0 1 1 1 0 1 0 1 1 1 0 1 0 1 1 1-1 1 2 1 1 1 5 1 1 1-2 1-3 1-2 1-1 1-2 1-1 1 1 1-2 1-1 1-2 1-1 1-1 1 0 1 0 1-2 1 1 1 0 1 1 1 0 1-1 1 0 1 1 1 2 1 4 1 4 1 0 1 0 1 1 1 1 1 2 1 0 1 0 1 2 1 0 1 2 1 2 1 2 1 3 1 3 1 0 2 0 2 2 2 2 2-1 2-1 2 0 2 0 2 1 2-1 1-1"/><path vector-effect="non-scaling-stroke" d="M0 523l2 0 2 0 2-4 2-1 2-3 2-4 2-4 2-3 2-4 2-1 2-1 2-2 2-3 2-2 2-2 2-3 2-2 2-4 2-5 2-7 2-6 2-6 2-5 2-3 2-4 2-2 2-1 2 0 2 1 2 1 2-1 2 1 2 2 2-1 2 0 2 1 2 1 2 1 2 0 2 2 2 1 2 2 2 1 2 1 2 1 2 1 2 1 2 0 2-1 2-6 2-9 2-16 2-22 2-23 2-16 2-16 2-14 1-5 1-7 1-5 1-5 1-3 1-5 1-3 1 9 1 11 1 1 1-11 1-12 1-7 1-3 1-1 1 1 1 2 1 0 1 1 1 1 1 1 1 0 1 0 1 2 1 1 1 2 1 7 1 1 1-4 1-2 1-2 1-2 1-2 1 0 1-1 1-2 1 0 1-3 1 0 1 0 1-3 1-2 1 0 1 0 1 1 1 0 1 1 1-1 1 0 1 1 1 1 1 5 1 8 1 3 1-1 1-1 1 4 1 0 1 3 1 5 1 0 1 1 1 7 1 6 1 4 1 4 1 3 1 3 2 5 2 7 2 7 2 2 2 2 2 0 2 1 2 3 2 0 1 0"/><path vector-effect="non-scaling-stroke" d="M0 530l2 1 2 1 2-3 2-4 2-3 2-2 2-3 2-5 2-2 2-1 2-1 2-2 2-3 2-1 2-2 2-2 2-3 2-3 2-5 2-8 2-6 2-6 2-4 2-4 2-3 2-3 2-1 2 1 2 1 2 0 2 0 2 1 2 1 2-1 2 1 2 1 2 1 2 1 2 0 2 1 2 2 2 2 2 0 2 1 2 1 2 1 2 1 2-1 2-2 2-6 2-9 2-17 2-23 2-22 2-17 2-17 2-14 1-6 1-5 1-6 1-5 1-4 1-4 1-3 1 8 1 12 1 0 1-9 1-14 1-7 1-2 1-1 1 2 1 1 1 1 1 1 1 1 1 0 1 0 1 1 1 0 1 2 1 2 1 5 1 3 1-3 1-4 1-2 1-2 1-1 1-2 1 0 1-1 1-2 1-2 1 1 1-1 1-3 1-3 1 1 1 0 1 0 1 2 1-1 1 0 1 0 1 1 1 1 1 5 1 7 1 2 1-2 1-1 1 3 1 1 1 1 1 3 1 0 1 1 1 5 1 6 1 5 1 4 1 2 1 1 2 4 2 6 2 6 2 2 2 1 2 0 2 3 2 0 2 0 1 0"/><path vector-effect="non-scaling-stroke" d="M0 542l2 0 2 1 2-3 2-2 2-2 2-3 2-4 2-3 2-3 2-2 2 0 2-2 2-2 2-1 2-3 2-2 2-3 2-3 2-5 2-6 2-6 2-4 2-5 2-3 2-3 2-1 2-2 2 1 2 1 2 0 2 0 2 0 2 2 2 0 2 0 2 1 2 0 2 1 2 1 2 1 2 1 2 1 2 1 2 1 2 0 2 1 2 0 2 0 2-1 2-4 2-7 2-11 2-16 2-17 2-16 2-14 2-12 1-6 1-5 1-5 1-5 1-3 1-4 1-4 1 6 1 10 1 0 1-8 1-10 1-7 1-3 1 0 1 1 1 0 1 1 1 1 1 1 1-1 1 1 1 0 1 2 1 0 1 2 1 5 1 1 1-3 1-2 1-2 1-1 1-3 1 0 1 0 1 0 1-2 1-1 1 0 1 0 1-3 1 0 1-1 1 1 1 1 1 1 1-1 1 1 1-1 1 1 1 2 1 4 1 7 1 2 1-2 1 0 1 2 1 2 1 2 1 3 1-1 1 2 1 4 1 5 1 4 1 2 1 3 1 3 2 3 2 5 2 5 2 1 2 1 2 0 2 2 2 0 2 0 1 0"/><path vector-effect="non-scaling-stroke" d="M0 525l2 3 2-3 2-4 2-3 2-2 2-4 2-6 2-8 2-4 2-2 2-2 2-3 2-3 2 0 2-2 2-2 2-2 2-2 2-5 2-6 2-5 2-4 2-5 2-3 2-2 2-2 2-1 2 1 2 3 2 0 2-1 2 1 2 2 2-1 2 1 2 1 2 1 2 0 2 1 2 1 2 1 2 1 2 1 2 1 2 0 2 1 2 0 2 0 2-2 2-6 2-9 2-15 2-22 2-20 2-17 2-15 2-12 1-5 1-5 1-6 1-5 1-3 1-4 1-4 1 9 1 11 1 0 1-10 1-12 1-8 1-3 1 0 1 0 1 0 1 1 1-1 1 1 1-1 1 1 1-1 1 1 1 1 1 2 1 6 1 0 1-3 1-4 1-2 1-3 1 0 1-2 1 0 1-1 1-2 1-2 1 1 1-1 1-3 1 0 1-1 1 0 1 1 1 1 1 0 1 0 1 0 1 1 1 2 1 6 1 9 1 1 1-1 1 0 1 4 1 1 1 3 1 4 1 0 1 3 1 6 1 5 1 6 1 4 1 3 1 2 2 7 2 7 2 6 2 0 2 1 2 1 2 1 2 1 2-1 1 0"/><path vector-effect="non-scaling-stroke" d="M0 554l2 2 2-2 2-3 2-3 2-1 2-2 2-4 2-3 2-2 2-2 2 0 2-3 2-2 2 0 2-2 2-2 2-2 2-2 2-4 2-5 2-4 2-3 2-3 2-2 2-2 2-1 2-1 2 1 2 1 2 0 2 0 2 0 2 1 2 0 2 0 2 1 2 1 2 0 2 0 2 1 2 1 2 1 2 0 2 1 2 0 2 1 2-1 2 0 2-2 2-5 2-7 2-11 2-17 2-20 2-17 2-16 2-13 1-6 1-6 1-5 1-5 1-4 1-3 1-4 1 7 1 9 1 0 1-9 1-10 1-5 1-2 1-2 1 1 1 0 1 1 1 1 1 1 1 0 1 0 1 0 1 1 1 1 1 2 1 5 1 1 1-2 1-3 1-1 1-2 1-1 1 0 1 0 1-1 1-1 1-2 1 1 1-1 1-2 1 0 1-1 1 1 1 1 1 0 1 1 1 0 1-1 1 1 1 1 1 3 1 5 1 2 1-1 1-2 1 2 1 0 1 1 1 3 1-1 1 1 1 3 1 5 1 3 1 2 1 2 1 1 2 3 2 4 2 4 2 1 2 1 2 1 2 0 2 2 2 0 1-1"/><path vector-effect="non-scaling-stroke" d="M0 523l2 3 2-2 2-5 2-3 2-1 2-3 2-7 2-6 2-4 2-3 2 0 2-3 2-3 2-1 2-3 2-3 2-2 2-3 2-6 2-7 2-6 2-5 2-6 2-2 2-4 2-1 2-1 2 1 2 2 2 0 2-1 2 1 2 2 2 0 2 1 2 1 2 1 2 1 2 0 2 1 2 3 2 1 2 1 2 1 2 1 2 2 2 0 2 0 2-3 2-6 2-13 2-20 2-28 2-23 2-19 2-18 2-15 1-5 1-6 1-7 1-5 1-5 1-4 1-5 1 11 1 12 1 1 1-11 1-15 1-9 1-3 1-1 1 2 1 1 1 1 1 0 1 1 1 0 1 1 1 1 1 1 1 0 1 4 1 6 1 1 1-2 1-4 1-2 1-3 1 0 1 0 1 0 1-1 1-4 1-1 1 2 1-1 1-3 1-1 1-2 1 3 1 1 1-1 1 1 1 0 1-1 1 2 1 2 1 3 1 9 1 4 1-3 1-2 1 4 1 0 1 1 1 5 1-1 1 1 1 7 1 6 1 4 1 4 1 2 1 3 2 4 2 7 2 5 2 3 2 1 2 0 2 2 2 0 2 1 1-1"/><path vector-effect="non-scaling-stroke" d="M0 507l2 6 2 2 2-6 2-2 2-4 2-3 2-5 2-5 2-4 2-2 2-1 2-2 2-3 2 0 2-3 2-3 2-2 2-5 2-6 2-9 2-8 2-7 2-6 2-6 2-3 2-3 2-2 2 1 2 1 2 0 2-2 2 1 2 2 2 0 2 0 2 1 2 1 2 1 2 1 2 1 2 2 2 0 2 1 2 0 2 0 2 0 2-1 2-1 2-2 2-7 2-12 2-18 2-27 2-18 2-17 2-15 2-12 1-6 1-4 1-6 1-4 1-5 1-3 1-4 1 11 1 13 1 1 1-11 1-13 1-9 1-3 1 0 1 0 1 2 1 0 1 1 1 1 1 1 1 0 1 0 1 1 1 1 1 2 1 7 1 2 1-4 1-4 1-2 1-2 1-2 1-1 1-1 1-1 1-3 1-2 1-1 1-2 1 0 1-1 1-1 1 1 1 1 1 0 1 1 1 0 1-1 1 1 1 2 1 4 1 5 1 0 1 0 1 0 1 1 1-1 1 2 1-1 1 0 1 0 1 1 1 3 1 4 1 2 1 1 1 2 2-1 2 2 2 2 2-1 2 0 2 0 2 2 2 0 2-1 1 0"/><path vector-effect="non-scaling-stroke" d="M0 522l2 5 2 0 2-2 2-2 2-2 2-2 2-4 2-4 2-2 2-2 2 0 2-2 2-2 2-1 2-3 2-3 2-3 2-4 2-6 2-9 2-7 2-6 2-7 2-4 2-4 2-2 2-1 2 0 2 1 2 0 2-2 2 1 2 2 2-1 2 0 2 1 2 1 2 1 2 0 2 1 2 2 2 1 2 1 2 1 2 1 2 2 2 0 2 0 2-1 2-6 2-9 2-16 2-21 2-21 2-17 2-15 2-13 1-5 1-6 1-5 1-5 1-5 1-3 1-4 1 9 1 12 1 1 1-11 1-12 1-9 1-2 1-1 1 1 1 2 1 0 1 1 1 1 1-1 1 1 1 1 1 0 1 1 1 2 1 6 1 1 1-3 1-3 1-2 1-2 1-1 1-2 1 1 1-1 1-3 1-2 1 2 1-1 1-3 1-1 1-1 1 0 1 2 1 1 1 0 1 0 1 0 1 0 1 3 1 5 1 7 1 3 1-2 1-1 1 4 1 2 1 1 1 4 1-1 1 3 1 5 1 5 1 6 1 3 1 2 1 2 2 6 2 6 2 6 2 2 2 0 2 1 2 1 2 2 2 0 1 0"/><path vector-effect="non-scaling-stroke" d="M0 507l2 3 2-1 2-2 2-4 2-1 2-3 2-5 2-5 2-4 2-3 2 0 2-3 2-3 2-1 2-2 2-3 2-3 2-4 2-6 2-8 2-8 2-7 2-6 2-5 2-5 2-1 2-3 2 2 2 1 2 1 2-1 2 1 2 3 2 0 2 2 2 1 2 2 2 1 2 1 2 1 2 2 2 2 2 1 2 0 2 2 2 2 2-1 2 0 2-2 2-7 2-14 2-22 2-30 2-23 2-18 2-17 2-12 1-6 1-7 1-4 1-6 1-3 1-3 1-5 1 10 1 13 1 1 1-11 1-13 1-9 1-3 1-1 1 1 1 2 1 0 1 1 1 1 1 0 1 0 1 1 1 2 1 0 1 1 1 7 1 1 1-2 1-4 1-3 1-3 1-1 1-2 1 1 1-2 1-3 1-1 1 0 1-1 1-3 1-3 1 1 1 1 1 1 1 0 1 1 1-1 1 0 1 1 1 1 1 5 1 9 1 2 1-3 1-1 1 2 1 2 1-1 1 7 1-2 1 2 1 5 1 5 1 6 1 3 1 2 1 2 2 5 2 6 2 6 2 3 2 0 2 1 2 2 2 2 2 0 1-1"/><path vector-effect="non-scaling-stroke" d="M0 499l2 5 2 2 2-5 2-3 2-3 2-3 2-5 2-6 2-2 2-3 2 0 2-4 2-2 2-1 2-3 2-5 2-4 2-5 2-8 2-11 2-9 2-8 2-8 2-5 2-4 2-4 2-1 2 1 2 1 2 0 2-1 2 1 2 1 2 0 2 0 2 1 2 1 2 0 2 1 2 1 2 1 2 1 2 1 2-1 2 0 2 0 2-2 2-1 2-3 2-10 2-18 2-29 2-29 2-23 2-19 2-16 2-14 1-5 1-5 1-5 1-5 1-5 1-5 1-5 1 14 1 16 1 1 1-14 1-15 1-11 1-5 1 0 1 2 1 2 1 0 1 2 1-1 1 1 1 0 1 0 1 2 1 1 1 3 1 10 1-1 1-5 1-5 1-3 1-1 1-2 1-1 1-1 1-2 1-2 1-2 1-2 1-1 1-1 1 0 1-2 1 2 1 0 1 1 1 0 1 1 1 1 1 1 1 4 1 6 1 5 1 3 1 1 1 1 1 2 1 3 1 2 1 2 1-1 1 3 1 2 1 4 1 6 1 4 1 3 1 0 2 2 2 4 2 4 2-1 2-1 2-2 2 1 2 2 2-3 1-1"/><path vector-effect="non-scaling-stroke" d="M0 508l2 7 2-2 2-5 2-1 2-2 2-4 2-8 2-5 2-4 2-2 2-1 2-4 2-2 2-1 2-2 2-3 2-3 2-3 2-5 2-8 2-7 2-5 2-6 2-4 2-4 2-2 2-1 2 1 2 2 2 0 2 0 2 1 2 3 2-1 2 1 2 2 2 1 2 1 2 1 2 2 2 2 2 2 2 1 2 1 2 1 2 1 2 2 2-1 2-2 2-7 2-13 2-22 2-29 2-22 2-20 2-17 2-14 1-6 1-6 1-6 1-5 1-4 1-4 1-4 1 10 1 13 1 1 1-12 1-13 1-10 1-3 1-1 1 2 1 1 1 0 1 2 1 1 1-1 1 1 1-2 1 3 1 1 1 1 1 8 1 1 1-4 1-4 1-3 1-2 1 0 1-2 1-2 1 1 1-4 1-2 1 1 1 1 1-4 1-2 1-1 1 1 1 1 1 1 1 0 1-1 1 1 1 1 1 2 1 4 1 9 1 3 1-4 1-1 1 4 1 1 1-1 1 6 1-1 1 1 1 6 1 6 1 5 1 4 1 3 1 3 2 4 2 7 2 6 2 3 2 1 2 1 2 1 2 2 2-1 1 0"/><path vector-effect="non-scaling-stroke" d="M0 562l2 0 2 0 2-2 2-1 2-1 2-2 2-2 2-1 2-2 2-1 2-1 2-1 2-1 2 0 2-1 2-1 2-2 2-2 2-2 2-4 2-3 2-3 2-3 2-1 2-2 2-1 2 0 2-1 2 1 2 0 2-1 2 1 2 0 2 0 2 0 2 1 2 0 2 0 2 0 2 1 2 0 2 1 2-1 2 0 2 0 2 0 2-1 2-1 2-1 2-4 2-6 2-8 2-12 2-16 2-15 2-13 2-13 1-5 1-5 1-4 1-4 1-4 1-3 1-3 1 5 1 7 1 0 1-7 1-8 1-5 1-2 1 0 1 0 1 1 1 0 1 0 1 0 1 0 1 1 1 0 1 1 1 0 1 1 1 4 1 1 1-2 1-2 1-1 1-3 1 0 1-1 1 0 1-1 1 0 1-2 1 0 1 0 1-2 1-1 1 0 1 0 1 1 1 1 1-1 1 0 1-1 1 1 1 2 1 2 1 6 1 2 1-2 1 0 1 3 1 0 1 0 1 3 1 1 1 0 1 4 1 4 1 3 1 2 1 2 1 2 2 3 2 5 2 4 2 1 2 1 2 1 2 1 2 1 2 0 1 0"/><path vector-effect="non-scaling-stroke" d="M0 527l2 3 2-1 2-3 2-3 2-1 2-4 2-4 2-6 2-2 2-2 2-1 2-2 2-2 2-2 2-2 2-3 2-3 2-3 2-6 2-7 2-8 2-5 2-6 2-4 2-3 2-2 2-2 2 0 2 1 2 0 2 0 2 0 2 2 2-1 2 1 2 1 2 1 2 0 2 1 2 1 2 3 2 1 2 1 2 1 2 2 2 0 2 2 2 0 2-2 2-6 2-11 2-17 2-24 2-23 2-18 2-15 2-14 1-6 1-6 1-5 1-5 1-5 1-3 1-4 1 9 1 12 1 0 1-10 1-12 1-10 1-2 1-1 1 2 1 1 1 0 1 0 1 1 1 1 1-1 1 0 1 1 1 1 1 3 1 5 1 1 1-3 1-3 1-3 1-1 1-3 1-1 1 0 1-3 1-1 1-3 1 2 1-2 1-4 1 0 1-3 1 3 1-1 1 2 1 0 1-1 1 2 1 0 1 1 1 5 1 8 1 2 1-2 1-2 1 3 1 1 1 0 1 4 1 1 1 0 1 6 1 5 1 5 1 4 1 3 1 2 2 4 2 5 2 6 2 2 2 2 2 2 2 0 2 2 2 0 1-1"/><path vector-effect="non-scaling-stroke" d="M0 540l2 0 2 0 2-2 2-3 2-3 2-3 2-3 2-3 2-2 2-3 2-2 2-2 2-2 2-2 2-1 2-2 2-2 2-3 2-4 2-5 2-6 2-4 2-4 2-2 2-3 2-2 2-1 2 1 2 1 2 0 2 0 2 1 2 1 2 0 2 0 2 1 2 1 2 1 2 1 2 1 2 1 2 2 2 0 2 1 2 1 2 1 2 0 2 0 2-2 2-5 2-8 2-13 2-19 2-21 2-17 2-16 2-13 1-6 1-6 1-5 1-5 1-5 1-3 1-4 1 7 1 11 1 0 1-9 1-11 1-7 1-2 1-1 1 1 1 0 1 1 1 0 1 1 1 0 1 1 1 0 1 1 1 1 1 3 1 3 1 2 1-3 1-1 1-2 1-2 1-2 1 1 1-1 1-1 1-1 1-2 1 1 1 0 1-3 1-1 1 0 1 2 1 0 1 0 1 0 1 0 1-1 1 2 1 1 1 4 1 6 1 2 1-1 1-1 1 1 1 2 1 1 1 3 1-1 1 1 1 5 1 5 1 4 1 2 1 2 1 2 2 3 2 6 2 5 2 1 2 0 2 2 2 0 2 1 2 0 1 0"/><path vector-effect="non-scaling-stroke" d="M0 522l2 4 2-2 2-4 2-2 2-2 2-2 2-5 2-5 2-4 2-1 2-1 2-3 2-2 2-1 2-3 2-3 2-2 2-4 2-6 2-8 2-7 2-6 2-5 2-4 2-4 2-2 2-2 2 1 2 1 2 0 2 0 2 0 2 3 2-1 2 1 2 2 2 1 2 1 2 1 2 1 2 2 2 2 2 1 2 1 2 1 2 1 2 0 2 0 2-1 2-6 2-10 2-16 2-23 2-21 2-18 2-15 2-12 1-7 1-4 1-5 1-6 1-5 1-3 1-5 1 9 1 12 1 0 1-10 1-12 1-9 1-3 1-2 1 2 1 0 1 1 1 0 1 0 1 0 1 0 1 0 1 0 1 2 1 1 1 6 1 2 1-3 1-4 1-2 1-1 1-2 1-2 1 1 1 0 1-2 1-3 1 2 1-1 1-4 1 0 1 0 1 1 1 0 1 1 1 1 1-1 1 1 1 1 1 2 1 4 1 7 1 3 1-3 1-1 1 3 1 0 1 2 1 3 1 0 1 1 1 6 1 4 1 6 1 2 1 3 1 2 2 3 2 5 2 6 2 2 2 1 2 0 2 1 2 1 2-2 1 0"/><path vector-effect="non-scaling-stroke" d="M0 563l2 2 2 0 2-2 2 0 2 0 2-1 2-2 2-2 2 0 2-1 2 1 2-1 2-2 2 0 2-1 2-1 2-1 2-2 2-2 2-3 2-3 2-2 2-2 2-1 2-2 2-1 2 0 2 0 2 1 2-1 2 0 2 0 2 0 2 0 2 0 2 0 2 0 2 0 2 0 2 0 2 0 2 0 2 0 2 0 2 0 2 0 2-1 2-1 2-1 2-1 2-3 2-5 2-7 2-9 2-9 2-9 2-9 1-4 1-3 1-3 1-4 1-3 1-2 1-3 1 4 1 4 1 0 1-5 1-5 1-4 1-2 1-1 1 1 1 0 1 0 1 0 1 1 1-1 1 0 1 0 1 0 1 1 1 0 1 3 1 1 1-2 1-2 1-1 1 0 1-2 1 0 1 0 1-1 1-1 1 0 1 0 1-1 1-1 1-1 1 1 1 0 1 1 1 0 1 0 1 0 1 0 1 1 1 1 1 2 1 4 1 1 1 0 1-1 1 2 1 0 1 1 1 2 1 0 1 1 1 3 1 2 1 3 1 1 1 2 1 1 2 2 2 3 2 3 2 1 2-1 2 1 2 1 2 0 2 1 1-1"/><path vector-effect="non-scaling-stroke" d="M0 512l2 6 2-3 2-4 2-3 2-2 2-3 2-5 2-5 2-4 2-2 2 0 2-3 2-3 2-1 2-2 2-2 2-3 2-4 2-6 2-8 2-7 2-5 2-6 2-4 2-4 2-2 2-1 2 1 2 2 2 0 2-1 2 0 2 1 2-1 2 0 2 0 2 1 2 0 2 0 2 0 2 2 2 0 2 0 2 0 2 0 2-1 2-1 2-1 2-3 2-6 2-10 2-17 2-24 2-18 2-17 2-14 2-13 1-4 1-6 1-4 1-6 1-4 1-4 1-4 1 11 1 12 1 1 1-11 1-14 1-10 1-3 1 0 1 0 1 2 1 1 1 0 1-1 1 1 1 0 1 0 1 2 1 1 1 2 1 7 1 1 1-3 1-4 1-2 1-3 1-1 1 0 1-2 1-1 1-2 1-2 1 2 1-1 1-4 1 0 1-2 1 1 1 1 1 2 1-1 1-1 1 2 1 0 1 1 1 5 1 8 1 2 1-2 1-2 1 3 1 1 1 1 1 4 1 0 1 1 1 6 1 6 1 5 1 4 1 2 1 2 2 4 2 7 2 7 2 3 2 1 2 2 2 1 2 2 2 0 1-1"/><path vector-effect="non-scaling-stroke" d="M0 558l2 0 2 0 2-1 2-3 2-1 2-1 2-3 2-1 2-2 2-1 2 0 2-1 2-2 2-1 2-1 2-1 2-2 2-2 2-3 2-4 2-3 2-3 2-3 2-1 2-2 2-1 2-1 2 0 2 0 2 1 2-1 2 0 2 1 2 0 2 0 2 1 2 0 2 0 2 0 2 1 2 1 2 1 2 0 2 0 2 0 2 0 2-1 2-1 2-2 2-5 2-8 2-12 2-18 2-21 2-17 2-16 2-14 1-6 1-6 1-6 1-4 1-4 1-4 1-3 1 7 1 7 1 2 1-9 1-10 1-6 1-2 1-1 1 1 1 1 1 1 1 0 1 0 1 0 1 0 1 0 1 0 1 1 1 2 1 4 1 1 1-3 1-2 1-2 1-2 1-1 1 0 1-1 1-1 1-1 1-2 1 1 1 0 1-3 1-1 1-1 1 1 1 0 1 2 1-1 1 0 1 0 1 1 1 1 1 3 1 5 1 2 1-2 1-1 1 2 1 0 1 1 1 3 1 0 1 1 1 3 1 5 1 4 1 1 1 3 1 1 2 3 2 5 2 4 2 2 2 0 2 1 2 1 2 1 2 1 1-1"/><path vector-effect="non-scaling-stroke" d="M0 536l2 4 2-3 2-4 2-1 2-2 2-2 2-3 2-5 2-2 2-1 2-2 2-3 2-2 2-1 2-2 2-3 2-3 2-3 2-4 2-7 2-6 2-4 2-5 2-3 2-2 2-2 2 0 2 0 2 1 2 1 2-1 2 1 2 2 2-1 2 0 2 1 2 1 2 0 2 0 2 1 2 2 2 1 2 1 2 0 2 1 2 1 2 0 2 0 2-1 2-5 2-8 2-14 2-18 2-21 2-16 2-15 2-14 1-5 1-5 1-5 1-4 1-5 1-3 1-4 1 8 1 10 1 1 1-9 1-10 1-8 1-2 1-1 1 1 1 2 1 0 1 1 1 1 1-1 1 0 1 0 1 1 1 2 1 2 1 4 1 1 1-3 1-2 1-2 1-2 1-2 1-1 1 0 1-1 1-2 1-2 1 0 1 0 1-3 1-2 1 0 1 0 1 1 1 0 1-1 1 0 1 0 1 0 1 4 1 3 1 8 1 2 1-1 1 0 1 3 1 3 1 1 1 4 1 2 1 1 1 6 1 5 1 5 1 5 1 3 1 2 2 5 2 7 2 6 2 2 2 1 2 0 2 2 2 1 2 0 1-1"/><path vector-effect="non-scaling-stroke" d="M0 519l2 5 2-3 2-4 2-2 2-1 2-2 2-6 2-6 2-4 2-2 2-1 2-3 2-3 2-1 2-3 2-2 2-3 2-2 2-5 2-7 2-7 2-4 2-5 2-3 2-2 2-3 2 0 2 1 2 2 2 0 2-1 2 1 2 1 2 0 2 0 2 1 2 1 2 0 2 0 2 1 2 2 2 1 2 0 2 1 2 0 2 0 2 0 2 0 2-2 2-4 2-9 2-13 2-19 2-19 2-16 2-14 2-12 1-6 1-4 1-6 1-5 1-4 1-3 1-5 1 9 1 12 1 0 1-11 1-11 1-8 1-4 1-1 1 1 1 1 1 1 1 1 1 0 1 0 1-1 1 1 1 2 1 0 1 2 1 7 1 0 1-3 1-3 1-2 1-2 1-1 1-1 1 0 1-2 1-1 1-1 1 0 1-1 1-3 1-1 1 0 1 1 1 1 1 0 1 0 1 0 1 0 1 0 1 3 1 4 1 7 1 3 1-2 1-1 1 3 1 0 1 1 1 4 1 0 1 1 1 6 1 5 1 6 1 2 1 4 1 1 2 5 2 6 2 7 2 2 2 0 2 2 2 2 2 1 2 0 1 0"/><path vector-effect="non-scaling-stroke" d="M0 558l2 1 2-1 2-3 2-2 2 0 2-3 2-3 2-3 2-1 2-2 2 0 2-1 2-2 2-1 2-1 2-2 2-2 2-2 2-3 2-4 2-4 2-3 2-3 2-2 2-2 2-1 2-1 2 1 2 1 2 0 2 0 2 0 2 1 2 0 2 0 2 1 2 0 2 1 2 0 2 1 2 1 2 0 2 1 2 0 2 0 2 1 2-1 2-1 2-1 2-4 2-8 2-11 2-16 2-19 2-17 2-15 2-13 1-6 1-6 1-5 1-5 1-3 1-4 1-4 1 6 1 8 1 0 1-8 1-9 1-7 1-2 1-1 1 1 1 0 1 1 1 0 1 0 1 0 1 0 1 0 1 1 1 1 1 1 1 5 1 0 1-1 1-3 1-2 1-2 1 0 1-2 1 0 1-1 1-1 1-2 1 2 1-1 1-2 1-1 1-1 1 0 1 1 1 1 1-1 1 1 1 0 1 0 1 2 1 2 1 5 1 2 1-2 1-1 1 2 1 0 1 1 1 3 1-1 1 0 1 5 1 3 1 4 1 2 1 1 1 1 2 3 2 4 2 4 2 1 2 1 2 0 2 2 2 0 2 0 1 0"/><path vector-effect="non-scaling-stroke" d="M0 561l2 1 2 0 2-2 2-1 2-1 2-1 2-3 2-2 2-2 2-1 2 0 2-1 2-2 2 0 2-1 2-2 2-1 2-2 2-3 2-4 2-3 2-3 2-3 2-2 2-1 2-1 2-1 2 0 2 1 2 0 2 0 2 0 2 0 2 0 2 1 2 0 2 0 2 1 2 0 2 0 2 1 2 0 2 0 2 0 2 0 2 0 2 0 2-1 2-1 2-3 2-4 2-8 2-10 2-12 2-13 2-12 2-11 1-5 1-4 1-5 1-4 1-3 1-3 1-4 1 5 1 6 1 0 1-6 1-7 1-5 1-3 1 0 1 0 1 0 1 1 1 0 1 1 1-1 1 1 1 0 1 0 1 1 1 1 1 4 1 0 1-2 1-1 1-2 1-2 1 0 1 0 1-1 1 0 1-1 1-1 1 0 1 0 1-2 1 0 1-1 1 1 1 1 1 0 1 0 1 0 1 1 1 0 1 1 1 2 1 5 1 1 1-1 1-1 1 2 1 1 1 0 1 2 1 0 1 0 1 4 1 3 1 3 1 0 1 3 1 1 2 2 2 3 2 3 2 2 2 0 2 1 2 0 2 1 2 0 1 0"/><path vector-effect="non-scaling-stroke" d="M0 554l2 2 2-1 2-3 2-2 2-2 2-1 2-3 2-2 2-2 2-1 2-1 2-2 2-2 2 0 2-1 2-2 2-2 2-2 2-3 2-5 2-4 2-3 2-3 2-2 2-2 2-1 2-1 2 0 2 1 2 0 2 0 2-1 2 1 2 0 2 0 2 0 2 1 2 0 2 0 2 0 2 1 2 0 2 0 2 0 2 0 2-1 2 0 2 0 2 0 2 0 2 0 2-1 2-1 2 0 2-1 2-1 2-2 1 0 1-2 1-1 1 0 1-1 1-1 1-1 1 2 1 4 1 0 1-2 1-4 1-3 1 0 1-1 1 1 1 0 1 0 1 0 1 1 1 0 1 0 1 0 1 0 1 1 1 1 1 2 1 0 1-1 1-1 1-1 1 0 1-1 1 0 1 0 1 0 1-1 1 0 1 0 1-1 1 0 1 0 1 0 1 0 1 1 1-1 1 0 1 0 1 0 1 1 1 0 1 1 1 1 1 1 1-1 1 0 1 0 1 1 1 0 1 0 1-1 1 1 1 0 1 1 1 0 1 1 1 1 1 0 2 0 2 0 2 0 2 0 2 0 2-1 2 0 2 1 2-1 1 0"/><path vector-effect="non-scaling-stroke" d="M0 539l2 2 2-1 2-3 2-2 2-3 2-2 2-4 2-4 2-2 2-1 2-1 2-2 2-3 2 0 2-2 2-3 2-3 2-2 2-5 2-6 2-6 2-5 2-5 2-3 2-3 2-2 2-1 2 1 2 0 2 1 2-1 2 1 2 1 2 0 2 0 2 2 2 0 2 1 2 0 2 1 2 1 2 1 2 0 2 1 2 0 2 1 2 0 2-1 2-1 2-5 2-8 2-13 2-20 2-20 2-16 2-15 2-13 1-6 1-4 1-6 1-4 1-5 1-3 1-5 1 9 1 8 1 1 1-9 1-10 1-10 1-1 1-2 1 1 1 0 1 1 1 0 1 0 1 0 1 0 1 0 1 0 1 1 1 1 1 5 1 2 1-4 1-2 1-2 1-2 1-1 1-1 1 0 1-1 1-1 1-2 1 0 1 0 1-1 1-2 1 0 1 0 1 1 1 1 1 1 1 0 1 1 1 0 1 2 1 3 1 7 1 3 1-3 1-2 1 3 1 0 1 1 1 3 1-1 1 1 1 5 1 4 1 3 1 3 1 2 1 2 2 2 2 4 2 6 2 1 2 0 2 1 2 1 2 1 2 0 1-1"/><path vector-effect="non-scaling-stroke" d="M0 516l2 5 2-1 2-2 2-4 2-3 2-1 2-5 2-4 2-3 2-2 2-1 2-3 2-3 2-1 2-2 2-2 2-4 2-3 2-5 2-7 2-7 2-5 2-6 2-3 2-3 2-2 2-2 2 2 2 1 2 0 2-1 2 1 2 1 2-1 2 1 2 0 2 1 2 0 2 0 2 1 2 1 2 0 2 0 2 0 2-1 2 0 2-1 2-2 2-3 2-6 2-11 2-16 2-24 2-20 2-17 2-16 2-13 1-5 1-6 1-5 1-4 1-6 1-3 1-5 1 11 1 12 1 1 1-12 1-12 1-9 1-2 1-1 1 1 1 1 1 2 1 1 1 1 1 0 1-1 1 2 1 1 1 1 1 3 1 7 1 1 1-3 1-3 1-3 1-2 1-1 1-1 1 0 1-2 1-2 1-1 1-1 1 0 1-3 1-1 1-1 1 2 1 0 1 0 1 1 1 0 1 0 1 1 1 2 1 5 1 8 1 3 1-1 1-2 1 4 1 2 1 2 1 4 1 0 1 1 1 6 1 7 1 6 1 4 1 2 1 3 2 5 2 7 2 6 2 2 2 0 2 1 2 3 2 0 2-1 1 0"/><path vector-effect="non-scaling-stroke" d="M0 563l2 1 2 0 2-1 2-1 2-1 2-1 2-1 2-3 2-1 2 0 2 0 2-2 2-1 2 0 2-1 2-2 2-1 2-2 2-2 2-3 2-3 2-2 2-2 2-1 2-1 2-1 2-1 2 1 2 0 2 0 2-1 2 0 2 1 2 0 2 0 2 0 2 0 2 0 2 0 2 0 2 1 2 0 2 0 2 0 2-1 2 0 2-1 2 0 2-1 2-2 2-3 2-5 2-6 2-8 2-9 2-9 2-9 1-3 1-4 1-3 1-3 1-3 1-2 1-3 1 4 1 4 1 1 1-5 1-5 1-4 1-2 1 0 1 0 1 1 1 0 1 1 1-1 1 1 1 1 1-1 1 1 1 0 1 1 1 3 1 1 1-2 1-2 1 0 1-1 1-1 1-1 1 0 1 0 1-1 1-2 1 1 1-1 1-1 1 0 1-1 1 0 1 1 1-1 1 1 1-1 1 0 1 0 1 1 1 1 1 4 1 1 1-2 1 0 1 1 1 0 1 0 1 2 1-1 1 1 1 2 1 3 1 2 1 1 1 1 1 1 2 1 2 3 2 3 2 1 2 1 2 0 2 1 2 1 2 0 1 0"/><path vector-effect="non-scaling-stroke" d="M0 557l2 2 2-2 2-3 2-1 2 0 2-3 2-3 2-3 2-1 2-2 2 0 2-2 2-2 2-1 2-2 2-2 2-2 2-2 2-4 2-5 2-4 2-4 2-3 2-3 2-2 2-1 2-1 2 1 2 0 2 0 2 0 2 1 2 1 2 0 2 0 2 1 2 1 2 0 2 1 2 0 2 1 2 1 2 1 2 0 2 1 2 0 2-1 2 0 2-2 2-5 2-7 2-12 2-18 2-21 2-17 2-16 2-14 1-5 1-6 1-5 1-6 1-4 1-4 1-3 1 7 1 8 1 0 1-7 1-11 1-6 1-3 1 0 1 1 1 1 1 0 1 1 1-1 1 0 1 0 1 1 1 0 1 2 1 2 1 4 1 1 1-2 1-3 1-1 1-2 1-2 1 0 1 0 1-1 1-1 1-2 1 2 1-2 1-2 1-1 1 0 1 0 1 0 1 1 1 0 1-1 1 0 1 1 1 1 1 3 1 7 1 0 1-2 1-1 1 2 1 0 1 0 1 3 1 0 1 0 1 4 1 4 1 4 1 2 1 2 1 1 2 3 2 4 2 4 2 2 2 0 2 1 2 1 2 2 2-1 1-1"/><path vector-effect="non-scaling-stroke" d="M0 537l2 3 2-3 2-1 2-1 2-1 2-3 2-4 2-3 2-2 2-2 2-1 2-1 2-3 2 0 2-2 2-2 2-3 2-3 2-4 2-6 2-6 2-5 2-4 2-3 2-3 2-2 2 0 2 0 2 1 2 1 2-1 2 1 2 1 2 0 2 1 2 0 2 1 2 1 2 0 2 0 2 2 2 1 2 0 2 1 2 0 2 1 2 0 2 0 2-1 2-4 2-8 2-11 2-16 2-19 2-15 2-14 2-13 1-5 1-5 1-6 1-4 1-4 1-3 1-5 1 8 1 9 1 1 1-9 1-11 1-6 1-3 1 0 1 0 1 1 1 0 1 1 1 0 1 0 1 0 1 0 1 1 1 0 1 2 1 6 1 0 1-3 1-3 1-1 1-2 1-1 1 0 1-2 1 0 1-1 1-2 1 1 1 0 1-3 1 0 1-1 1 0 1 1 1 1 1 1 1-1 1 0 1 1 1 3 1 3 1 8 1 2 1-1 1-1 1 3 1 2 1 2 1 4 1 0 1 1 1 5 1 5 1 5 1 3 1 3 1 2 2 4 2 7 2 4 2 2 2 1 2 1 2 1 2 1 2 0 1 0"/><path vector-effect="non-scaling-stroke" d="M0 559l2 1 2-1 2-2 2-1 2-2 2-2 2-2 2-3 2-2 2-1 2-1 2-1 2-1 2-1 2-2 2-1 2-1 2-1 2-3 2-4 2-3 2-2 2-3 2-2 2-1 2-1 2 0 2 0 2 1 2 0 2 0 2 0 2 1 2 0 2 0 2 0 2 1 2 0 2 0 2 0 2 1 2 0 2 0 2 0 2 0 2 0 2-1 2-1 2-1 2-4 2-5 2-8 2-12 2-14 2-13 2-13 2-12 1-5 1-5 1-4 1-5 1-3 1-3 1-4 1 5 1 7 1 0 1-7 1-8 1-5 1-2 1 0 1 0 1 0 1 1 1 1 1 0 1 1 1-1 1 0 1 1 1 2 1 1 1 4 1 1 1-3 1-1 1-2 1-1 1-1 1 0 1 0 1-1 1-1 1-1 1 1 1-1 1-2 1-1 1 1 1 0 1 0 1 1 1 0 1-1 1 0 1 1 1 1 1 2 1 5 1 0 1-1 1-1 1 2 1-1 1 1 1 3 1-1 1 0 1 3 1 4 1 3 1 2 1 1 1 1 2 2 2 4 2 3 2 1 2 1 2 0 2 1 2 2 2-1 1 1"/><path vector-effect="non-scaling-stroke" d="M0 554l2 2 2 0 2-3 2-2 2-1 2-3 2-3 2-3 2-2 2-2 2 0 2-3 2-2 2-1 2-2 2-2 2-2 2-3 2-4 2-5 2-4 2-4 2-3 2-3 2-2 2-1 2-1 2 1 2 1 2 0 2 0 2 0 2 1 2 0 2 0 2 1 2 0 2 1 2 0 2 1 2 0 2 1 2 1 2 0 2 0 2 1 2 0 2-1 2-1 2-5 2-7 2-11 2-16 2-20 2-15 2-15 2-13 1-6 1-5 1-5 1-5 1-4 1-3 1-4 1 6 1 9 1 0 1-8 1-10 1-6 1-3 1-2 1 2 1 0 1 1 1 0 1 0 1 1 1-1 1 0 1 0 1 2 1 1 1 5 1 1 1-3 1-3 1-1 1-3 1 0 1-1 1-1 1-1 1-1 1-1 1-1 1-1 1-1 1 0 1 0 1 0 1 0 1 0 1 1 1 0 1 0 1 0 1 3 1 2 1 3 1 0 1 0 1 1 1 0 1 0 1 1 1 0 1 0 1 0 1 1 1 2 1 2 1 2 1 3 1-1 2 0 2 2 2 1 2-1 2-1 2-1 2 1 2 1 2-1 1-1"/><path vector-effect="non-scaling-stroke" d="M0 545l2 2 2 0 2-3 2-2 2-1 2-3 2-4 2-5 2-2 2-2 2-1 2-3 2-2 2 0 2-2 2-3 2-2 2-2 2-5 2-6 2-5 2-4 2-5 2-3 2-2 2-2 2-1 2 0 2 1 2 0 2 0 2 0 2 1 2 0 2 0 2 1 2 0 2 0 2 1 2 0 2 1 2 1 2 1 2 0 2 0 2 0 2 0 2-1 2-1 2-4 2-6 2-11 2-15 2-18 2-13 2-14 2-12 1-6 1-5 1-5 1-5 1-3 1-4 1-4 1 7 1 9 1 0 1-8 1-11 1-6 1-2 1-2 1 1 1 0 1 1 1-1 1 1 1-1 1 1 1 1 1 0 1 1 1 1 1 5 1 2 1-3 1-3 1-2 1-2 1-1 1-2 1 1 1-1 1-2 1-1 1 1 1-1 1-2 1-2 1 1 1 0 1 1 1 1 1 0 1 0 1 0 1 1 1 1 1 3 1 7 1 1 1-2 1-1 1 3 1 0 1 0 1 4 1 0 1 0 1 5 1 4 1 4 1 2 1 2 1 1 2 3 2 5 2 5 2 1 2 1 2 1 2 1 2 1 2-1 1-1"/><path vector-effect="non-scaling-stroke" d="M0 536l2 3 2-2 2-2 2-2 2-3 2-3 2-4 2-2 2-4 2-1 2-1 2-2 2-2 2-2 2-1 2-2 2-2 2-3 2-4 2-6 2-5 2-4 2-5 2-3 2-2 2-2 2-1 2 0 2 1 2 0 2 0 2 0 2 1 2 0 2 0 2 1 2 1 2 0 2 1 2 1 2 1 2 2 2 0 2 1 2 1 2 1 2 0 2 1 2-2 2-4 2-8 2-13 2-18 2-20 2-16 2-15 2-13 1-6 1-5 1-5 1-5 1-4 1-4 1-4 1 9 1 10 1-1 1-8 1-11 1-7 1-2 1-2 1 1 1 1 1 1 1 1 1 0 1 0 1 0 1 0 1 1 1 2 1 1 1 5 1 1 1-3 1-2 1-2 1-2 1-2 1 0 1-1 1 0 1-2 1-1 1 1 1-1 1-3 1-1 1 0 1 0 1 2 1 0 1 0 1 0 1 0 1 1 1 1 1 4 1 6 1 2 1-2 1 0 1 2 1 1 1 0 1 3 1 0 1 0 1 5 1 5 1 3 1 3 1 1 1 3 2 3 2 5 2 4 2 2 2 1 2 1 2 1 2 1 2 0 1-1"/><path vector-effect="non-scaling-stroke" d="M0 498l2 5 2-3 2-4 2-1 2-3 2-3 2-7 2-6 2-4 2-1 2 0 2-3 2-3 2 0 2-3 2-3 2-3 2-4 2-6 2-9 2-9 2-5 2-6 2-5 2-4 2-3 2-1 2 1 2 2 2 0 2 0 2 0 2 3 2-1 2 1 2 2 2 1 2 0 2 1 2 1 2 2 2 1 2 2 2 0 2 1 2 1 2 0 2-1 2-3 2-8 2-16 2-24 2-29 2-22 2-19 2-16 2-14 1-5 1-6 1-7 1-5 1-3 1-5 1-5 1 11 1 14 1 1 1-12 1-15 1-11 1-3 1-1 1 1 1 2 1 0 1 1 1 0 1 0 1 0 1 1 1 1 1 0 1 3 1 7 1 3 1-5 1-4 1-2 1-3 1-1 1-1 1-1 1-3 1-1 1-1 1 0 1 0 1-6 1-1 1 1 1 1 1 1 1 0 1-1 1 1 1 1 1 1 1 2 1 4 1 10 1 2 1-2 1-3 1 4 1 3 1-2 1 7 1-1 1 1 1 6 1 6 1 7 1 3 1 4 1 2 2 5 2 7 2 7 2 3 2-1 2 3 2 2 2 2 2 0 1 0"/><path vector-effect="non-scaling-stroke" d="M0 533l2 4 2-2 2-4 2-2 2-2 2-1 2-4 2-5 2-4 2-2 2 0 2-2 2-2 2-1 2-2 2-2 2-4 2-3 2-5 2-7 2-6 2-6 2-4 2-3 2-4 2-2 2-1 2 0 2 1 2 1 2-2 2 1 2 1 2 0 2 0 2 1 2 1 2 0 2 0 2 1 2 1 2 0 2 1 2 0 2 0 2 0 2 0 2 0 2-2 2-5 2-9 2-14 2-20 2-21 2-14 2-16 2-13 1-6 1-5 1-5 1-5 1-5 1-3 1-4 1 9 1 10 1 0 1-9 1-12 1-9 1-3 1-1 1 1 1 2 1-1 1 1 1 0 1 1 1 0 1 0 1 0 1 2 1 2 1 6 1 0 1-3 1-2 1-2 1-3 1-1 1-1 1-1 1-1 1-2 1-2 1-1 1 0 1-2 1-2 1-1 1 1 1 1 1 0 1 0 1 1 1 0 1 0 1 2 1 3 1 7 1 2 1-1 1-1 1 3 1 1 1 1 1 4 1-1 1 1 1 6 1 5 1 4 1 4 1 2 1 2 2 4 2 6 2 5 2 3 2 0 2 2 2 1 2 1 2 0 1 0"/><path vector-effect="non-scaling-stroke" d="M0 520l2 2 2 0 2-3 2-3 2-3 2-3 2-5 2-5 2-4 2-2 2-1 2-2 2-3 2-2 2-1 2-3 2-3 2-3 2-5 2-7 2-7 2-6 2-5 2-3 2-3 2-2 2-1 2 1 2 2 2 0 2 0 2 1 2 2 2-1 2 1 2 1 2 2 2 0 2 0 2 1 2 2 2 2 2 1 2 1 2 0 2 2 2 0 2 0 2-3 2-6 2-12 2-19 2-26 2-23 2-18 2-16 2-15 1-5 1-6 1-4 1-7 1-3 1-3 1-4 1 10 1 12 1 1 1-10 1-14 1-9 1-2 1-1 1 1 1 1 1 1 1 1 1 0 1 0 1 0 1 1 1 0 1 1 1 3 1 6 1 1 1-4 1-4 1-2 1-2 1-2 1-1 1-2 1-1 1-3 1-2 1 1 1 0 1-5 1-1 1-1 1 0 1 1 1 1 1 0 1-1 1 1 1 0 1 2 1 4 1 10 1 3 1-2 1-1 1 3 1 3 1 1 1 5 1 1 1 1 1 8 1 5 1 6 1 4 1 2 1 3 2 6 2 7 2 6 2 2 2 1 2 1 2 1 2 2 2 0 1-1"/><path vector-effect="non-scaling-stroke" d="M0 525l2 5 2-2 2-7 2-2 2-1 2-3 2-6 2-5 2-3 2-2 2 0 2-4 2-3 2-1 2-2 2-3 2-4 2-2 2-6 2-8 2-7 2-6 2-6 2-3 2-4 2-2 2-2 2 1 2 2 2 0 2 0 2 0 2 3 2-1 2 1 2 1 2 1 2 1 2 0 2 1 2 2 2 2 2 0 2 1 2 1 2 1 2 0 2 0 2-2 2-7 2-11 2-19 2-26 2-21 2-19 2-16 2-14 1-5 1-7 1-5 1-5 1-4 1-3 1-5 1 10 1 12 1 1 1-9 1-13 1-9 1-2 1-1 1 3 1 1 1-1 1 3 1 0 1 2 1-1 1 1 1 1 1 1 1 3 1 5 1 2 1-4 1-2 1-4 1-2 1-1 1 0 1-2 1-1 1-2 1-2 1 0 1-1 1-3 1-1 1-2 1 2 1 1 1 0 1-1 1 0 1 0 1 0 1 2 1 4 1 7 1 2 1-2 1-1 1 2 1 1 1 1 1 4 1 0 1 1 1 5 1 4 1 7 1 2 1 3 1 2 2 4 2 6 2 6 2 3 2 1 2 2 2 1 2 2 2 0 1 0"/><path vector-effect="non-scaling-stroke" d="M0 506l2 8 2-2 2-2 2-2 2-1 2-3 2-4 2-5 2-2 2-1 2 0 2-2 2-3 2 0 2-2 2-4 2-3 2-4 2-8 2-8 2-9 2-6 2-6 2-5 2-4 2-3 2-1 2 0 2 2 2 0 2-2 2 1 2 0 2 0 2 0 2 1 2 0 2 1 2 0 2 0 2 1 2 1 2 0 2 0 2-1 2 0 2-2 2-1 2-2 2-8 2-12 2-19 2-26 2-20 2-17 2-17 2-11 1-6 1-5 1-7 1-4 1-4 1-4 1-5 1 11 1 14 1 1 1-11 1-14 1-9 1-3 1-1 1 3 1 1 1 1 1 1 1 1 1-1 1 2 1 0 1 2 1 2 1 2 1 8 1 1 1-4 1-3 1-3 1-2 1-1 1 0 1-1 1-2 1-2 1-2 1 2 1-1 1-3 1-2 1-1 1 2 1 0 1 0 1 1 1 0 1-1 1 2 1 1 1 3 1 9 1 3 1-3 1-3 1 4 1 0 1 0 1 5 1-1 1 1 1 5 1 6 1 5 1 3 1 4 1 2 2 4 2 6 2 6 2 2 2 0 2 2 2 2 2 1 2 1 1-1"/><path vector-effect="non-scaling-stroke" d="M0 513l2 3 2-2 2-2 2-2 2-2 2-2 2-5 2-6 2-3 2-2 2 1 2-3 2-3 2 0 2-2 2-2 2-4 2-3 2-6 2-8 2-7 2-5 2-6 2-4 2-4 2-3 2 0 2 0 2 2 2 0 2-1 2 1 2 2 2 0 2 1 2 1 2 1 2 1 2 1 2 0 2 2 2 2 2 2 2 0 2 1 2 2 2 1 2-1 2-2 2-6 2-11 2-18 2-26 2-21 2-18 2-17 2-13 1-7 1-5 1-6 1-5 1-5 1-4 1-4 1 10 1 12 1 0 1-11 1-13 1-9 1-3 1 0 1 0 1 2 1 0 1 1 1 1 1 0 1 1 1-1 1 3 1 1 1 3 1 5 1 1 1-2 1-3 1-2 1-2 1-2 1-1 1 0 1-1 1-2 1-3 1 2 1-1 1-4 1-1 1 0 1 1 1 0 1 0 1 0 1 0 1 0 1 1 1 2 1 4 1 7 1 2 1-2 1-2 1 3 1 0 1 0 1 4 1 1 1 0 1 6 1 5 1 6 1 3 1 1 1 2 2 4 2 7 2 6 2 2 2 0 2 2 2 2 2 1 2-1 1 0"/><path vector-effect="non-scaling-stroke" d="M0 509l2 2 2 0 2-1 2-3 2-2 2-2 2-6 2-7 2-3 2 0 2-1 2-3 2-3 2 0 2-3 2-3 2-3 2-4 2-6 2-8 2-8 2-6 2-7 2-4 2-4 2-3 2-1 2 1 2 0 2 1 2-1 2 1 2 2 2 0 2 1 2 1 2 1 2 0 2 1 2 1 2 2 2 2 2 1 2 1 2 1 2 1 2 0 2 0 2-3 2-7 2-14 2-22 2-30 2-21 2-19 2-17 2-13 1-7 1-5 1-5 1-6 1-4 1-3 1-6 1 11 1 13 1 1 1-12 1-14 1-10 1-3 1-1 1 1 1 2 1 0 1 1 1 1 1 0 1 0 1 0 1 2 1 2 1 2 1 7 1 0 1-2 1-4 1-4 1-2 1-1 1-1 1-1 1-1 1-1 1-3 1 1 1-1 1-3 1-2 1 0 1 0 1 2 1-1 1 2 1-2 1 1 1 0 1 4 1 2 1 9 1 2 1-3 1-3 1 3 1 0 1 1 1 5 1-1 1 0 1 7 1 5 1 5 1 4 1 3 1 1 2 4 2 6 2 8 2 0 2 3 2 1 2 1 2 2 2 0 1 0"/><path vector-effect="non-scaling-stroke" d="M0 495l2 6 2-1 2-5 2-2 2-2 2-3 2-5 2-7 2-3 2-2 2 1 2-3 2-3 2-1 2-3 2-4 2-4 2-5 2-8 2-11 2-9 2-7 2-9 2-6 2-4 2-4 2-2 2 2 2 1 2 0 2-2 2 1 2 2 2-1 2 1 2 0 2 2 2-1 2 1 2 1 2 1 2 1 2 0 2 0 2 0 2 0 2-1 2-1 2-3 2-10 2-21 2-31 2-30 2-24 2-19 2-15 2-14 1-4 1-8 1-4 1-7 1-3 1-6 1-5 1 14 1 16 1 0 1-13 1-17 1-12 1-3 1-2 1 2 1 1 1 1 1-1 1 2 1-1 1 1 1 0 1 0 1 2 1 4 1 7 1 2 1-3 1-6 1-3 1-3 1 0 1-3 1-1 1 0 1-2 1-3 1-1 1-3 1 0 1-2 1 0 1 2 1 0 1 1 1-1 1 1 1-1 1 3 1 3 1 6 1 3 1 2 1 0 1 0 1 2 1 1 1 3 1 0 1 0 1 0 1 3 1 3 1 5 1 4 1 2 1 2 2 0 2 5 2 0 2 0 2-1 2-1 2 3 2 1 2-1 1 1"/><path vector-effect="non-scaling-stroke" d="M0 523l2 3 2-2 2-3 2-3 2-2 2-2 2-6 2-4 2-2 2-1 2 0 2-3 2-3 2 0 2-3 2-3 2-4 2-3 2-6 2-8 2-7 2-6 2-5 2-4 2-3 2-3 2-1 2 0 2 2 2-1 2 0 2 0 2 2 2-1 2 1 2 0 2 1 2 1 2 0 2 1 2 2 2 1 2 1 2 1 2 1 2 0 2 0 2-1 2-1 2-6 2-11 2-16 2-25 2-21 2-17 2-15 2-14 1-5 1-5 1-6 1-5 1-4 1-4 1-4 1 8 1 13 1 1 1-11 1-12 1-8 1-3 1-1 1 1 1 1 1 0 1 1 1 0 1 1 1-1 1 1 1 0 1 1 1 3 1 4 1 2 1-3 1-3 1-3 1-2 1-2 1 0 1 0 1-1 1-3 1-2 1 1 1 0 1-3 1-2 1 0 1 1 1 1 1 2 1 0 1 0 1-1 1 1 1 3 1 4 1 8 1 3 1-1 1-2 1 4 1 0 1 1 1 4 1 1 1 2 1 5 1 5 1 5 1 4 1 2 1 3 2 3 2 6 2 6 2 2 2 0 2 0 2 1 2 1 2 0 1-1"/><path vector-effect="non-scaling-stroke" d="M0 525l2 3 2-2 2-5 2-2 2 0 2-2 2-7 2-6 2-2 2-3 2 0 2-3 2-3 2 0 2-2 2-3 2-2 2-3 2-6 2-6 2-6 2-5 2-6 2-4 2-3 2-1 2-1 2 1 2 0 2 1 2-1 2 0 2 2 2-1 2 1 2 0 2 0 2 1 2 0 2 0 2 2 2 0 2 0 2 0 2 0 2 0 2 0 2-1 2-2 2-6 2-8 2-14 2-21 2-20 2-15 2-14 2-12 1-5 1-6 1-5 1-4 1-4 1-4 1-2 1 8 1 12 1 1 1-11 1-11 1-9 1-2 1-2 1 3 1 1 1 0 1 1 1-1 1 1 1 0 1-1 1 2 1 1 1 3 1 5 1 0 1-2 1-4 1-2 1-2 1-1 1-2 1-1 1 0 1-3 1-1 1 0 1 0 1-3 1-2 1-1 1 1 1 2 1-1 1 0 1 0 1 0 1 1 1 3 1 4 1 8 1 3 1-1 1-2 1 5 1 1 1 2 1 4 1 1 1 1 1 6 1 6 1 5 1 5 1 1 1 3 2 5 2 7 2 5 2 3 2 1 2 1 2 0 2 2 2-1 1 0"/><path vector-effect="non-scaling-stroke" d="M0 504l2 4 2-3 2-3 2-2 2-2 2-1 2-5 2-5 2-2 2-2 2-1 2-2 2-3 2-1 2-4 2-3 2-5 2-6 2-8 2-11 2-10 2-8 2-8 2-6 2-5 2-4 2-1 2 0 2 2 2 0 2-1 2 2 2 1 2-1 2 0 2 1 2 2 2 1 2-1 2 1 2 1 2 2 2 0 2 0 2 0 2 0 2-1 2-1 2-3 2-11 2-18 2-28 2-29 2-25 2-17 2-17 2-13 1-5 1-6 1-5 1-4 1-4 1-5 1-4 1 13 1 15 1 1 1-12 1-17 1-9 1-3 1-2 1 1 1 4 1 1 1 0 1 1 1 1 1-1 1 1 1 2 1 1 1 3 1 8 1 1 1-5 1-3 1-3 1-3 1-3 1 1 1-1 1-1 1-3 1-1 1-4 1-1 1-2 1-1 1 0 1 0 1 0 1 1 1 1 1-1 1 0 1 1 1 3 1 4 1 6 1 1 1-1 1 0 1 2 1 1 1 2 1-1 1-2 1 3 1-1 1 5 1 4 1 3 1 3 1 0 2 0 2 2 2 1 2-1 2-2 2-1 2 1 2 1 2-2 1-1"/><path vector-effect="non-scaling-stroke" d="M0 519l2 2 2 2 2-3 2-3 2-3 2-3 2-4 2-5 2-3 2-2 2-1 2-3 2-2 2-2 2-1 2-3 2-3 2-3 2-5 2-7 2-7 2-6 2-4 2-4 2-4 2-2 2-1 2 1 2 1 2 0 2 0 2 0 2 3 2-1 2 1 2 1 2 1 2 1 2 0 2 1 2 1 2 2 2 1 2 1 2 1 2 1 2 1 2 0 2-2 2-6 2-9 2-16 2-24 2-20 2-17 2-16 2-14 1-6 1-5 1-6 1-5 1-4 1-3 1-6 1 10 1 11 1 2 1-11 1-12 1-9 1-2 1 0 1-1 1 3 1 0 1 1 1 2 1-1 1 2 1-1 1 1 1 2 1 3 1 7 1-1 1-2 1-4 1-2 1 0 1-3 1 0 1 0 1-1 1-1 1-2 1 2 1-2 1-3 1-2 1 0 1 0 1 1 1 1 1 0 1-1 1 1 1 0 1 2 1 3 1 8 1 1 1-2 1-2 1 3 1-1 1 1 1 3 1 0 1 0 1 5 1 5 1 5 1 3 1 1 1 2 2 3 2 7 2 5 2 2 2 0 2 1 2 2 2 0 2 1 1-2"/><path vector-effect="non-scaling-stroke" d="M0 535l2 0 2 2 2-2 2-1 2-4 2-1 2-4 2-3 2-3 2-1 2-1 2-2 2-2 2-1 2-2 2-3 2-2 2-3 2-5 2-6 2-6 2-5 2-4 2-3 2-3 2-1 2-1 2 1 2 1 2 0 2 0 2 0 2 2 2-1 2 1 2 1 2 0 2 1 2 1 2 0 2 2 2 1 2 1 2 1 2 1 2 0 2 1 2 0 2-2 2-4 2-8 2-12 2-19 2-19 2-16 2-15 2-12 1-7 1-5 1-4 1-5 1-4 1-3 1-5 1 8 1 9 1 1 1-9 1-11 1-9 1-1 1-1 1 0 1 1 1 1 1 0 1 0 1 0 1 0 1 1 1 0 1 1 1 2 1 5 1 1 1-3 1-3 1-1 1-3 1-1 1-1 1 0 1-1 1-1 1-2 1 0 1 0 1-2 1-2 1-1 1 2 1 0 1 1 1 0 1 1 1-1 1 1 1 1 1 2 1 6 1 2 1-2 1-1 1 2 1 0 1 0 1 3 1-1 1 1 1 3 1 5 1 4 1 1 1 3 1 1 2 3 2 5 2 6 2 1 2 1 2 2 2 2 2 2 2 1 1-1"/><path vector-effect="non-scaling-stroke" d="M0 511l2 3 2-2 2-4 2-4 2-3 2-3 2-5 2-4 2-4 2-2 2-1 2-2 2-2 2-1 2-2 2-2 2-3 2-4 2-5 2-9 2-7 2-6 2-6 2-5 2-4 2-2 2-1 2 0 2 1 2 0 2 0 2 0 2 2 2 0 2 0 2 1 2 2 2 0 2 1 2 1 2 2 2 1 2 2 2 0 2 0 2 1 2-1 2 0 2-3 2-6 2-13 2-21 2-27 2-21 2-18 2-15 2-13 1-7 1-5 1-6 1-6 1-3 1-3 1-7 1 11 1 13 1 1 1-11 1-15 1-9 1-3 1-1 1 1 1 2 1 1 1 1 1 1 1-1 1 1 1 0 1 1 1 3 1 2 1 6 1 2 1-4 1-4 1-1 1-4 1 0 1-2 1 0 1-2 1-1 1-3 1 1 1-1 1-5 1-1 1 0 1 1 1 1 1 1 1-2 1 1 1-1 1 2 1 1 1 6 1 9 1 2 1 0 1-2 1 3 1 2 1 0 1 6 1-1 1 2 1 8 1 5 1 6 1 4 1 3 1 2 2 6 2 7 2 7 2 2 2 1 2 1 2 1 2 1 2 0 1 0"/><path vector-effect="non-scaling-stroke" d="M0 509l2 4 2-1 2-4 2-4 2-3 2-4 2-5 2-3 2-4 2-3 2-2 2-2 2-1 2-3 2-2 2-2 2-4 2-4 2-6 2-8 2-9 2-6 2-6 2-4 2-3 2-4 2-1 2 1 2 1 2 1 2-1 2 1 2 1 2 0 2 0 2 1 2 1 2 0 2 0 2 1 2 1 2 1 2 1 2 0 2 0 2-1 2-1 2 0 2-3 2-7 2-12 2-19 2-26 2-19 2-17 2-15 2-13 1-4 1-6 1-6 1-4 1-5 1-4 1-4 1 10 1 14 1 2 1-13 1-14 1-10 1-3 1-1 1 1 1 1 1 1 1 0 1 1 1-1 1 1 1-1 1 2 1 1 1 2 1 7 1 1 1-4 1-2 1-4 1-3 1-2 1 0 1 0 1-2 1-1 1-3 1 0 1 0 1-5 1 0 1 0 1 1 1 1 1 1 1 0 1 1 1 0 1 1 1 1 1 5 1 8 1 3 1-2 1-2 1 2 1 1 1 1 1 5 1-1 1 0 1 6 1 6 1 5 1 3 1 3 1 4 2 3 2 7 2 6 2 3 2 2 2 1 2 1 2 2 2 0 1 0"/><path vector-effect="non-scaling-stroke" d="M0 510l2 5 2-2 2-3 2-2 2-2 2-5 2-4 2-7 2-3 2-1 2-1 2-3 2-3 2-1 2-2 2-3 2-2 2-3 2-6 2-8 2-7 2-5 2-6 2-4 2-4 2-3 2-1 2 0 2 2 2 0 2-1 2 0 2 3 2-2 2 2 2 0 2 2 2 1 2 0 2 1 2 3 2 2 2 1 2 1 2 2 2 1 2 0 2 1 2-2 2-7 2-13 2-20 2-29 2-21 2-19 2-17 2-14 1-6 1-6 1-5 1-6 1-4 1-4 1-4 1 11 1 12 1 2 1-12 1-14 1-9 1-2 1-2 1 2 1 1 1 0 1 2 1 2 1-1 1 0 1 1 1 1 1 0 1 3 1 8 1 1 1-4 1-3 1-3 1-3 1 0 1-2 1-1 1-1 1-1 1-2 1 0 1 0 1-3 1-3 1 0 1 2 1 0 1 2 1 0 1-1 1 0 1 1 1 3 1 4 1 9 1 4 1-3 1-2 1 4 1 2 1 1 1 4 1-1 1 2 1 7 1 6 1 4 1 5 1 3 1 3 2 4 2 7 2 7 2 2 2 1 2 1 2 1 2 2 2 0 1-1"/><path vector-effect="non-scaling-stroke" d="M0 533l2 4 2-1 2-5 2 0 2 0 2-2 2-5 2-4 2-2 2-3 2 0 2-1 2-2 2-1 2-2 2-3 2-3 2-3 2-5 2-8 2-6 2-5 2-5 2-4 2-3 2-2 2-2 2 2 2 0 2 1 2-1 2 1 2 2 2 0 2 0 2 1 2 1 2 1 2 0 2 1 2 2 2 1 2 1 2 0 2 1 2 2 2 0 2 0 2-1 2-5 2-9 2-13 2-20 2-20 2-17 2-15 2-13 1-5 1-6 1-5 1-5 1-4 1-4 1-4 1 8 1 10 1 0 1-9 1-11 1-8 1-3 1-1 1 1 1 0 1 1 1 1 1 0 1 0 1 0 1 0 1 0 1 2 1 2 1 5 1 1 1-3 1-3 1-2 1-2 1-1 1-1 1-1 1-1 1-1 1-2 1 2 1 0 1-3 1-1 1 0 1 1 1 1 1 0 1 1 1 0 1 0 1 1 1 1 1 3 1 8 1 1 1 0 1-4 1 4 1 1 1 0 1 3 1-1 1 1 1 5 1 5 1 3 1 3 1 2 1 1 2 3 2 5 2 5 2 1 2 0 2 1 2 0 2 1 2 0 1-1"/><path vector-effect="non-scaling-stroke" d="M0 534l2 4 2-1 2-4 2-3 2-1 2-2 2-4 2-5 2-3 2-1 2 0 2-2 2-2 2-1 2-2 2-2 2-3 2-4 2-4 2-7 2-6 2-5 2-5 2-3 2-4 2-2 2-1 2 1 2 1 2-1 2-1 2 2 2 1 2-1 2 1 2 1 2 1 2 0 2 1 2 1 2 1 2 1 2 1 2 1 2 0 2 2 2 0 2 0 2-2 2-5 2-9 2-15 2-22 2-21 2-18 2-15 2-14 1-6 1-5 1-6 1-5 1-5 1-4 1-4 1 9 1 9 1 1 1-10 1-11 1-9 1-3 1-1 1 1 1 1 1 0 1 1 1 0 1-1 1 1 1 0 1 2 1-1 1 2 1 7 1 0 1-3 1-2 1-3 1-2 1-1 1-2 1 1 1-1 1-2 1-3 1 3 1-1 1-4 1 0 1 0 1 2 1-1 1 1 1 1 1-2 1 2 1 1 1 1 1 4 1 7 1 2 1-2 1-2 1 4 1 0 1 0 1 4 1-1 1 1 1 5 1 5 1 4 1 2 1 3 1 2 2 3 2 5 2 5 2 2 2 0 2 2 2 0 2 2 2 0 1-1"/><path vector-effect="non-scaling-stroke" d="M0 524l2 4 2 0 2-5 2-1 2-1 2-3 2-3 2-5 2-3 2-2 2 1 2-2 2-4 2 0 2-2 2-3 2-3 2-4 2-5 2-8 2-7 2-6 2-6 2-4 2-4 2-2 2-2 2 1 2 0 2 1 2-1 2 0 2 2 2 0 2 0 2 1 2 1 2 1 2 1 2 1 2 2 2 1 2 1 2 1 2 1 2 2 2 0 2 0 2-1 2-5 2-9 2-15 2-21 2-20 2-17 2-14 2-13 1-5 1-6 1-5 1-5 1-4 1-5 1-3 1 9 1 12 1 0 1-10 1-11 1-10 1-2 1 0 1 1 1 1 1 1 1 0 1 1 1 0 1 0 1 0 1 1 1 2 1 2 1 5 1 2 1-4 1-3 1-2 1-2 1-1 1-1 1 1 1-2 1-2 1-2 1 2 1-1 1-3 1-2 1 1 1 0 1 1 1 1 1 0 1 1 1-1 1 1 1 1 1 4 1 7 1 1 1-2 1-1 1 2 1 1 1 0 1 4 1-1 1 0 1 5 1 4 1 5 1 2 1 2 1 3 2 2 2 5 2 4 2 1 2 1 2 0 2 1 2 2 2 0 1-2"/><path vector-effect="non-scaling-stroke" d="M0 561l2 2 2-1 2-1 2-1 2-1 2-1 2-3 2-2 2-1 2-1 2 0 2-1 2-1 2-1 2-1 2-1 2-1 2-2 2-2 2-3 2-3 2-2 2-2 2-2 2-1 2-1 2-1 2 1 2 0 2 0 2-1 2 0 2 1 2 0 2-1 2 0 2 1 2 0 2 0 2 0 2 1 2 0 2 0 2 0 2 0 2 0 2-1 2 0 2-2 2-2 2-5 2-6 2-9 2-12 2-12 2-11 2-10 1-5 1-4 1-4 1-4 1-4 1-2 1-3 1 5 1 5 1 0 1-6 1-6 1-5 1-1 1-2 1 1 1 1 1 0 1 0 1 1 1-1 1 0 1 0 1 0 1 1 1 1 1 3 1 1 1-2 1-2 1-1 1-1 1-1 1-1 1 0 1-1 1-1 1-1 1 1 1 0 1-2 1-1 1 0 1 1 1 0 1 1 1 0 1 0 1 0 1 0 1 1 1 2 1 4 1 2 1-2 1 0 1 1 1 0 1 0 1 3 1 0 1-1 1 4 1 2 1 3 1 1 1 2 1 0 2 2 2 3 2 3 2 1 2 1 2 0 2 1 2 0 2 1 1-1"/><path vector-effect="non-scaling-stroke" d="M0 510l2 2 2 1 2-4 2-2 2-2 2-4 2-5 2-5 2-2 2-2 2-1 2-2 2-3 2-2 2-3 2-4 2-4 2-5 2-8 2-10 2-10 2-8 2-8 2-4 2-5 2-3 2-2 2 1 2 2 2 1 2-2 2 1 2 3 2-1 2 0 2 3 2 0 2 1 2 0 2 2 2 2 2 1 2 2 2 1 2 1 2 2 2 1 2 0 2-3 2-9 2-17 2-26 2-32 2-23 2-19 2-17 2-15 1-5 1-6 1-6 1-5 1-5 1-4 1-4 1 11 1 14 1 2 1-13 1-13 1-12 1-2 1-1 1 1 1 1 1 2 1 0 1 2 1-1 1 1 1 0 1 1 1 2 1 1 1 7 1 2 1-4 1-4 1-4 1-2 1-2 1-1 1-1 1-1 1-3 1-2 1-3 1-1 1-3 1-2 1 1 1 1 1 0 1 1 1-2 1 2 1-1 1 0 1 3 1 5 1 5 1 3 1-1 1 1 1 2 1 1 1 1 1 0 1 1 1 1 1 1 1 2 1 6 1 4 1 3 1 1 2-1 2 4 2 3 2-1 2-1 2-2 2 1 2 1 2-1 1 0"/><path vector-effect="non-scaling-stroke" d="M0 517l2 2 2 1 2-2 2-3 2-4 2-4 2-4 2-5 2-4 2-2 2-2 2-3 2-2 2-2 2-1 2-3 2-2 2-3 2-5 2-7 2-7 2-4 2-5 2-4 2-3 2-2 2-1 2 1 2 2 2-1 2 0 2 0 2 2 2 0 2 0 2 1 2 1 2 0 2 1 2 2 2 1 2 1 2 1 2 1 2 0 2 1 2 0 2 0 2-3 2-4 2-10 2-15 2-22 2-21 2-16 2-15 2-13 1-5 1-6 1-5 1-5 1-4 1-3 1-5 1 9 1 12 1 0 1-11 1-11 1-9 1-3 1-1 1 0 1 2 1 1 1 0 1 0 1 0 1 0 1-1 1 2 1 1 1 2 1 6 1 1 1-3 1-4 1-3 1-2 1-2 1 0 1-2 1-1 1-2 1-2 1 1 1-1 1-4 1-1 1 0 1 0 1 1 1 2 1-1 1 0 1 0 1 2 1 1 1 4 1 8 1 4 1-3 1-1 1 2 1 2 1 1 1 4 1-1 1 1 1 6 1 5 1 4 1 4 1 2 1 2 2 5 2 6 2 5 2 2 2 1 2 1 2 1 2 1 2 1 1 0"/><path vector-effect="non-scaling-stroke" d="M0 525l2 4 2-1 2-4 2-2 2-1 2-3 2-4 2-5 2-3 2-1 2 0 2-2 2-3 2 0 2-3 2-3 2-2 2-4 2-6 2-8 2-7 2-5 2-6 2-4 2-3 2-3 2-1 2 0 2 1 2 0 2-1 2 0 2 1 2-1 2 0 2 1 2 1 2 0 2 1 2 0 2 1 2 2 2 0 2 0 2 0 2 1 2-1 2-1 2-1 2-6 2-9 2-14 2-21 2-19 2-15 2-15 2-13 1-4 1-5 1-5 1-4 1-5 1-3 1-5 1 10 1 11 1 1 1-10 1-11 1-8 1-3 1-1 1 1 1 0 1 2 1 1 1 1 1 0 1 0 1 0 1 1 1 1 1 2 1 4 1 3 1-3 1-4 1-2 1-2 1-1 1-1 1-1 1-2 1-2 1-1 1-1 1 0 1-4 1 0 1-2 1 1 1 0 1 2 1-2 1 1 1-1 1 1 1 2 1 3 1 7 1 4 1-3 1-2 1 2 1 1 1 1 1 4 1-1 1 0 1 7 1 4 1 5 1 3 1 2 1 2 2 3 2 6 2 6 2 2 2 1 2 1 2 2 2 1 2 0 1 1"/><path vector-effect="non-scaling-stroke" d="M0 513l2-2 2-3 2 1 2-2 2-3 2-4 2-5 2-4 2-4 2-3 2-1 2-3 2-2 2-1 2-3 2-2 2-2 2-4 2-5 2-8 2-7 2-5 2-5 2-4 2-3 2-3 2-1 2 2 2 1 2 0 2 0 2 0 2 2 2 0 2 1 2 1 2 1 2 1 2 1 2 1 2 2 2 1 2 1 2 1 2 1 2 2 2 0 2 0 2-2 2-6 2-12 2-18 2-26 2-21 2-18 2-16 2-14 1-5 1-6 1-5 1-6 1-4 1-5 1-3 1 9 1 12 1 1 1-11 1-13 1-10 1-2 1-2 1 1 1 0 1 1 1 1 1 1 1 0 1 0 1 0 1 1 1 1 1 2 1 6 1 3 1-4 1-4 1-2 1-2 1-1 1 0 1-2 1-1 1-1 1-1 1 0 1-1 1-3 1-1 1 0 1 1 1 1 1 1 1 0 1 0 1 1 1 1 1 1 1 5 1 9 1 3 1-1 1-3 1 5 1 1 1 2 1 4 1-1 1 1 1 8 1 5 1 6 1 3 1 4 1 2 2 4 2 6 2 6 2 3 2 0 2 0 2 2 2 2 2-1 1-1"/><path vector-effect="non-scaling-stroke" d="M0 548l2 1 2-1 2-3 2 0 2-1 2-2 2-5 2-1 2-3 2-1 2 0 2-2 2-2 2-1 2-2 2-2 2-3 2-3 2-4 2-6 2-5 2-5 2-5 2-3 2-2 2-2 2-1 2 1 2 1 2 0 2 0 2 0 2 2 2 0 2 0 2 1 2 0 2 1 2 0 2 1 2 1 2 1 2 1 2 1 2 0 2 2 2-1 2 0 2-1 2-3 2-8 2-10 2-16 2-19 2-15 2-15 2-13 1-6 1-6 1-4 1-6 1-3 1-5 1-3 1 6 1 8 1 0 1-8 1-10 1-7 1-2 1-1 1 0 1 0 1 1 1 1 1 0 1 1 1-1 1 1 1 1 1 1 1 1 1 6 1 0 1-2 1-3 1-1 1-1 1-1 1-1 1 0 1-1 1-1 1-2 1 0 1 0 1-1 1-1 1-1 1 0 1 2 1 0 1 1 1 0 1-1 1 1 1 1 1 3 1 6 1 2 1-3 1-1 1 3 1 0 1 0 1 4 1-1 1 0 1 5 1 4 1 3 1 3 1 1 1 1 2 3 2 4 2 5 2 1 2 1 2 0 2 0 2 1 2 0 1 0"/><path vector-effect="non-scaling-stroke" d="M0 537l2 3 2 0 2-3 2-2 2-1 2-1 2-4 2-5 2-1 2 0 2-1 2-2 2-2 2 0 2-3 2-2 2-3 2-3 2-5 2-6 2-6 2-4 2-5 2-4 2-3 2-2 2-1 2 1 2 1 2-1 2 0 2 0 2 2 2 0 2 0 2 1 2 0 2 1 2 1 2 1 2 1 2 1 2 1 2 1 2 1 2 1 2 1 2 0 2-2 2-5 2-8 2-13 2-19 2-22 2-16 2-15 2-13 1-7 1-5 1-5 1-5 1-4 1-4 1-4 1 7 1 10 1 0 1-9 1-11 1-7 1-2 1-1 1 0 1 2 1-1 1 1 1 0 1 0 1 0 1-1 1 1 1 1 1 2 1 5 1 1 1-3 1-4 1-2 1-2 1-1 1-1 1 0 1-1 1-2 1-3 1 2 1-1 1-3 1-2 1 1 1-1 1 1 1 1 1 0 1 0 1 1 1 1 1 1 1 3 1 7 1 1 1-1 1-2 1 3 1 0 1 1 1 4 1-1 1 1 1 5 1 4 1 5 1 2 1 2 1 2 2 3 2 6 2 4 2 3 2 1 2-1 2 2 2 2 2-1 1 0"/><path vector-effect="non-scaling-stroke" d="M0 505l2 4 2 0 2-7 2-2 2-3 2-4 2-4 2-7 2-4 2-1 2-3 2-4 2-2 2-1 2-1 2-3 2-3 2-3 2-5 2-7 2-8 2-4 2-6 2-4 2-3 2-2 2-1 2 0 2 2 2 0 2-1 2 0 2 0 2 0 2 0 2 0 2 1 2 0 2 0 2 1 2 2 2 0 2 1 2-1 2 0 2 0 2-1 2-2 2-2 2-8 2-13 2-22 2-27 2-21 2-18 2-14 2-13 1-7 1-5 1-5 1-6 1-4 1-4 1-5 1 13 1 13 1 0 1-12 1-14 1-11 1-1 1-3 1 2 1 2 1 1 1 0 1 1 1 1 1 0 1 0 1 2 1 1 1 2 1 8 1 1 1-4 1-4 1-2 1-3 1-1 1-1 1 0 1-1 1-2 1-2 1 1 1-1 1-4 1-1 1 0 1 0 1 2 1 1 1 0 1 0 1 1 1 0 1 2 1 3 1 9 1 3 1-3 1-2 1 3 1 2 1 1 1 5 1-2 1 1 1 7 1 5 1 5 1 5 1 2 1 4 2 3 2 8 2 7 2 2 2 2 2 1 2 2 2 2 2-1 1 0"/><path vector-effect="non-scaling-stroke" d="M0 544l2 0 2 0 2-3 2 0 2 0 2-4 2-4 2-4 2-2 2-1 2-1 2-1 2-2 2-1 2-2 2-2 2-3 2-3 2-4 2-6 2-6 2-5 2-5 2-3 2-3 2-1 2-2 2 1 2 1 2 0 2 0 2 1 2 1 2 0 2 0 2 1 2 1 2 0 2 1 2 1 2 1 2 1 2 0 2 1 2 1 2 0 2 0 2 0 2-2 2-4 2-9 2-13 2-19 2-20 2-17 2-15 2-13 1-5 1-7 1-5 1-5 1-4 1-3 1-5 1 8 1 9 1 1 1-9 1-12 1-7 1-3 1-1 1 1 1 1 1 1 1 0 1 0 1 0 1 0 1 0 1 1 1 1 1 2 1 5 1 1 1-5 1-2 1-1 1-3 1-1 1 0 1-1 1-1 1-1 1-2 1 1 1-1 1-3 1-1 1-1 1 1 1 1 1 1 1-1 1 1 1-1 1 0 1 2 1 3 1 7 1 2 1-1 1-3 1 2 1 1 1 0 1 4 1-1 1 0 1 5 1 5 1 4 1 2 1 2 1 2 2 3 2 5 2 5 2 2 2 1 2 2 2 1 2 2 2 0 1 0"/><path vector-effect="non-scaling-stroke" d="M0 541l2 2 2-3 2-2 2-1 2-3 2-3 2-4 2-4 2-2 2-2 2-1 2-3 2-1 2-1 2-2 2-3 2-2 2-3 2-4 2-6 2-5 2-4 2-4 2-3 2-2 2-2 2-1 2 1 2 1 2 0 2-1 2 1 2 1 2 0 2 0 2 1 2 1 2 0 2 1 2 1 2 2 2 1 2 1 2 1 2 1 2 0 2 1 2 0 2-1 2-4 2-8 2-11 2-17 2-19 2-15 2-14 2-12 1-7 1-5 1-4 1-5 1-5 1-3 1-3 1 6 1 10 1 0 1-8 1-11 1-7 1-2 1-1 1 0 1 2 1 0 1 1 1 1 1 0 1-1 1 1 1 0 1 1 1 2 1 5 1 1 1-3 1-3 1-1 1-2 1-1 1-1 1-1 1 0 1-2 1-2 1 1 1 0 1-3 1-1 1 0 1 0 1 1 1 1 1 0 1 0 1 0 1 0 1 2 1 4 1 6 1 1 1-1 1 0 1 1 1 1 1 2 1 3 1 0 1 0 1 5 1 3 1 4 1 3 1 2 1 1 2 3 2 6 2 5 2 1 2 0 2 1 2 1 2 3 2-1 1 0"/><path vector-effect="non-scaling-stroke" d="M0 510l2 5 2 0 2-4 2-2 2-1 2-2 2-5 2-5 2-2 2-2 2 0 2-2 2-4 2 0 2-3 2-4 2-4 2-3 2-8 2-9 2-8 2-7 2-7 2-5 2-5 2-3 2-1 2 0 2 1 2 0 2-1 2 1 2 2 2 0 2 1 2 1 2 2 2 0 2 2 2 1 2 2 2 2 2 1 2 2 2 1 2 2 2 1 2 0 2-2 2-7 2-14 2-21 2-30 2-22 2-18 2-18 2-13 1-6 1-6 1-6 1-5 1-4 1-4 1-5 1 11 1 13 1 1 1-12 1-15 1-9 1-3 1-1 1 1 1 1 1 1 1 0 1 1 1 0 1 0 1 0 1 1 1 2 1 2 1 6 1 3 1-3 1-6 1-2 1-3 1-1 1 0 1-2 1-1 1-2 1-2 1 1 1-1 1-5 1-1 1 0 1 1 1 1 1 0 1 0 1 0 1-1 1 2 1 3 1 4 1 11 1 2 1-3 1 0 1 2 1 3 1 0 1 5 1 1 1 2 1 6 1 6 1 7 1 4 1 2 1 4 2 4 2 7 2 7 2 3 2 0 2 2 2 1 2 2 2 0 1 0"/><path vector-effect="non-scaling-stroke" d="M0 504l2 3 2-2 2-5 2-2 2-2 2-3 2-8 2-6 2-5 2-3 2-1 2-3 2-4 2-1 2-2 2-3 2-4 2-3 2-6 2-9 2-8 2-6 2-6 2-4 2-4 2-3 2-1 2 1 2 2 2 0 2-1 2 2 2 3 2-2 2 1 2 2 2 1 2 2 2 0 2 2 2 1 2 3 2 1 2 2 2 1 2 2 2 1 2 0 2-3 2-9 2-17 2-28 2-32 2-25 2-20 2-17 2-14 1-7 1-5 1-6 1-3 1-6 1-4 1-4 1 11 1 15 1 2 1-13 1-16 1-10 1-2 1-2 1 1 1 3 1 0 1 0 1 1 1 0 1-1 1 2 1 1 1 1 1 3 1 7 1 1 1-4 1-5 1-2 1-3 1-2 1-1 1 0 1-2 1-3 1-2 1-1 1-2 1-1 1-2 1 0 1 1 1 0 1 1 1 0 1-1 1-1 1 3 1 3 1 4 1 4 1 0 1 0 1 1 1 0 1 1 1 1 1 0 1-1 1 0 1 1 1 4 1 4 1 3 1 2 1 0 2 0 2 2 2 1 2 0 2-2 2-1 2 1 2 1 2-1 1 0"/><path vector-effect="non-scaling-stroke" d="M0 562l2 1 2 0 2-1 2-2 2-2 2 0 2-2 2-3 2-2 2 0 2-1 2-1 2-2 2-1 2-1 2-1 2-2 2-1 2-3 2-3 2-4 2-2 2-2 2-2 2-1 2-1 2-1 2 1 2 0 2 1 2 0 2 0 2 0 2 0 2 0 2 1 2 0 2 0 2 1 2 0 2 1 2 0 2 0 2 0 2 0 2 0 2-1 2-1 2-1 2-4 2-5 2-7 2-10 2-14 2-13 2-13 2-11 1-5 1-5 1-4 1-4 1-4 1-3 1-4 1 6 1 5 1 1 1-7 1-6 1-6 1-2 1 0 1 0 1 1 1 0 1 1 1 0 1 0 1 0 1 0 1 1 1 1 1 1 1 4 1 0 1-2 1-2 1-1 1-1 1-1 1 0 1-1 1-1 1-1 1-1 1 1 1-1 1-2 1 0 1 0 1 0 1 0 1 1 1 0 1 0 1 0 1 1 1 2 1 1 1 6 1 1 1 0 1-1 1 2 1 1 1 1 1 2 1 0 1 2 1 3 1 3 1 3 1 2 1 2 1 2 2 2 2 4 2 3 2 1 2 0 2 1 2 0 2 1 2 0 1 0"/><path vector-effect="non-scaling-stroke" d="M0 536l2 2 2 0 2-2 2-2 2-2 2-3 2-4 2-5 2-3 2-1 2-1 2-3 2-2 2-1 2-1 2-3 2-2 2-2 2-4 2-6 2-5 2-4 2-3 2-3 2-2 2-2 2 0 2 0 2 1 2 0 2-2 2 1 2 1 2-1 2 0 2 0 2 1 2 0 2 0 2 1 2 1 2 0 2 0 2 0 2 0 2 0 2-1 2-1 2-1 2-5 2-7 2-11 2-16 2-18 2-14 2-14 2-11 1-5 1-6 1-4 1-4 1-3 1-5 1-4 1 7 1 9 1 1 1-9 1-11 1-7 1-3 1-1 1 1 1 1 1 0 1 0 1 0 1 0 1-1 1 0 1 2 1 0 1 2 1 4 1 1 1-3 1-3 1-2 1-2 1 0 1-2 1 0 1-1 1-2 1-2 1 1 1 1 1-3 1-2 1 1 1 0 1 1 1 1 1-1 1 1 1-1 1 1 1 2 1 3 1 7 1 2 1-1 1-2 1 3 1 1 1 1 1 3 1-1 1 1 1 4 1 5 1 4 1 3 1 1 1 2 2 3 2 4 2 5 2 3 2-1 2 1 2 2 2 0 2 1 1-1"/><path vector-effect="non-scaling-stroke" d="M0 567l2 0 2 0 2-2 2-1 2 0 2-1 2-2 2-3 2-1 2-2 2 1 2-2 2-1 2-1 2-1 2-1 2-1 2-1 2-2 2-2 2-2 2-2 2-2 2-1 2-1 2-1 2 0 2 0 2 1 2 0 2-1 2 0 2 1 2 0 2-1 2 1 2 0 2 0 2 0 2 0 2 0 2 1 2-1 2 0 2-1 2 0 2 0 2-2 2-1 2-2 2-4 2-6 2-8 2-10 2-11 2-10 2-10 1-4 1-4 1-5 1-2 1-4 1-2 1-3 1 4 1 5 1-1 1-4 1-6 1-5 1-2 1 0 1 0 1 0 1 0 1 1 1 0 1 0 1 0 1 0 1 0 1 1 1 1 1 3 1 1 1-2 1-1 1-1 1-1 1-1 1 0 1-1 1 0 1-1 1-1 1 0 1 0 1-2 1-1 1 0 1 0 1 0 1 1 1 0 1 0 1-1 1 1 1 1 1 1 1 5 1 1 1-1 1-1 1 2 1 0 1 1 1 2 1 0 1 0 1 3 1 3 1 3 1 1 1 1 1 2 2 2 2 3 2 3 2 1 2 0 2 0 2 1 2 1 2 0 1 0"/><path vector-effect="non-scaling-stroke" d="M0 563l2 1 2 0 2-2 2-1 2 0 2-2 2-2 2-2 2-1 2-1 2 0 2-2 2-1 2-1 2-1 2-1 2-1 2-2 2-2 2-3 2-3 2-2 2-3 2-1 2-2 2 0 2-1 2 1 2 0 2 0 2 0 2 0 2 0 2 0 2 0 2 1 2 0 2 0 2 0 2 0 2 1 2 0 2 0 2 0 2-1 2 0 2-1 2-1 2-1 2-3 2-5 2-6 2-10 2-12 2-13 2-12 2-11 1-4 1-5 1-5 1-3 1-4 1-2 1-4 1 4 1 7 1 0 1-6 1-8 1-5 1-1 1-1 1 0 1 1 1 0 1 0 1 1 1 0 1 0 1-1 1 1 1 1 1 2 1 2 1 1 1-2 1-2 1-1 1-1 1-1 1 0 1-1 1 0 1-1 1-1 1 0 1 0 1-2 1-1 1 0 1 0 1 1 1 1 1-1 1 1 1 0 1 0 1 0 1 3 1 4 1 1 1-1 1-1 1 2 1 0 1 1 1 2 1 0 1 0 1 3 1 3 1 3 1 1 1 2 1 1 2 2 2 4 2 2 2 1 2 1 2 1 2 0 2 1 2 0 1 0"/><path vector-effect="non-scaling-stroke" d="M0 522l2 1 2-2 2-3 2-2 2-3 2-2 2-5 2-6 2-3 2-4 2 0 2-4 2-3 2-1 2-1 2-2 2-3 2-3 2-6 2-7 2-6 2-5 2-7 2-2 2-4 2-1 2-1 2 1 2 1 2 1 2 0 2 1 2 2 2 0 2 0 2 2 2 1 2 0 2 1 2 1 2 1 2 2 2 1 2 1 2 1 2 1 2 0 2 0 2-2 2-7 2-12 2-20 2-27 2-23 2-18 2-17 2-15 1-6 1-5 1-6 1-4 1-6 1-4 1-4 1 10 1 12 1 1 1-11 1-13 1-10 1-2 1-1 1 1 1 1 1 1 1 0 1 2 1-1 1 1 1-1 1 3 1 1 1 1 1 7 1 1 1-3 1-4 1-2 1-3 1-2 1 0 1-1 1-1 1-1 1-3 1 0 1 1 1-4 1-2 1 1 1 1 1 0 1 0 1 1 1 1 1 0 1 1 1 2 1 4 1 11 1 2 1-1 1-1 1 4 1 2 1 2 1 5 1 0 1 3 1 6 1 6 1 6 1 4 1 2 1 3 2 5 2 8 2 6 2 2 2 1 2 1 2 1 2 1 2 0 1 0"/><path vector-effect="non-scaling-stroke" d="M0 532l2 5 2-3 2-2 2-1 2-3 2-2 2-4 2-4 2-3 2-1 2 0 2-2 2-2 2-1 2-2 2-3 2-3 2-4 2-6 2-7 2-7 2-5 2-5 2-4 2-3 2-2 2-1 2 0 2 1 2 0 2-1 2 0 2 1 2-1 2 0 2 1 2 0 2 0 2 0 2 0 2 1 2 0 2 0 2 0 2 0 2-1 2-1 2-1 2-2 2-5 2-9 2-13 2-19 2-20 2-16 2-13 2-13 1-4 1-5 1-6 1-5 1-4 1-3 1-4 1 9 1 11 1 1 1-10 1-12 1-8 1-1 1-2 1 2 1 1 1 0 1 1 1 1 1 0 1 0 1 1 1 1 1 1 1 2 1 6 1 2 1-4 1-2 1-4 1-1 1 0 1-2 1 1 1-2 1 0 1-2 1 0 1-1 1-3 1 0 1 0 1 0 1 1 1 0 1 0 1 0 1 0 1 1 1 2 1 3 1 7 1 2 1-2 1-1 1 2 1-1 1 1 1 5 1-2 1 1 1 5 1 4 1 5 1 3 1 2 1 1 2 3 2 5 2 6 2 1 2 1 2 2 2 1 2 1 2-1 1-1"/><path vector-effect="non-scaling-stroke" d="M0 546l2 3 2 0 2-4 2-3 2 1 2-3 2-5 2-2 2-3 2-2 2 0 2-2 2-3 2 0 2-2 2-3 2-2 2-3 2-5 2-5 2-6 2-4 2-4 2-3 2-2 2-2 2-1 2 1 2 1 2 0 2-1 2 1 2 1 2 0 2 0 2 1 2 1 2 0 2 0 2 1 2 1 2 1 2 0 2 0 2 1 2 0 2 0 2-1 2-1 2-4 2-8 2-12 2-17 2-20 2-15 2-16 2-13 1-5 1-6 1-5 1-5 1-4 1-3 1-4 1 7 1 9 1 0 1-9 1-11 1-7 1-3 1 0 1 0 1 0 1 1 1 1 1 0 1-1 1 0 1 0 1 1 1 1 1 1 1 6 1 1 1-3 1-4 1-1 1-2 1-1 1-1 1 0 1-1 1-2 1-1 1 1 1 0 1-2 1-2 1 0 1 1 1 1 1 1 1 1 1-1 1 1 1 1 1 1 1 5 1 6 1 3 1-1 1-2 1 4 1 1 1 1 1 3 1 0 1 2 1 4 1 5 1 4 1 3 1 3 1 1 2 3 2 6 2 5 2 1 2 1 2 0 2 2 2 1 2 0 1 0"/><path vector-effect="non-scaling-stroke" d="M0 527l2 5 2 0 2-4 2-3 2-1 2-3 2-6 2-4 2-3 2-2 2 0 2-2 2-3 2 0 2-2 2-3 2-3 2-2 2-5 2-7 2-6 2-5 2-5 2-3 2-3 2-2 2 0 2 0 2 1 2 1 2-1 2 0 2 2 2 0 2 0 2 1 2 1 2 1 2 0 2 1 2 1 2 1 2 1 2 1 2 1 2 1 2 0 2 0 2-2 2-6 2-10 2-15 2-24 2-22 2-17 2-17 2-13 1-6 1-6 1-5 1-5 1-4 1-4 1-5 1 10 1 12 1-1 1-9 1-12 1-9 1-3 1 0 1 1 1 1 1 1 1 0 1 2 1 0 1-1 1 1 1 1 1 0 1 3 1 6 1 1 1-3 1-4 1-1 1-3 1-1 1-1 1 0 1-1 1-2 1-3 1 2 1-2 1-3 1 0 1-2 1 1 1 1 1 0 1-1 1-1 1 2 1 0 1 2 1 5 1 8 1 3 1-2 1 0 1 4 1 2 1 2 1 4 1 1 1 2 1 5 1 6 1 5 1 4 1 4 1 3 2 5 2 7 2 7 2 1 2 1 2 1 2 1 2 1 2 1 1-1"/><path vector-effect="non-scaling-stroke" d="M0 534l2 4 2 0 2-2 2-2 2-1 2-1 2-4 2-3 2-2 2-1 2 0 2-2 2-2 2-1 2-3 2-3 2-4 2-3 2-7 2-8 2-7 2-5 2-6 2-4 2-4 2-2 2-2 2 1 2 0 2 1 2-1 2 1 2 2 2-1 2 1 2 1 2 1 2 0 2 1 2 1 2 2 2 1 2 0 2 1 2 1 2 1 2 0 2 0 2-1 2-5 2-10 2-14 2-21 2-22 2-17 2-16 2-15 1-6 1-5 1-6 1-5 1-5 1-4 1-4 1 9 1 9 1 1 1-10 1-12 1-7 1-4 1 0 1 2 1 2 1-1 1 1 1 1 1 0 1 2 1-1 1 2 1 1 1 3 1 5 1 2 1-3 1-2 1-2 1-2 1-2 1 0 1-1 1-1 1-1 1-1 1 0 1-1 1-3 1-1 1 0 1 1 1 1 1-1 1 1 1 0 1 0 1 0 1 3 1 3 1 8 1 3 1-2 1 0 1 3 1 0 1 1 1 6 1 0 1 1 1 5 1 6 1 5 1 4 1 1 1 3 2 4 2 7 2 5 2 2 2 0 2 1 2 1 2 1 2 0 1 0"/><path vector-effect="non-scaling-stroke" d="M0 538l2 0 2 1 2-5 2-1 2-2 2-3 2-3 2-5 2-2 2-3 2 0 2-2 2-3 2-1 2-1 2-3 2-3 2-3 2-4 2-8 2-6 2-4 2-5 2-4 2-2 2-2 2-2 2 1 2 1 2 0 2 0 2 0 2 2 2 0 2 0 2 1 2 1 2 0 2 0 2 2 2 1 2 1 2 1 2 1 2 1 2 1 2 0 2 0 2-2 2-5 2-8 2-13 2-19 2-20 2-17 2-14 2-14 1-6 1-5 1-6 1-4 1-4 1-3 1-4 1 8 1 10 1 0 1-8 1-11 1-7 1-2 1-2 1 2 1 1 1 1 1 1 1 1 1 0 1 0 1-1 1 3 1 0 1 2 1 6 1 1 1-2 1-3 1-2 1-2 1-1 1-1 1-1 1 0 1-2 1-1 1-2 1-1 1-1 1-2 1 0 1 1 1 1 1 0 1 0 1 0 1-1 1 1 1 2 1 4 1 4 1 2 1 1 1 1 1 0 1 2 1 3 1-1 1 1 1 1 1 2 1 3 1 3 1 4 1 2 1 1 2 1 2 4 2 1 2 0 2-2 2 0 2 1 2 1 2-1 1-1"/><path vector-effect="non-scaling-stroke" d="M0 557l2 0 2-1 2-1 2-2 2-1 2-3 2-3 2-2 2-2 2-2 2-1 2-1 2-2 2-2 2-1 2-2 2-2 2-1 2-4 2-5 2-3 2-3 2-3 2-2 2-1 2-2 2 0 2 0 2 1 2 0 2-1 2 0 2 1 2-1 2 0 2 0 2 0 2 0 2 0 2 0 2 1 2 0 2 0 2 0 2-1 2 0 2-1 2 0 2 1 2 0 2-1 2 0 2-1 2-1 2 0 2-1 2-1 1-1 1-1 1-1 1-1 1-1 1-1 1-1 1 3 1 4 1 0 1-3 1-4 1-2 1-1 1 0 1 0 1 0 1 1 1 0 1 0 1 0 1 0 1 0 1 1 1 0 1 0 1 2 1 1 1-1 1-2 1 0 1-1 1 0 1 0 1-1 1 0 1 0 1-1 1-1 1 0 1 0 1-1 1 0 1 1 1-1 1 0 1 1 1 0 1-1 1 1 1 1 1 1 1 1 1 0 1 0 1 0 1 0 1 1 1 1 1-1 1 0 1 1 1 0 1 1 1 1 1 1 1 0 1 1 2 0 2 0 2 1 2-1 2 0 2 0 2 0 2 0 2 0 1-1"/><path vector-effect="non-scaling-stroke" d="M0 546l2 2 2 1 2-3 2-2 2-2 2-2 2-2 2-5 2-2 2-2 2 0 2-2 2-2 2 0 2-3 2-2 2-3 2-2 2-5 2-6 2-6 2-4 2-5 2-3 2-2 2-2 2-1 2 1 2 0 2 0 2 0 2 0 2 2 2 0 2 0 2 1 2 0 2 1 2 1 2 0 2 2 2 1 2 1 2 0 2 1 2 1 2 0 2-1 2-1 2-5 2-8 2-14 2-18 2-22 2-17 2-16 2-13 1-7 1-5 1-5 1-6 1-4 1-3 1-4 1 8 1 9 1 0 1-9 1-11 1-7 1-3 1 1 1 0 1 1 1 1 1 0 1 1 1 0 1 1 1 0 1 1 1 0 1 3 1 5 1 1 1-2 1-3 1-3 1-1 1 0 1-1 1 0 1 0 1-2 1-3 1 2 1-1 1-2 1-2 1 1 1-1 1 1 1 1 1-1 1 0 1-1 1 2 1 2 1 2 1 6 1 1 1-1 1-2 1 2 1 1 1 0 1 3 1 0 1 0 1 4 1 5 1 4 1 2 1 1 1 2 2 3 2 5 2 5 2 1 2 1 2 1 2 1 2 2 2 0 1 0"/><path vector-effect="non-scaling-stroke" d="M0 542l2 2 2-2 2-2 2 1 2-2 2-2 2-4 2-3 2-2 2-2 2 0 2-1 2-2 2-2 2-2 2-2 2-3 2-2 2-5 2-7 2-5 2-4 2-5 2-3 2-3 2-1 2-2 2 1 2 1 2 0 2-1 2 0 2 3 2-1 2 0 2 1 2 1 2 0 2 1 2 1 2 1 2 1 2 1 2 0 2 1 2 1 2 0 2-1 2-1 2-4 2-8 2-12 2-16 2-20 2-17 2-14 2-13 1-6 1-6 1-5 1-4 1-5 1-4 1-3 1 7 1 9 1 0 1-9 1-11 1-7 1-2 1-1 1 0 1 2 1 0 1 1 1 0 1 1 1 0 1 0 1 1 1 1 1 2 1 5 1 1 1-2 1-2 1-2 1-2 1-2 1 0 1 0 1 0 1-2 1-1 1 1 1-1 1-3 1-1 1 1 1 0 1 0 1 1 1 0 1 0 1 0 1 0 1 2 1 2 1 7 1 1 1-2 1-1 1 2 1 0 1 1 1 4 1-2 1 1 1 4 1 5 1 2 1 3 1 2 1 2 2 3 2 3 2 6 2 2 2 0 2 1 2 2 2 1 2-1 1 1"/><path vector-effect="non-scaling-stroke" d="M0 541l2 1 2 0 2-5 2-2 2-2 2-3 2-5 2-5 2-3 2-3 2-1 2-2 2-3 2-1 2-2 2-2 2-2 2-3 2-4 2-6 2-5 2-4 2-4 2-3 2-2 2-2 2-1 2 0 2 1 2 0 2-1 2 0 2 1 2 0 2 0 2 1 2 1 2 0 2 1 2 0 2 2 2 1 2 0 2 0 2 1 2 0 2 0 2-1 2-2 2-5 2-8 2-13 2-19 2-21 2-15 2-15 2-13 1-4 1-6 1-5 1-5 1-4 1-4 1-5 1 8 1 11 1 0 1-9 1-12 1-8 1-2 1-1 1 0 1 1 1 0 1 1 1 0 1 0 1 0 1-1 1 1 1 1 1 2 1 6 1 0 1-3 1-2 1-3 1-2 1 0 1-2 1 1 1-2 1-1 1-2 1 1 1 0 1-3 1-1 1 0 1 0 1 2 1 1 1-1 1 1 1 0 1 1 1 2 1 5 1 7 1 3 1-1 1-1 1 3 1 2 1 1 1 4 1 1 1 2 1 5 1 5 1 5 1 3 1 3 1 3 2 4 2 7 2 4 2 2 2 1 2 1 2 1 2 2 2 0 1-1"/><path vector-effect="non-scaling-stroke" d="M0 527l2 2 2-1 2-3 2-3 2-1 2-2 2-5 2-5 2-2 2-2 2 0 2-2 2-2 2-1 2-2 2-3 2-2 2-4 2-5 2-7 2-7 2-5 2-5 2-3 2-4 2-2 2-1 2 1 2 1 2 1 2-1 2 1 2 1 2-1 2 0 2 1 2 1 2 0 2 0 2 1 2 1 2 1 2 1 2 0 2 0 2 0 2 0 2 0 2-2 2-5 2-8 2-13 2-20 2-19 2-15 2-15 2-11 1-6 1-5 1-5 1-5 1-5 1-3 1-4 1 9 1 10 1 1 1-9 1-12 1-7 1-3 1-1 1 0 1 2 1 0 1 1 1 1 1 0 1 0 1 1 1 1 1 1 1 1 1 6 1 1 1-3 1-4 1-1 1-2 1-1 1-1 1 0 1-1 1-2 1-2 1 1 1-1 1-3 1 0 1-1 1 1 1 0 1 1 1 0 1-2 1 1 1 1 1 2 1 3 1 9 1 2 1-3 1 0 1 3 1 1 1 1 1 4 1 0 1 1 1 6 1 5 1 5 1 3 1 2 1 2 2 5 2 6 2 6 2 1 2 1 2 1 2 2 2 2 2-1 1 0"/><path vector-effect="non-scaling-stroke" d="M0 506l2 3 2 2 2-4 2-3 2-3 2-3 2-5 2-5 2-4 2-2 2-2 2-2 2-3 2-1 2-3 2-2 2-4 2-3 2-6 2-8 2-8 2-6 2-6 2-4 2-4 2-2 2-1 2 1 2 1 2 1 2-1 2 0 2 2 2-1 2 1 2 1 2 1 2 0 2 1 2 1 2 1 2 1 2 1 2 1 2 0 2 2 2-1 2 0 2-2 2-8 2-13 2-23 2-29 2-21 2-17 2-17 2-12 1-7 1-6 1-4 1-5 1-4 1-4 1-6 1 11 1 15 1 1 1-12 1-14 1-10 1-3 1-2 1 2 1 1 1 2 1-1 1 1 1 1 1 0 1 0 1 1 1 1 1 2 1 7 1 3 1-5 1-3 1-3 1-3 1 1 1-1 1-2 1-1 1-2 1-2 1 2 1-2 1-3 1-1 1-1 1 0 1 2 1 1 1 0 1 0 1-1 1 1 1 2 1 5 1 10 1 2 1-3 1-1 1 3 1 2 1 1 1 5 1 0 1 0 1 7 1 6 1 7 1 3 1 4 1 3 2 4 2 7 2 8 2 1 2 1 2 2 2 1 2 2 2 0 1 0"/><path vector-effect="non-scaling-stroke" d="M0 499l2 6 2-2 2-6 2-5 2-2 2-2 2-7 2-8 2-4 2-3 2 0 2-3 2-3 2-1 2-3 2-3 2-3 2-4 2-6 2-8 2-8 2-6 2-7 2-4 2-4 2-3 2-1 2 2 2 0 2 2 2-1 2 1 2 2 2 0 2 1 2 1 2 1 2 1 2 0 2 2 2 2 2 2 2 1 2 1 2 2 2 1 2 1 2 0 2-4 2-9 2-18 2-30 2-33 2-25 2-20 2-16 2-15 1-7 1-6 1-6 1-5 1-4 1-5 1-4 1 12 1 16 1 1 1-13 1-16 1-11 1-3 1 0 1 2 1-1 1 2 1 1 1 1 1 1 1 1 1 0 1 1 1 2 1 3 1 8 1 2 1-5 1-4 1-2 1-3 1-1 1-1 1-1 1 0 1-3 1-2 1-1 1-2 1 0 1-2 1-1 1 2 1 2 1 0 1 0 1 0 1-1 1 2 1 4 1 3 1 5 1 1 1-1 1 0 1 2 1 1 1 1 1-1 1 1 1-2 1 3 1 3 1 3 1 4 1 2 1 0 2-2 2 3 2 0 2-1 2-2 2-1 2 0 2 2 2-2 1-2"/><path vector-effect="non-scaling-stroke" d="M0 523l2 4 2-2 2-1 2-1 2-1 2-3 2-4 2-3 2-2 2-1 2 0 2-1 2-3 2-1 2-2 2-4 2-3 2-4 2-5 2-8 2-8 2-5 2-7 2-3 2-5 2-2 2-1 2 1 2 1 2 0 2-1 2 1 2 2 2 0 2 0 2 1 2 1 2 2 2 0 2 1 2 1 2 2 2 1 2 1 2 1 2 1 2 1 2 0 2-2 2-6 2-10 2-15 2-24 2-21 2-17 2-17 2-14 1-5 1-6 1-6 1-5 1-4 1-5 1-4 1 9 1 11 1 0 1-10 1-12 1-9 1-2 1-1 1 0 1 2 1 0 1 1 1 1 1 0 1 0 1 0 1 2 1 1 1 4 1 5 1 2 1-3 1-3 1-2 1-1 1-1 1-1 1 0 1-1 1-1 1-3 1 2 1 0 1-3 1-2 1 1 1 1 1 0 1 0 1 1 1 0 1 0 1 0 1 2 1 5 1 8 1 3 1-3 1-1 1 4 1 2 1 0 1 5 1-1 1 2 1 4 1 6 1 6 1 3 1 3 1 2 2 4 2 6 2 7 2 1 2 1 2 0 2 1 2 2 2-1 1 0"/><path vector-effect="non-scaling-stroke" d="M0 535l2 1 2 0 2-4 2-3 2-1 2-3 2-4 2-4 2-3 2-3 2 0 2-3 2-2 2-1 2-2 2-2 2-2 2-2 2-5 2-6 2-6 2-4 2-4 2-3 2-3 2-2 2-1 2 2 2 0 2 1 2-1 2 0 2 2 2-1 2 1 2 1 2 0 2 1 2 0 2 1 2 1 2 1 2 1 2 1 2 0 2 1 2 0 2 0 2-1 2-5 2-9 2-12 2-20 2-20 2-17 2-14 2-13 1-6 1-7 1-4 1-5 1-4 1-4 1-4 1 8 1 10 1 0 1-9 1-11 1-7 1-3 1-1 1 1 1 2 1-1 1 1 1 0 1 1 1 0 1 1 1 0 1 0 1 3 1 6 1 1 1-3 1-3 1-2 1-2 1 0 1-1 1-1 1-1 1 0 1-3 1 1 1 0 1-3 1-1 1 1 1-1 1 1 1 1 1 1 1-1 1 0 1 0 1 2 1 3 1 7 1 1 1-2 1-1 1 1 1 1 1 0 1 4 1-2 1 1 1 4 1 5 1 4 1 3 1 1 1 1 2 3 2 5 2 5 2 2 2 0 2 1 2 2 2 1 2 0 1 0"/><path vector-effect="non-scaling-stroke" d="M0 550l2 1 2-2 2-2 2 0 2-3 2-2 2-3 2-3 2-2 2-1 2-1 2-2 2-2 2 0 2-2 2-2 2-2 2-3 2-3 2-5 2-4 2-4 2-4 2-2 2-3 2-1 2 0 2 0 2 1 2 0 2 0 2 0 2 2 2-1 2 1 2 0 2 1 2 1 2 0 2 1 2 1 2 1 2 0 2 1 2 1 2 0 2 0 2 0 2-2 2-4 2-7 2-10 2-15 2-18 2-15 2-14 2-13 1-5 1-6 1-5 1-5 1-4 1-3 1-4 1 6 1 8 1 0 1-7 1-10 1-6 1-3 1-1 1 1 1 1 1 1 1-1 1 0 1 2 1-1 1 0 1 0 1 2 1 1 1 4 1 1 1-2 1-2 1-2 1-1 1-1 1-1 1 0 1 0 1-2 1-1 1 1 1-1 1-1 1-2 1 1 1 0 1 2 1 0 1 0 1 0 1 1 1-1 1 3 1 3 1 7 1 1 1 0 1 0 1 2 1 1 1 0 1 5 1-1 1 2 1 4 1 4 1 4 1 2 1 3 1 2 2 3 2 5 2 5 2 1 2 1 2 0 2 1 2 1 2 0 1 0"/><path vector-effect="non-scaling-stroke" d="M0 509l2-1 2-1 2-3 2-2 2-3 2-3 2-5 2-6 2-4 2-4 2 0 2-3 2-2 2-1 2-3 2-3 2-2 2-4 2-6 2-8 2-8 2-5 2-7 2-4 2-4 2-2 2-1 2 1 2 1 2 1 2-1 2 0 2 3 2-1 2 1 2 1 2 2 2 0 2 2 2 0 2 3 2 2 2 1 2 2 2 1 2 2 2 1 2 0 2-2 2-9 2-15 2-24 2-31 2-23 2-19 2-17 2-15 1-6 1-5 1-6 1-6 1-5 1-3 1-5 1 10 1 16 1 0 1-12 1-15 1-10 1-2 1-3 1 3 1 1 1-1 1 3 1 0 1 0 1 0 1 1 1 1 1 0 1 4 1 6 1 2 1-4 1-4 1-2 1-3 1-1 1-1 1 0 1-1 1-2 1-4 1 3 1 0 1-5 1-1 1 0 1 2 1 1 1 1 1 0 1 0 1 1 1 1 1 1 1 4 1 11 1 2 1-3 1-3 1 4 1 1 1 1 1 5 1-1 1 0 1 7 1 6 1 6 1 2 1 3 1 3 2 3 2 6 2 6 2 3 2 0 2 1 2 1 2 1 2 0 1 0"/><path vector-effect="non-scaling-stroke" d="M0 503l2 1 2-3 2-2 2-4 2-2 2-5 2-6 2-6 2-5 2-2 2-2 2-4 2-3 2-1 2-3 2-3 2-4 2-4 2-7 2-10 2-9 2-7 2-8 2-4 2-5 2-2 2-3 2 1 2 1 2 0 2-1 2-2 2 0 2 1 2-1 2 1 2 0 2 0 2 0 2 1 2 1 2 1 2 0 2 0 2-2 2 0 2-1 2-4 2-3 2-10 2-22 2-32 2-29 2-24 2-19 2-15 2-15 1-6 1-5 1-5 1-7 1-4 1-4 1-5 1 14 1 17 1 1 1-14 1-18 1-10 1-4 1-2 1 2 1 1 1 3 1 0 1 1 1 0 1 1 1 2 1 1 1 1 1 3 1 9 1 2 1-5 1-4 1-2 1-4 1 0 1-1 1-1 1 0 1-2 1-2 1-2 1-2 1 0 1-1 1-1 1-1 1 2 1 1 1 0 1 0 1-1 1 2 1 5 1 5 1 6 1 1 1 1 1 0 1 4 1 1 1 1 1 0 1 2 1 1 1 2 1 4 1 5 1 4 1 5 1-1 2 2 2 3 2 1 2-1 2 0 2-1 2 0 2 2 2-2 1-1"/><path vector-effect="non-scaling-stroke" d="M0 516l2 4 2-1 2-2 2-3 2-3 2-4 2-5 2-5 2-3 2-2 2 0 2-3 2-3 2-1 2-3 2-2 2-3 2-4 2-7 2-8 2-8 2-5 2-6 2-5 2-3 2-3 2-1 2 0 2 2 2 0 2 0 2 0 2 2 2-1 2 0 2 1 2 2 2 0 2 0 2 1 2 2 2 1 2 0 2 0 2 1 2 0 2-1 2-1 2-2 2-6 2-12 2-18 2-25 2-20 2-17 2-15 2-13 1-4 1-7 1-4 1-5 1-4 1-4 1-5 1 10 1 13 1 1 1-11 1-14 1-9 1-2 1-3 1 1 1 1 1 1 1 0 1 1 1-1 1 0 1 0 1 1 1 1 1 1 1 8 1 0 1-4 1-4 1-3 1-2 1-2 1 0 1-2 1-2 1-1 1-3 1 1 1-1 1-3 1-1 1-1 1 1 1 1 1 1 1 0 1 0 1 1 1 1 1 3 1 4 1 9 1 5 1-3 1 0 1 3 1 2 1 3 1 4 1 0 1 2 1 7 1 7 1 4 1 5 1 3 1 3 2 5 2 7 2 6 2 3 2 1 2 2 2 1 2 1 2 0 1 0"/><path vector-effect="non-scaling-stroke" d="M0 547l2 2 2-3 2-1 2 0 2-2 2-3 2-3 2-2 2-2 2-2 2-1 2-1 2-2 2-1 2-2 2-2 2-3 2-4 2-5 2-6 2-6 2-4 2-5 2-4 2-2 2-2 2-1 2 1 2 1 2 0 2 0 2 1 2 1 2-1 2 1 2 1 2 0 2 1 2-1 2 1 2 2 2 0 2 1 2 0 2 1 2 1 2 0 2 0 2-1 2-5 2-7 2-12 2-17 2-20 2-15 2-15 2-13 1-6 1-5 1-5 1-5 1-4 1-3 1-4 1 8 1 9 1 0 1-9 1-10 1-8 1-1 1-2 1 2 1 0 1 1 1 1 1 0 1 0 1 0 1 1 1 1 1 1 1 1 1 6 1 0 1-2 1-2 1-2 1-2 1-1 1-1 1 0 1-1 1 0 1-2 1 1 1-2 1-2 1-1 1 0 1 0 1 1 1 0 1-1 1 1 1-1 1 2 1 1 1 1 1 6 1 2 1-2 1-1 1 2 1 0 1 0 1 2 1 0 1 1 1 4 1 4 1 4 1 2 1 3 1 0 2 3 2 5 2 6 2 1 2 1 2 0 2 2 2 2 2-1 1 0"/><path vector-effect="non-scaling-stroke" d="M0 518l2 3 2-2 2-3 2-2 2-2 2-3 2-5 2-4 2-3 2-2 2-1 2-1 2-4 2-1 2-3 2-3 2-4 2-3 2-7 2-9 2-9 2-6 2-6 2-4 2-4 2-3 2-1 2 0 2 2 2 0 2-1 2 1 2 2 2-1 2 0 2 1 2 1 2 1 2 0 2 1 2 2 2 2 2 1 2 1 2 2 2 2 2 1 2 1 2-2 2-5 2-11 2-17 2-24 2-21 2-17 2-16 2-12 1-5 1-7 1-5 1-5 1-4 1-3 1-5 1 10 1 11 1 1 1-11 1-13 1-9 1-3 1-1 1 1 1 0 1 2 1 0 1 1 1 0 1 0 1 0 1 0 1 3 1 2 1 6 1 1 1-3 1-5 1-1 1-2 1-1 1 0 1-1 1-1 1-1 1-2 1 0 1-1 1-3 1 0 1-2 1 0 1 2 1 0 1 1 1-1 1 1 1-1 1 1 1 4 1 8 1 3 1-4 1-2 1 3 1 0 1 2 1 3 1-1 1 0 1 7 1 4 1 5 1 3 1 2 1 3 2 4 2 5 2 6 2 3 2 0 2 1 2 1 2 2 2 0 1-1"/><path vector-effect="non-scaling-stroke" d="M0 544l2 1 2 0 2-2 2-1 2-2 2-3 2-5 2-3 2-3 2-2 2-1 2-2 2-3 2-1 2-2 2-2 2-1 2-3 2-4 2-5 2-5 2-3 2-3 2-3 2-2 2-2 2-1 2 1 2 0 2 1 2 0 2 0 2 2 2 0 2-1 2 2 2 1 2 0 2 0 2 2 2 1 2 1 2 1 2 1 2 1 2 0 2 0 2 1 2-2 2-4 2-6 2-12 2-16 2-19 2-15 2-14 2-13 1-6 1-6 1-4 1-5 1-4 1-4 1-4 1 7 1 9 1 0 1-8 1-10 1-7 1-2 1-1 1 1 1 1 1 0 1 0 1 1 1 0 1 0 1 1 1 0 1 1 1 2 1 5 1 1 1-3 1-2 1-1 1-2 1-2 1 0 1 0 1-2 1 0 1-2 1 0 1-1 1-2 1-1 1-1 1 1 1 0 1 1 1 0 1-1 1 0 1 1 1 1 1 3 1 6 1 2 1-2 1-1 1 2 1 1 1 0 1 4 1-2 1 1 1 5 1 4 1 4 1 2 1 2 1 1 2 4 2 4 2 5 2 1 2 1 2 1 2 2 2 0 2 0 1 0"/><path vector-effect="non-scaling-stroke" d="M0 526l2 5 2-2 2-4 2-3 2-1 2-3 2-5 2-5 2-3 2-2 2-1 2-2 2-3 2-1 2-2 2-2 2-3 2-3 2-5 2-7 2-6 2-5 2-5 2-3 2-3 2-2 2-1 2 1 2 2 2 0 2 0 2 1 2 2 2 0 2 0 2 1 2 1 2 0 2 1 2 1 2 2 2 1 2 1 2 1 2 1 2 1 2 0 2 1 2-2 2-5 2-10 2-16 2-23 2-21 2-18 2-16 2-15 1-5 1-5 1-7 1-5 1-4 1-4 1-5 1 9 1 11 1 0 1-10 1-12 1-9 1-1 1-2 1 1 1 1 1 1 1 0 1 1 1 0 1 0 1 0 1 2 1 1 1 3 1 6 1 1 1-3 1-3 1-3 1 0 1-3 1 0 1-1 1 1 1-2 1-3 1 2 1 0 1-3 1-1 1 0 1 1 1 1 1 1 1 1 1-1 1 1 1-1 1 2 1 4 1 7 1 2 1-2 1-1 1 2 1 0 1 1 1 3 1 0 1-1 1 6 1 5 1 4 1 3 1 2 1 1 2 3 2 5 2 6 2 1 2 1 2 0 2 1 2 1 2 1 1-2"/><path vector-effect="non-scaling-stroke" d="M0 501l2 7 2 0 2-4 2-3 2-2 2-1 2-6 2-5 2-5 2-3 2 1 2-3 2-3 2-1 2-3 2-4 2-4 2-4 2-8 2-10 2-9 2-7 2-8 2-5 2-5 2-3 2-2 2 1 2 1 2 1 2-2 2 1 2 3 2-1 2 0 2 2 2 1 2 1 2 1 2 1 2 3 2 2 2 1 2 2 2 1 2 2 2 1 2 0 2-3 2-9 2-19 2-28 2-33 2-25 2-20 2-17 2-15 1-4 1-7 1-5 1-5 1-5 1-3 1-6 1 13 1 15 1 2 1-12 1-17 1-10 1-3 1-1 1 2 1 4 1-1 1 1 1 1 1 1 1-2 1 2 1 2 1 1 1 3 1 7 1 3 1-5 1-5 1-2 1-3 1-1 1-2 1-1 1 0 1-4 1-1 1-2 1-2 1-2 1-1 1 1 1 0 1 0 1 1 1 0 1-1 1 1 1 0 1 5 1 2 1 6 1-1 1 1 1 0 1 1 1 1 1-1 1 1 1-1 1 0 1 2 1 3 1 4 1 4 1 2 1-1 2-1 2 2 2 3 2-2 2-1 2-1 2 1 2 1 2-1 1 0"/><path vector-effect="non-scaling-stroke" d="M0 545l2 2 2-1 2-1 2-1 2-2 2-2 2-3 2-2 2-2 2-2 2 0 2-2 2-2 2-1 2-2 2-1 2-3 2-3 2-5 2-5 2-6 2-5 2-3 2-3 2-3 2-1 2-2 2 1 2 0 2 0 2 0 2 0 2 2 2-1 2 1 2 1 2 1 2 0 2 1 2 1 2 1 2 1 2 1 2 0 2 1 2 1 2 0 2 0 2-1 2-4 2-8 2-11 2-16 2-20 2-16 2-14 2-13 1-5 1-6 1-6 1-4 1-3 1-4 1-4 1 7 1 8 1 1 1-8 1-10 1-7 1-2 1-1 1 1 1 1 1 0 1 1 1 0 1 0 1 0 1 1 1 1 1 1 1 1 1 5 1 1 1-3 1-2 1-2 1-2 1 0 1-1 1 0 1-2 1-1 1-2 1 1 1 0 1-3 1-1 1 0 1 0 1 2 1-1 1 1 1 0 1 0 1 0 1 2 1 3 1 6 1 1 1-2 1 0 1 2 1 1 1 1 1 3 1-1 1 1 1 5 1 4 1 3 1 3 1 1 1 2 2 3 2 3 2 6 2 1 2 2 2 0 2 1 2 1 2 0 1-1"/><path vector-effect="non-scaling-stroke" d="M0 515l2 5 2-3 2-3 2-1 2-2 2-3 2-6 2-6 2-3 2-2 2 0 2-2 2-3 2 0 2-2 2-3 2-3 2-3 2-5 2-8 2-6 2-5 2-6 2-3 2-4 2-2 2-2 2 2 2 1 2 0 2 0 2 1 2 2 2-1 2 1 2 1 2 1 2 0 2 1 2 1 2 2 2 2 2 1 2 1 2 1 2 1 2 1 2 0 2-2 2-6 2-12 2-18 2-25 2-21 2-18 2-17 2-13 1-7 1-5 1-6 1-6 1-4 1-4 1-4 1 9 1 12 1 1 1-11 1-14 1-9 1-2 1-1 1 1 1 0 1 2 1 0 1 1 1 1 1 0 1 0 1 1 1 2 1 3 1 6 1 1 1-4 1-3 1-2 1-1 1-2 1 0 1 0 1-2 1-2 1-1 1 1 1 0 1-3 1-2 1 0 1 2 1 0 1 1 1 0 1 1 1-2 1 1 1 3 1 3 1 8 1 2 1-1 1-2 1 3 1 1 1 0 1 5 1-2 1 2 1 5 1 5 1 5 1 3 1 2 1 2 2 4 2 5 2 6 2 2 2 1 2 0 2 2 2 1 2 0 1 0"/><path vector-effect="non-scaling-stroke" d="M0 510l2 3 2 0 2-3 2-2 2-3 2-3 2-4 2-3 2-5 2-1 2-2 2-2 2-2 2-1 2-2 2-3 2-4 2-3 2-6 2-9 2-7 2-6 2-6 2-5 2-3 2-3 2-1 2 1 2 2 2 0 2 0 2 1 2 2 2 0 2 1 2 1 2 1 2 1 2 1 2 1 2 1 2 2 2 1 2 1 2 1 2 1 2 1 2 0 2-2 2-6 2-11 2-19 2-25 2-21 2-17 2-16 2-13 1-7 1-4 1-6 1-5 1-5 1-4 1-6 1 12 1 11 1 1 1-11 1-14 1-9 1-2 1-1 1 0 1 2 1 0 1 1 1 0 1 1 1 0 1 0 1 0 1 2 1 3 1 6 1 1 1-4 1-3 1-3 1-1 1-2 1-1 1 1 1-3 1-1 1-3 1 2 1 0 1-3 1-1 1-1 1 2 1 0 1 1 1 1 1-1 1 1 1 2 1 1 1 5 1 9 1 2 1-2 1-1 1 3 1 2 1 1 1 4 1 0 1 1 1 6 1 5 1 6 1 3 1 3 1 2 2 4 2 7 2 6 2 2 2 0 2 1 2 1 2 1 2 0 1-1"/><path vector-effect="non-scaling-stroke" d="M0 514l2 3 2-2 2-2 2-4 2-4 2-1 2-5 2-6 2-3 2-2 2 0 2-3 2-3 2 0 2-3 2-3 2-3 2-3 2-7 2-8 2-8 2-5 2-6 2-5 2-4 2-2 2-2 2 1 2 1 2 0 2-1 2 1 2 1 2-1 2 1 2 1 2 1 2 0 2 0 2 1 2 2 2 1 2 0 2 0 2 0 2 0 2 0 2-2 2-2 2-7 2-12 2-19 2-27 2-19 2-18 2-15 2-13 1-6 1-7 1-4 1-5 1-3 1-6 1-4 1 11 1 13 1 1 1-12 1-13 1-9 1-3 1-1 1 2 1 1 1 1 1 1 1 0 1 1 1-1 1 1 1 1 1 1 1 3 1 6 1 2 1-4 1-4 1-1 1-3 1-1 1-2 1-1 1-1 1-3 1-2 1 1 1 0 1-5 1-2 1 1 1-1 1 2 1 1 1-1 1 0 1 0 1 1 1 2 1 3 1 10 1 2 1-1 1-2 1 2 1 3 1 1 1 4 1 1 1 1 1 7 1 6 1 5 1 4 1 4 1 2 2 5 2 7 2 5 2 2 2 1 2 2 2 1 2 1 2 0 1-1"/><path vector-effect="non-scaling-stroke" d="M0 518l2 2 2-2 2-5 2 0 2-2 2-3 2-5 2-5 2-4 2-1 2 1 2-4 2-3 2 0 2-2 2-3 2-3 2-4 2-5 2-8 2-6 2-5 2-6 2-4 2-3 2-3 2-1 2 2 2 1 2 0 2-1 2 0 2 2 2-1 2 0 2 1 2 0 2 1 2 0 2 0 2 2 2 0 2 1 2-1 2 0 2 0 2-1 2-1 2-2 2-5 2-10 2-15 2-21 2-20 2-15 2-16 2-12 1-5 1-5 1-5 1-5 1-4 1-2 1-6 1 10 1 12 1 1 1-11 1-13 1-9 1-2 1-1 1 2 1 1 1 1 1 0 1 1 1-1 1 1 1 0 1 1 1 1 1 2 1 6 1 1 1-3 1-5 1 0 1-3 1-2 1-1 1 0 1-2 1 0 1-5 1 3 1-1 1-2 1-2 1 0 1 1 1 0 1 2 1-1 1 2 1 0 1 0 1 2 1 5 1 7 1 2 1-1 1-1 1 2 1 1 1 1 1 4 1-1 1 1 1 6 1 6 1 3 1 3 1 3 1 2 2 3 2 5 2 7 2 1 2 0 2 1 2 2 2 1 2 0 1-1"/><path vector-effect="non-scaling-stroke" d="M0 557l2 2 2-1 2-2 2-3 2 0 2-3 2-3 2-4 2-2 2-2 2 0 2-1 2-3 2 0 2-1 2-2 2-1 2-2 2-2 2-3 2-3 2-2 2-3 2-2 2-1 2-1 2-1 2 1 2 0 2 1 2-1 2 0 2 1 2 0 2 0 2 1 2 0 2 0 2 0 2 1 2 1 2 0 2 1 2 0 2 0 2 1 2-1 2 0 2-2 2-3 2-6 2-10 2-13 2-17 2-15 2-14 2-13 1-5 1-5 1-5 1-5 1-3 1-4 1-3 1 5 1 7 1 1 1-8 1-8 1-7 1-1 1-1 1 0 1 1 1 0 1 0 1 1 1 0 1-1 1 0 1 1 1 1 1 0 1 4 1 1 1-2 1-2 1-3 1-1 1-1 1 0 1-1 1-1 1-1 1-2 1 1 1 0 1-3 1 0 1 0 1-1 1 1 1 0 1 1 1 0 1 0 1 1 1 2 1 2 1 6 1 2 1-1 1 0 1 3 1 1 1 1 1 3 1 1 1 1 1 4 1 4 1 3 1 3 1 2 1 1 2 4 2 5 2 4 2 1 2 0 2 1 2 1 2 1 2 0 1 0"/><path vector-effect="non-scaling-stroke" d="M0 521l2 2 2-3 2-5 2-2 2-3 2-4 2-5 2-3 2-2 2-4 2-1 2-2 2-3 2-2 2-2 2-3 2-3 2-3 2-6 2-9 2-8 2-6 2-5 2-4 2-4 2-3 2-1 2 1 2 2 2 0 2 0 2 0 2 2 2 1 2-1 2 2 2 1 2 0 2 1 2 1 2 1 2 1 2 1 2 1 2 1 2 1 2-1 2 1 2-3 2-6 2-12 2-20 2-26 2-21 2-18 2-16 2-13 1-6 1-6 1-6 1-3 1-6 1-3 1-5 1 10 1 13 1 1 1-11 1-15 1-9 1-3 1-1 1 1 1 1 1 0 1 1 1-1 1 2 1-1 1-1 1 2 1 1 1 1 1 6 1 2 1-4 1-3 1-3 1-2 1-1 1-2 1 0 1-3 1 1 1-4 1 3 1-1 1-5 1-1 1 1 1 1 1 1 1 0 1 0 1 2 1-1 1 2 1 0 1 6 1 7 1 3 1-3 1-1 1 3 1 1 1 1 1 4 1 0 1 0 1 7 1 5 1 7 1 1 1 2 1 3 2 4 2 7 2 8 2 1 2 1 2 1 2 2 2 2 2 0 1-1"/><path vector-effect="non-scaling-stroke" d="M0 543l2 2 2-1 2-2 2-2 2-2 2-2 2-4 2-3 2-3 2-2 2-1 2-1 2-3 2 0 2-2 2-3 2-2 2-3 2-5 2-6 2-6 2-5 2-4 2-3 2-3 2-2 2-1 2 0 2 1 2 0 2-1 2 1 2 1 2-1 2 0 2 2 2 0 2 1 2 0 2 1 2 1 2 1 2 0 2 0 2 1 2 0 2-1 2 0 2-2 2-5 2-8 2-13 2-18 2-20 2-15 2-15 2-12 1-6 1-6 1-5 1-4 1-4 1-4 1-4 1 8 1 10 1-1 1-7 1-11 1-8 1-4 1-1 1 1 1 1 1 1 1 0 1 1 1 0 1 0 1 0 1-1 1 2 1 2 1 4 1 1 1-3 1-3 1-1 1-3 1 0 1-2 1 1 1-2 1-1 1-2 1-2 1 0 1-1 1-1 1-1 1 1 1 0 1 0 1 0 1 0 1 0 1 0 1 4 1 2 1 4 1 1 1 1 1 0 1 1 1 3 1 0 1 0 1 1 1 2 1 1 1 3 1 4 1 2 1 2 1 1 2 1 2 3 2 2 2 1 2-2 2-1 2 2 2 1 2-1 1-1"/><path vector-effect="non-scaling-stroke" d="M0 544l2 3 2-2 2-4 2-1 2-1 2-2 2-5 2-3 2-2 2-2 2-1 2-1 2-3 2-1 2-2 2-2 2-2 2-3 2-5 2-5 2-6 2-4 2-4 2-3 2-1 2-2 2-1 2 1 2 1 2 1 2-1 2 1 2 2 2-1 2 1 2 1 2 1 2 0 2 0 2 1 2 1 2 1 2 1 2 0 2 1 2 1 2 0 2-1 2-1 2-4 2-7 2-12 2-17 2-19 2-15 2-16 2-13 1-5 1-5 1-6 1-4 1-4 1-4 1-4 1 6 1 10 1 1 1-9 1-10 1-8 1-1 1-1 1 0 1 0 1 1 1 0 1 0 1 1 1 0 1 0 1 1 1 0 1 2 1 5 1 1 1-3 1-2 1-3 1-1 1-2 1 0 1-1 1-2 1-1 1-1 1 0 1-1 1-2 1-2 1 1 1 0 1 0 1 1 1-1 1 1 1-1 1 1 1 1 1 3 1 5 1 3 1-2 1-2 1 4 1-1 1 1 1 4 1-1 1 1 1 4 1 4 1 4 1 3 1 2 1 1 2 4 2 4 2 6 2 2 2 1 2 1 2 1 2 2 2 0 1-1"/><path vector-effect="non-scaling-stroke" d="M0 510l2 7 2-1 2-6 2-1 2-1 2-4 2-6 2-6 2-2 2-1 2-1 2-3 2-3 2-1 2-2 2-3 2-4 2-4 2-7 2-8 2-9 2-6 2-7 2-4 2-4 2-3 2-1 2 2 2 1 2 0 2-1 2 1 2 2 2 0 2 0 2 1 2 0 2 1 2 0 2 1 2 2 2 1 2 0 2 0 2 1 2 1 2-1 2 0 2-3 2-6 2-13 2-21 2-27 2-20 2-17 2-16 2-13 1-6 1-5 1-6 1-4 1-5 1-4 1-4 1 10 1 14 1-1 1-11 1-14 1-10 1-2 1-2 1 2 1 1 1 1 1 0 1 1 1-1 1 1 1-1 1 2 1 0 1 3 1 7 1 1 1-5 1-3 1-2 1-3 1-2 1-1 1 1 1-3 1-1 1-3 1 1 1 1 1-6 1 0 1-1 1 1 1 2 1 0 1 1 1-1 1 0 1 2 1 2 1 4 1 8 1 4 1-2 1-2 1 5 1 1 1 0 1 7 1-2 1 3 1 6 1 6 1 4 1 4 1 5 1 0 2 5 2 8 2 6 2 2 2 1 2 2 2 1 2 2 2-1 1 0"/><path vector-effect="non-scaling-stroke" d="M0 516l2 1 2-1 2-4 2-4 2-3 2-5 2-5 2-6 2-5 2-4 2-1 2-4 2-3 2 0 2-3 2-1 2-3 2-2 2-5 2-6 2-7 2-4 2-5 2-3 2-3 2-1 2-1 2 2 2 1 2 1 2 0 2 1 2 3 2-1 2 1 2 1 2 2 2 0 2 1 2 1 2 3 2 1 2 1 2 1 2 0 2 2 2-1 2 1 2-2 2-7 2-10 2-18 2-24 2-21 2-17 2-16 2-14 1-5 1-6 1-5 1-6 1-4 1-3 1-5 1 10 1 12 1 1 1-11 1-13 1-9 1-2 1-2 1 2 1 2 1 0 1 1 1 0 1 0 1 1 1 0 1 2 1 1 1 2 1 7 1 1 1-3 1-3 1-1 1-3 1-2 1 0 1-1 1-1 1-2 1 0 1-1 1 1 1-4 1-2 1 0 1 1 1 0 1 1 1 0 1 0 1-1 1 1 1 1 1 3 1 8 1 2 1-2 1-3 1 3 1 1 1 0 1 4 1 0 1 0 1 6 1 3 1 6 1 3 1 2 1 2 2 3 2 6 2 7 2 2 2 1 2 1 2 1 2 1 2 0 1 0"/><path vector-effect="non-scaling-stroke" d="M0 518l2 3 2 1 2-4 2 0 2-3 2-1 2-4 2-5 2-1 2-1 2 0 2-1 2-3 2-1 2-3 2-2 2-4 2-4 2-6 2-9 2-8 2-6 2-6 2-5 2-4 2-3 2-2 2 1 2 1 2 1 2-1 2 1 2 2 2-1 2 2 2 1 2 1 2 1 2 1 2 1 2 2 2 2 2 1 2 1 2 1 2 2 2 0 2 0 2-2 2-6 2-11 2-18 2-24 2-23 2-17 2-16 2-13 1-6 1-6 1-4 1-6 1-4 1-3 1-5 1 10 1 11 1 1 1-10 1-13 1-8 1-2 1-3 1 2 1 2 1 0 1 0 1 1 1 1 1-1 1 0 1 1 1 1 1 1 1 7 1 1 1-3 1-4 1-3 1-2 1-1 1-1 1 0 1-2 1-1 1-3 1 1 1-2 1-3 1 0 1 0 1 0 1 1 1 1 1 0 1 0 1 1 1-1 1 5 1 4 1 10 1 3 1-1 1 0 1 4 1 1 1 3 1 6 1 0 1 1 1 7 1 6 1 6 1 3 1 4 1 3 2 5 2 7 2 7 2 1 2 1 2 0 2 1 2 2 2 0 1 0"/><path vector-effect="non-scaling-stroke" d="M0 564l2 1 2-1 2-1 2-1 2-1 2-1 2-1 2-3 2-1 2-1 2 0 2-1 2-1 2 0 2-1 2-1 2-1 2-1 2-2 2-2 2-3 2-1 2-2 2-1 2-1 2-1 2 0 2 0 2 1 2 0 2-1 2 0 2 0 2 1 2 0 2 0 2 0 2 0 2 0 2 0 2 0 2 0 2 0 2 0 2-1 2 0 2-1 2-1 2-1 2-2 2-4 2-5 2-7 2-9 2-10 2-10 2-9 1-4 1-4 1-3 1-3 1-3 1-3 1-2 1 3 1 5 1 0 1-5 1-5 1-5 1-1 1-1 1 0 1 1 1 0 1 0 1 1 1 0 1 0 1 0 1 1 1 0 1 1 1 3 1 0 1-1 1-2 1-1 1 0 1-1 1 0 1 0 1 0 1-1 1-1 1 0 1 0 1-1 1-1 1 0 1 1 1 0 1 1 1 0 1-1 1 0 1 1 1 1 1 1 1 3 1 1 1-1 1-1 1 2 1 0 1-1 1 3 1-1 1 0 1 3 1 2 1 1 1 2 1 1 1 1 2 1 2 3 2 3 2 1 2 1 2 0 2 1 2 0 2 1 1-1"/><path vector-effect="non-scaling-stroke" d="M0 521l2 3 2 1 2-1 2-5 2-3 2-3 2-4 2-4 2-3 2-3 2-1 2-3 2-2 2-2 2-2 2-2 2-3 2-4 2-4 2-8 2-7 2-5 2-5 2-4 2-3 2-2 2-1 2 0 2 1 2 0 2-1 2 0 2 1 2 0 2 0 2 1 2 0 2 1 2-1 2 0 2 1 2 1 2-1 2 0 2-1 2 0 2-2 2-1 2-3 2-5 2-9 2-14 2-19 2-19 2-14 2-14 2-12 1-4 1-6 1-6 1-4 1-3 1-4 1-4 1 8 1 12 1 0 1-9 1-13 1-9 1-2 1-1 1 1 1 0 1 1 1 1 1 1 1-1 1 0 1 1 1 0 1 2 1 2 1 6 1 1 1-3 1-3 1-3 1-2 1-1 1 0 1 0 1-1 1-3 1-1 1 1 1-1 1-2 1-2 1 1 1-1 1 2 1 0 1 1 1 0 1 0 1 2 1 1 1 3 1 7 1 3 1 0 1-3 1 2 1 2 1 0 1 6 1-2 1 1 1 5 1 5 1 5 1 4 1 2 1 2 2 3 2 7 2 5 2 2 2 1 2 2 2 0 2 2 2 0 1 0"/><path vector-effect="non-scaling-stroke" d="M0 512l2 3 2-4 2-2 2-3 2-3 2-4 2-6 2-6 2-6 2-3 2-2 2-3 2-3 2-1 2-2 2-3 2-2 2-2 2-6 2-7 2-6 2-4 2-5 2-4 2-3 2-1 2-1 2 0 2 2 2 0 2-1 2 1 2 1 2 0 2 0 2 1 2 1 2 0 2 1 2 0 2 1 2 2 2 0 2 0 2 0 2 0 2-1 2-1 2-2 2-7 2-11 2-20 2-27 2-19 2-18 2-14 2-16 1-5 1-5 1-5 1-5 1-4 1-4 1-6 1 11 1 14 1 1 1-12 1-14 1-11 1-1 1-2 1 1 1 2 1 2 1 1 1 0 1 1 1 0 1 1 1 1 1 2 1 3 1 7 1 0 1-3 1-3 1-4 1-1 1-2 1-1 1-1 1 0 1-2 1-4 1 2 1-1 1-5 1 0 1-1 1-1 1 4 1-1 1-1 1 1 1-1 1-1 1 4 1 2 1 9 1 2 1-2 1-2 1 2 1 1 1 1 1 5 1-1 1 1 1 6 1 5 1 6 1 3 1 3 1 2 2 5 2 7 2 6 2 3 2 1 2 2 2 1 2 3 2 0 1 1"/><path vector-effect="non-scaling-stroke" d="M0 522l2 3 2 1 2-2 2-1 2-3 2-3 2-4 2-4 2-3 2 0 2-1 2-2 2-2 2-2 2-2 2-3 2-3 2-4 2-6 2-8 2-8 2-5 2-6 2-5 2-3 2-2 2-2 2 1 2 2 2 1 2-1 2 2 2 1 2 0 2 0 2 2 2 1 2 1 2 0 2 1 2 1 2 1 2 1 2 0 2 1 2 2 2 0 2 0 2-2 2-5 2-9 2-15 2-21 2-20 2-17 2-14 2-14 1-5 1-6 1-5 1-4 1-4 1-4 1-4 1 8 1 12 1 1 1-10 1-12 1-8 1-1 1-2 1 1 1 1 1 2 1 0 1 1 1 1 1-1 1 1 1 1 1 1 1 2 1 5 1 1 1-3 1-3 1-2 1-2 1-2 1 1 1-1 1-1 1-1 1-2 1-2 1 0 1-1 1-1 1-1 1 2 1 0 1 1 1-1 1-1 1 1 1 1 1 3 1 4 1 3 1 2 1 2 1-1 1 2 1 2 1 0 1 2 1 1 1-1 1 3 1 2 1 5 1 4 1 2 1 0 2 1 2 4 2 2 2-1 2-1 2-1 2 1 2 2 2 0 1-1"/><path vector-effect="non-scaling-stroke" d="M0 514l2 2 2 0 2-3 2-4 2-2 2-5 2-4 2-4 2-2 2-2 2-1 2-2 2-3 2 0 2-3 2-3 2-3 2-3 2-5 2-8 2-7 2-6 2-6 2-4 2-4 2-1 2-2 2 1 2 2 2 1 2-1 2 1 2 2 2-1 2 1 2 1 2 2 2 0 2 1 2 1 2 2 2 1 2 1 2 1 2 2 2 0 2 1 2 0 2-1 2-7 2-10 2-17 2-25 2-20 2-18 2-16 2-13 1-5 1-6 1-4 1-5 1-4 1-4 1-4 1 9 1 13 1 0 1-10 1-13 1-7 1-4 1 0 1 1 1 2 1 0 1 1 1 0 1 0 1 1 1 0 1 2 1 0 1 2 1 7 1 1 1-4 1-3 1-3 1-2 1-2 1 0 1 0 1-3 1-2 1-4 1 2 1 0 1-5 1-1 1 0 1 0 1 2 1-2 1 1 1 1 1-1 1 1 1 2 1 6 1 8 1 4 1-1 1 0 1 4 1 2 1 1 1 5 1 1 1 2 1 7 1 6 1 6 1 4 1 5 1 2 2 5 2 9 2 6 2 2 2 1 2 1 2 2 2 1 2 1 1-1"/><path vector-effect="non-scaling-stroke" d="M0 538l2 3 2-2 2-3 2-2 2-4 2-2 2-5 2-4 2-3 2-3 2 0 2-3 2-3 2 0 2-3 2-2 2-2 2-3 2-4 2-6 2-6 2-4 2-4 2-3 2-2 2-1 2-1 2 1 2 1 2 1 2 0 2 1 2 1 2 0 2 1 2 1 2 1 2 0 2 1 2 0 2 1 2 2 2 1 2 0 2 0 2 2 2 0 2-1 2-1 2-5 2-8 2-13 2-18 2-20 2-16 2-15 2-13 1-6 1-5 1-5 1-5 1-4 1-4 1-5 1 8 1 9 1 1 1-10 1-11 1-7 1-2 1-1 1 1 1 1 1 0 1 1 1 0 1 0 1 0 1 0 1 1 1 1 1 1 1 6 1 1 1-3 1-3 1-1 1-3 1-2 1 1 1-2 1 0 1-3 1 0 1 0 1-1 1-2 1-2 1 0 1 1 1 0 1 0 1 1 1-1 1 0 1 1 1 1 1 3 1 7 1 2 1-3 1-1 1 1 1 1 1 1 1 3 1 0 1 0 1 5 1 5 1 4 1 2 1 3 1 1 2 4 2 5 2 6 2 1 2 1 2 2 2 1 2 2 2 0 1-1"/><path vector-effect="non-scaling-stroke" d="M0 524l2 5 2-1 2-4 2-1 2-3 2-3 2-5 2-5 2-2 2-2 2 0 2-5 2-2 2-1 2-2 2-2 2-3 2-3 2-5 2-7 2-7 2-4 2-5 2-4 2-3 2-2 2-1 2 2 2 1 2 0 2-1 2 1 2 2 2 0 2 0 2 1 2 1 2 1 2 0 2 1 2 2 2 2 2 0 2 1 2 1 2 1 2 1 2 0 2-2 2-6 2-10 2-18 2-25 2-21 2-19 2-15 2-13 1-7 1-6 1-5 1-5 1-5 1-4 1-4 1 9 1 11 1 1 1-11 1-13 1-9 1-2 1-1 1-1 1 2 1 2 1-1 1 1 1 0 1-1 1 0 1 0 1 2 1 2 1 6 1 1 1-3 1-4 1-1 1-4 1 0 1-2 1 0 1-1 1 0 1-4 1 3 1-2 1-2 1-1 1 0 1 1 1 0 1 1 1 0 1 0 1 2 1-1 1 3 1 3 1 9 1 3 1-2 1-2 1 3 1 2 1 1 1 4 1-1 1 1 1 6 1 6 1 4 1 3 1 2 1 3 2 4 2 5 2 6 2 1 2 2 2 0 2 1 2 1 2 0 1-1"/><path vector-effect="non-scaling-stroke" d="M0 528l2 3 2 0 2-3 2-4 2-1 2-3 2-5 2-5 2-3 2-3 2-1 2-4 2-2 2-1 2-2 2-2 2-2 2-4 2-4 2-7 2-6 2-4 2-5 2-3 2-3 2-1 2-1 2 1 2 1 2 1 2 0 2 0 2 2 2-1 2 1 2 1 2 1 2 0 2 0 2 1 2 1 2 1 2 1 2 1 2 0 2 1 2 0 2 0 2-1 2-5 2-8 2-12 2-19 2-19 2-16 2-14 2-13 1-5 1-5 1-5 1-6 1-3 1-3 1-5 1 9 1 10 1 0 1-9 1-12 1-8 1-2 1-1 1 0 1 1 1 1 1 2 1-1 1 0 1 1 1-1 1 1 1 2 1 2 1 5 1 1 1-3 1-3 1-1 1-2 1-1 1-1 1-1 1-2 1-1 1-2 1 0 1 0 1-3 1-1 1 0 1-1 1 1 1 1 1-1 1 1 1 0 1 1 1 1 1 2 1 6 1 4 1-3 1-2 1 2 1 1 1 0 1 3 1 0 1 1 1 5 1 4 1 3 1 3 1 3 1 1 2 5 2 5 2 5 2 3 2 0 2 2 2 2 2 1 2 0 1 1"/><path vector-effect="non-scaling-stroke" d="M0 549l2 0 2 0 2-3 2-3 2-2 2-3 2-4 2-4 2-3 2-2 2-1 2-2 2-3 2 0 2-2 2-2 2-3 2-3 2-4 2-6 2-5 2-5 2-4 2-3 2-3 2-1 2-1 2 0 2 1 2 1 2-1 2 1 2 1 2 0 2 0 2 1 2 1 2 0 2 1 2 1 2 1 2 1 2 1 2 1 2 0 2 1 2 1 2 0 2-1 2-5 2-7 2-11 2-17 2-18 2-17 2-14 2-13 1-5 1-5 1-5 1-5 1-3 1-4 1-4 1 7 1 9 1 0 1-8 1-11 1-7 1-2 1-1 1 1 1 0 1 2 1-1 1 1 1 0 1 0 1 0 1 1 1 1 1 2 1 4 1 2 1-3 1-2 1-2 1-2 1-1 1-1 1 1 1-1 1-2 1-1 1-1 1 0 1-2 1-1 1 0 1 1 1-1 1 1 1 0 1 0 1-1 1 0 1 2 1 3 1 6 1 2 1-3 1-1 1 2 1 0 1 1 1 3 1-1 1 1 1 5 1 4 1 3 1 3 1 2 1 1 2 4 2 5 2 4 2 2 2 0 2 2 2 1 2 1 2 0 1-1"/><path vector-effect="non-scaling-stroke" d="M0 505l2 4 2-1 2-3 2-2 2-2 2-2 2-7 2-4 2-1 2-3 2 0 2-3 2-3 2-1 2-3 2-4 2-5 2-4 2-8 2-11 2-8 2-8 2-8 2-5 2-4 2-3 2-2 2 0 2 2 2-1 2-1 2 1 2 2 2-1 2 1 2 0 2 1 2 2 2-1 2 1 2 1 2 2 2 0 2 1 2 0 2 1 2-1 2 0 2-4 2-9 2-18 2-28 2-30 2-24 2-19 2-17 2-15 1-5 1-6 1-4 1-6 1-5 1-3 1-4 1 12 1 15 1 2 1-13 1-16 1-10 1-4 1-1 1 3 1 1 1 1 1 1 1-1 1 1 1 0 1 1 1 3 1 1 1 3 1 8 1 1 1-4 1-4 1-3 1-2 1-2 1-1 1 0 1-2 1-2 1-3 1-1 1-1 1-1 1-1 1-1 1 0 1 2 1 1 1 0 1-1 1 0 1 0 1 6 1 3 1 5 1 1 1 2 1 0 1 0 1 2 1 2 1-1 1 0 1 2 1 1 1 4 1 5 1 3 1 3 1 0 2 2 2 2 2 3 2-2 2-2 2-1 2 2 2 0 2-2 1-1"/><path vector-effect="non-scaling-stroke" d="M0 536l2 2 2-1 2-3 2-3 2-2 2-2 2-4 2-4 2-3 2-3 2 0 2-3 2-2 2-1 2-2 2-2 2-2 2-2 2-5 2-5 2-5 2-4 2-4 2-2 2-3 2-1 2 0 2 0 2 2 2 0 2-1 2 1 2 2 2-1 2 0 2 1 2 1 2 1 2 0 2 1 2 1 2 1 2 1 2 1 2 1 2 1 2 0 2-1 2-1 2-6 2-9 2-14 2-21 2-22 2-16 2-16 2-14 1-5 1-7 1-4 1-6 1-3 1-5 1-3 1 8 1 10 1-1 1-9 1-11 1-8 1-2 1-1 1 1 1 1 1 1 1 0 1 0 1 1 1 0 1 0 1 0 1 1 1 2 1 6 1 0 1-2 1-3 1-2 1-2 1-1 1-1 1-1 1 0 1-1 1-2 1 1 1-1 1-2 1-2 1 1 1 0 1 1 1 0 1 1 1 0 1-1 1 1 1 2 1 2 1 7 1 3 1-2 1-2 1 3 1-1 1 1 1 4 1-2 1 1 1 5 1 4 1 4 1 2 1 2 1 2 2 2 2 5 2 5 2 1 2 1 2 0 2 1 2 2 2 0 1 0"/><path vector-effect="non-scaling-stroke" d="M0 514l2 4 2-1 2-5 2-4 2-3 2-5 2-6 2-5 2-4 2-2 2-2 2-4 2-3 2 0 2-3 2-3 2-2 2-3 2-6 2-8 2-8 2-5 2-6 2-4 2-4 2-2 2-2 2 2 2 2 2 1 2-1 2 2 2 2 2 1 2 0 2 1 2 2 2 1 2 1 2 1 2 1 2 2 2 1 2 1 2 1 2 1 2 1 2 0 2-2 2-7 2-13 2-20 2-28 2-21 2-19 2-16 2-15 1-5 1-7 1-4 1-7 1-4 1-4 1-5 1 11 1 13 1 1 1-11 1-13 1-12 1-1 1-2 1 2 1 2 1 1 1 1 1 2 1-1 1 0 1 1 1 1 1 3 1 2 1 6 1 1 1-3 1-3 1-3 1-3 1-1 1-1 1-1 1-1 1-2 1-2 1-1 1 0 1-4 1-1 1-1 1-1 1 2 1 1 1-1 1-1 1 1 1 1 1 1 1 5 1 8 1 3 1-3 1-1 1 2 1 2 1 2 1 3 1 1 1 0 1 8 1 5 1 5 1 3 1 4 1 2 2 4 2 6 2 8 2 2 2 0 2 1 2 2 2 1 2 1 1-1"/><path vector-effect="non-scaling-stroke" d="M0 519l2 5 2 1 2-3 2-5 2 0 2-1 2-6 2-5 2-3 2-2 2 1 2-2 2-4 2 0 2-3 2-3 2-3 2-4 2-7 2-8 2-7 2-6 2-6 2-4 2-4 2-2 2-1 2 0 2 1 2-1 2 0 2 0 2 1 2 0 2 0 2 0 2 1 2 1 2-1 2 1 2 1 2 1 2 0 2 0 2 0 2-1 2-1 2-2 2-2 2-5 2-9 2-15 2-21 2-19 2-15 2-13 2-13 1-6 1-5 1-5 1-4 1-4 1-4 1-4 1 9 1 12 1 0 1-10 1-14 1-8 1-3 1-1 1 1 1 2 1-1 1 0 1 1 1 0 1 0 1 0 1 1 1 1 1 3 1 4 1 2 1-3 1-3 1-2 1-2 1-2 1-1 1-1 1 0 1-2 1-2 1 0 1 0 1-4 1 0 1 0 1 1 1 0 1 1 1 0 1 1 1-1 1 2 1 1 1 4 1 8 1 1 1-1 1-2 1 3 1 0 1 0 1 3 1 0 1 1 1 6 1 4 1 5 1 3 1 3 1 2 2 3 2 6 2 6 2 3 2 1 2 1 2 1 2 3 2-1 1 0"/><path vector-effect="non-scaling-stroke" d="M0 558l2 2 2-1 2-2 2-1 2-1 2-2 2-3 2-3 2-1 2-1 2-1 2-1 2-2 2 0 2-1 2-2 2-1 2-2 2-3 2-4 2-3 2-2 2-3 2-2 2-1 2-2 2 1 2 0 2 0 2 0 2 0 2 0 2 1 2 0 2 0 2 0 2 1 2 0 2 0 2 0 2 1 2 0 2 1 2 0 2 0 2 0 2-1 2 0 2-1 2-3 2-5 2-8 2-11 2-14 2-13 2-12 2-12 1-5 1-4 1-5 1-4 1-4 1-3 1-3 1 5 1 6 1 0 1-7 1-8 1-5 1-2 1-1 1 1 1 1 1 0 1-1 1 0 1 1 1 0 1 0 1 0 1 0 1 3 1 3 1 1 1-3 1-2 1-1 1-1 1-1 1 0 1-1 1-1 1 0 1-2 1 1 1-1 1-1 1-1 1 0 1 1 1 0 1 0 1 1 1 0 1-1 1 1 1 1 1 2 1 5 1 2 1-1 1-1 1 2 1 0 1 1 1 2 1-1 1 1 1 4 1 3 1 3 1 2 1 2 1 1 2 3 2 3 2 5 2 1 2 1 2 0 2 1 2 1 2 0 1-1"/><path vector-effect="non-scaling-stroke" d="M0 523l2 4 2-2 2-3 2-4 2-4 2-2 2-4 2-6 2-3 2-3 2-1 2-2 2-3 2-1 2-2 2-2 2-2 2-2 2-5 2-6 2-7 2-4 2-5 2-3 2-3 2-2 2-1 2 1 2 1 2 1 2-1 2 1 2 2 2-1 2 1 2 1 2 0 2 1 2 0 2 1 2 2 2 1 2 1 2 1 2 1 2 1 2 1 2 0 2-1 2-5 2-8 2-15 2-19 2-20 2-16 2-15 2-13 1-5 1-7 1-5 1-4 1-5 1-4 1-4 1 9 1 11 1 0 1-9 1-13 1-8 1-2 1-1 1 1 1 0 1 2 1 0 1 0 1 0 1 1 1 0 1 2 1 1 1 1 1 6 1 2 1-4 1-2 1-3 1-1 1-2 1 0 1-1 1 0 1-2 1-3 1 2 1-1 1-2 1-1 1-1 1 1 1 1 1 0 1 0 1-1 1 0 1 2 1 1 1 4 1 7 1 1 1-3 1-1 1 3 1 1 1 0 1 4 1-2 1 2 1 4 1 5 1 5 1 3 1 1 1 2 2 3 2 6 2 4 2 2 2 1 2 1 2 2 2 1 2-1 1-1"/><path vector-effect="non-scaling-stroke" d="M0 532l2 2 2-2 2-2 2-3 2-2 2-4 2-4 2-4 2-4 2-1 2-2 2-1 2-3 2-2 2-1 2-3 2-3 2-2 2-5 2-6 2-7 2-4 2-5 2-3 2-3 2-1 2-1 2 1 2 1 2 0 2 0 2 1 2 2 2 0 2 0 2 1 2 2 2 0 2 1 2 1 2 1 2 2 2 0 2 1 2 1 2 1 2 0 2 0 2-2 2-5 2-7 2-13 2-19 2-20 2-15 2-15 2-13 1-6 1-5 1-4 1-5 1-4 1-3 1-4 1 9 1 10 1 1 1-10 1-11 1-7 1-2 1-1 1 1 1 2 1 0 1 0 1 1 1 0 1-1 1 2 1-1 1 2 1 1 1 5 1 1 1-3 1-3 1-3 1-1 1-1 1-1 1-1 1-1 1-2 1-2 1 1 1-1 1-3 1-1 1 0 1 0 1 1 1 1 1-1 1 0 1 0 1 1 1 1 1 4 1 6 1 3 1-2 1-2 1 2 1 0 1 2 1 3 1 0 1 0 1 5 1 4 1 6 1 2 1 2 1 2 2 2 2 6 2 6 2 1 2 2 2 1 2 2 2 2 2 1 1-1"/><path vector-effect="non-scaling-stroke" d="M0 526l2 0 2 0 2-2 2-2 2-3 2-2 2-5 2-4 2-2 2-2 2-1 2-2 2-3 2 0 2-2 2-3 2-3 2-3 2-6 2-7 2-7 2-6 2-5 2-4 2-3 2-2 2-2 2 1 2 2 2-1 2-1 2 1 2 1 2 0 2 0 2 1 2 0 2 1 2 0 2 1 2 2 2 1 2 1 2 1 2 1 2 1 2 0 2 0 2-2 2-6 2-10 2-16 2-23 2-21 2-16 2-17 2-14 1-4 1-6 1-6 1-5 1-4 1-4 1-5 1 10 1 11 1 1 1-11 1-12 1-9 1-2 1-1 1 2 1 0 1 1 1 1 1 1 1 0 1-1 1 1 1 1 1 1 1 2 1 6 1 2 1-4 1-3 1-3 1-2 1-1 1-1 1 0 1-2 1 0 1-4 1 2 1-1 1-3 1-2 1-1 1 1 1 1 1 1 1 0 1-1 1 1 1 1 1 2 1 5 1 8 1 4 1-2 1-1 1 4 1 1 1 4 1 4 1 0 1 1 1 7 1 6 1 6 1 3 1 3 1 3 2 6 2 6 2 6 2 1 2 2 2 0 2 1 2 2 2 0 1 0"/><path vector-effect="non-scaling-stroke" d="M0 544l2 1 2-2 2-2 2-2 2-3 2-1 2-5 2-4 2-3 2-2 2-1 2-3 2-2 2-1 2-1 2-2 2-3 2-3 2-4 2-5 2-6 2-4 2-4 2-3 2-2 2-2 2-1 2 1 2 1 2 1 2-1 2 0 2 2 2-1 2 0 2 1 2 1 2 1 2 1 2 0 2 2 2 1 2 1 2 1 2 1 2 0 2 1 2-1 2-2 2-5 2-10 2-15 2-21 2-23 2-18 2-17 2-13 1-7 1-5 1-6 1-5 1-4 1-5 1-4 1 8 1 10 1 0 1-9 1-12 1-8 1-4 1 0 1 0 1 1 1 1 1-1 1 1 1-1 1 0 1 0 1 1 1 1 1 2 1 6 1 0 1-3 1-2 1-3 1-1 1-1 1-1 1 1 1-2 1-1 1-1 1 2 1-2 1-3 1 0 1 0 1 2 1 0 1 1 1 2 1-1 1 0 1 1 1 1 1 4 1 7 1 2 1-2 1-2 1 3 1 0 1 0 1 4 1 0 1 1 1 3 1 5 1 4 1 3 1 2 1 2 2 3 2 5 2 5 2 2 2 0 2 0 2 2 2 1 2-1 1 0"/><path vector-effect="non-scaling-stroke" d="M0 531l2 5 2 0 2-4 2-2 2-1 2-1 2-4 2-4 2-1 2-1 2 0 2-2 2-2 2-1 2-3 2-3 2-3 2-4 2-6 2-7 2-7 2-5 2-6 2-4 2-3 2-3 2-1 2 1 2 0 2 0 2 0 2 0 2 2 2 0 2 1 2 0 2 2 2 0 2 1 2 1 2 2 2 1 2 1 2 1 2 1 2 1 2 0 2 0 2-1 2-4 2-8 2-13 2-18 2-20 2-16 2-14 2-13 1-5 1-6 1-4 1-6 1-3 1-4 1-4 1 8 1 10 1 1 1-9 1-11 1-8 1-2 1-1 1 0 1 2 1 1 1-1 1 1 1 0 1 0 1 0 1 1 1 1 1 2 1 4 1 2 1-3 1-3 1-3 1-1 1-1 1-1 1-1 1-1 1-1 1-2 1 1 1 0 1-4 1 0 1 0 1 0 1 1 1 1 1 0 1 0 1 0 1 0 1 2 1 4 1 8 1 1 1-1 1-2 1 3 1 1 1 1 1 3 1 1 1 0 1 5 1 5 1 4 1 3 1 2 1 2 2 3 2 6 2 5 2 1 2 0 2 0 2 2 2 1 2 0 1 0"/><path vector-effect="non-scaling-stroke" d="M0 542l2 2 2-2 2-4 2-2 2-2 2-2 2-5 2-4 2-4 2-2 2-1 2-2 2-3 2-1 2-2 2-2 2-3 2-3 2-5 2-6 2-6 2-5 2-5 2-2 2-3 2-3 2-1 2 1 2 1 2 0 2-1 2 1 2 1 2 1 2 0 2 1 2 1 2 1 2 0 2 2 2 1 2 2 2 0 2 2 2 1 2 1 2 0 2 0 2-1 2-5 2-8 2-12 2-19 2-21 2-16 2-16 2-13 1-5 1-5 1-6 1-4 1-5 1-3 1-4 1 6 1 11 1 0 1-9 1-11 1-8 1-2 1-1 1 0 1 1 1 1 1 1 1 1 1-1 1 1 1-1 1 1 1 1 1 2 1 6 1 1 1-3 1-3 1-2 1-1 1-1 1-2 1 0 1-1 1-1 1-2 1 1 1-1 1-3 1-2 1 0 1 1 1 1 1 0 1 0 1 0 1 0 1 1 1 2 1 2 1 7 1 2 1-2 1-2 1 3 1 0 1 2 1 2 1 0 1 1 1 4 1 5 1 5 1 2 1 2 1 1 2 4 2 5 2 5 2 2 2 0 2 0 2 1 2 1 2-1 1-1"/><path vector-effect="non-scaling-stroke" d="M0 549l2 2 2-1 2-3 2-1 2 0 2-3 2-2 2-3 2-2 2-2 2 0 2-2 2-2 2-1 2-1 2-2 2-2 2-3 2-3 2-5 2-5 2-3 2-5 2-2 2-2 2-2 2 0 2 0 2 1 2 0 2-1 2 1 2 1 2 0 2 0 2 1 2 0 2 1 2 0 2 1 2 1 2 1 2 1 2 0 2 0 2 1 2 0 2 0 2-2 2-5 2-7 2-12 2-17 2-20 2-17 2-15 2-14 1-5 1-6 1-5 1-5 1-4 1-3 1-4 1 6 1 9 1 0 1-9 1-9 1-7 1-2 1-2 1 1 1 0 1 1 1 1 1-1 1 1 1 0 1 0 1 0 1 1 1 2 1 4 1 1 1-3 1-3 1-1 1-2 1-2 1-1 1 1 1-1 1-2 1-2 1 1 1 0 1-3 1-1 1-1 1 1 1 1 1 1 1 0 1 0 1 0 1 1 1 2 1 3 1 7 1 3 1-2 1 0 1 2 1 2 1 1 1 3 1 1 1 1 1 5 1 4 1 4 1 3 1 3 1 2 2 3 2 5 2 4 2 2 2 1 2 0 2 1 2 1 2 0 1 0"/><path vector-effect="non-scaling-stroke" d="M0 521l2 1 2-1 2-4 2-1 2 1 2-3 2-6 2-5 2-1 2-1 2-1 2-2 2-2 2-1 2-3 2-4 2-3 2-4 2-7 2-8 2-7 2-7 2-6 2-4 2-4 2-2 2-1 2 0 2 2 2 0 2 0 2 1 2 2 2 0 2 0 2 2 2 1 2 1 2 1 2 1 2 2 2 2 2 0 2 1 2 1 2 1 2 1 2 0 2-3 2-6 2-12 2-18 2-27 2-21 2-19 2-17 2-13 1-7 1-6 1-5 1-6 1-4 1-3 1-5 1 10 1 12 1 1 1-10 1-13 1-10 1-2 1-2 1 3 1 2 1 0 1 1 1 0 1 1 1 0 1 0 1 2 1 1 1 2 1 7 1 1 1-3 1-3 1-1 1-3 1-1 1-1 1 0 1-2 1 0 1-2 1 1 1-1 1-3 1-3 1 2 1 0 1 1 1 0 1 0 1 1 1-1 1 1 1 2 1 4 1 7 1 1 1-3 1-2 1 3 1-1 1 2 1 3 1-2 1 2 1 4 1 5 1 5 1 3 1 2 1 2 2 3 2 6 2 6 2 2 2 1 2 1 2 1 2 3 2-1 1 0"/><path vector-effect="non-scaling-stroke" d="M0 546l2 0 2 1 2-1 2-1 2-2 2-3 2-2 2-2 2-1 2-1 2-1 2-1 2-3 2-1 2-2 2-2 2-3 2-4 2-5 2-7 2-7 2-5 2-5 2-3 2-3 2-2 2-2 2 1 2 0 2 1 2-1 2 0 2 1 2 0 2 0 2 1 2 0 2 1 2 0 2 0 2 1 2 1 2 1 2 0 2 0 2 0 2 0 2-1 2-1 2-4 2-8 2-11 2-16 2-19 2-15 2-14 2-13 1-5 1-6 1-6 1-4 1-3 1-5 1-3 1 7 1 9 1 0 1-9 1-11 1-7 1-1 1-2 1 1 1 1 1 0 1 0 1 1 1-1 1 1 1 0 1 1 1 0 1 2 1 5 1 1 1-3 1-2 1-2 1-2 1-1 1-1 1 0 1-2 1 0 1-2 1 1 1 0 1-5 1-1 1 2 1 1 1-1 1 2 1-2 1 2 1 0 1-1 1 3 1 4 1 7 1 4 1-1 1-1 1 4 1 1 1 2 1 4 1 1 1 1 1 4 1 6 1 5 1 3 1 3 1 2 2 5 2 6 2 5 2 1 2 1 2 1 2 1 2 1 2 1 1-1"/><path vector-effect="non-scaling-stroke" d="M0 553l2 2 2-1 2-2 2-2 2-2 2-1 2-3 2-3 2-2 2-1 2-1 2-2 2-1 2-1 2-2 2-2 2-2 2-2 2-4 2-5 2-4 2-4 2-3 2-3 2-2 2-1 2-1 2 0 2 1 2 0 2 0 2 0 2 1 2 0 2 0 2 1 2 1 2 0 2 1 2 1 2 0 2 1 2 1 2 1 2 0 2 0 2 0 2 0 2-2 2-4 2-8 2-11 2-17 2-20 2-16 2-15 2-14 1-6 1-5 1-6 1-4 1-5 1-3 1-4 1 6 1 9 1 0 1-8 1-10 1-7 1-2 1-1 1 0 1 1 1 0 1 0 1 1 1 0 1-1 1 1 1 0 1 2 1 2 1 4 1 1 1-3 1-2 1-1 1-2 1 0 1-1 1 0 1 0 1-2 1-1 1 1 1-1 1-2 1 0 1 0 1 0 1 1 1 0 1 1 1 0 1-1 1 1 1 1 1 2 1 6 1 2 1-3 1-1 1 2 1 1 1 0 1 2 1-1 1 0 1 4 1 4 1 4 1 2 1 1 1 1 2 3 2 5 2 4 2 2 2 0 2 0 2 2 2 0 2 1 1-1"/><path vector-effect="non-scaling-stroke" d="M0 520l2 0 2-3 2-2 2-6 2-4 2-3 2-5 2-4 2-6 2-2 2-1 2-4 2-2 2-2 2-2 2-2 2-2 2-3 2-4 2-7 2-7 2-5 2-4 2-4 2-3 2-2 2-1 2 1 2 1 2 0 2 0 2 1 2 2 2-1 2 0 2 2 2 1 2 0 2 2 2 1 2 2 2 2 2 1 2 1 2 1 2 1 2 1 2 0 2-1 2-7 2-11 2-17 2-26 2-21 2-17 2-17 2-12 1-6 1-6 1-6 1-4 1-4 1-4 1-4 1 10 1 12 1 0 1-10 1-14 1-9 1-1 1-2 1 1 1 1 1 1 1 1 1 0 1 1 1 0 1 1 1 1 1 0 1 2 1 7 1 2 1-4 1-3 1-3 1-2 1-1 1 0 1-1 1-1 1-2 1-2 1 1 1 0 1-3 1-1 1-1 1 0 1 1 1 1 1 0 1 1 1-1 1 1 1 1 1 5 1 8 1 2 1-3 1 0 1 3 1 0 1 2 1 3 1 0 1 0 1 6 1 6 1 5 1 4 1 2 1 2 2 4 2 5 2 6 2 2 2 1 2 0 2 1 2 1 2-1 1 0"/><path vector-effect="non-scaling-stroke" d="M0 523l2 1 2 0 2-2 2-3 2-3 2-2 2-5 2-3 2-3 2-2 2 0 2-2 2-3 2-1 2-2 2-3 2-3 2-3 2-5 2-7 2-8 2-5 2-5 2-4 2-3 2-2 2-1 2 1 2 1 2 0 2-1 2 1 2 2 2-1 2 0 2 1 2 1 2 0 2 1 2 0 2 2 2 1 2 0 2 1 2 1 2 1 2 0 2 0 2-2 2-5 2-8 2-15 2-21 2-20 2-17 2-15 2-12 1-6 1-6 1-4 1-5 1-5 1-4 1-4 1 9 1 10 1 1 1-10 1-13 1-9 1-2 1-1 1 0 1 2 1 1 1 0 1 0 1 0 1 0 1 1 1 1 1 1 1 2 1 6 1 1 1-3 1-3 1-3 1-2 1-1 1 0 1-1 1-1 1-1 1-3 1 2 1 0 1-4 1 0 1-2 1 2 1 0 1 1 1 0 1 0 1 1 1 0 1 3 1 5 1 8 1 4 1-1 1 0 1 4 1 2 1 2 1 4 1 2 1 2 1 6 1 6 1 5 1 4 1 4 1 2 2 5 2 8 2 5 2 2 2 1 2 0 2 0 2 3 2-2 1 1"/></g></g><rect x="44.4" y="4.8" width="501.2" height="298.7" fill="none" stroke="#333" stroke-width="1"/><line x1="41.2" x2="44.4" y1="299.40" y2="299.40" stroke="#333" stroke-width="0.9"/><text x="37.8" y="299.40" text-anchor="end" dominant-baseline="central" font-family="Liberation Sans, sans-serif" font-size="10.2" fill="#222">0</text><line x1="41.2" x2="44.4" y1="234.95" y2="234.95" stroke="#333" stroke-width="0.9"/><text x="37.8" y="234.95" text-anchor="end" dominant-baseline="central" font-family="Liberation Sans, sans-serif" font-size="10.2" fill="#222">500</text><line x1="41.2" x2="44.4" y1="170.50" y2="170.50" stroke="#333" stroke-width="0.9"/><text x="37.8" y="170.50" text-anchor="end" dominant-baseline="central" font-family="Liberation Sans, sans-serif" font-size="10.2" fill="#222">1000</text><line x1="41.2" x2="44.4" y1="106.05" y2="106.05" stroke="#333" stroke-width="0.9"/><text x="37.8" y="106.05" text-anchor="end" dominant-baseline="central" font-family="Liberation Sans, sans-serif" font-size="10.2" fill="#222">1500</text><line x1="41.2" x2="44.4" y1="41.60" y2="41.60" stroke="#333" stroke-width="0.9"/><text x="37.8" y="41.60" text-anchor="end" dominant-baseline="central" font-family="Liberation Sans, sans-serif" font-size="10.2" fill="#222">2000</text><line x1="66.90" x2="66.90" y1="303.5" y2="306.8" stroke="#333" stroke-width="0.9"/><text x="66.20" y="319.20" text-anchor="middle" dominant-baseline="central" transform="rotate(-45 66.20 319.20)" font-family="Liberation Sans, sans-serif" font-size="10.2" fill="#222">398</text><line x1="112.25" x2="112.25" y1="303.5" y2="306.8" stroke="#333" stroke-width="0.9"/><text x="111.55" y="319.20" text-anchor="middle" dominant-baseline="central" transform="rotate(-45 111.55 319.20)" font-family="Liberation Sans, sans-serif" font-size="10.2" fill="#222">455</text><line x1="157.60" x2="157.60" y1="303.5" y2="306.8" stroke="#333" stroke-width="0.9"/><text x="156.90" y="319.20" text-anchor="middle" dominant-baseline="central" transform="rotate(-45 156.90 319.20)" font-family="Liberation Sans, sans-serif" font-size="10.2" fill="#222">514</text><line x1="202.95" x2="202.95" y1="303.5" y2="306.8" stroke="#333" stroke-width="0.9"/><text x="202.25" y="319.20" text-anchor="middle" dominant-baseline="central" transform="rotate(-45 202.25 319.20)" font-family="Liberation Sans, sans-serif" font-size="10.2" fill="#222">572</text><line x1="248.30" x2="248.30" y1="303.5" y2="306.8" stroke="#333" stroke-width="0.9"/><text x="247.60" y="319.20" text-anchor="middle" dominant-baseline="central" transform="rotate(-45 247.60 319.20)" font-family="Liberation Sans, sans-serif" font-size="10.2" fill="#222">631</text><line x1="293.65" x2="293.65" y1="303.5" y2="306.8" stroke="#333" stroke-width="0.9"/><text x="292.95" y="319.20" text-anchor="middle" dominant-baseline="central" transform="rotate(-45 292.95 319.20)" font-family="Liberation Sans, sans-serif" font-size="10.2" fill="#222">691</text><line x1="339.00" x2="339.00" y1="303.5" y2="306.8" stroke="#333" stroke-width="0.9"/><text x="338.30" y="319.20" text-anchor="middle" dominant-baseline="central" transform="rotate(-45 338.30 319.20)" font-family="Liberation Sans, sans-serif" font-size="10.2" fill="#222">751</text><line x1="384.35" x2="384.35" y1="303.5" y2="306.8" stroke="#333" stroke-width="0.9"/><text x="383.65" y="319.20" text-anchor="middle" dominant-baseline="central" transform="rotate(-45 383.65 319.20)" font-family="Liberation Sans, sans-serif" font-size="10.2" fill="#222">811</text><line x1="429.70" x2="429.70" y1="303.5" y2="306.8" stroke="#333" stroke-width="0.9"/><text x="429.00" y="319.20" text-anchor="middle" dominant-baseline="central" transform="rotate(-45 429.00 319.20)" font-family="Liberation Sans, sans-serif" font-size="10.2" fill="#222">872</text><line x1="475.05" x2="475.05" y1="303.5" y2="306.8" stroke="#333" stroke-width="0.9"/><text x="474.35" y="319.20" text-anchor="middle" dominant-baseline="central" transform="rotate(-45 474.35 319.20)" font-family="Liberation Sans, sans-serif" font-size="10.2" fill="#222">934</text><line x1="520.40" x2="520.40" y1="303.5" y2="306.8" stroke="#333" stroke-width="0.9"/><text x="519.70" y="319.20" text-anchor="middle" dominant-baseline="central" transform="rotate(-45 519.70 319.20)" font-family="Liberation Sans, sans-serif" font-size="10.2" fill="#222">995</text><text x="294.2" y="339.6" text-anchor="middle" font-family="Liberation Sans, sans-serif" font-size="10.2" fill="#222">Wavelength(nm)</text><text x="0" y="0" text-anchor="middle" transform="translate(9.6 155.2) rotate(-90)" font-family="Liberation Sans, sans-serif" font-size="10.2" fill="#222">Intensity</text><rect x="48.4" y="9.4" width="148.9" height="29.9" rx="2" fill="#fff" fill-opacity="0.8" stroke="#d0d0d0" stroke-width="0.8"/><line x1="51.1" x2="70.5" y1="16.9" y2="16.9" stroke="#0000ff" stroke-opacity="0.5" stroke-width="1.5"/><line x1="51.1" x2="70.5" y1="30.3" y2="30.3" stroke="#ff0000" stroke-opacity="0.5" stroke-width="1.5"/><text x="77.5" y="16.6" dominant-baseline="central" font-family="Liberation Sans, sans-serif" font-size="10.2" fill="#222">Healthy wheat ears</text><text x="77.5" y="29.6" dominant-baseline="central" font-family="Liberation Sans, sans-serif" font-size="10.2" fill="#222">Contaminated wheat ears</text></svg></body></html>
